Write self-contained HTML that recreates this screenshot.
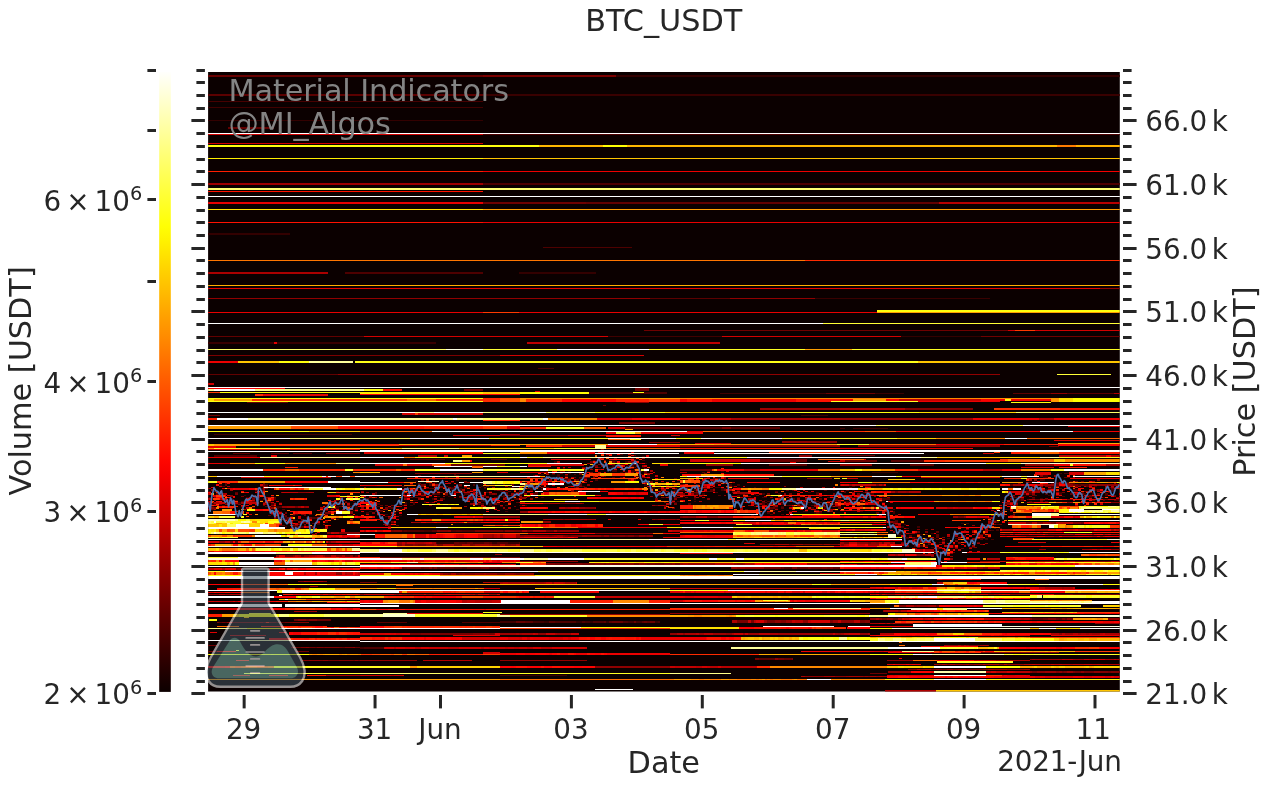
<!DOCTYPE html>
<html lang="en"><head><meta charset="utf-8"><title>BTC_USDT</title>
<style>html,body{margin:0;padding:0;background:#fff}svg{display:block}text{font-family:"DejaVu Sans","Liberation Sans",sans-serif;fill:#262626}svg{will-change:transform}</style></head><body>
<svg width="1270" height="788" viewBox="0 0 1270 788">
<rect width="1270" height="788" fill="#fff"/>
<defs><linearGradient id="cb" gradientUnits="userSpaceOnUse" x1="0" y1="70.3" x2="0" y2="693.4"><stop offset="0.0000" stop-color="#ffffff"/><stop offset="0.0250" stop-color="#ffffe6"/><stop offset="0.0500" stop-color="#ffffcd"/><stop offset="0.0750" stop-color="#ffffb4"/><stop offset="0.1000" stop-color="#ffff9b"/><stop offset="0.1250" stop-color="#ffff81"/><stop offset="0.1500" stop-color="#ffff68"/><stop offset="0.1750" stop-color="#ffff4f"/><stop offset="0.2000" stop-color="#ffff36"/><stop offset="0.2250" stop-color="#ffff1d"/><stop offset="0.2500" stop-color="#ffff04"/><stop offset="0.2750" stop-color="#fff100"/><stop offset="0.3000" stop-color="#ffe000"/><stop offset="0.3250" stop-color="#ffcf00"/><stop offset="0.3500" stop-color="#ffbf00"/><stop offset="0.3750" stop-color="#ffae00"/><stop offset="0.4000" stop-color="#ff9d00"/><stop offset="0.4250" stop-color="#ff8d00"/><stop offset="0.4500" stop-color="#ff7c00"/><stop offset="0.4750" stop-color="#ff6b00"/><stop offset="0.5000" stop-color="#ff5a00"/><stop offset="0.5250" stop-color="#ff4a00"/><stop offset="0.5500" stop-color="#ff3900"/><stop offset="0.5750" stop-color="#ff2800"/><stop offset="0.6000" stop-color="#ff1700"/><stop offset="0.6250" stop-color="#ff0700"/><stop offset="0.6500" stop-color="#f50000"/><stop offset="0.6750" stop-color="#e40000"/><stop offset="0.7000" stop-color="#d30000"/><stop offset="0.7250" stop-color="#c30000"/><stop offset="0.7500" stop-color="#b20000"/><stop offset="0.7750" stop-color="#a10000"/><stop offset="0.8000" stop-color="#900000"/><stop offset="0.8250" stop-color="#800000"/><stop offset="0.8500" stop-color="#6f0000"/><stop offset="0.8750" stop-color="#5e0000"/><stop offset="0.9000" stop-color="#4e0000"/><stop offset="0.9250" stop-color="#3d0000"/><stop offset="0.9500" stop-color="#2c0000"/><stop offset="0.9750" stop-color="#1b0000"/><stop offset="1.0000" stop-color="#0b0000"/></linearGradient>
<clipPath id="hm"><rect x="208.1" y="71.9" width="911.7" height="619.7"/></clipPath></defs>
<rect x="159.2" y="72.0" width="11.6" height="619.9" fill="url(#cb)"/>
<line x1="147.4" x2="156" y1="693.50" y2="693.50" stroke="#262626" stroke-width="3"/>
<line x1="147.4" x2="156" y1="511.50" y2="511.50" stroke="#262626" stroke-width="3"/>
<line x1="147.4" x2="156" y1="381.50" y2="381.50" stroke="#262626" stroke-width="3"/>
<line x1="147.4" x2="156" y1="281.50" y2="281.50" stroke="#262626" stroke-width="3"/>
<line x1="147.4" x2="156" y1="199.50" y2="199.50" stroke="#262626" stroke-width="3"/>
<line x1="147.4" x2="156" y1="130.50" y2="130.50" stroke="#262626" stroke-width="3"/>
<line x1="147.4" x2="156" y1="70.50" y2="70.50" stroke="#262626" stroke-width="3"/>
<text x="43.6" y="704.4" font-size="27.8">2<tspan dx="5.0">×</tspan><tspan dx="5.0">10</tspan><tspan font-size="19.3" dy="-10.4">6</tspan></text>
<text x="43.6" y="522.2" font-size="27.8">3<tspan dx="5.0">×</tspan><tspan dx="5.0">10</tspan><tspan font-size="19.3" dy="-10.4">6</tspan></text>
<text x="43.6" y="392.8" font-size="27.8">4<tspan dx="5.0">×</tspan><tspan dx="5.0">10</tspan><tspan font-size="19.3" dy="-10.4">6</tspan></text>
<text x="43.6" y="210.6" font-size="27.8">6<tspan dx="5.0">×</tspan><tspan dx="5.0">10</tspan><tspan font-size="19.3" dy="-10.4">6</tspan></text>
<text transform="translate(31.4,380.9) rotate(-90)" text-anchor="middle" font-size="30.3">Volume [USDT]</text>
<g clip-path="url(#hm)" shape-rendering="crispEdges">
<rect x="208.1" y="71.9" width="911.7" height="619.7" fill="#0b0000"/>
<path fill="#400000" d="M208.1 497.09h2.8v1.3H208.1zM210.8 494.55h2.8v1.3H210.8zM210.8 503.46h2.8v1.3H210.8zM210.8 506.00h2.8v1.3H210.8zM216.3 495.82h2.8v1.3H216.3zM219.0 484.36h2.8v1.3H219.0zM221.7 508.55h2.8v1.3H221.7zM227.2 504.73h2.8v1.3H227.2zM229.9 500.91h2.8v1.3H229.9zM229.9 502.19h2.8v1.3H229.9zM235.4 499.64h2.8v1.3H235.4zM235.4 503.46h2.8v1.3H235.4zM240.8 507.28h2.8v1.3H240.8zM243.6 494.55h2.8v1.3H243.6zM243.6 500.91h2.8v1.3H243.6zM243.6 506.00h2.8v1.3H243.6zM246.3 497.09h2.8v1.3H246.3zM251.7 507.28h2.8v1.3H251.7zM254.5 490.73h2.8v1.3H254.5zM254.5 504.73h2.8v1.3H254.5zM257.2 498.37h2.8v1.3H257.2zM259.9 492.00h2.8v1.3H259.9zM262.6 481.82h2.8v1.3H262.6zM270.8 488.18h2.8v1.3H270.8zM270.8 495.82h2.8v1.3H270.8zM270.8 506.00h2.8v1.3H270.8zM273.6 509.82h2.8v1.3H273.6zM273.6 522.55h2.8v1.3H273.6zM276.3 507.28h2.8v1.3H276.3zM276.3 516.19h2.8v1.3H276.3zM276.3 517.46h2.8v1.3H276.3zM279.0 502.19h2.8v1.3H279.0zM279.0 511.10h2.8v1.3H279.0zM279.0 513.64h2.8v1.3H279.0zM281.7 516.19h2.8v1.3H281.7zM284.5 517.46h2.8v1.3H284.5zM284.5 526.37h2.8v1.3H284.5zM287.2 520.01h2.8v1.3H287.2zM292.6 514.91h2.8v1.3H292.6zM292.6 528.92h2.8v1.3H292.6zM298.1 522.55h2.8v1.3H298.1zM309.0 526.37h2.8v1.3H309.0zM309.0 527.64h2.8v1.3H309.0zM314.5 517.46h2.8v1.3H314.5zM314.5 521.28h2.8v1.3H314.5zM314.5 535.28h2.8v1.3H314.5zM317.2 523.83h2.8v1.3H317.2zM319.9 516.19h2.8v1.3H319.9zM328.1 506.00h2.8v1.3H328.1zM328.1 508.55h2.8v1.3H328.1zM330.8 502.19h2.8v1.3H330.8zM330.8 503.46h2.8v1.3H330.8zM330.8 507.28h2.8v1.3H330.8zM336.3 490.73h2.8v1.3H336.3zM336.3 506.00h2.8v1.3H336.3zM336.3 507.28h2.8v1.3H336.3zM339.0 512.37h2.8v1.3H339.0zM347.2 502.19h2.8v1.3H347.2zM347.2 511.10h2.8v1.3H347.2zM349.9 516.19h2.8v1.3H349.9zM349.9 520.01h2.8v1.3H349.9zM355.4 504.73h2.8v1.3H355.4zM355.4 506.00h2.8v1.3H355.4zM355.4 507.28h2.8v1.3H355.4zM355.4 511.10h2.8v1.3H355.4zM355.4 514.91h2.8v1.3H355.4zM358.1 504.73h2.8v1.3H358.1zM363.5 497.09h2.8v1.3H363.5zM363.5 500.91h2.8v1.3H363.5zM363.5 516.19h2.8v1.3H363.5zM366.3 504.73h2.8v1.3H366.3zM366.3 512.37h2.8v1.3H366.3zM369.0 511.10h2.8v1.3H369.0zM374.5 508.55h2.8v1.3H374.5zM374.5 509.82h2.8v1.3H374.5zM377.2 503.46h2.8v1.3H377.2zM377.2 514.91h2.8v1.3H377.2zM385.4 513.64h2.8v1.3H385.4zM385.4 518.73h2.8v1.3H385.4zM388.1 507.28h2.8v1.3H388.1zM388.1 525.10h2.8v1.3H388.1zM390.8 513.64h2.8v1.3H390.8zM390.8 522.55h2.8v1.3H390.8zM393.5 508.55h2.8v1.3H393.5zM393.5 522.55h2.8v1.3H393.5zM396.3 511.10h2.8v1.3H396.3zM399.0 502.19h2.8v1.3H399.0zM399.0 503.46h2.8v1.3H399.0zM399.0 514.91h2.8v1.3H399.0zM401.7 485.64h2.8v1.3H401.7zM404.4 502.19h2.8v1.3H404.4zM404.4 503.46h2.8v1.3H404.4zM409.9 504.73h2.8v1.3H409.9zM415.4 480.54h2.8v1.3H415.4zM415.4 493.27h2.8v1.3H415.4zM415.4 499.64h2.8v1.3H415.4zM418.1 484.36h2.8v1.3H418.1zM420.8 492.00h2.8v1.3H420.8zM420.8 493.27h2.8v1.3H420.8zM420.8 495.82h2.8v1.3H420.8zM423.5 500.91h2.8v1.3H423.5zM429.0 483.09h2.8v1.3H429.0zM429.0 490.73h2.8v1.3H429.0zM431.7 485.64h2.8v1.3H431.7zM431.7 498.37h2.8v1.3H431.7zM434.4 481.82h2.8v1.3H434.4zM442.6 498.37h2.8v1.3H442.6zM445.4 478.00h2.8v1.3H445.4zM445.4 494.55h2.8v1.3H445.4zM448.1 495.82h2.8v1.3H448.1zM450.8 486.91h2.8v1.3H450.8zM450.8 489.45h2.8v1.3H450.8zM453.5 475.45h2.8v1.3H453.5zM456.3 484.36h2.8v1.3H456.3zM456.3 485.64h2.8v1.3H456.3zM459.0 485.64h2.8v1.3H459.0zM459.0 488.18h2.8v1.3H459.0zM464.4 488.18h2.8v1.3H464.4zM472.6 502.19h2.8v1.3H472.6zM475.4 493.27h2.8v1.3H475.4zM475.4 508.55h2.8v1.3H475.4zM478.1 492.00h2.8v1.3H478.1zM478.1 500.91h2.8v1.3H478.1zM478.1 506.00h2.8v1.3H478.1zM480.8 483.09h2.8v1.3H480.8zM480.8 485.64h2.8v1.3H480.8zM480.8 499.64h2.8v1.3H480.8zM480.8 500.91h2.8v1.3H480.8zM483.5 488.18h2.8v1.3H483.5zM483.5 495.82h2.8v1.3H483.5zM486.3 500.91h2.8v1.3H486.3zM489.0 490.73h2.8v1.3H489.0zM489.0 497.09h2.8v1.3H489.0zM489.0 503.46h2.8v1.3H489.0zM489.0 504.73h2.8v1.3H489.0zM494.4 500.91h2.8v1.3H494.4zM494.4 502.19h2.8v1.3H494.4zM494.4 507.28h2.8v1.3H494.4zM497.2 495.82h2.8v1.3H497.2zM497.2 503.46h2.8v1.3H497.2zM499.9 489.45h2.8v1.3H499.9zM499.9 490.73h2.8v1.3H499.9zM505.4 504.73h2.8v1.3H505.4zM505.4 511.10h2.8v1.3H505.4zM508.1 486.91h2.8v1.3H508.1zM508.1 497.09h2.8v1.3H508.1zM510.8 486.91h2.8v1.3H510.8zM513.5 492.00h2.8v1.3H513.5zM513.5 495.82h2.8v1.3H513.5zM513.5 498.37h2.8v1.3H513.5zM519.0 483.09h2.8v1.3H519.0zM519.0 494.55h2.8v1.3H519.0zM519.0 497.09h2.8v1.3H519.0zM519.0 504.73h2.8v1.3H519.0zM521.7 484.36h2.8v1.3H521.7zM521.7 489.45h2.8v1.3H521.7zM521.7 492.00h2.8v1.3H521.7zM524.4 490.73h2.8v1.3H524.4zM524.4 495.82h2.8v1.3H524.4zM524.4 504.73h2.8v1.3H524.4zM529.9 488.18h2.8v1.3H529.9zM532.6 485.64h2.8v1.3H532.6zM538.1 471.63h2.8v1.3H538.1zM538.1 475.45h2.8v1.3H538.1zM540.8 474.18h2.8v1.3H540.8zM540.8 476.72h2.8v1.3H540.8zM543.5 476.72h2.8v1.3H543.5zM543.5 489.45h2.8v1.3H543.5zM546.3 470.36h2.8v1.3H546.3zM546.3 481.82h2.8v1.3H546.3zM549.0 469.09h2.8v1.3H549.0zM551.7 474.18h2.8v1.3H551.7zM554.4 461.45h2.8v1.3H554.4zM557.2 474.18h2.8v1.3H557.2zM557.2 475.45h2.8v1.3H557.2zM557.2 480.54h2.8v1.3H557.2zM559.9 483.09h2.8v1.3H559.9zM565.3 469.09h2.8v1.3H565.3zM568.1 470.36h2.8v1.3H568.1zM570.8 481.82h2.8v1.3H570.8zM570.8 483.09h2.8v1.3H570.8zM573.5 490.73h2.8v1.3H573.5zM576.3 485.64h2.8v1.3H576.3zM579.0 478.00h2.8v1.3H579.0zM579.0 490.73h2.8v1.3H579.0zM589.9 462.72h2.8v1.3H589.9zM589.9 466.54h2.8v1.3H589.9zM592.6 460.18h2.8v1.3H592.6zM592.6 464.00h2.8v1.3H592.6zM592.6 465.27h2.8v1.3H592.6zM609.0 466.54h2.8v1.3H609.0zM611.7 460.18h2.8v1.3H611.7zM611.7 465.27h2.8v1.3H611.7zM611.7 466.54h2.8v1.3H611.7zM611.7 470.36h2.8v1.3H611.7zM614.4 460.18h2.8v1.3H614.4zM614.4 461.45h2.8v1.3H614.4zM614.4 470.36h2.8v1.3H614.4zM619.9 471.63h2.8v1.3H619.9zM625.3 461.45h2.8v1.3H625.3zM625.3 478.00h2.8v1.3H625.3zM628.1 462.72h2.8v1.3H628.1zM630.8 458.90h2.8v1.3H630.8zM630.8 462.72h2.8v1.3H630.8zM630.8 470.36h2.8v1.3H630.8zM633.5 461.45h2.8v1.3H633.5zM633.5 470.36h2.8v1.3H633.5zM636.3 475.45h2.8v1.3H636.3zM641.7 456.36h2.8v1.3H641.7zM641.7 460.18h2.8v1.3H641.7zM641.7 466.54h2.8v1.3H641.7zM641.7 474.18h2.8v1.3H641.7zM644.4 462.72h2.8v1.3H644.4zM644.4 484.36h2.8v1.3H644.4zM647.2 475.45h2.8v1.3H647.2zM647.2 478.00h2.8v1.3H647.2zM647.2 488.18h2.8v1.3H647.2zM649.9 485.64h2.8v1.3H649.9zM649.9 486.91h2.8v1.3H649.9zM652.6 485.64h2.8v1.3H652.6zM652.6 486.91h2.8v1.3H652.6zM652.6 488.18h2.8v1.3H652.6zM655.3 494.55h2.8v1.3H655.3zM658.1 478.00h2.8v1.3H658.1zM658.1 485.64h2.8v1.3H658.1zM663.5 494.55h2.8v1.3H663.5zM669.0 493.27h2.8v1.3H669.0zM669.0 494.55h2.8v1.3H669.0zM669.0 495.82h2.8v1.3H669.0zM669.0 511.10h2.8v1.3H669.0zM674.4 489.45h2.8v1.3H674.4zM674.4 490.73h2.8v1.3H674.4zM674.4 502.19h2.8v1.3H674.4zM677.2 489.45h2.8v1.3H677.2zM677.2 500.91h2.8v1.3H677.2zM679.9 479.27h2.8v1.3H679.9zM685.3 479.27h2.8v1.3H685.3zM685.3 485.64h2.8v1.3H685.3zM688.1 488.18h2.8v1.3H688.1zM693.5 478.00h2.8v1.3H693.5zM693.5 489.45h2.8v1.3H693.5zM693.5 493.27h2.8v1.3H693.5zM693.5 498.37h2.8v1.3H693.5zM693.5 500.91h2.8v1.3H693.5zM696.2 474.18h2.8v1.3H696.2zM696.2 488.18h2.8v1.3H696.2zM699.0 481.82h2.8v1.3H699.0zM701.7 485.64h2.8v1.3H701.7zM701.7 488.18h2.8v1.3H701.7zM701.7 493.27h2.8v1.3H701.7zM704.4 481.82h2.8v1.3H704.4zM707.2 481.82h2.8v1.3H707.2zM709.9 485.64h2.8v1.3H709.9zM712.6 488.18h2.8v1.3H712.6zM715.3 474.18h2.8v1.3H715.3zM715.3 481.82h2.8v1.3H715.3zM715.3 483.09h2.8v1.3H715.3zM715.3 486.91h2.8v1.3H715.3zM718.1 469.09h2.8v1.3H718.1zM718.1 486.91h2.8v1.3H718.1zM720.8 470.36h2.8v1.3H720.8zM720.8 481.82h2.8v1.3H720.8zM720.8 488.18h2.8v1.3H720.8zM720.8 489.45h2.8v1.3H720.8zM723.5 479.27h2.8v1.3H723.5zM723.5 488.18h2.8v1.3H723.5zM729.0 484.36h2.8v1.3H729.0zM729.0 488.18h2.8v1.3H729.0zM731.7 485.64h2.8v1.3H731.7zM731.7 490.73h2.8v1.3H731.7zM734.4 492.00h2.8v1.3H734.4zM737.2 484.36h2.8v1.3H737.2zM737.2 486.91h2.8v1.3H737.2zM737.2 511.10h2.8v1.3H737.2zM739.9 493.27h2.8v1.3H739.9zM745.3 493.27h2.8v1.3H745.3zM745.3 499.64h2.8v1.3H745.3zM753.5 486.91h2.8v1.3H753.5zM756.2 504.73h2.8v1.3H756.2zM761.7 493.27h2.8v1.3H761.7zM761.7 497.09h2.8v1.3H761.7zM764.4 497.09h2.8v1.3H764.4zM764.4 499.64h2.8v1.3H764.4zM767.2 503.46h2.8v1.3H767.2zM767.2 504.73h2.8v1.3H767.2zM767.2 512.37h2.8v1.3H767.2zM769.9 508.55h2.8v1.3H769.9zM775.3 500.91h2.8v1.3H775.3zM775.3 507.28h2.8v1.3H775.3zM778.1 493.27h2.8v1.3H778.1zM778.1 497.09h2.8v1.3H778.1zM780.8 503.46h2.8v1.3H780.8zM780.8 506.00h2.8v1.3H780.8zM786.2 509.82h2.8v1.3H786.2zM794.4 500.91h2.8v1.3H794.4zM802.6 511.10h2.8v1.3H802.6zM805.3 503.46h2.8v1.3H805.3zM808.1 492.00h2.8v1.3H808.1zM810.8 507.28h2.8v1.3H810.8zM813.5 512.37h2.8v1.3H813.5zM816.2 492.00h2.8v1.3H816.2zM821.7 499.64h2.8v1.3H821.7zM824.4 508.55h2.8v1.3H824.4zM827.1 504.73h2.8v1.3H827.1zM829.9 495.82h2.8v1.3H829.9zM829.9 504.73h2.8v1.3H829.9zM832.6 489.45h2.8v1.3H832.6zM832.6 499.64h2.8v1.3H832.6zM835.3 500.91h2.8v1.3H835.3zM835.3 509.82h2.8v1.3H835.3zM838.1 490.73h2.8v1.3H838.1zM838.1 498.37h2.8v1.3H838.1zM840.8 489.45h2.8v1.3H840.8zM840.8 500.91h2.8v1.3H840.8zM840.8 503.46h2.8v1.3H840.8zM846.2 500.91h2.8v1.3H846.2zM851.7 485.64h2.8v1.3H851.7zM851.7 497.09h2.8v1.3H851.7zM854.4 494.55h2.8v1.3H854.4zM854.4 497.09h2.8v1.3H854.4zM857.1 500.91h2.8v1.3H857.1zM859.9 504.73h2.8v1.3H859.9zM859.9 511.10h2.8v1.3H859.9zM865.3 498.37h2.8v1.3H865.3zM868.1 493.27h2.8v1.3H868.1zM868.1 507.28h2.8v1.3H868.1zM870.8 506.00h2.8v1.3H870.8zM876.2 499.64h2.8v1.3H876.2zM881.7 502.19h2.8v1.3H881.7zM887.1 511.10h2.8v1.3H887.1zM887.1 513.64h2.8v1.3H887.1zM889.9 509.82h2.8v1.3H889.9zM892.6 512.37h2.8v1.3H892.6zM892.6 516.19h2.8v1.3H892.6zM895.3 525.10h2.8v1.3H895.3zM898.1 531.46h2.8v1.3H898.1zM898.1 534.01h2.8v1.3H898.1zM900.8 522.55h2.8v1.3H900.8zM900.8 526.37h2.8v1.3H900.8zM900.8 530.19h2.8v1.3H900.8zM903.5 523.83h2.8v1.3H903.5zM903.5 536.56h2.8v1.3H903.5zM903.5 537.83h2.8v1.3H903.5zM906.2 537.83h2.8v1.3H906.2zM911.7 544.19h2.8v1.3H911.7zM914.4 532.74h2.8v1.3H914.4zM914.4 536.56h2.8v1.3H914.4zM914.4 537.83h2.8v1.3H914.4zM917.1 526.37h2.8v1.3H917.1zM917.1 536.56h2.8v1.3H917.1zM917.1 541.65h2.8v1.3H917.1zM917.1 551.83h2.8v1.3H917.1zM919.9 534.01h2.8v1.3H919.9zM919.9 541.65h2.8v1.3H919.9zM928.1 542.92h2.8v1.3H928.1zM930.8 532.74h2.8v1.3H930.8zM930.8 546.74h2.8v1.3H930.8zM930.8 554.38h2.8v1.3H930.8zM933.5 537.83h2.8v1.3H933.5zM933.5 546.74h2.8v1.3H933.5zM936.2 549.29h2.8v1.3H936.2zM939.0 541.65h2.8v1.3H939.0zM941.7 544.19h2.8v1.3H941.7zM941.7 549.29h2.8v1.3H941.7zM947.1 537.83h2.8v1.3H947.1zM949.9 549.29h2.8v1.3H949.9zM952.6 546.74h2.8v1.3H952.6zM955.3 531.46h2.8v1.3H955.3zM960.8 522.55h2.8v1.3H960.8zM963.5 539.10h2.8v1.3H963.5zM966.2 522.55h2.8v1.3H966.2zM971.7 541.65h2.8v1.3H971.7zM974.4 534.01h2.8v1.3H974.4zM982.6 530.19h2.8v1.3H982.6zM985.3 517.46h2.8v1.3H985.3zM985.3 535.28h2.8v1.3H985.3zM985.3 539.10h2.8v1.3H985.3zM988.0 536.56h2.8v1.3H988.0zM990.8 530.19h2.8v1.3H990.8zM990.8 539.10h2.8v1.3H990.8zM993.5 526.37h2.8v1.3H993.5zM993.5 527.64h2.8v1.3H993.5zM996.2 512.37h2.8v1.3H996.2zM996.2 528.92h2.8v1.3H996.2zM996.2 530.19h2.8v1.3H996.2zM999.0 512.37h2.8v1.3H999.0zM999.0 516.19h2.8v1.3H999.0zM999.0 527.64h2.8v1.3H999.0zM1001.7 499.64h2.8v1.3H1001.7zM1004.4 497.09h2.8v1.3H1004.4zM1007.1 490.73h2.8v1.3H1007.1zM1007.1 508.55h2.8v1.3H1007.1zM1012.6 486.91h2.8v1.3H1012.6zM1012.6 502.19h2.8v1.3H1012.6zM1012.6 512.37h2.8v1.3H1012.6zM1018.0 499.64h2.8v1.3H1018.0zM1018.0 506.00h2.8v1.3H1018.0zM1023.5 484.36h2.8v1.3H1023.5zM1023.5 493.27h2.8v1.3H1023.5zM1023.5 495.82h2.8v1.3H1023.5zM1026.2 486.91h2.8v1.3H1026.2zM1026.2 489.45h2.8v1.3H1026.2zM1026.2 494.55h2.8v1.3H1026.2zM1029.0 493.27h2.8v1.3H1029.0zM1029.0 500.91h2.8v1.3H1029.0zM1031.7 480.54h2.8v1.3H1031.7zM1031.7 498.37h2.8v1.3H1031.7zM1039.9 474.18h2.8v1.3H1039.9zM1039.9 498.37h2.8v1.3H1039.9zM1042.6 475.45h2.8v1.3H1042.6zM1042.6 476.72h2.8v1.3H1042.6zM1042.6 479.27h2.8v1.3H1042.6zM1042.6 499.64h2.8v1.3H1042.6zM1045.3 475.45h2.8v1.3H1045.3zM1045.3 484.36h2.8v1.3H1045.3zM1045.3 489.45h2.8v1.3H1045.3zM1048.0 492.00h2.8v1.3H1048.0zM1048.0 494.55h2.8v1.3H1048.0zM1053.5 481.82h2.8v1.3H1053.5zM1053.5 500.91h2.8v1.3H1053.5zM1056.2 481.82h2.8v1.3H1056.2zM1056.2 490.73h2.8v1.3H1056.2zM1059.0 472.91h2.8v1.3H1059.0zM1059.0 485.64h2.8v1.3H1059.0zM1059.0 492.00h2.8v1.3H1059.0zM1061.7 484.36h2.8v1.3H1061.7zM1061.7 495.82h2.8v1.3H1061.7zM1072.6 489.45h2.8v1.3H1072.6zM1075.3 490.73h2.8v1.3H1075.3zM1083.5 493.27h2.8v1.3H1083.5zM1086.2 497.09h2.8v1.3H1086.2zM1086.2 504.73h2.8v1.3H1086.2zM1088.9 497.09h2.8v1.3H1088.9zM1091.7 492.00h2.8v1.3H1091.7zM1094.4 485.64h2.8v1.3H1094.4zM1094.4 489.45h2.8v1.3H1094.4zM1097.1 502.19h2.8v1.3H1097.1zM1102.6 497.09h2.8v1.3H1102.6zM1105.3 494.55h2.8v1.3H1105.3zM1110.8 490.73h2.8v1.3H1110.8zM1110.8 502.19h2.8v1.3H1110.8zM1113.5 489.45h2.8v1.3H1113.5zM1116.2 499.64h2.8v1.3H1116.2z"/>
<path fill="#4e0000" d="M208.1 490.73h2.8v1.3H208.1zM208.1 509.82h2.8v1.3H208.1zM221.7 504.73h2.8v1.3H221.7zM229.9 498.37h2.8v1.3H229.9zM240.8 500.91h2.8v1.3H240.8zM246.3 508.55h2.8v1.3H246.3zM254.5 500.91h2.8v1.3H254.5zM259.9 488.18h2.8v1.3H259.9zM259.9 489.45h2.8v1.3H259.9zM259.9 499.64h2.8v1.3H259.9zM265.4 484.36h2.8v1.3H265.4zM265.4 506.00h2.8v1.3H265.4zM270.8 503.46h2.8v1.3H270.8zM273.6 498.37h2.8v1.3H273.6zM273.6 513.64h2.8v1.3H273.6zM281.7 508.55h2.8v1.3H281.7zM281.7 514.91h2.8v1.3H281.7zM287.2 518.73h2.8v1.3H287.2zM289.9 530.19h2.8v1.3H289.9zM292.6 518.73h2.8v1.3H292.6zM292.6 526.37h2.8v1.3H292.6zM295.4 513.64h2.8v1.3H295.4zM295.4 520.01h2.8v1.3H295.4zM295.4 526.37h2.8v1.3H295.4zM298.1 527.64h2.8v1.3H298.1zM300.8 522.55h2.8v1.3H300.8zM303.5 520.01h2.8v1.3H303.5zM306.3 517.46h2.8v1.3H306.3zM306.3 520.01h2.8v1.3H306.3zM311.7 517.46h2.8v1.3H311.7zM317.2 514.91h2.8v1.3H317.2zM319.9 509.82h2.8v1.3H319.9zM322.6 514.91h2.8v1.3H322.6zM322.6 527.64h2.8v1.3H322.6zM325.4 513.64h2.8v1.3H325.4zM330.8 504.73h2.8v1.3H330.8zM330.8 518.73h2.8v1.3H330.8zM333.5 506.00h2.8v1.3H333.5zM333.5 512.37h2.8v1.3H333.5zM336.3 518.73h2.8v1.3H336.3zM339.0 506.00h2.8v1.3H339.0zM341.7 497.09h2.8v1.3H341.7zM347.2 495.82h2.8v1.3H347.2zM347.2 520.01h2.8v1.3H347.2zM352.6 500.91h2.8v1.3H352.6zM352.6 509.82h2.8v1.3H352.6zM358.1 500.91h2.8v1.3H358.1zM363.5 498.37h2.8v1.3H363.5zM371.7 500.91h2.8v1.3H371.7zM377.2 506.00h2.8v1.3H377.2zM379.9 511.10h2.8v1.3H379.9zM379.9 516.19h2.8v1.3H379.9zM382.6 530.19h2.8v1.3H382.6zM385.4 516.19h2.8v1.3H385.4zM388.1 523.83h2.8v1.3H388.1zM390.8 507.28h2.8v1.3H390.8zM393.5 512.37h2.8v1.3H393.5zM393.5 514.91h2.8v1.3H393.5zM407.2 497.09h2.8v1.3H407.2zM412.6 503.46h2.8v1.3H412.6zM420.8 488.18h2.8v1.3H420.8zM426.3 488.18h2.8v1.3H426.3zM429.0 484.36h2.8v1.3H429.0zM429.0 488.18h2.8v1.3H429.0zM429.0 495.82h2.8v1.3H429.0zM429.0 502.19h2.8v1.3H429.0zM434.4 493.27h2.8v1.3H434.4zM437.2 493.27h2.8v1.3H437.2zM437.2 495.82h2.8v1.3H437.2zM448.1 481.82h2.8v1.3H448.1zM450.8 481.82h2.8v1.3H450.8zM450.8 493.27h2.8v1.3H450.8zM456.3 479.27h2.8v1.3H456.3zM456.3 490.73h2.8v1.3H456.3zM459.0 489.45h2.8v1.3H459.0zM461.7 494.55h2.8v1.3H461.7zM464.4 493.27h2.8v1.3H464.4zM464.4 498.37h2.8v1.3H464.4zM467.2 493.27h2.8v1.3H467.2zM469.9 489.45h2.8v1.3H469.9zM472.6 484.36h2.8v1.3H472.6zM478.1 493.27h2.8v1.3H478.1zM478.1 503.46h2.8v1.3H478.1zM480.8 503.46h2.8v1.3H480.8zM483.5 500.91h2.8v1.3H483.5zM486.3 492.00h2.8v1.3H486.3zM489.0 498.37h2.8v1.3H489.0zM491.7 513.64h2.8v1.3H491.7zM494.4 489.45h2.8v1.3H494.4zM499.9 495.82h2.8v1.3H499.9zM499.9 506.00h2.8v1.3H499.9zM502.6 484.36h2.8v1.3H502.6zM502.6 495.82h2.8v1.3H502.6zM502.6 497.09h2.8v1.3H502.6zM516.3 508.55h2.8v1.3H516.3zM521.7 486.91h2.8v1.3H521.7zM521.7 490.73h2.8v1.3H521.7zM524.4 486.91h2.8v1.3H524.4zM529.9 489.45h2.8v1.3H529.9zM538.1 480.54h2.8v1.3H538.1zM540.8 497.09h2.8v1.3H540.8zM546.3 486.91h2.8v1.3H546.3zM554.4 478.00h2.8v1.3H554.4zM565.3 475.45h2.8v1.3H565.3zM568.1 472.91h2.8v1.3H568.1zM568.1 478.00h2.8v1.3H568.1zM573.5 474.18h2.8v1.3H573.5zM573.5 486.91h2.8v1.3H573.5zM581.7 485.64h2.8v1.3H581.7zM584.4 466.54h2.8v1.3H584.4zM595.3 479.27h2.8v1.3H595.3zM598.1 460.18h2.8v1.3H598.1zM603.5 465.27h2.8v1.3H603.5zM603.5 474.18h2.8v1.3H603.5zM606.3 456.36h2.8v1.3H606.3zM609.0 460.18h2.8v1.3H609.0zM609.0 469.09h2.8v1.3H609.0zM611.7 458.90h2.8v1.3H611.7zM611.7 476.72h2.8v1.3H611.7zM614.4 462.72h2.8v1.3H614.4zM614.4 472.91h2.8v1.3H614.4zM619.9 453.81h2.8v1.3H619.9zM619.9 472.91h2.8v1.3H619.9zM622.6 469.09h2.8v1.3H622.6zM628.1 465.27h2.8v1.3H628.1zM630.8 457.63h2.8v1.3H630.8zM630.8 465.27h2.8v1.3H630.8zM633.5 458.90h2.8v1.3H633.5zM633.5 476.72h2.8v1.3H633.5zM636.3 467.81h2.8v1.3H636.3zM636.3 469.09h2.8v1.3H636.3zM639.0 470.36h2.8v1.3H639.0zM655.3 483.09h2.8v1.3H655.3zM655.3 484.36h2.8v1.3H655.3zM655.3 490.73h2.8v1.3H655.3zM663.5 492.00h2.8v1.3H663.5zM663.5 497.09h2.8v1.3H663.5zM671.7 499.64h2.8v1.3H671.7zM671.7 502.19h2.8v1.3H671.7zM677.2 481.82h2.8v1.3H677.2zM679.9 497.09h2.8v1.3H679.9zM682.6 486.91h2.8v1.3H682.6zM682.6 489.45h2.8v1.3H682.6zM685.3 486.91h2.8v1.3H685.3zM688.1 503.46h2.8v1.3H688.1zM696.2 484.36h2.8v1.3H696.2zM699.0 483.09h2.8v1.3H699.0zM699.0 486.91h2.8v1.3H699.0zM701.7 471.63h2.8v1.3H701.7zM701.7 480.54h2.8v1.3H701.7zM701.7 481.82h2.8v1.3H701.7zM704.4 488.18h2.8v1.3H704.4zM707.2 474.18h2.8v1.3H707.2zM707.2 490.73h2.8v1.3H707.2zM709.9 489.45h2.8v1.3H709.9zM712.6 490.73h2.8v1.3H712.6zM715.3 492.00h2.8v1.3H715.3zM718.1 494.55h2.8v1.3H718.1zM726.2 481.82h2.8v1.3H726.2zM726.2 486.91h2.8v1.3H726.2zM737.2 489.45h2.8v1.3H737.2zM739.9 503.46h2.8v1.3H739.9zM745.3 508.55h2.8v1.3H745.3zM748.1 492.00h2.8v1.3H748.1zM750.8 514.91h2.8v1.3H750.8zM753.5 493.27h2.8v1.3H753.5zM753.5 506.00h2.8v1.3H753.5zM761.7 502.19h2.8v1.3H761.7zM761.7 503.46h2.8v1.3H761.7zM761.7 511.10h2.8v1.3H761.7zM767.2 500.91h2.8v1.3H767.2zM767.2 516.19h2.8v1.3H767.2zM769.9 513.64h2.8v1.3H769.9zM775.3 490.73h2.8v1.3H775.3zM778.1 494.55h2.8v1.3H778.1zM778.1 502.19h2.8v1.3H778.1zM780.8 494.55h2.8v1.3H780.8zM780.8 509.82h2.8v1.3H780.8zM780.8 513.64h2.8v1.3H780.8zM786.2 504.73h2.8v1.3H786.2zM789.0 514.91h2.8v1.3H789.0zM791.7 489.45h2.8v1.3H791.7zM791.7 498.37h2.8v1.3H791.7zM791.7 499.64h2.8v1.3H791.7zM791.7 500.91h2.8v1.3H791.7zM791.7 506.00h2.8v1.3H791.7zM794.4 499.64h2.8v1.3H794.4zM794.4 502.19h2.8v1.3H794.4zM794.4 513.64h2.8v1.3H794.4zM797.1 497.09h2.8v1.3H797.1zM797.1 506.00h2.8v1.3H797.1zM797.1 513.64h2.8v1.3H797.1zM802.6 502.19h2.8v1.3H802.6zM805.3 502.19h2.8v1.3H805.3zM805.3 511.10h2.8v1.3H805.3zM808.1 508.55h2.8v1.3H808.1zM810.8 504.73h2.8v1.3H810.8zM813.5 503.46h2.8v1.3H813.5zM816.2 493.27h2.8v1.3H816.2zM816.2 500.91h2.8v1.3H816.2zM819.0 512.37h2.8v1.3H819.0zM824.4 489.45h2.8v1.3H824.4zM824.4 507.28h2.8v1.3H824.4zM827.1 497.09h2.8v1.3H827.1zM827.1 513.64h2.8v1.3H827.1zM832.6 500.91h2.8v1.3H832.6zM832.6 503.46h2.8v1.3H832.6zM835.3 494.55h2.8v1.3H835.3zM849.0 486.91h2.8v1.3H849.0zM851.7 489.45h2.8v1.3H851.7zM857.1 488.18h2.8v1.3H857.1zM859.9 495.82h2.8v1.3H859.9zM859.9 502.19h2.8v1.3H859.9zM862.6 492.00h2.8v1.3H862.6zM862.6 495.82h2.8v1.3H862.6zM865.3 490.73h2.8v1.3H865.3zM868.1 485.64h2.8v1.3H868.1zM868.1 497.09h2.8v1.3H868.1zM870.8 493.27h2.8v1.3H870.8zM873.5 503.46h2.8v1.3H873.5zM876.2 504.73h2.8v1.3H876.2zM881.7 498.37h2.8v1.3H881.7zM884.4 498.37h2.8v1.3H884.4zM887.1 498.37h2.8v1.3H887.1zM892.6 508.55h2.8v1.3H892.6zM892.6 511.10h2.8v1.3H892.6zM895.3 520.01h2.8v1.3H895.3zM900.8 536.56h2.8v1.3H900.8zM903.5 532.74h2.8v1.3H903.5zM906.2 536.56h2.8v1.3H906.2zM909.0 541.65h2.8v1.3H909.0zM914.4 540.38h2.8v1.3H914.4zM919.9 545.47h2.8v1.3H919.9zM925.3 545.47h2.8v1.3H925.3zM936.2 544.19h2.8v1.3H936.2zM936.2 551.83h2.8v1.3H936.2zM936.2 554.38h2.8v1.3H936.2zM939.0 553.11h2.8v1.3H939.0zM947.1 548.01h2.8v1.3H947.1zM947.1 550.56h2.8v1.3H947.1zM947.1 559.47h2.8v1.3H947.1zM952.6 544.19h2.8v1.3H952.6zM952.6 545.47h2.8v1.3H952.6zM955.3 537.83h2.8v1.3H955.3zM963.5 537.83h2.8v1.3H963.5zM969.0 539.10h2.8v1.3H969.0zM971.7 546.74h2.8v1.3H971.7zM982.6 534.01h2.8v1.3H982.6zM982.6 537.83h2.8v1.3H982.6zM985.3 523.83h2.8v1.3H985.3zM985.3 537.83h2.8v1.3H985.3zM993.5 520.01h2.8v1.3H993.5zM996.2 521.28h2.8v1.3H996.2zM996.2 523.83h2.8v1.3H996.2zM999.0 511.10h2.8v1.3H999.0zM1001.7 514.91h2.8v1.3H1001.7zM1004.4 508.55h2.8v1.3H1004.4zM1009.9 499.64h2.8v1.3H1009.9zM1012.6 495.82h2.8v1.3H1012.6zM1012.6 499.64h2.8v1.3H1012.6zM1012.6 500.91h2.8v1.3H1012.6zM1015.3 497.09h2.8v1.3H1015.3zM1015.3 508.55h2.8v1.3H1015.3zM1018.0 498.37h2.8v1.3H1018.0zM1020.8 492.00h2.8v1.3H1020.8zM1020.8 495.82h2.8v1.3H1020.8zM1029.0 492.00h2.8v1.3H1029.0zM1034.4 492.00h2.8v1.3H1034.4zM1037.1 502.19h2.8v1.3H1037.1zM1039.9 479.27h2.8v1.3H1039.9zM1045.3 476.72h2.8v1.3H1045.3zM1045.3 493.27h2.8v1.3H1045.3zM1045.3 500.91h2.8v1.3H1045.3zM1048.0 488.18h2.8v1.3H1048.0zM1050.8 485.64h2.8v1.3H1050.8zM1050.8 486.91h2.8v1.3H1050.8zM1050.8 488.18h2.8v1.3H1050.8zM1053.5 485.64h2.8v1.3H1053.5zM1059.0 488.18h2.8v1.3H1059.0zM1059.0 493.27h2.8v1.3H1059.0zM1064.4 469.09h2.8v1.3H1064.4zM1064.4 472.91h2.8v1.3H1064.4zM1067.1 472.91h2.8v1.3H1067.1zM1067.1 476.72h2.8v1.3H1067.1zM1067.1 481.82h2.8v1.3H1067.1zM1069.9 478.00h2.8v1.3H1069.9zM1069.9 480.54h2.8v1.3H1069.9zM1072.6 483.09h2.8v1.3H1072.6zM1072.6 490.73h2.8v1.3H1072.6zM1072.6 497.09h2.8v1.3H1072.6zM1075.3 489.45h2.8v1.3H1075.3zM1080.8 499.64h2.8v1.3H1080.8zM1086.2 494.55h2.8v1.3H1086.2zM1091.7 493.27h2.8v1.3H1091.7zM1091.7 495.82h2.8v1.3H1091.7zM1105.3 488.18h2.8v1.3H1105.3zM1105.3 493.27h2.8v1.3H1105.3zM1108.0 486.91h2.8v1.3H1108.0zM1110.8 489.45h2.8v1.3H1110.8zM1113.5 484.36h2.8v1.3H1113.5zM1113.5 486.91h2.8v1.3H1113.5z"/>
<path fill="#5b0000" d="M208.1 507.28h2.8v1.3H208.1zM213.6 490.73h2.8v1.3H213.6zM216.3 490.73h2.8v1.3H216.3zM219.0 493.27h2.8v1.3H219.0zM219.0 495.82h2.8v1.3H219.0zM221.7 480.54h2.8v1.3H221.7zM221.7 485.64h2.8v1.3H221.7zM224.5 483.09h2.8v1.3H224.5zM224.5 484.36h2.8v1.3H224.5zM227.2 499.64h2.8v1.3H227.2zM235.4 492.00h2.8v1.3H235.4zM251.7 494.55h2.8v1.3H251.7zM251.7 497.09h2.8v1.3H251.7zM257.2 493.27h2.8v1.3H257.2zM259.9 485.64h2.8v1.3H259.9zM268.1 514.91h2.8v1.3H268.1zM270.8 513.64h2.8v1.3H270.8zM273.6 506.00h2.8v1.3H273.6zM273.6 512.37h2.8v1.3H273.6zM281.7 525.10h2.8v1.3H281.7zM281.7 528.92h2.8v1.3H281.7zM284.5 514.91h2.8v1.3H284.5zM289.9 516.19h2.8v1.3H289.9zM292.6 523.83h2.8v1.3H292.6zM300.8 526.37h2.8v1.3H300.8zM303.5 525.10h2.8v1.3H303.5zM311.7 522.55h2.8v1.3H311.7zM317.2 522.55h2.8v1.3H317.2zM322.6 507.28h2.8v1.3H322.6zM325.4 509.82h2.8v1.3H325.4zM339.0 497.09h2.8v1.3H339.0zM341.7 509.82h2.8v1.3H341.7zM344.5 500.91h2.8v1.3H344.5zM355.4 508.55h2.8v1.3H355.4zM360.8 499.64h2.8v1.3H360.8zM363.5 494.55h2.8v1.3H363.5zM366.3 498.37h2.8v1.3H366.3zM374.5 493.27h2.8v1.3H374.5zM374.5 507.28h2.8v1.3H374.5zM382.6 513.64h2.8v1.3H382.6zM396.3 525.10h2.8v1.3H396.3zM399.0 508.55h2.8v1.3H399.0zM401.7 493.27h2.8v1.3H401.7zM401.7 504.73h2.8v1.3H401.7zM404.4 497.09h2.8v1.3H404.4zM412.6 499.64h2.8v1.3H412.6zM415.4 497.09h2.8v1.3H415.4zM418.1 475.45h2.8v1.3H418.1zM420.8 489.45h2.8v1.3H420.8zM423.5 502.19h2.8v1.3H423.5zM431.7 479.27h2.8v1.3H431.7zM431.7 488.18h2.8v1.3H431.7zM434.4 488.18h2.8v1.3H434.4zM434.4 490.73h2.8v1.3H434.4zM437.2 485.64h2.8v1.3H437.2zM437.2 490.73h2.8v1.3H437.2zM439.9 481.82h2.8v1.3H439.9zM450.8 488.18h2.8v1.3H450.8zM453.5 474.18h2.8v1.3H453.5zM456.3 475.45h2.8v1.3H456.3zM459.0 497.09h2.8v1.3H459.0zM461.7 492.00h2.8v1.3H461.7zM467.2 486.91h2.8v1.3H467.2zM469.9 495.82h2.8v1.3H469.9zM478.1 486.91h2.8v1.3H478.1zM486.3 485.64h2.8v1.3H486.3zM486.3 499.64h2.8v1.3H486.3zM489.0 493.27h2.8v1.3H489.0zM489.0 499.64h2.8v1.3H489.0zM494.4 497.09h2.8v1.3H494.4zM502.6 494.55h2.8v1.3H502.6zM505.4 508.55h2.8v1.3H505.4zM516.3 498.37h2.8v1.3H516.3zM516.3 502.19h2.8v1.3H516.3zM521.7 483.09h2.8v1.3H521.7zM532.6 475.45h2.8v1.3H532.6zM535.4 493.27h2.8v1.3H535.4zM540.8 489.45h2.8v1.3H540.8zM543.5 480.54h2.8v1.3H543.5zM549.0 471.63h2.8v1.3H549.0zM549.0 476.72h2.8v1.3H549.0zM554.4 483.09h2.8v1.3H554.4zM559.9 484.36h2.8v1.3H559.9zM562.6 467.81h2.8v1.3H562.6zM565.3 479.27h2.8v1.3H565.3zM568.1 492.00h2.8v1.3H568.1zM568.1 494.55h2.8v1.3H568.1zM573.5 471.63h2.8v1.3H573.5zM573.5 483.09h2.8v1.3H573.5zM576.3 479.27h2.8v1.3H576.3zM579.0 474.18h2.8v1.3H579.0zM579.0 476.72h2.8v1.3H579.0zM581.7 469.09h2.8v1.3H581.7zM598.1 466.54h2.8v1.3H598.1zM603.5 475.45h2.8v1.3H603.5zM614.4 467.81h2.8v1.3H614.4zM619.9 476.72h2.8v1.3H619.9zM633.5 455.08h2.8v1.3H633.5zM633.5 466.54h2.8v1.3H633.5zM633.5 479.27h2.8v1.3H633.5zM636.3 470.36h2.8v1.3H636.3zM644.4 471.63h2.8v1.3H644.4zM652.6 483.09h2.8v1.3H652.6zM658.1 488.18h2.8v1.3H658.1zM663.5 490.73h2.8v1.3H663.5zM669.0 497.09h2.8v1.3H669.0zM674.4 478.00h2.8v1.3H674.4zM674.4 497.09h2.8v1.3H674.4zM679.9 489.45h2.8v1.3H679.9zM693.5 475.45h2.8v1.3H693.5zM693.5 486.91h2.8v1.3H693.5zM696.2 490.73h2.8v1.3H696.2zM696.2 493.27h2.8v1.3H696.2zM707.2 470.36h2.8v1.3H707.2zM709.9 490.73h2.8v1.3H709.9zM718.1 478.00h2.8v1.3H718.1zM718.1 479.27h2.8v1.3H718.1zM720.8 469.09h2.8v1.3H720.8zM737.2 494.55h2.8v1.3H737.2zM737.2 495.82h2.8v1.3H737.2zM742.6 502.19h2.8v1.3H742.6zM745.3 513.64h2.8v1.3H745.3zM748.1 513.64h2.8v1.3H748.1zM756.2 494.55h2.8v1.3H756.2zM764.4 502.19h2.8v1.3H764.4zM769.9 507.28h2.8v1.3H769.9zM772.6 506.00h2.8v1.3H772.6zM780.8 507.28h2.8v1.3H780.8zM786.2 489.45h2.8v1.3H786.2zM786.2 499.64h2.8v1.3H786.2zM794.4 494.55h2.8v1.3H794.4zM799.9 502.19h2.8v1.3H799.9zM805.3 499.64h2.8v1.3H805.3zM805.3 508.55h2.8v1.3H805.3zM813.5 500.91h2.8v1.3H813.5zM813.5 513.64h2.8v1.3H813.5zM816.2 494.55h2.8v1.3H816.2zM819.0 498.37h2.8v1.3H819.0zM827.1 503.46h2.8v1.3H827.1zM829.9 506.00h2.8v1.3H829.9zM835.3 498.37h2.8v1.3H835.3zM843.5 490.73h2.8v1.3H843.5zM843.5 492.00h2.8v1.3H843.5zM843.5 498.37h2.8v1.3H843.5zM843.5 500.91h2.8v1.3H843.5zM846.2 489.45h2.8v1.3H846.2zM849.0 498.37h2.8v1.3H849.0zM851.7 500.91h2.8v1.3H851.7zM859.9 506.00h2.8v1.3H859.9zM862.6 503.46h2.8v1.3H862.6zM865.3 485.64h2.8v1.3H865.3zM865.3 500.91h2.8v1.3H865.3zM876.2 512.37h2.8v1.3H876.2zM879.0 500.91h2.8v1.3H879.0zM881.7 499.64h2.8v1.3H881.7zM881.7 504.73h2.8v1.3H881.7zM884.4 521.28h2.8v1.3H884.4zM887.1 514.91h2.8v1.3H887.1zM892.6 518.73h2.8v1.3H892.6zM895.3 521.28h2.8v1.3H895.3zM903.5 540.38h2.8v1.3H903.5zM906.2 527.64h2.8v1.3H906.2zM909.0 535.28h2.8v1.3H909.0zM911.7 537.83h2.8v1.3H911.7zM911.7 539.10h2.8v1.3H911.7zM914.4 545.47h2.8v1.3H914.4zM917.1 539.10h2.8v1.3H917.1zM919.9 539.10h2.8v1.3H919.9zM925.3 528.92h2.8v1.3H925.3zM928.1 544.19h2.8v1.3H928.1zM930.8 537.83h2.8v1.3H930.8zM933.5 542.92h2.8v1.3H933.5zM936.2 531.46h2.8v1.3H936.2zM936.2 534.01h2.8v1.3H936.2zM936.2 535.28h2.8v1.3H936.2zM936.2 536.56h2.8v1.3H936.2zM936.2 548.01h2.8v1.3H936.2zM941.7 550.56h2.8v1.3H941.7zM944.4 551.83h2.8v1.3H944.4zM952.6 532.74h2.8v1.3H952.6zM958.0 532.74h2.8v1.3H958.0zM958.0 537.83h2.8v1.3H958.0zM974.4 532.74h2.8v1.3H974.4zM979.9 534.01h2.8v1.3H979.9zM979.9 537.83h2.8v1.3H979.9zM979.9 539.10h2.8v1.3H979.9zM988.0 513.64h2.8v1.3H988.0zM990.8 521.28h2.8v1.3H990.8zM1001.7 507.28h2.8v1.3H1001.7zM1001.7 516.19h2.8v1.3H1001.7zM1004.4 499.64h2.8v1.3H1004.4zM1007.1 493.27h2.8v1.3H1007.1zM1009.9 490.73h2.8v1.3H1009.9zM1009.9 504.73h2.8v1.3H1009.9zM1012.6 497.09h2.8v1.3H1012.6zM1015.3 500.91h2.8v1.3H1015.3zM1015.3 502.19h2.8v1.3H1015.3zM1015.3 504.73h2.8v1.3H1015.3zM1031.7 494.55h2.8v1.3H1031.7zM1031.7 497.09h2.8v1.3H1031.7zM1034.4 494.55h2.8v1.3H1034.4zM1039.9 486.91h2.8v1.3H1039.9zM1039.9 490.73h2.8v1.3H1039.9zM1039.9 500.91h2.8v1.3H1039.9zM1045.3 490.73h2.8v1.3H1045.3zM1050.8 483.09h2.8v1.3H1050.8zM1053.5 486.91h2.8v1.3H1053.5zM1069.9 483.09h2.8v1.3H1069.9zM1069.9 493.27h2.8v1.3H1069.9zM1072.6 486.91h2.8v1.3H1072.6zM1080.8 492.00h2.8v1.3H1080.8zM1083.5 495.82h2.8v1.3H1083.5zM1088.9 495.82h2.8v1.3H1088.9zM1094.4 495.82h2.8v1.3H1094.4zM1102.6 499.64h2.8v1.3H1102.6zM1108.0 492.00h2.8v1.3H1108.0zM1110.8 484.36h2.8v1.3H1110.8zM1113.5 499.64h2.8v1.3H1113.5z"/>
<path fill="#680000" d="M210.8 508.55h2.8v1.3H210.8zM213.6 503.46h2.8v1.3H213.6zM216.3 493.27h2.8v1.3H216.3zM219.0 503.46h2.8v1.3H219.0zM219.0 506.00h2.8v1.3H219.0zM221.7 499.64h2.8v1.3H221.7zM232.6 488.18h2.8v1.3H232.6zM235.4 516.19h2.8v1.3H235.4zM240.8 502.19h2.8v1.3H240.8zM243.6 504.73h2.8v1.3H243.6zM254.5 489.45h2.8v1.3H254.5zM257.2 480.54h2.8v1.3H257.2zM262.6 498.37h2.8v1.3H262.6zM262.6 502.19h2.8v1.3H262.6zM265.4 498.37h2.8v1.3H265.4zM273.6 497.09h2.8v1.3H273.6zM273.6 508.55h2.8v1.3H273.6zM279.0 525.10h2.8v1.3H279.0zM284.5 516.19h2.8v1.3H284.5zM284.5 518.73h2.8v1.3H284.5zM287.2 517.46h2.8v1.3H287.2zM292.6 520.01h2.8v1.3H292.6zM295.4 528.92h2.8v1.3H295.4zM300.8 520.01h2.8v1.3H300.8zM303.5 512.37h2.8v1.3H303.5zM303.5 514.91h2.8v1.3H303.5zM303.5 528.92h2.8v1.3H303.5zM309.0 513.64h2.8v1.3H309.0zM319.9 512.37h2.8v1.3H319.9zM325.4 503.46h2.8v1.3H325.4zM325.4 521.28h2.8v1.3H325.4zM339.0 503.46h2.8v1.3H339.0zM339.0 509.82h2.8v1.3H339.0zM347.2 506.00h2.8v1.3H347.2zM347.2 514.91h2.8v1.3H347.2zM349.9 506.00h2.8v1.3H349.9zM360.8 504.73h2.8v1.3H360.8zM374.5 492.00h2.8v1.3H374.5zM374.5 511.10h2.8v1.3H374.5zM379.9 504.73h2.8v1.3H379.9zM379.9 509.82h2.8v1.3H379.9zM385.4 504.73h2.8v1.3H385.4zM409.9 484.36h2.8v1.3H409.9zM412.6 502.19h2.8v1.3H412.6zM418.1 483.09h2.8v1.3H418.1zM418.1 492.00h2.8v1.3H418.1zM418.1 497.09h2.8v1.3H418.1zM431.7 493.27h2.8v1.3H431.7zM434.4 485.64h2.8v1.3H434.4zM439.9 486.91h2.8v1.3H439.9zM445.4 476.72h2.8v1.3H445.4zM445.4 485.64h2.8v1.3H445.4zM445.4 493.27h2.8v1.3H445.4zM453.5 486.91h2.8v1.3H453.5zM461.7 490.73h2.8v1.3H461.7zM464.4 486.91h2.8v1.3H464.4zM472.6 500.91h2.8v1.3H472.6zM483.5 486.91h2.8v1.3H483.5zM497.2 488.18h2.8v1.3H497.2zM505.4 492.00h2.8v1.3H505.4zM508.1 490.73h2.8v1.3H508.1zM508.1 494.55h2.8v1.3H508.1zM510.8 484.36h2.8v1.3H510.8zM519.0 489.45h2.8v1.3H519.0zM527.2 492.00h2.8v1.3H527.2zM535.4 480.54h2.8v1.3H535.4zM540.8 484.36h2.8v1.3H540.8zM554.4 471.63h2.8v1.3H554.4zM568.1 480.54h2.8v1.3H568.1zM573.5 476.72h2.8v1.3H573.5zM576.3 490.73h2.8v1.3H576.3zM579.0 483.09h2.8v1.3H579.0zM579.0 484.36h2.8v1.3H579.0zM581.7 480.54h2.8v1.3H581.7zM584.4 471.63h2.8v1.3H584.4zM584.4 478.00h2.8v1.3H584.4zM611.7 462.72h2.8v1.3H611.7zM611.7 467.81h2.8v1.3H611.7zM619.9 464.00h2.8v1.3H619.9zM625.3 458.90h2.8v1.3H625.3zM625.3 474.18h2.8v1.3H625.3zM630.8 467.81h2.8v1.3H630.8zM649.9 480.54h2.8v1.3H649.9zM649.9 488.18h2.8v1.3H649.9zM655.3 479.27h2.8v1.3H655.3zM663.5 485.64h2.8v1.3H663.5zM663.5 502.19h2.8v1.3H663.5zM669.0 503.46h2.8v1.3H669.0zM671.7 486.91h2.8v1.3H671.7zM674.4 495.82h2.8v1.3H674.4zM679.9 484.36h2.8v1.3H679.9zM690.8 492.00h2.8v1.3H690.8zM693.5 485.64h2.8v1.3H693.5zM693.5 492.00h2.8v1.3H693.5zM707.2 476.72h2.8v1.3H707.2zM712.6 478.00h2.8v1.3H712.6zM712.6 481.82h2.8v1.3H712.6zM734.4 490.73h2.8v1.3H734.4zM742.6 513.64h2.8v1.3H742.6zM753.5 517.46h2.8v1.3H753.5zM772.6 502.19h2.8v1.3H772.6zM772.6 507.28h2.8v1.3H772.6zM772.6 509.82h2.8v1.3H772.6zM789.0 511.10h2.8v1.3H789.0zM797.1 503.46h2.8v1.3H797.1zM799.9 504.73h2.8v1.3H799.9zM808.1 502.19h2.8v1.3H808.1zM813.5 494.55h2.8v1.3H813.5zM816.2 512.37h2.8v1.3H816.2zM819.0 502.19h2.8v1.3H819.0zM821.7 503.46h2.8v1.3H821.7zM824.4 506.00h2.8v1.3H824.4zM827.1 509.82h2.8v1.3H827.1zM838.1 507.28h2.8v1.3H838.1zM843.5 494.55h2.8v1.3H843.5zM851.7 503.46h2.8v1.3H851.7zM854.4 498.37h2.8v1.3H854.4zM862.6 498.37h2.8v1.3H862.6zM873.5 500.91h2.8v1.3H873.5zM892.6 521.28h2.8v1.3H892.6zM900.8 541.65h2.8v1.3H900.8zM903.5 534.01h2.8v1.3H903.5zM917.1 531.46h2.8v1.3H917.1zM917.1 546.74h2.8v1.3H917.1zM919.9 537.83h2.8v1.3H919.9zM922.6 542.92h2.8v1.3H922.6zM925.3 534.01h2.8v1.3H925.3zM925.3 537.83h2.8v1.3H925.3zM928.1 536.56h2.8v1.3H928.1zM936.2 539.10h2.8v1.3H936.2zM936.2 546.74h2.8v1.3H936.2zM941.7 540.38h2.8v1.3H941.7zM958.0 526.37h2.8v1.3H958.0zM958.0 542.92h2.8v1.3H958.0zM960.8 548.01h2.8v1.3H960.8zM963.5 530.19h2.8v1.3H963.5zM966.2 528.92h2.8v1.3H966.2zM974.4 537.83h2.8v1.3H974.4zM977.1 541.65h2.8v1.3H977.1zM982.6 525.10h2.8v1.3H982.6zM988.0 530.19h2.8v1.3H988.0zM999.0 523.83h2.8v1.3H999.0zM1004.4 503.46h2.8v1.3H1004.4zM1007.1 494.55h2.8v1.3H1007.1zM1018.0 481.82h2.8v1.3H1018.0zM1020.8 489.45h2.8v1.3H1020.8zM1020.8 499.64h2.8v1.3H1020.8zM1037.1 486.91h2.8v1.3H1037.1zM1039.9 484.36h2.8v1.3H1039.9zM1042.6 478.00h2.8v1.3H1042.6zM1048.0 485.64h2.8v1.3H1048.0zM1050.8 490.73h2.8v1.3H1050.8zM1056.2 483.09h2.8v1.3H1056.2zM1061.7 485.64h2.8v1.3H1061.7zM1064.4 476.72h2.8v1.3H1064.4zM1075.3 485.64h2.8v1.3H1075.3zM1080.8 480.54h2.8v1.3H1080.8zM1080.8 493.27h2.8v1.3H1080.8zM1080.8 495.82h2.8v1.3H1080.8zM1086.2 485.64h2.8v1.3H1086.2zM1088.9 494.55h2.8v1.3H1088.9zM1091.7 499.64h2.8v1.3H1091.7zM1099.9 490.73h2.8v1.3H1099.9zM1110.8 488.18h2.8v1.3H1110.8zM1113.5 494.55h2.8v1.3H1113.5z"/>
<path fill="#760000" d="M208.1 503.46h2.8v1.3H208.1zM213.6 502.19h2.8v1.3H213.6zM213.6 507.28h2.8v1.3H213.6zM216.3 498.37h2.8v1.3H216.3zM235.4 493.27h2.8v1.3H235.4zM235.4 520.01h2.8v1.3H235.4zM238.1 512.37h2.8v1.3H238.1zM257.2 497.09h2.8v1.3H257.2zM262.6 483.09h2.8v1.3H262.6zM262.6 484.36h2.8v1.3H262.6zM262.6 504.73h2.8v1.3H262.6zM268.1 500.91h2.8v1.3H268.1zM268.1 502.19h2.8v1.3H268.1zM268.1 507.28h2.8v1.3H268.1zM279.0 517.46h2.8v1.3H279.0zM284.5 512.37h2.8v1.3H284.5zM287.2 522.55h2.8v1.3H287.2zM300.8 530.19h2.8v1.3H300.8zM303.5 513.64h2.8v1.3H303.5zM303.5 521.28h2.8v1.3H303.5zM303.5 530.19h2.8v1.3H303.5zM309.0 517.46h2.8v1.3H309.0zM311.7 526.37h2.8v1.3H311.7zM314.5 534.01h2.8v1.3H314.5zM325.4 512.37h2.8v1.3H325.4zM336.3 499.64h2.8v1.3H336.3zM336.3 512.37h2.8v1.3H336.3zM344.5 509.82h2.8v1.3H344.5zM347.2 516.19h2.8v1.3H347.2zM352.6 503.46h2.8v1.3H352.6zM355.4 516.19h2.8v1.3H355.4zM377.2 499.64h2.8v1.3H377.2zM385.4 507.28h2.8v1.3H385.4zM388.1 517.46h2.8v1.3H388.1zM390.8 504.73h2.8v1.3H390.8zM390.8 521.28h2.8v1.3H390.8zM396.3 509.82h2.8v1.3H396.3zM409.9 497.09h2.8v1.3H409.9zM418.1 494.55h2.8v1.3H418.1zM420.8 484.36h2.8v1.3H420.8zM420.8 485.64h2.8v1.3H420.8zM439.9 492.00h2.8v1.3H439.9zM439.9 498.37h2.8v1.3H439.9zM448.1 488.18h2.8v1.3H448.1zM464.4 480.54h2.8v1.3H464.4zM464.4 481.82h2.8v1.3H464.4zM467.2 498.37h2.8v1.3H467.2zM467.2 499.64h2.8v1.3H467.2zM483.5 494.55h2.8v1.3H483.5zM491.7 507.28h2.8v1.3H491.7zM494.4 488.18h2.8v1.3H494.4zM494.4 493.27h2.8v1.3H494.4zM497.2 497.09h2.8v1.3H497.2zM497.2 500.91h2.8v1.3H497.2zM502.6 500.91h2.8v1.3H502.6zM505.4 493.27h2.8v1.3H505.4zM508.1 502.19h2.8v1.3H508.1zM513.5 506.00h2.8v1.3H513.5zM516.3 492.00h2.8v1.3H516.3zM519.0 493.27h2.8v1.3H519.0zM521.7 488.18h2.8v1.3H521.7zM527.2 488.18h2.8v1.3H527.2zM529.9 481.82h2.8v1.3H529.9zM532.6 484.36h2.8v1.3H532.6zM532.6 493.27h2.8v1.3H532.6zM535.4 492.00h2.8v1.3H535.4zM543.5 483.09h2.8v1.3H543.5zM546.3 489.45h2.8v1.3H546.3zM559.9 472.91h2.8v1.3H559.9zM570.8 493.27h2.8v1.3H570.8zM579.0 489.45h2.8v1.3H579.0zM584.4 476.72h2.8v1.3H584.4zM587.2 476.72h2.8v1.3H587.2zM589.9 461.45h2.8v1.3H589.9zM595.3 465.27h2.8v1.3H595.3zM606.3 467.81h2.8v1.3H606.3zM611.7 461.45h2.8v1.3H611.7zM625.3 471.63h2.8v1.3H625.3zM630.8 461.45h2.8v1.3H630.8zM639.0 474.18h2.8v1.3H639.0zM644.4 470.36h2.8v1.3H644.4zM655.3 498.37h2.8v1.3H655.3zM658.1 484.36h2.8v1.3H658.1zM660.8 497.09h2.8v1.3H660.8zM663.5 488.18h2.8v1.3H663.5zM663.5 506.00h2.8v1.3H663.5zM666.2 484.36h2.8v1.3H666.2zM666.2 493.27h2.8v1.3H666.2zM671.7 507.28h2.8v1.3H671.7zM674.4 503.46h2.8v1.3H674.4zM679.9 486.91h2.8v1.3H679.9zM682.6 485.64h2.8v1.3H682.6zM682.6 493.27h2.8v1.3H682.6zM682.6 495.82h2.8v1.3H682.6zM685.3 497.09h2.8v1.3H685.3zM688.1 490.73h2.8v1.3H688.1zM688.1 494.55h2.8v1.3H688.1zM693.5 497.09h2.8v1.3H693.5zM699.0 480.54h2.8v1.3H699.0zM704.4 472.91h2.8v1.3H704.4zM723.5 476.72h2.8v1.3H723.5zM723.5 483.09h2.8v1.3H723.5zM723.5 489.45h2.8v1.3H723.5zM731.7 492.00h2.8v1.3H731.7zM750.8 516.19h2.8v1.3H750.8zM753.5 503.46h2.8v1.3H753.5zM759.0 506.00h2.8v1.3H759.0zM767.2 493.27h2.8v1.3H767.2zM767.2 508.55h2.8v1.3H767.2zM789.0 493.27h2.8v1.3H789.0zM789.0 504.73h2.8v1.3H789.0zM797.1 502.19h2.8v1.3H797.1zM802.6 494.55h2.8v1.3H802.6zM813.5 499.64h2.8v1.3H813.5zM816.2 509.82h2.8v1.3H816.2zM832.6 493.27h2.8v1.3H832.6zM835.3 506.00h2.8v1.3H835.3zM838.1 506.00h2.8v1.3H838.1zM846.2 502.19h2.8v1.3H846.2zM857.1 493.27h2.8v1.3H857.1zM859.9 500.91h2.8v1.3H859.9zM865.3 507.28h2.8v1.3H865.3zM870.8 508.55h2.8v1.3H870.8zM870.8 513.64h2.8v1.3H870.8zM873.5 502.19h2.8v1.3H873.5zM873.5 507.28h2.8v1.3H873.5zM879.0 508.55h2.8v1.3H879.0zM889.9 526.37h2.8v1.3H889.9zM895.3 523.83h2.8v1.3H895.3zM914.4 548.01h2.8v1.3H914.4zM922.6 550.56h2.8v1.3H922.6zM930.8 549.29h2.8v1.3H930.8zM941.7 551.83h2.8v1.3H941.7zM944.4 550.56h2.8v1.3H944.4zM952.6 551.83h2.8v1.3H952.6zM955.3 540.38h2.8v1.3H955.3zM963.5 535.28h2.8v1.3H963.5zM985.3 527.64h2.8v1.3H985.3zM988.0 520.01h2.8v1.3H988.0zM990.8 520.01h2.8v1.3H990.8zM996.2 520.01h2.8v1.3H996.2zM1007.1 502.19h2.8v1.3H1007.1zM1009.9 511.10h2.8v1.3H1009.9zM1012.6 513.64h2.8v1.3H1012.6zM1012.6 514.91h2.8v1.3H1012.6zM1018.0 483.09h2.8v1.3H1018.0zM1020.8 498.37h2.8v1.3H1020.8zM1029.0 481.82h2.8v1.3H1029.0zM1029.0 490.73h2.8v1.3H1029.0zM1034.4 489.45h2.8v1.3H1034.4zM1037.1 484.36h2.8v1.3H1037.1zM1037.1 488.18h2.8v1.3H1037.1zM1039.9 499.64h2.8v1.3H1039.9zM1042.6 492.00h2.8v1.3H1042.6zM1061.7 492.00h2.8v1.3H1061.7zM1064.4 484.36h2.8v1.3H1064.4zM1069.9 471.63h2.8v1.3H1069.9zM1078.0 495.82h2.8v1.3H1078.0zM1083.5 490.73h2.8v1.3H1083.5zM1097.1 489.45h2.8v1.3H1097.1zM1097.1 493.27h2.8v1.3H1097.1zM1102.6 490.73h2.8v1.3H1102.6zM1105.3 478.00h2.8v1.3H1105.3zM1110.8 481.82h2.8v1.3H1110.8zM1110.8 494.55h2.8v1.3H1110.8z"/>
<path fill="#830000" d="M229.9 494.55h2.8v1.3H229.9zM229.9 495.82h2.8v1.3H229.9zM232.6 503.46h2.8v1.3H232.6zM238.1 503.46h2.8v1.3H238.1zM240.8 495.82h2.8v1.3H240.8zM243.6 502.19h2.8v1.3H243.6zM251.7 498.37h2.8v1.3H251.7zM251.7 500.91h2.8v1.3H251.7zM265.4 485.64h2.8v1.3H265.4zM265.4 488.18h2.8v1.3H265.4zM276.3 509.82h2.8v1.3H276.3zM276.3 512.37h2.8v1.3H276.3zM279.0 520.01h2.8v1.3H279.0zM292.6 525.10h2.8v1.3H292.6zM295.4 525.10h2.8v1.3H295.4zM295.4 531.46h2.8v1.3H295.4zM295.4 536.56h2.8v1.3H295.4zM300.8 513.64h2.8v1.3H300.8zM300.8 518.73h2.8v1.3H300.8zM303.5 523.83h2.8v1.3H303.5zM303.5 536.56h2.8v1.3H303.5zM309.0 531.46h2.8v1.3H309.0zM317.2 518.73h2.8v1.3H317.2zM322.6 523.83h2.8v1.3H322.6zM328.1 512.37h2.8v1.3H328.1zM333.5 492.00h2.8v1.3H333.5zM336.3 502.19h2.8v1.3H336.3zM347.2 504.73h2.8v1.3H347.2zM349.9 511.10h2.8v1.3H349.9zM349.9 514.91h2.8v1.3H349.9zM363.5 486.91h2.8v1.3H363.5zM371.7 512.37h2.8v1.3H371.7zM377.2 508.55h2.8v1.3H377.2zM382.6 523.83h2.8v1.3H382.6zM388.1 526.37h2.8v1.3H388.1zM404.4 498.37h2.8v1.3H404.4zM407.2 488.18h2.8v1.3H407.2zM420.8 479.27h2.8v1.3H420.8zM439.9 485.64h2.8v1.3H439.9zM448.1 486.91h2.8v1.3H448.1zM453.5 488.18h2.8v1.3H453.5zM453.5 492.00h2.8v1.3H453.5zM459.0 484.36h2.8v1.3H459.0zM459.0 495.82h2.8v1.3H459.0zM461.7 497.09h2.8v1.3H461.7zM469.9 503.46h2.8v1.3H469.9zM472.6 490.73h2.8v1.3H472.6zM480.8 495.82h2.8v1.3H480.8zM486.3 495.82h2.8v1.3H486.3zM494.4 503.46h2.8v1.3H494.4zM497.2 489.45h2.8v1.3H497.2zM502.6 502.19h2.8v1.3H502.6zM510.8 497.09h2.8v1.3H510.8zM519.0 490.73h2.8v1.3H519.0zM546.3 472.91h2.8v1.3H546.3zM559.9 470.36h2.8v1.3H559.9zM570.8 490.73h2.8v1.3H570.8zM579.0 485.64h2.8v1.3H579.0zM581.7 466.54h2.8v1.3H581.7zM584.4 486.91h2.8v1.3H584.4zM587.2 484.36h2.8v1.3H587.2zM589.9 471.63h2.8v1.3H589.9zM598.1 464.00h2.8v1.3H598.1zM600.8 448.72h2.8v1.3H600.8zM600.8 465.27h2.8v1.3H600.8zM614.4 457.63h2.8v1.3H614.4zM619.9 462.72h2.8v1.3H619.9zM622.6 464.00h2.8v1.3H622.6zM628.1 461.45h2.8v1.3H628.1zM630.8 471.63h2.8v1.3H630.8zM633.5 460.18h2.8v1.3H633.5zM633.5 464.00h2.8v1.3H633.5zM641.7 476.72h2.8v1.3H641.7zM655.3 493.27h2.8v1.3H655.3zM658.1 494.55h2.8v1.3H658.1zM660.8 493.27h2.8v1.3H660.8zM674.4 498.37h2.8v1.3H674.4zM677.2 493.27h2.8v1.3H677.2zM677.2 497.09h2.8v1.3H677.2zM679.9 488.18h2.8v1.3H679.9zM690.8 485.64h2.8v1.3H690.8zM696.2 492.00h2.8v1.3H696.2zM715.3 478.00h2.8v1.3H715.3zM745.3 492.00h2.8v1.3H745.3zM748.1 495.82h2.8v1.3H748.1zM748.1 499.64h2.8v1.3H748.1zM750.8 500.91h2.8v1.3H750.8zM753.5 499.64h2.8v1.3H753.5zM772.6 517.46h2.8v1.3H772.6zM775.3 492.00h2.8v1.3H775.3zM789.0 498.37h2.8v1.3H789.0zM805.3 498.37h2.8v1.3H805.3zM821.7 506.00h2.8v1.3H821.7zM827.1 500.91h2.8v1.3H827.1zM827.1 507.28h2.8v1.3H827.1zM829.9 509.82h2.8v1.3H829.9zM829.9 511.10h2.8v1.3H829.9zM835.3 499.64h2.8v1.3H835.3zM838.1 494.55h2.8v1.3H838.1zM846.2 494.55h2.8v1.3H846.2zM854.4 503.46h2.8v1.3H854.4zM862.6 481.82h2.8v1.3H862.6zM862.6 494.55h2.8v1.3H862.6zM865.3 488.18h2.8v1.3H865.3zM887.1 512.37h2.8v1.3H887.1zM892.6 522.55h2.8v1.3H892.6zM892.6 526.37h2.8v1.3H892.6zM906.2 545.47h2.8v1.3H906.2zM917.1 542.92h2.8v1.3H917.1zM925.3 531.46h2.8v1.3H925.3zM928.1 540.38h2.8v1.3H928.1zM930.8 555.65h2.8v1.3H930.8zM939.0 548.01h2.8v1.3H939.0zM949.9 553.11h2.8v1.3H949.9zM955.3 548.01h2.8v1.3H955.3zM958.0 541.65h2.8v1.3H958.0zM966.2 539.10h2.8v1.3H966.2zM969.0 546.74h2.8v1.3H969.0zM971.7 530.19h2.8v1.3H971.7zM974.4 546.74h2.8v1.3H974.4zM979.9 544.19h2.8v1.3H979.9zM988.0 517.46h2.8v1.3H988.0zM993.5 523.83h2.8v1.3H993.5zM1009.9 498.37h2.8v1.3H1009.9zM1020.8 493.27h2.8v1.3H1020.8zM1031.7 478.00h2.8v1.3H1031.7zM1037.1 489.45h2.8v1.3H1037.1zM1045.3 485.64h2.8v1.3H1045.3zM1045.3 498.37h2.8v1.3H1045.3zM1061.7 483.09h2.8v1.3H1061.7zM1075.3 480.54h2.8v1.3H1075.3zM1088.9 492.00h2.8v1.3H1088.9zM1097.1 479.27h2.8v1.3H1097.1zM1105.3 486.91h2.8v1.3H1105.3zM1113.5 495.82h2.8v1.3H1113.5z"/>
<path fill="#900000" d="M210.8 489.45h2.8v1.3H210.8zM210.8 507.28h2.8v1.3H210.8zM213.6 497.09h2.8v1.3H213.6zM213.6 499.64h2.8v1.3H213.6zM216.3 494.55h2.8v1.3H216.3zM224.5 503.46h2.8v1.3H224.5zM229.9 507.28h2.8v1.3H229.9zM235.4 513.64h2.8v1.3H235.4zM257.2 492.00h2.8v1.3H257.2zM262.6 485.64h2.8v1.3H262.6zM262.6 489.45h2.8v1.3H262.6zM265.4 503.46h2.8v1.3H265.4zM270.8 504.73h2.8v1.3H270.8zM273.6 517.46h2.8v1.3H273.6zM276.3 513.64h2.8v1.3H276.3zM281.7 518.73h2.8v1.3H281.7zM298.1 523.83h2.8v1.3H298.1zM298.1 526.37h2.8v1.3H298.1zM306.3 532.74h2.8v1.3H306.3zM322.6 509.82h2.8v1.3H322.6zM347.2 494.55h2.8v1.3H347.2zM349.9 512.37h2.8v1.3H349.9zM360.8 490.73h2.8v1.3H360.8zM360.8 507.28h2.8v1.3H360.8zM366.3 492.00h2.8v1.3H366.3zM369.0 495.82h2.8v1.3H369.0zM385.4 508.55h2.8v1.3H385.4zM393.5 507.28h2.8v1.3H393.5zM418.1 498.37h2.8v1.3H418.1zM423.5 484.36h2.8v1.3H423.5zM429.0 504.73h2.8v1.3H429.0zM467.2 490.73h2.8v1.3H467.2zM472.6 492.00h2.8v1.3H472.6zM491.7 493.27h2.8v1.3H491.7zM502.6 507.28h2.8v1.3H502.6zM505.4 498.37h2.8v1.3H505.4zM508.1 500.91h2.8v1.3H508.1zM510.8 493.27h2.8v1.3H510.8zM510.8 494.55h2.8v1.3H510.8zM521.7 502.19h2.8v1.3H521.7zM529.9 478.00h2.8v1.3H529.9zM529.9 498.37h2.8v1.3H529.9zM540.8 486.91h2.8v1.3H540.8zM549.0 488.18h2.8v1.3H549.0zM557.2 464.00h2.8v1.3H557.2zM565.3 478.00h2.8v1.3H565.3zM576.3 486.91h2.8v1.3H576.3zM579.0 472.91h2.8v1.3H579.0zM587.2 462.72h2.8v1.3H587.2zM592.6 476.72h2.8v1.3H592.6zM595.3 449.99h2.8v1.3H595.3zM603.5 460.18h2.8v1.3H603.5zM617.2 464.00h2.8v1.3H617.2zM633.5 469.09h2.8v1.3H633.5zM636.3 465.27h2.8v1.3H636.3zM639.0 478.00h2.8v1.3H639.0zM644.4 467.81h2.8v1.3H644.4zM644.4 481.82h2.8v1.3H644.4zM647.2 472.91h2.8v1.3H647.2zM649.9 481.82h2.8v1.3H649.9zM649.9 495.82h2.8v1.3H649.9zM663.5 500.91h2.8v1.3H663.5zM666.2 490.73h2.8v1.3H666.2zM674.4 488.18h2.8v1.3H674.4zM699.0 495.82h2.8v1.3H699.0zM701.7 478.00h2.8v1.3H701.7zM707.2 498.37h2.8v1.3H707.2zM718.1 481.82h2.8v1.3H718.1zM723.5 494.55h2.8v1.3H723.5zM734.4 488.18h2.8v1.3H734.4zM737.2 492.00h2.8v1.3H737.2zM742.6 493.27h2.8v1.3H742.6zM748.1 504.73h2.8v1.3H748.1zM756.2 509.82h2.8v1.3H756.2zM759.0 499.64h2.8v1.3H759.0zM761.7 500.91h2.8v1.3H761.7zM764.4 508.55h2.8v1.3H764.4zM769.9 503.46h2.8v1.3H769.9zM780.8 502.19h2.8v1.3H780.8zM783.5 493.27h2.8v1.3H783.5zM789.0 499.64h2.8v1.3H789.0zM802.6 500.91h2.8v1.3H802.6zM802.6 503.46h2.8v1.3H802.6zM805.3 506.00h2.8v1.3H805.3zM813.5 504.73h2.8v1.3H813.5zM813.5 506.00h2.8v1.3H813.5zM813.5 509.82h2.8v1.3H813.5zM819.0 495.82h2.8v1.3H819.0zM819.0 506.00h2.8v1.3H819.0zM838.1 500.91h2.8v1.3H838.1zM849.0 509.82h2.8v1.3H849.0zM851.7 492.00h2.8v1.3H851.7zM851.7 507.28h2.8v1.3H851.7zM859.9 503.46h2.8v1.3H859.9zM876.2 507.28h2.8v1.3H876.2zM879.0 507.28h2.8v1.3H879.0zM889.9 521.28h2.8v1.3H889.9zM892.6 531.46h2.8v1.3H892.6zM898.1 525.10h2.8v1.3H898.1zM900.8 542.92h2.8v1.3H900.8zM909.0 532.74h2.8v1.3H909.0zM911.7 536.56h2.8v1.3H911.7zM917.1 528.92h2.8v1.3H917.1zM941.7 536.56h2.8v1.3H941.7zM949.9 555.65h2.8v1.3H949.9zM949.9 558.20h2.8v1.3H949.9zM971.7 525.10h2.8v1.3H971.7zM971.7 537.83h2.8v1.3H971.7zM977.1 535.28h2.8v1.3H977.1zM985.3 526.37h2.8v1.3H985.3zM985.3 542.92h2.8v1.3H985.3zM1007.1 503.46h2.8v1.3H1007.1zM1009.9 514.91h2.8v1.3H1009.9zM1026.2 488.18h2.8v1.3H1026.2zM1029.0 495.82h2.8v1.3H1029.0zM1031.7 485.64h2.8v1.3H1031.7zM1031.7 488.18h2.8v1.3H1031.7zM1031.7 493.27h2.8v1.3H1031.7zM1034.4 479.27h2.8v1.3H1034.4zM1039.9 475.45h2.8v1.3H1039.9zM1039.9 485.64h2.8v1.3H1039.9zM1050.8 493.27h2.8v1.3H1050.8zM1056.2 494.55h2.8v1.3H1056.2zM1067.1 483.09h2.8v1.3H1067.1zM1075.3 504.73h2.8v1.3H1075.3zM1083.5 497.09h2.8v1.3H1083.5zM1083.5 499.64h2.8v1.3H1083.5zM1108.0 502.19h2.8v1.3H1108.0zM1116.2 497.09h2.8v1.3H1116.2zM1118.9 480.54h0.9v1.3H1118.9zM1118.9 497.09h0.9v1.3H1118.9z"/>
<path fill="#9e0000" d="M208.1 488.18h2.8v1.3H208.1zM221.7 493.27h2.8v1.3H221.7zM221.7 506.00h2.8v1.3H221.7zM229.9 489.45h2.8v1.3H229.9zM251.7 502.19h2.8v1.3H251.7zM257.2 495.82h2.8v1.3H257.2zM265.4 497.09h2.8v1.3H265.4zM270.8 507.28h2.8v1.3H270.8zM289.9 521.28h2.8v1.3H289.9zM292.6 513.64h2.8v1.3H292.6zM295.4 534.01h2.8v1.3H295.4zM298.1 512.37h2.8v1.3H298.1zM298.1 521.28h2.8v1.3H298.1zM306.3 521.28h2.8v1.3H306.3zM317.2 517.46h2.8v1.3H317.2zM325.4 516.19h2.8v1.3H325.4zM328.1 503.46h2.8v1.3H328.1zM330.8 516.19h2.8v1.3H330.8zM341.7 508.55h2.8v1.3H341.7zM344.5 502.19h2.8v1.3H344.5zM369.0 497.09h2.8v1.3H369.0zM396.3 516.19h2.8v1.3H396.3zM407.2 494.55h2.8v1.3H407.2zM412.6 489.45h2.8v1.3H412.6zM420.8 494.55h2.8v1.3H420.8zM431.7 490.73h2.8v1.3H431.7zM431.7 502.19h2.8v1.3H431.7zM434.4 498.37h2.8v1.3H434.4zM437.2 484.36h2.8v1.3H437.2zM442.6 486.91h2.8v1.3H442.6zM442.6 495.82h2.8v1.3H442.6zM453.5 490.73h2.8v1.3H453.5zM467.2 481.82h2.8v1.3H467.2zM467.2 495.82h2.8v1.3H467.2zM469.9 493.27h2.8v1.3H469.9zM469.9 497.09h2.8v1.3H469.9zM469.9 498.37h2.8v1.3H469.9zM480.8 506.00h2.8v1.3H480.8zM486.3 497.09h2.8v1.3H486.3zM491.7 486.91h2.8v1.3H491.7zM502.6 490.73h2.8v1.3H502.6zM505.4 485.64h2.8v1.3H505.4zM505.4 494.55h2.8v1.3H505.4zM524.4 493.27h2.8v1.3H524.4zM549.0 479.27h2.8v1.3H549.0zM568.1 479.27h2.8v1.3H568.1zM568.1 485.64h2.8v1.3H568.1zM570.8 489.45h2.8v1.3H570.8zM576.3 481.82h2.8v1.3H576.3zM579.0 480.54h2.8v1.3H579.0zM584.4 469.09h2.8v1.3H584.4zM589.9 469.09h2.8v1.3H589.9zM592.6 475.45h2.8v1.3H592.6zM611.7 464.00h2.8v1.3H611.7zM617.2 472.91h2.8v1.3H617.2zM628.1 479.27h2.8v1.3H628.1zM639.0 462.72h2.8v1.3H639.0zM641.7 465.27h2.8v1.3H641.7zM660.8 489.45h2.8v1.3H660.8zM671.7 490.73h2.8v1.3H671.7zM679.9 493.27h2.8v1.3H679.9zM682.6 484.36h2.8v1.3H682.6zM699.0 488.18h2.8v1.3H699.0zM704.4 490.73h2.8v1.3H704.4zM709.9 486.91h2.8v1.3H709.9zM712.6 479.27h2.8v1.3H712.6zM712.6 484.36h2.8v1.3H712.6zM712.6 489.45h2.8v1.3H712.6zM723.5 478.00h2.8v1.3H723.5zM729.0 485.64h2.8v1.3H729.0zM739.9 507.28h2.8v1.3H739.9zM748.1 502.19h2.8v1.3H748.1zM759.0 503.46h2.8v1.3H759.0zM769.9 497.09h2.8v1.3H769.9zM772.6 512.37h2.8v1.3H772.6zM775.3 506.00h2.8v1.3H775.3zM783.5 485.64h2.8v1.3H783.5zM797.1 498.37h2.8v1.3H797.1zM799.9 494.55h2.8v1.3H799.9zM819.0 511.10h2.8v1.3H819.0zM821.7 509.82h2.8v1.3H821.7zM829.9 508.55h2.8v1.3H829.9zM857.1 497.09h2.8v1.3H857.1zM865.3 495.82h2.8v1.3H865.3zM868.1 492.00h2.8v1.3H868.1zM870.8 503.46h2.8v1.3H870.8zM873.5 495.82h2.8v1.3H873.5zM884.4 507.28h2.8v1.3H884.4zM887.1 497.09h2.8v1.3H887.1zM887.1 526.37h2.8v1.3H887.1zM911.7 532.74h2.8v1.3H911.7zM911.7 542.92h2.8v1.3H911.7zM914.4 550.56h2.8v1.3H914.4zM919.9 540.38h2.8v1.3H919.9zM947.1 546.74h2.8v1.3H947.1zM955.3 535.28h2.8v1.3H955.3zM971.7 539.10h2.8v1.3H971.7zM971.7 545.47h2.8v1.3H971.7zM977.1 542.92h2.8v1.3H977.1zM985.3 530.19h2.8v1.3H985.3zM988.0 522.55h2.8v1.3H988.0zM993.5 521.28h2.8v1.3H993.5zM1001.7 509.82h2.8v1.3H1001.7zM1004.4 502.19h2.8v1.3H1004.4zM1015.3 503.46h2.8v1.3H1015.3zM1031.7 502.19h2.8v1.3H1031.7zM1045.3 478.00h2.8v1.3H1045.3zM1053.5 475.45h2.8v1.3H1053.5zM1056.2 485.64h2.8v1.3H1056.2zM1056.2 492.00h2.8v1.3H1056.2zM1067.1 485.64h2.8v1.3H1067.1zM1072.6 484.36h2.8v1.3H1072.6zM1083.5 500.91h2.8v1.3H1083.5zM1086.2 490.73h2.8v1.3H1086.2zM1110.8 486.91h2.8v1.3H1110.8zM1113.5 483.09h2.8v1.3H1113.5zM1118.9 485.64h0.9v1.3H1118.9z"/>
<path fill="#ab0000" d="M208.1 498.37h2.8v1.3H208.1zM208.1 502.19h2.8v1.3H208.1zM208.1 506.00h2.8v1.3H208.1zM219.0 498.37h2.8v1.3H219.0zM221.7 509.82h2.8v1.3H221.7zM227.2 485.64h2.8v1.3H227.2zM240.8 506.00h2.8v1.3H240.8zM243.6 508.55h2.8v1.3H243.6zM249.0 500.91h2.8v1.3H249.0zM254.5 502.19h2.8v1.3H254.5zM262.6 488.18h2.8v1.3H262.6zM273.6 503.46h2.8v1.3H273.6zM273.6 520.01h2.8v1.3H273.6zM300.8 531.46h2.8v1.3H300.8zM306.3 528.92h2.8v1.3H306.3zM325.4 527.64h2.8v1.3H325.4zM333.5 503.46h2.8v1.3H333.5zM333.5 516.19h2.8v1.3H333.5zM333.5 517.46h2.8v1.3H333.5zM344.5 512.37h2.8v1.3H344.5zM360.8 506.00h2.8v1.3H360.8zM369.0 503.46h2.8v1.3H369.0zM426.3 486.91h2.8v1.3H426.3zM429.0 492.00h2.8v1.3H429.0zM434.4 484.36h2.8v1.3H434.4zM461.7 489.45h2.8v1.3H461.7zM464.4 506.00h2.8v1.3H464.4zM467.2 492.00h2.8v1.3H467.2zM480.8 497.09h2.8v1.3H480.8zM491.7 506.00h2.8v1.3H491.7zM502.6 498.37h2.8v1.3H502.6zM508.1 507.28h2.8v1.3H508.1zM519.0 495.82h2.8v1.3H519.0zM519.0 502.19h2.8v1.3H519.0zM532.6 486.91h2.8v1.3H532.6zM535.4 481.82h2.8v1.3H535.4zM540.8 494.55h2.8v1.3H540.8zM546.3 474.18h2.8v1.3H546.3zM562.6 470.36h2.8v1.3H562.6zM568.1 466.54h2.8v1.3H568.1zM568.1 481.82h2.8v1.3H568.1zM584.4 481.82h2.8v1.3H584.4zM595.3 461.45h2.8v1.3H595.3zM595.3 466.54h2.8v1.3H595.3zM598.1 469.09h2.8v1.3H598.1zM600.8 457.63h2.8v1.3H600.8zM600.8 464.00h2.8v1.3H600.8zM600.8 475.45h2.8v1.3H600.8zM641.7 457.63h2.8v1.3H641.7zM644.4 472.91h2.8v1.3H644.4zM647.2 483.09h2.8v1.3H647.2zM649.9 470.36h2.8v1.3H649.9zM649.9 490.73h2.8v1.3H649.9zM666.2 497.09h2.8v1.3H666.2zM674.4 484.36h2.8v1.3H674.4zM677.2 479.27h2.8v1.3H677.2zM685.3 488.18h2.8v1.3H685.3zM690.8 493.27h2.8v1.3H690.8zM693.5 495.82h2.8v1.3H693.5zM696.2 497.09h2.8v1.3H696.2zM699.0 500.91h2.8v1.3H699.0zM701.7 484.36h2.8v1.3H701.7zM704.4 485.64h2.8v1.3H704.4zM707.2 480.54h2.8v1.3H707.2zM707.2 488.18h2.8v1.3H707.2zM731.7 481.82h2.8v1.3H731.7zM737.2 499.64h2.8v1.3H737.2zM739.9 497.09h2.8v1.3H739.9zM761.7 504.73h2.8v1.3H761.7zM775.3 504.73h2.8v1.3H775.3zM775.3 508.55h2.8v1.3H775.3zM778.1 511.10h2.8v1.3H778.1zM813.5 508.55h2.8v1.3H813.5zM821.7 486.91h2.8v1.3H821.7zM821.7 504.73h2.8v1.3H821.7zM843.5 497.09h2.8v1.3H843.5zM849.0 495.82h2.8v1.3H849.0zM851.7 504.73h2.8v1.3H851.7zM865.3 492.00h2.8v1.3H865.3zM865.3 502.19h2.8v1.3H865.3zM873.5 490.73h2.8v1.3H873.5zM876.2 500.91h2.8v1.3H876.2zM884.4 511.10h2.8v1.3H884.4zM884.4 520.01h2.8v1.3H884.4zM895.3 514.91h2.8v1.3H895.3zM917.1 534.01h2.8v1.3H917.1zM928.1 553.11h2.8v1.3H928.1zM930.8 528.92h2.8v1.3H930.8zM933.5 550.56h2.8v1.3H933.5zM941.7 542.92h2.8v1.3H941.7zM947.1 535.28h2.8v1.3H947.1zM947.1 542.92h2.8v1.3H947.1zM958.0 536.56h2.8v1.3H958.0zM977.1 537.83h2.8v1.3H977.1zM979.9 535.28h2.8v1.3H979.9zM990.8 509.82h2.8v1.3H990.8zM990.8 514.91h2.8v1.3H990.8zM990.8 517.46h2.8v1.3H990.8zM1009.9 502.19h2.8v1.3H1009.9zM1012.6 494.55h2.8v1.3H1012.6zM1015.3 499.64h2.8v1.3H1015.3zM1048.0 489.45h2.8v1.3H1048.0zM1072.6 476.72h2.8v1.3H1072.6zM1078.0 485.64h2.8v1.3H1078.0zM1091.7 480.54h2.8v1.3H1091.7zM1094.4 497.09h2.8v1.3H1094.4zM1097.1 490.73h2.8v1.3H1097.1zM1099.9 497.09h2.8v1.3H1099.9z"/>
<path fill="#b90000" d="M213.6 508.55h2.8v1.3H213.6zM224.5 493.27h2.8v1.3H224.5zM257.2 488.18h2.8v1.3H257.2zM273.6 521.28h2.8v1.3H273.6zM287.2 534.01h2.8v1.3H287.2zM300.8 521.28h2.8v1.3H300.8zM306.3 522.55h2.8v1.3H306.3zM314.5 532.74h2.8v1.3H314.5zM317.2 509.82h2.8v1.3H317.2zM319.9 507.28h2.8v1.3H319.9zM325.4 526.37h2.8v1.3H325.4zM341.7 499.64h2.8v1.3H341.7zM352.6 488.18h2.8v1.3H352.6zM371.7 493.27h2.8v1.3H371.7zM385.4 523.83h2.8v1.3H385.4zM385.4 525.10h2.8v1.3H385.4zM388.1 516.19h2.8v1.3H388.1zM399.0 506.00h2.8v1.3H399.0zM404.4 495.82h2.8v1.3H404.4zM409.9 502.19h2.8v1.3H409.9zM431.7 483.09h2.8v1.3H431.7zM431.7 492.00h2.8v1.3H431.7zM448.1 483.09h2.8v1.3H448.1zM456.3 492.00h2.8v1.3H456.3zM464.4 492.00h2.8v1.3H464.4zM475.4 494.55h2.8v1.3H475.4zM497.2 509.82h2.8v1.3H497.2zM499.9 504.73h2.8v1.3H499.9zM505.4 489.45h2.8v1.3H505.4zM527.2 476.72h2.8v1.3H527.2zM538.1 485.64h2.8v1.3H538.1zM551.7 472.91h2.8v1.3H551.7zM557.2 461.45h2.8v1.3H557.2zM570.8 476.72h2.8v1.3H570.8zM573.5 479.27h2.8v1.3H573.5zM598.1 471.63h2.8v1.3H598.1zM606.3 464.00h2.8v1.3H606.3zM622.6 470.36h2.8v1.3H622.6zM625.3 462.72h2.8v1.3H625.3zM628.1 467.81h2.8v1.3H628.1zM674.4 483.09h2.8v1.3H674.4zM674.4 493.27h2.8v1.3H674.4zM677.2 494.55h2.8v1.3H677.2zM690.8 486.91h2.8v1.3H690.8zM696.2 489.45h2.8v1.3H696.2zM701.7 494.55h2.8v1.3H701.7zM704.4 486.91h2.8v1.3H704.4zM712.6 480.54h2.8v1.3H712.6zM729.0 475.45h2.8v1.3H729.0zM731.7 499.64h2.8v1.3H731.7zM734.4 485.64h2.8v1.3H734.4zM737.2 490.73h2.8v1.3H737.2zM742.6 498.37h2.8v1.3H742.6zM759.0 493.27h2.8v1.3H759.0zM767.2 506.00h2.8v1.3H767.2zM767.2 511.10h2.8v1.3H767.2zM789.0 507.28h2.8v1.3H789.0zM797.1 504.73h2.8v1.3H797.1zM799.9 486.91h2.8v1.3H799.9zM810.8 498.37h2.8v1.3H810.8zM832.6 506.00h2.8v1.3H832.6zM835.3 504.73h2.8v1.3H835.3zM840.8 497.09h2.8v1.3H840.8zM849.0 499.64h2.8v1.3H849.0zM857.1 511.10h2.8v1.3H857.1zM892.6 525.10h2.8v1.3H892.6zM895.3 522.55h2.8v1.3H895.3zM898.1 513.64h2.8v1.3H898.1zM898.1 522.55h2.8v1.3H898.1zM903.5 527.64h2.8v1.3H903.5zM906.2 532.74h2.8v1.3H906.2zM933.5 553.11h2.8v1.3H933.5zM944.4 545.47h2.8v1.3H944.4zM958.0 549.29h2.8v1.3H958.0zM969.0 548.01h2.8v1.3H969.0zM979.9 525.10h2.8v1.3H979.9zM988.0 521.28h2.8v1.3H988.0zM1026.2 481.82h2.8v1.3H1026.2zM1029.0 479.27h2.8v1.3H1029.0zM1053.5 483.09h2.8v1.3H1053.5zM1075.3 493.27h2.8v1.3H1075.3zM1078.0 493.27h2.8v1.3H1078.0zM1086.2 495.82h2.8v1.3H1086.2zM1091.7 484.36h2.8v1.3H1091.7zM1097.1 499.64h2.8v1.3H1097.1zM1105.3 485.64h2.8v1.3H1105.3zM1110.8 485.64h2.8v1.3H1110.8zM1118.9 488.18h0.9v1.3H1118.9z"/>
<path fill="#c60000" d="M208.1 493.27h2.8v1.3H208.1zM208.1 508.55h2.8v1.3H208.1zM219.0 485.64h2.8v1.3H219.0zM232.6 499.64h2.8v1.3H232.6zM235.4 511.10h2.8v1.3H235.4zM235.4 518.73h2.8v1.3H235.4zM251.7 499.64h2.8v1.3H251.7zM262.6 503.46h2.8v1.3H262.6zM268.1 497.09h2.8v1.3H268.1zM270.8 499.64h2.8v1.3H270.8zM279.0 503.46h2.8v1.3H279.0zM289.9 527.64h2.8v1.3H289.9zM295.4 523.83h2.8v1.3H295.4zM298.1 517.46h2.8v1.3H298.1zM306.3 526.37h2.8v1.3H306.3zM311.7 534.01h2.8v1.3H311.7zM314.5 528.92h2.8v1.3H314.5zM319.9 514.91h2.8v1.3H319.9zM333.5 495.82h2.8v1.3H333.5zM333.5 499.64h2.8v1.3H333.5zM333.5 500.91h2.8v1.3H333.5zM333.5 507.28h2.8v1.3H333.5zM344.5 506.00h2.8v1.3H344.5zM347.2 503.46h2.8v1.3H347.2zM360.8 492.00h2.8v1.3H360.8zM363.5 495.82h2.8v1.3H363.5zM363.5 502.19h2.8v1.3H363.5zM366.3 502.19h2.8v1.3H366.3zM366.3 517.46h2.8v1.3H366.3zM371.7 504.73h2.8v1.3H371.7zM379.9 513.64h2.8v1.3H379.9zM379.9 520.01h2.8v1.3H379.9zM388.1 527.64h2.8v1.3H388.1zM393.5 506.00h2.8v1.3H393.5zM396.3 518.73h2.8v1.3H396.3zM404.4 492.00h2.8v1.3H404.4zM404.4 507.28h2.8v1.3H404.4zM407.2 493.27h2.8v1.3H407.2zM409.9 490.73h2.8v1.3H409.9zM415.4 494.55h2.8v1.3H415.4zM420.8 490.73h2.8v1.3H420.8zM423.5 493.27h2.8v1.3H423.5zM423.5 494.55h2.8v1.3H423.5zM434.4 500.91h2.8v1.3H434.4zM437.2 488.18h2.8v1.3H437.2zM437.2 499.64h2.8v1.3H437.2zM472.6 503.46h2.8v1.3H472.6zM475.4 503.46h2.8v1.3H475.4zM478.1 495.82h2.8v1.3H478.1zM478.1 502.19h2.8v1.3H478.1zM480.8 504.73h2.8v1.3H480.8zM483.5 498.37h2.8v1.3H483.5zM505.4 497.09h2.8v1.3H505.4zM508.1 483.09h2.8v1.3H508.1zM516.3 485.64h2.8v1.3H516.3zM521.7 504.73h2.8v1.3H521.7zM524.4 497.09h2.8v1.3H524.4zM527.2 483.09h2.8v1.3H527.2zM538.1 494.55h2.8v1.3H538.1zM549.0 483.09h2.8v1.3H549.0zM551.7 484.36h2.8v1.3H551.7zM562.6 466.54h2.8v1.3H562.6zM562.6 478.00h2.8v1.3H562.6zM565.3 474.18h2.8v1.3H565.3zM573.5 480.54h2.8v1.3H573.5zM573.5 495.82h2.8v1.3H573.5zM584.4 479.27h2.8v1.3H584.4zM598.1 451.26h2.8v1.3H598.1zM598.1 458.90h2.8v1.3H598.1zM617.2 465.27h2.8v1.3H617.2zM630.8 451.26h2.8v1.3H630.8zM644.4 476.72h2.8v1.3H644.4zM644.4 483.09h2.8v1.3H644.4zM647.2 485.64h2.8v1.3H647.2zM655.3 475.45h2.8v1.3H655.3zM658.1 490.73h2.8v1.3H658.1zM658.1 493.27h2.8v1.3H658.1zM660.8 486.91h2.8v1.3H660.8zM663.5 489.45h2.8v1.3H663.5zM663.5 493.27h2.8v1.3H663.5zM666.2 486.91h2.8v1.3H666.2zM666.2 503.46h2.8v1.3H666.2zM679.9 478.00h2.8v1.3H679.9zM679.9 481.82h2.8v1.3H679.9zM685.3 494.55h2.8v1.3H685.3zM693.5 483.09h2.8v1.3H693.5zM701.7 497.09h2.8v1.3H701.7zM704.4 475.45h2.8v1.3H704.4zM712.6 475.45h2.8v1.3H712.6zM715.3 480.54h2.8v1.3H715.3zM726.2 470.36h2.8v1.3H726.2zM729.0 489.45h2.8v1.3H729.0zM739.9 508.55h2.8v1.3H739.9zM742.6 495.82h2.8v1.3H742.6zM748.1 489.45h2.8v1.3H748.1zM748.1 498.37h2.8v1.3H748.1zM750.8 498.37h2.8v1.3H750.8zM750.8 503.46h2.8v1.3H750.8zM764.4 495.82h2.8v1.3H764.4zM764.4 504.73h2.8v1.3H764.4zM772.6 504.73h2.8v1.3H772.6zM772.6 520.01h2.8v1.3H772.6zM775.3 502.19h2.8v1.3H775.3zM786.2 497.09h2.8v1.3H786.2zM794.4 489.45h2.8v1.3H794.4zM802.6 499.64h2.8v1.3H802.6zM802.6 506.00h2.8v1.3H802.6zM808.1 495.82h2.8v1.3H808.1zM808.1 498.37h2.8v1.3H808.1zM810.8 508.55h2.8v1.3H810.8zM816.2 504.73h2.8v1.3H816.2zM816.2 506.00h2.8v1.3H816.2zM821.7 488.18h2.8v1.3H821.7zM832.6 497.09h2.8v1.3H832.6zM838.1 499.64h2.8v1.3H838.1zM846.2 503.46h2.8v1.3H846.2zM849.0 497.09h2.8v1.3H849.0zM857.1 490.73h2.8v1.3H857.1zM857.1 504.73h2.8v1.3H857.1zM876.2 503.46h2.8v1.3H876.2zM876.2 508.55h2.8v1.3H876.2zM879.0 494.55h2.8v1.3H879.0zM879.0 498.37h2.8v1.3H879.0zM881.7 507.28h2.8v1.3H881.7zM881.7 511.10h2.8v1.3H881.7zM884.4 504.73h2.8v1.3H884.4zM884.4 509.82h2.8v1.3H884.4zM889.9 502.19h2.8v1.3H889.9zM892.6 517.46h2.8v1.3H892.6zM898.1 516.19h2.8v1.3H898.1zM898.1 526.37h2.8v1.3H898.1zM906.2 530.19h2.8v1.3H906.2zM909.0 549.29h2.8v1.3H909.0zM925.3 540.38h2.8v1.3H925.3zM933.5 541.65h2.8v1.3H933.5zM941.7 553.11h2.8v1.3H941.7zM947.1 534.01h2.8v1.3H947.1zM947.1 554.38h2.8v1.3H947.1zM949.9 546.74h2.8v1.3H949.9zM955.3 546.74h2.8v1.3H955.3zM966.2 527.64h2.8v1.3H966.2zM971.7 531.46h2.8v1.3H971.7zM979.9 536.56h2.8v1.3H979.9zM982.6 544.19h2.8v1.3H982.6zM985.3 528.92h2.8v1.3H985.3zM999.0 504.73h2.8v1.3H999.0zM1018.0 495.82h2.8v1.3H1018.0zM1042.6 489.45h2.8v1.3H1042.6zM1048.0 486.91h2.8v1.3H1048.0zM1056.2 497.09h2.8v1.3H1056.2zM1061.7 489.45h2.8v1.3H1061.7zM1069.9 485.64h2.8v1.3H1069.9zM1072.6 495.82h2.8v1.3H1072.6zM1072.6 499.64h2.8v1.3H1072.6zM1083.5 485.64h2.8v1.3H1083.5zM1086.2 481.82h2.8v1.3H1086.2zM1088.9 486.91h2.8v1.3H1088.9zM1088.9 489.45h2.8v1.3H1088.9zM1088.9 498.37h2.8v1.3H1088.9zM1088.9 502.19h2.8v1.3H1088.9zM1097.1 500.91h2.8v1.3H1097.1zM1099.9 503.46h2.8v1.3H1099.9zM1116.2 485.64h2.8v1.3H1116.2z"/>
<path fill="#d30000" d="M208.1 500.91h2.8v1.3H208.1zM243.6 492.00h2.8v1.3H243.6zM246.3 507.28h2.8v1.3H246.3zM249.0 503.46h2.8v1.3H249.0zM249.0 513.64h2.8v1.3H249.0zM254.5 503.46h2.8v1.3H254.5zM259.9 484.36h2.8v1.3H259.9zM268.1 506.00h2.8v1.3H268.1zM270.8 502.19h2.8v1.3H270.8zM270.8 512.37h2.8v1.3H270.8zM276.3 500.91h2.8v1.3H276.3zM279.0 523.83h2.8v1.3H279.0zM289.9 522.55h2.8v1.3H289.9zM295.4 522.55h2.8v1.3H295.4zM298.1 516.19h2.8v1.3H298.1zM317.2 531.46h2.8v1.3H317.2zM330.8 500.91h2.8v1.3H330.8zM330.8 508.55h2.8v1.3H330.8zM333.5 502.19h2.8v1.3H333.5zM336.3 508.55h2.8v1.3H336.3zM344.5 495.82h2.8v1.3H344.5zM347.2 508.55h2.8v1.3H347.2zM363.5 506.00h2.8v1.3H363.5zM366.3 513.64h2.8v1.3H366.3zM374.5 497.09h2.8v1.3H374.5zM374.5 502.19h2.8v1.3H374.5zM377.2 512.37h2.8v1.3H377.2zM379.9 497.09h2.8v1.3H379.9zM385.4 522.55h2.8v1.3H385.4zM388.1 506.00h2.8v1.3H388.1zM390.8 512.37h2.8v1.3H390.8zM404.4 494.55h2.8v1.3H404.4zM412.6 490.73h2.8v1.3H412.6zM415.4 488.18h2.8v1.3H415.4zM423.5 490.73h2.8v1.3H423.5zM426.3 497.09h2.8v1.3H426.3zM434.4 489.45h2.8v1.3H434.4zM439.9 499.64h2.8v1.3H439.9zM445.4 483.09h2.8v1.3H445.4zM445.4 489.45h2.8v1.3H445.4zM453.5 497.09h2.8v1.3H453.5zM456.3 486.91h2.8v1.3H456.3zM480.8 494.55h2.8v1.3H480.8zM483.5 506.00h2.8v1.3H483.5zM491.7 499.64h2.8v1.3H491.7zM499.9 488.18h2.8v1.3H499.9zM513.5 494.55h2.8v1.3H513.5zM519.0 486.91h2.8v1.3H519.0zM524.4 485.64h2.8v1.3H524.4zM524.4 494.55h2.8v1.3H524.4zM527.2 495.82h2.8v1.3H527.2zM529.9 484.36h2.8v1.3H529.9zM529.9 485.64h2.8v1.3H529.9zM529.9 494.55h2.8v1.3H529.9zM551.7 481.82h2.8v1.3H551.7zM565.3 471.63h2.8v1.3H565.3zM589.9 480.54h2.8v1.3H589.9zM600.8 451.26h2.8v1.3H600.8zM606.3 453.81h2.8v1.3H606.3zM609.0 462.72h2.8v1.3H609.0zM614.4 469.09h2.8v1.3H614.4zM644.4 465.27h2.8v1.3H644.4zM647.2 474.18h2.8v1.3H647.2zM652.6 471.63h2.8v1.3H652.6zM660.8 480.54h2.8v1.3H660.8zM663.5 507.28h2.8v1.3H663.5zM669.0 486.91h2.8v1.3H669.0zM671.7 494.55h2.8v1.3H671.7zM671.7 500.91h2.8v1.3H671.7zM688.1 492.00h2.8v1.3H688.1zM690.8 480.54h2.8v1.3H690.8zM693.5 488.18h2.8v1.3H693.5zM699.0 494.55h2.8v1.3H699.0zM701.7 486.91h2.8v1.3H701.7zM704.4 484.36h2.8v1.3H704.4zM704.4 489.45h2.8v1.3H704.4zM709.9 479.27h2.8v1.3H709.9zM712.6 483.09h2.8v1.3H712.6zM720.8 474.18h2.8v1.3H720.8zM726.2 492.00h2.8v1.3H726.2zM742.6 485.64h2.8v1.3H742.6zM753.5 500.91h2.8v1.3H753.5zM767.2 507.28h2.8v1.3H767.2zM775.3 516.19h2.8v1.3H775.3zM778.1 498.37h2.8v1.3H778.1zM797.1 490.73h2.8v1.3H797.1zM799.9 495.82h2.8v1.3H799.9zM799.9 506.00h2.8v1.3H799.9zM802.6 489.45h2.8v1.3H802.6zM805.3 490.73h2.8v1.3H805.3zM808.1 507.28h2.8v1.3H808.1zM810.8 490.73h2.8v1.3H810.8zM816.2 503.46h2.8v1.3H816.2zM824.4 514.91h2.8v1.3H824.4zM827.1 511.10h2.8v1.3H827.1zM835.3 503.46h2.8v1.3H835.3zM854.4 500.91h2.8v1.3H854.4zM854.4 502.19h2.8v1.3H854.4zM865.3 489.45h2.8v1.3H865.3zM865.3 494.55h2.8v1.3H865.3zM873.5 494.55h2.8v1.3H873.5zM879.0 514.91h2.8v1.3H879.0zM881.7 495.82h2.8v1.3H881.7zM881.7 512.37h2.8v1.3H881.7zM889.9 530.19h2.8v1.3H889.9zM898.1 523.83h2.8v1.3H898.1zM903.5 535.28h2.8v1.3H903.5zM914.4 531.46h2.8v1.3H914.4zM914.4 539.10h2.8v1.3H914.4zM922.6 541.65h2.8v1.3H922.6zM925.3 541.65h2.8v1.3H925.3zM930.8 536.56h2.8v1.3H930.8zM939.0 544.19h2.8v1.3H939.0zM939.0 546.74h2.8v1.3H939.0zM939.0 560.74h2.8v1.3H939.0zM941.7 539.10h2.8v1.3H941.7zM941.7 541.65h2.8v1.3H941.7zM947.1 545.47h2.8v1.3H947.1zM963.5 531.46h2.8v1.3H963.5zM963.5 545.47h2.8v1.3H963.5zM969.0 535.28h2.8v1.3H969.0zM977.1 534.01h2.8v1.3H977.1zM985.3 531.46h2.8v1.3H985.3zM988.0 525.10h2.8v1.3H988.0zM993.5 513.64h2.8v1.3H993.5zM1009.9 508.55h2.8v1.3H1009.9zM1018.0 493.27h2.8v1.3H1018.0zM1026.2 493.27h2.8v1.3H1026.2zM1034.4 481.82h2.8v1.3H1034.4zM1050.8 481.82h2.8v1.3H1050.8zM1059.0 481.82h2.8v1.3H1059.0zM1059.0 483.09h2.8v1.3H1059.0zM1083.5 494.55h2.8v1.3H1083.5zM1091.7 486.91h2.8v1.3H1091.7zM1094.4 494.55h2.8v1.3H1094.4zM1108.0 490.73h2.8v1.3H1108.0z"/>
<path fill="#e10000" d="M210.8 486.91h2.8v1.3H210.8zM216.3 504.73h2.8v1.3H216.3zM224.5 498.37h2.8v1.3H224.5zM227.2 488.18h2.8v1.3H227.2zM227.2 494.55h2.8v1.3H227.2zM227.2 503.46h2.8v1.3H227.2zM243.6 513.64h2.8v1.3H243.6zM246.3 504.73h2.8v1.3H246.3zM249.0 497.09h2.8v1.3H249.0zM254.5 492.00h2.8v1.3H254.5zM257.2 494.55h2.8v1.3H257.2zM268.1 508.55h2.8v1.3H268.1zM270.8 498.37h2.8v1.3H270.8zM279.0 512.37h2.8v1.3H279.0zM281.7 513.64h2.8v1.3H281.7zM295.4 539.10h2.8v1.3H295.4zM309.0 518.73h2.8v1.3H309.0zM314.5 527.64h2.8v1.3H314.5zM317.2 521.28h2.8v1.3H317.2zM322.6 511.10h2.8v1.3H322.6zM325.4 520.01h2.8v1.3H325.4zM328.1 511.10h2.8v1.3H328.1zM328.1 525.10h2.8v1.3H328.1zM360.8 495.82h2.8v1.3H360.8zM360.8 511.10h2.8v1.3H360.8zM377.2 513.64h2.8v1.3H377.2zM382.6 508.55h2.8v1.3H382.6zM382.6 520.01h2.8v1.3H382.6zM385.4 520.01h2.8v1.3H385.4zM390.8 517.46h2.8v1.3H390.8zM393.5 521.28h2.8v1.3H393.5zM399.0 512.37h2.8v1.3H399.0zM401.7 489.45h2.8v1.3H401.7zM404.4 504.73h2.8v1.3H404.4zM412.6 492.00h2.8v1.3H412.6zM415.4 502.19h2.8v1.3H415.4zM418.1 490.73h2.8v1.3H418.1zM437.2 472.91h2.8v1.3H437.2zM450.8 480.54h2.8v1.3H450.8zM453.5 472.91h2.8v1.3H453.5zM464.4 497.09h2.8v1.3H464.4zM464.4 499.64h2.8v1.3H464.4zM472.6 493.27h2.8v1.3H472.6zM478.1 507.28h2.8v1.3H478.1zM480.8 498.37h2.8v1.3H480.8zM483.5 493.27h2.8v1.3H483.5zM494.4 498.37h2.8v1.3H494.4zM519.0 481.82h2.8v1.3H519.0zM529.9 490.73h2.8v1.3H529.9zM551.7 462.72h2.8v1.3H551.7zM551.7 470.36h2.8v1.3H551.7zM554.4 480.54h2.8v1.3H554.4zM559.9 478.00h2.8v1.3H559.9zM559.9 479.27h2.8v1.3H559.9zM584.4 472.91h2.8v1.3H584.4zM584.4 474.18h2.8v1.3H584.4zM600.8 469.09h2.8v1.3H600.8zM603.5 471.63h2.8v1.3H603.5zM619.9 466.54h2.8v1.3H619.9zM622.6 465.27h2.8v1.3H622.6zM628.1 453.81h2.8v1.3H628.1zM641.7 462.72h2.8v1.3H641.7zM649.9 472.91h2.8v1.3H649.9zM655.3 492.00h2.8v1.3H655.3zM655.3 499.64h2.8v1.3H655.3zM669.0 498.37h2.8v1.3H669.0zM677.2 492.00h2.8v1.3H677.2zM682.6 499.64h2.8v1.3H682.6zM690.8 474.18h2.8v1.3H690.8zM696.2 479.27h2.8v1.3H696.2zM701.7 479.27h2.8v1.3H701.7zM718.1 480.54h2.8v1.3H718.1zM718.1 484.36h2.8v1.3H718.1zM720.8 475.45h2.8v1.3H720.8zM739.9 492.00h2.8v1.3H739.9zM739.9 506.00h2.8v1.3H739.9zM753.5 497.09h2.8v1.3H753.5zM764.4 506.00h2.8v1.3H764.4zM780.8 495.82h2.8v1.3H780.8zM783.5 499.64h2.8v1.3H783.5zM789.0 512.37h2.8v1.3H789.0zM791.7 504.73h2.8v1.3H791.7zM797.1 493.27h2.8v1.3H797.1zM797.1 494.55h2.8v1.3H797.1zM805.3 497.09h2.8v1.3H805.3zM821.7 508.55h2.8v1.3H821.7zM824.4 498.37h2.8v1.3H824.4zM829.9 500.91h2.8v1.3H829.9zM851.7 493.27h2.8v1.3H851.7zM851.7 498.37h2.8v1.3H851.7zM859.9 494.55h2.8v1.3H859.9zM859.9 499.64h2.8v1.3H859.9zM868.1 486.91h2.8v1.3H868.1zM868.1 503.46h2.8v1.3H868.1zM876.2 502.19h2.8v1.3H876.2zM879.0 506.00h2.8v1.3H879.0zM879.0 509.82h2.8v1.3H879.0zM887.1 507.28h2.8v1.3H887.1zM889.9 507.28h2.8v1.3H889.9zM889.9 511.10h2.8v1.3H889.9zM889.9 525.10h2.8v1.3H889.9zM895.3 536.56h2.8v1.3H895.3zM898.1 528.92h2.8v1.3H898.1zM900.8 535.28h2.8v1.3H900.8zM906.2 525.10h2.8v1.3H906.2zM911.7 540.38h2.8v1.3H911.7zM917.1 545.47h2.8v1.3H917.1zM949.9 545.47h2.8v1.3H949.9zM952.6 542.92h2.8v1.3H952.6zM952.6 549.29h2.8v1.3H952.6zM960.8 531.46h2.8v1.3H960.8zM966.2 531.46h2.8v1.3H966.2zM969.0 550.56h2.8v1.3H969.0zM971.7 534.01h2.8v1.3H971.7zM977.1 550.56h2.8v1.3H977.1zM979.9 528.92h2.8v1.3H979.9zM982.6 532.74h2.8v1.3H982.6zM988.0 534.01h2.8v1.3H988.0zM996.2 508.55h2.8v1.3H996.2zM1007.1 499.64h2.8v1.3H1007.1zM1009.9 495.82h2.8v1.3H1009.9zM1009.9 503.46h2.8v1.3H1009.9zM1009.9 509.82h2.8v1.3H1009.9zM1015.3 493.27h2.8v1.3H1015.3zM1034.4 486.91h2.8v1.3H1034.4zM1050.8 495.82h2.8v1.3H1050.8zM1050.8 498.37h2.8v1.3H1050.8zM1059.0 494.55h2.8v1.3H1059.0zM1069.9 474.18h2.8v1.3H1069.9zM1075.3 486.91h2.8v1.3H1075.3zM1080.8 498.37h2.8v1.3H1080.8zM1088.9 485.64h2.8v1.3H1088.9zM1088.9 499.64h2.8v1.3H1088.9zM1102.6 481.82h2.8v1.3H1102.6zM1116.2 488.18h2.8v1.3H1116.2zM1116.2 498.37h2.8v1.3H1116.2zM1118.9 502.19h0.9v1.3H1118.9z"/>
<path fill="#ee0000" d="M221.7 488.18h2.8v1.3H221.7zM221.7 498.37h2.8v1.3H221.7zM227.2 483.09h2.8v1.3H227.2zM240.8 504.73h2.8v1.3H240.8zM246.3 498.37h2.8v1.3H246.3zM246.3 500.91h2.8v1.3H246.3zM276.3 514.91h2.8v1.3H276.3zM292.6 531.46h2.8v1.3H292.6zM298.1 535.28h2.8v1.3H298.1zM322.6 506.00h2.8v1.3H322.6zM358.1 506.00h2.8v1.3H358.1zM374.5 503.46h2.8v1.3H374.5zM377.2 518.73h2.8v1.3H377.2zM382.6 514.91h2.8v1.3H382.6zM385.4 521.28h2.8v1.3H385.4zM404.4 488.18h2.8v1.3H404.4zM426.3 492.00h2.8v1.3H426.3zM434.4 486.91h2.8v1.3H434.4zM445.4 480.54h2.8v1.3H445.4zM453.5 485.64h2.8v1.3H453.5zM475.4 492.00h2.8v1.3H475.4zM483.5 484.36h2.8v1.3H483.5zM489.0 492.00h2.8v1.3H489.0zM491.7 498.37h2.8v1.3H491.7zM494.4 499.64h2.8v1.3H494.4zM494.4 508.55h2.8v1.3H494.4zM513.5 489.45h2.8v1.3H513.5zM529.9 493.27h2.8v1.3H529.9zM554.4 479.27h2.8v1.3H554.4zM557.2 467.81h2.8v1.3H557.2zM570.8 485.64h2.8v1.3H570.8zM581.7 467.81h2.8v1.3H581.7zM587.2 471.63h2.8v1.3H587.2zM609.0 453.81h2.8v1.3H609.0zM617.2 466.54h2.8v1.3H617.2zM622.6 467.81h2.8v1.3H622.6zM630.8 460.18h2.8v1.3H630.8zM630.8 479.27h2.8v1.3H630.8zM641.7 475.45h2.8v1.3H641.7zM649.9 484.36h2.8v1.3H649.9zM674.4 485.64h2.8v1.3H674.4zM679.9 492.00h2.8v1.3H679.9zM679.9 499.64h2.8v1.3H679.9zM682.6 500.91h2.8v1.3H682.6zM685.3 492.00h2.8v1.3H685.3zM707.2 478.00h2.8v1.3H707.2zM707.2 484.36h2.8v1.3H707.2zM712.6 485.64h2.8v1.3H712.6zM720.8 476.72h2.8v1.3H720.8zM734.4 495.82h2.8v1.3H734.4zM745.3 502.19h2.8v1.3H745.3zM750.8 504.73h2.8v1.3H750.8zM753.5 498.37h2.8v1.3H753.5zM799.9 492.00h2.8v1.3H799.9zM799.9 499.64h2.8v1.3H799.9zM805.3 494.55h2.8v1.3H805.3zM805.3 500.91h2.8v1.3H805.3zM805.3 509.82h2.8v1.3H805.3zM810.8 494.55h2.8v1.3H810.8zM832.6 486.91h2.8v1.3H832.6zM846.2 504.73h2.8v1.3H846.2zM849.0 502.19h2.8v1.3H849.0zM854.4 490.73h2.8v1.3H854.4zM854.4 495.82h2.8v1.3H854.4zM859.9 490.73h2.8v1.3H859.9zM876.2 498.37h2.8v1.3H876.2zM887.1 521.28h2.8v1.3H887.1zM889.9 517.46h2.8v1.3H889.9zM903.5 530.19h2.8v1.3H903.5zM930.8 542.92h2.8v1.3H930.8zM933.5 532.74h2.8v1.3H933.5zM944.4 549.29h2.8v1.3H944.4zM960.8 535.28h2.8v1.3H960.8zM979.9 526.37h2.8v1.3H979.9zM982.6 526.37h2.8v1.3H982.6zM1001.7 521.28h2.8v1.3H1001.7zM1020.8 497.09h2.8v1.3H1020.8zM1039.9 489.45h2.8v1.3H1039.9zM1045.3 492.00h2.8v1.3H1045.3zM1056.2 493.27h2.8v1.3H1056.2zM1059.0 484.36h2.8v1.3H1059.0zM1088.9 480.54h2.8v1.3H1088.9zM1110.8 495.82h2.8v1.3H1110.8zM1113.5 488.18h2.8v1.3H1113.5z"/>
<path fill="#fc0000" d="M208.1 492.00h2.8v1.3H208.1zM213.6 504.73h2.8v1.3H213.6zM216.3 497.09h2.8v1.3H216.3zM216.3 500.91h2.8v1.3H216.3zM219.0 494.55h2.8v1.3H219.0zM219.0 497.09h2.8v1.3H219.0zM221.7 495.82h2.8v1.3H221.7zM232.6 497.09h2.8v1.3H232.6zM240.8 518.73h2.8v1.3H240.8zM246.3 492.00h2.8v1.3H246.3zM262.6 490.73h2.8v1.3H262.6zM273.6 516.19h2.8v1.3H273.6zM298.1 530.19h2.8v1.3H298.1zM303.5 526.37h2.8v1.3H303.5zM306.3 535.28h2.8v1.3H306.3zM325.4 508.55h2.8v1.3H325.4zM328.1 499.64h2.8v1.3H328.1zM336.3 516.19h2.8v1.3H336.3zM355.4 509.82h2.8v1.3H355.4zM358.1 503.46h2.8v1.3H358.1zM366.3 506.00h2.8v1.3H366.3zM366.3 516.19h2.8v1.3H366.3zM371.7 507.28h2.8v1.3H371.7zM393.5 517.46h2.8v1.3H393.5zM407.2 495.82h2.8v1.3H407.2zM407.2 498.37h2.8v1.3H407.2zM409.9 494.55h2.8v1.3H409.9zM415.4 489.45h2.8v1.3H415.4zM423.5 486.91h2.8v1.3H423.5zM426.3 490.73h2.8v1.3H426.3zM426.3 502.19h2.8v1.3H426.3zM429.0 494.55h2.8v1.3H429.0zM453.5 493.27h2.8v1.3H453.5zM467.2 497.09h2.8v1.3H467.2zM472.6 489.45h2.8v1.3H472.6zM472.6 495.82h2.8v1.3H472.6zM478.1 481.82h2.8v1.3H478.1zM486.3 511.10h2.8v1.3H486.3zM497.2 499.64h2.8v1.3H497.2zM502.6 483.09h2.8v1.3H502.6zM516.3 493.27h2.8v1.3H516.3zM535.4 475.45h2.8v1.3H535.4zM535.4 486.91h2.8v1.3H535.4zM535.4 490.73h2.8v1.3H535.4zM554.4 488.18h2.8v1.3H554.4zM557.2 483.09h2.8v1.3H557.2zM559.9 476.72h2.8v1.3H559.9zM559.9 481.82h2.8v1.3H559.9zM565.3 464.00h2.8v1.3H565.3zM584.4 488.18h2.8v1.3H584.4zM617.2 453.81h2.8v1.3H617.2zM617.2 461.45h2.8v1.3H617.2zM619.9 480.54h2.8v1.3H619.9zM622.6 476.72h2.8v1.3H622.6zM628.1 470.36h2.8v1.3H628.1zM628.1 472.91h2.8v1.3H628.1zM630.8 474.18h2.8v1.3H630.8zM644.4 489.45h2.8v1.3H644.4zM647.2 476.72h2.8v1.3H647.2zM655.3 478.00h2.8v1.3H655.3zM660.8 488.18h2.8v1.3H660.8zM669.0 502.19h2.8v1.3H669.0zM688.1 493.27h2.8v1.3H688.1zM701.7 490.73h2.8v1.3H701.7zM707.2 485.64h2.8v1.3H707.2zM712.6 492.00h2.8v1.3H712.6zM731.7 495.82h2.8v1.3H731.7zM756.2 506.00h2.8v1.3H756.2zM769.9 502.19h2.8v1.3H769.9zM778.1 503.46h2.8v1.3H778.1zM794.4 511.10h2.8v1.3H794.4zM799.9 508.55h2.8v1.3H799.9zM808.1 497.09h2.8v1.3H808.1zM816.2 511.10h2.8v1.3H816.2zM819.0 493.27h2.8v1.3H819.0zM824.4 518.73h2.8v1.3H824.4zM827.1 514.91h2.8v1.3H827.1zM829.9 497.09h2.8v1.3H829.9zM838.1 495.82h2.8v1.3H838.1zM838.1 502.19h2.8v1.3H838.1zM838.1 504.73h2.8v1.3H838.1zM857.1 507.28h2.8v1.3H857.1zM862.6 499.64h2.8v1.3H862.6zM865.3 486.91h2.8v1.3H865.3zM881.7 503.46h2.8v1.3H881.7zM884.4 506.00h2.8v1.3H884.4zM895.3 516.19h2.8v1.3H895.3zM906.2 542.92h2.8v1.3H906.2zM925.3 546.74h2.8v1.3H925.3zM925.3 549.29h2.8v1.3H925.3zM933.5 548.01h2.8v1.3H933.5zM939.0 551.83h2.8v1.3H939.0zM941.7 548.01h2.8v1.3H941.7zM944.4 560.74h2.8v1.3H944.4zM949.9 550.56h2.8v1.3H949.9zM952.6 541.65h2.8v1.3H952.6zM960.8 544.19h2.8v1.3H960.8zM963.5 541.65h2.8v1.3H963.5zM966.2 534.01h2.8v1.3H966.2zM974.4 530.19h2.8v1.3H974.4zM993.5 511.10h2.8v1.3H993.5zM996.2 513.64h2.8v1.3H996.2zM1001.7 502.19h2.8v1.3H1001.7zM1007.1 506.00h2.8v1.3H1007.1zM1009.9 506.00h2.8v1.3H1009.9zM1012.6 504.73h2.8v1.3H1012.6zM1037.1 480.54h2.8v1.3H1037.1zM1045.3 483.09h2.8v1.3H1045.3zM1050.8 489.45h2.8v1.3H1050.8zM1056.2 484.36h2.8v1.3H1056.2zM1072.6 494.55h2.8v1.3H1072.6zM1075.3 492.00h2.8v1.3H1075.3zM1078.0 489.45h2.8v1.3H1078.0zM1086.2 502.19h2.8v1.3H1086.2zM1091.7 489.45h2.8v1.3H1091.7zM1099.9 489.45h2.8v1.3H1099.9zM1108.0 494.55h2.8v1.3H1108.0zM1118.9 495.82h0.9v1.3H1118.9z"/>
<path fill="#ff0a00" d="M216.3 484.36h2.8v1.3H216.3zM219.0 500.91h2.8v1.3H219.0zM232.6 495.82h2.8v1.3H232.6zM240.8 490.73h2.8v1.3H240.8zM246.3 512.37h2.8v1.3H246.3zM262.6 495.82h2.8v1.3H262.6zM265.4 500.91h2.8v1.3H265.4zM279.0 522.55h2.8v1.3H279.0zM289.9 511.10h2.8v1.3H289.9zM289.9 520.01h2.8v1.3H289.9zM292.6 522.55h2.8v1.3H292.6zM311.7 537.83h2.8v1.3H311.7zM314.5 522.55h2.8v1.3H314.5zM349.9 518.73h2.8v1.3H349.9zM355.4 497.09h2.8v1.3H355.4zM360.8 500.91h2.8v1.3H360.8zM374.5 504.73h2.8v1.3H374.5zM377.2 509.82h2.8v1.3H377.2zM390.8 523.83h2.8v1.3H390.8zM407.2 490.73h2.8v1.3H407.2zM409.9 492.00h2.8v1.3H409.9zM412.6 493.27h2.8v1.3H412.6zM418.1 493.27h2.8v1.3H418.1zM434.4 495.82h2.8v1.3H434.4zM456.3 476.72h2.8v1.3H456.3zM469.9 490.73h2.8v1.3H469.9zM475.4 500.91h2.8v1.3H475.4zM486.3 507.28h2.8v1.3H486.3zM510.8 499.64h2.8v1.3H510.8zM535.4 478.00h2.8v1.3H535.4zM543.5 481.82h2.8v1.3H543.5zM543.5 484.36h2.8v1.3H543.5zM551.7 483.09h2.8v1.3H551.7zM554.4 464.00h2.8v1.3H554.4zM562.6 481.82h2.8v1.3H562.6zM576.3 484.36h2.8v1.3H576.3zM587.2 466.54h2.8v1.3H587.2zM592.6 474.18h2.8v1.3H592.6zM595.3 470.36h2.8v1.3H595.3zM598.1 457.63h2.8v1.3H598.1zM609.0 464.00h2.8v1.3H609.0zM625.3 464.00h2.8v1.3H625.3zM630.8 455.08h2.8v1.3H630.8zM633.5 475.45h2.8v1.3H633.5zM671.7 483.09h2.8v1.3H671.7zM677.2 485.64h2.8v1.3H677.2zM696.2 485.64h2.8v1.3H696.2zM707.2 486.91h2.8v1.3H707.2zM709.9 484.36h2.8v1.3H709.9zM720.8 472.91h2.8v1.3H720.8zM720.8 478.00h2.8v1.3H720.8zM720.8 486.91h2.8v1.3H720.8zM726.2 489.45h2.8v1.3H726.2zM745.3 495.82h2.8v1.3H745.3zM750.8 493.27h2.8v1.3H750.8zM756.2 508.55h2.8v1.3H756.2zM761.7 506.00h2.8v1.3H761.7zM783.5 503.46h2.8v1.3H783.5zM789.0 500.91h2.8v1.3H789.0zM791.7 507.28h2.8v1.3H791.7zM791.7 511.10h2.8v1.3H791.7zM797.1 499.64h2.8v1.3H797.1zM802.6 504.73h2.8v1.3H802.6zM832.6 508.55h2.8v1.3H832.6zM840.8 509.82h2.8v1.3H840.8zM843.5 502.19h2.8v1.3H843.5zM843.5 512.37h2.8v1.3H843.5zM857.1 508.55h2.8v1.3H857.1zM859.9 497.09h2.8v1.3H859.9zM862.6 509.82h2.8v1.3H862.6zM868.1 502.19h2.8v1.3H868.1zM895.3 526.37h2.8v1.3H895.3zM909.0 536.56h2.8v1.3H909.0zM911.7 531.46h2.8v1.3H911.7zM936.2 545.47h2.8v1.3H936.2zM947.1 558.20h2.8v1.3H947.1zM949.9 551.83h2.8v1.3H949.9zM966.2 536.56h2.8v1.3H966.2zM979.9 527.64h2.8v1.3H979.9zM982.6 536.56h2.8v1.3H982.6zM990.8 523.83h2.8v1.3H990.8zM999.0 513.64h2.8v1.3H999.0zM1023.5 499.64h2.8v1.3H1023.5zM1039.9 488.18h2.8v1.3H1039.9zM1064.4 488.18h2.8v1.3H1064.4zM1072.6 492.00h2.8v1.3H1072.6zM1075.3 503.46h2.8v1.3H1075.3zM1078.0 488.18h2.8v1.3H1078.0zM1080.8 488.18h2.8v1.3H1080.8zM1091.7 494.55h2.8v1.3H1091.7zM1118.9 493.27h0.9v1.3H1118.9z"/>
<path fill="#ff1700" d="M219.0 481.82h2.8v1.3H219.0zM224.5 495.82h2.8v1.3H224.5zM227.2 497.09h2.8v1.3H227.2zM229.9 511.10h2.8v1.3H229.9zM232.6 502.19h2.8v1.3H232.6zM235.4 506.00h2.8v1.3H235.4zM246.3 499.64h2.8v1.3H246.3zM249.0 499.64h2.8v1.3H249.0zM257.2 490.73h2.8v1.3H257.2zM262.6 486.91h2.8v1.3H262.6zM265.4 499.64h2.8v1.3H265.4zM270.8 494.55h2.8v1.3H270.8zM273.6 504.73h2.8v1.3H273.6zM276.3 511.10h2.8v1.3H276.3zM284.5 520.01h2.8v1.3H284.5zM287.2 521.28h2.8v1.3H287.2zM289.9 525.10h2.8v1.3H289.9zM295.4 530.19h2.8v1.3H295.4zM319.9 518.73h2.8v1.3H319.9zM322.6 521.28h2.8v1.3H322.6zM325.4 507.28h2.8v1.3H325.4zM330.8 512.37h2.8v1.3H330.8zM330.8 517.46h2.8v1.3H330.8zM333.5 511.10h2.8v1.3H333.5zM347.2 497.09h2.8v1.3H347.2zM349.9 497.09h2.8v1.3H349.9zM352.6 513.64h2.8v1.3H352.6zM371.7 516.19h2.8v1.3H371.7zM390.8 514.91h2.8v1.3H390.8zM393.5 513.64h2.8v1.3H393.5zM393.5 516.19h2.8v1.3H393.5zM396.3 506.00h2.8v1.3H396.3zM401.7 508.55h2.8v1.3H401.7zM409.9 483.09h2.8v1.3H409.9zM409.9 489.45h2.8v1.3H409.9zM423.5 488.18h2.8v1.3H423.5zM453.5 483.09h2.8v1.3H453.5zM464.4 485.64h2.8v1.3H464.4zM467.2 500.91h2.8v1.3H467.2zM475.4 498.37h2.8v1.3H475.4zM475.4 499.64h2.8v1.3H475.4zM499.9 500.91h2.8v1.3H499.9zM502.6 492.00h2.8v1.3H502.6zM535.4 479.27h2.8v1.3H535.4zM538.1 472.91h2.8v1.3H538.1zM554.4 470.36h2.8v1.3H554.4zM559.9 480.54h2.8v1.3H559.9zM581.7 464.00h2.8v1.3H581.7zM581.7 481.82h2.8v1.3H581.7zM592.6 461.45h2.8v1.3H592.6zM595.3 475.45h2.8v1.3H595.3zM598.1 476.72h2.8v1.3H598.1zM600.8 453.81h2.8v1.3H600.8zM614.4 480.54h2.8v1.3H614.4zM628.1 471.63h2.8v1.3H628.1zM636.3 461.45h2.8v1.3H636.3zM636.3 471.63h2.8v1.3H636.3zM671.7 488.18h2.8v1.3H671.7zM679.9 485.64h2.8v1.3H679.9zM679.9 495.82h2.8v1.3H679.9zM690.8 479.27h2.8v1.3H690.8zM704.4 474.18h2.8v1.3H704.4zM704.4 478.00h2.8v1.3H704.4zM707.2 471.63h2.8v1.3H707.2zM726.2 490.73h2.8v1.3H726.2zM729.0 478.00h2.8v1.3H729.0zM729.0 498.37h2.8v1.3H729.0zM750.8 502.19h2.8v1.3H750.8zM761.7 507.28h2.8v1.3H761.7zM780.8 497.09h2.8v1.3H780.8zM786.2 513.64h2.8v1.3H786.2zM789.0 495.82h2.8v1.3H789.0zM791.7 508.55h2.8v1.3H791.7zM802.6 495.82h2.8v1.3H802.6zM840.8 490.73h2.8v1.3H840.8zM849.0 508.55h2.8v1.3H849.0zM854.4 484.36h2.8v1.3H854.4zM857.1 495.82h2.8v1.3H857.1zM870.8 499.64h2.8v1.3H870.8zM884.4 493.27h2.8v1.3H884.4zM884.4 508.55h2.8v1.3H884.4zM909.0 540.38h2.8v1.3H909.0zM917.1 544.19h2.8v1.3H917.1zM922.6 553.11h2.8v1.3H922.6zM928.1 541.65h2.8v1.3H928.1zM955.3 534.01h2.8v1.3H955.3zM955.3 545.47h2.8v1.3H955.3zM1001.7 512.37h2.8v1.3H1001.7zM1004.4 504.73h2.8v1.3H1004.4zM1007.1 500.91h2.8v1.3H1007.1zM1042.6 483.09h2.8v1.3H1042.6zM1067.1 475.45h2.8v1.3H1067.1zM1067.1 484.36h2.8v1.3H1067.1zM1067.1 488.18h2.8v1.3H1067.1zM1080.8 484.36h2.8v1.3H1080.8zM1080.8 502.19h2.8v1.3H1080.8zM1097.1 494.55h2.8v1.3H1097.1zM1105.3 490.73h2.8v1.3H1105.3z"/>
<path fill="#ff2500" d="M210.8 504.73h2.8v1.3H210.8zM216.3 492.00h2.8v1.3H216.3zM251.7 509.82h2.8v1.3H251.7zM254.5 495.82h2.8v1.3H254.5zM289.9 517.46h2.8v1.3H289.9zM309.0 520.01h2.8v1.3H309.0zM319.9 508.55h2.8v1.3H319.9zM325.4 514.91h2.8v1.3H325.4zM330.8 511.10h2.8v1.3H330.8zM333.5 504.73h2.8v1.3H333.5zM339.0 498.37h2.8v1.3H339.0zM341.7 506.00h2.8v1.3H341.7zM349.9 508.55h2.8v1.3H349.9zM355.4 503.46h2.8v1.3H355.4zM363.5 504.73h2.8v1.3H363.5zM369.0 500.91h2.8v1.3H369.0zM371.7 503.46h2.8v1.3H371.7zM393.5 523.83h2.8v1.3H393.5zM401.7 494.55h2.8v1.3H401.7zM409.9 488.18h2.8v1.3H409.9zM415.4 476.72h2.8v1.3H415.4zM426.3 495.82h2.8v1.3H426.3zM437.2 492.00h2.8v1.3H437.2zM437.2 503.46h2.8v1.3H437.2zM445.4 492.00h2.8v1.3H445.4zM459.0 492.00h2.8v1.3H459.0zM483.5 492.00h2.8v1.3H483.5zM486.3 508.55h2.8v1.3H486.3zM497.2 502.19h2.8v1.3H497.2zM519.0 485.64h2.8v1.3H519.0zM519.0 498.37h2.8v1.3H519.0zM524.4 484.36h2.8v1.3H524.4zM527.2 481.82h2.8v1.3H527.2zM527.2 490.73h2.8v1.3H527.2zM538.1 481.82h2.8v1.3H538.1zM540.8 481.82h2.8v1.3H540.8zM540.8 493.27h2.8v1.3H540.8zM543.5 485.64h2.8v1.3H543.5zM557.2 466.54h2.8v1.3H557.2zM587.2 474.18h2.8v1.3H587.2zM600.8 458.90h2.8v1.3H600.8zM609.0 455.08h2.8v1.3H609.0zM619.9 465.27h2.8v1.3H619.9zM636.3 457.63h2.8v1.3H636.3zM636.3 472.91h2.8v1.3H636.3zM639.0 458.90h2.8v1.3H639.0zM666.2 500.91h2.8v1.3H666.2zM685.3 484.36h2.8v1.3H685.3zM688.1 479.27h2.8v1.3H688.1zM704.4 494.55h2.8v1.3H704.4zM712.6 476.72h2.8v1.3H712.6zM715.3 479.27h2.8v1.3H715.3zM720.8 467.81h2.8v1.3H720.8zM731.7 498.37h2.8v1.3H731.7zM731.7 500.91h2.8v1.3H731.7zM742.6 506.00h2.8v1.3H742.6zM756.2 512.37h2.8v1.3H756.2zM769.9 504.73h2.8v1.3H769.9zM775.3 498.37h2.8v1.3H775.3zM810.8 500.91h2.8v1.3H810.8zM813.5 511.10h2.8v1.3H813.5zM816.2 507.28h2.8v1.3H816.2zM827.1 502.19h2.8v1.3H827.1zM840.8 499.64h2.8v1.3H840.8zM846.2 495.82h2.8v1.3H846.2zM846.2 498.37h2.8v1.3H846.2zM862.6 497.09h2.8v1.3H862.6zM879.0 495.82h2.8v1.3H879.0zM903.5 531.46h2.8v1.3H903.5zM911.7 548.01h2.8v1.3H911.7zM930.8 544.19h2.8v1.3H930.8zM944.4 558.20h2.8v1.3H944.4zM958.0 527.64h2.8v1.3H958.0zM958.0 539.10h2.8v1.3H958.0zM966.2 537.83h2.8v1.3H966.2zM977.1 532.74h2.8v1.3H977.1zM988.0 535.28h2.8v1.3H988.0zM990.8 526.37h2.8v1.3H990.8zM999.0 507.28h2.8v1.3H999.0zM1018.0 497.09h2.8v1.3H1018.0zM1029.0 489.45h2.8v1.3H1029.0zM1042.6 481.82h2.8v1.3H1042.6zM1042.6 488.18h2.8v1.3H1042.6zM1053.5 484.36h2.8v1.3H1053.5zM1056.2 489.45h2.8v1.3H1056.2zM1067.1 490.73h2.8v1.3H1067.1zM1069.9 484.36h2.8v1.3H1069.9zM1069.9 498.37h2.8v1.3H1069.9zM1078.0 492.00h2.8v1.3H1078.0zM1083.5 504.73h2.8v1.3H1083.5zM1086.2 503.46h2.8v1.3H1086.2zM1091.7 488.18h2.8v1.3H1091.7zM1091.7 506.00h2.8v1.3H1091.7zM1094.4 503.46h2.8v1.3H1094.4zM1099.9 492.00h2.8v1.3H1099.9zM1102.6 478.00h2.8v1.3H1102.6z"/>
<path fill="#ff3200" d="M210.8 502.19h2.8v1.3H210.8zM216.3 503.46h2.8v1.3H216.3zM219.0 483.09h2.8v1.3H219.0zM232.6 500.91h2.8v1.3H232.6zM235.4 500.91h2.8v1.3H235.4zM259.9 495.82h2.8v1.3H259.9zM262.6 492.00h2.8v1.3H262.6zM265.4 502.19h2.8v1.3H265.4zM268.1 498.37h2.8v1.3H268.1zM270.8 497.09h2.8v1.3H270.8zM273.6 511.10h2.8v1.3H273.6zM322.6 513.64h2.8v1.3H322.6zM325.4 525.10h2.8v1.3H325.4zM344.5 511.10h2.8v1.3H344.5zM349.9 499.64h2.8v1.3H349.9zM360.8 514.91h2.8v1.3H360.8zM366.3 507.28h2.8v1.3H366.3zM371.7 497.09h2.8v1.3H371.7zM396.3 508.55h2.8v1.3H396.3zM420.8 498.37h2.8v1.3H420.8zM426.3 479.27h2.8v1.3H426.3zM426.3 481.82h2.8v1.3H426.3zM431.7 476.72h2.8v1.3H431.7zM431.7 484.36h2.8v1.3H431.7zM437.2 486.91h2.8v1.3H437.2zM442.6 488.18h2.8v1.3H442.6zM475.4 489.45h2.8v1.3H475.4zM478.1 498.37h2.8v1.3H478.1zM508.1 503.46h2.8v1.3H508.1zM527.2 485.64h2.8v1.3H527.2zM535.4 497.09h2.8v1.3H535.4zM540.8 479.27h2.8v1.3H540.8zM546.3 478.00h2.8v1.3H546.3zM565.3 476.72h2.8v1.3H565.3zM568.1 489.45h2.8v1.3H568.1zM570.8 478.00h2.8v1.3H570.8zM587.2 475.45h2.8v1.3H587.2zM619.9 469.09h2.8v1.3H619.9zM636.3 480.54h2.8v1.3H636.3zM641.7 483.09h2.8v1.3H641.7zM647.2 466.54h2.8v1.3H647.2zM649.9 489.45h2.8v1.3H649.9zM666.2 488.18h2.8v1.3H666.2zM671.7 480.54h2.8v1.3H671.7zM671.7 485.64h2.8v1.3H671.7zM685.3 489.45h2.8v1.3H685.3zM688.1 499.64h2.8v1.3H688.1zM696.2 476.72h2.8v1.3H696.2zM720.8 480.54h2.8v1.3H720.8zM726.2 485.64h2.8v1.3H726.2zM731.7 489.45h2.8v1.3H731.7zM734.4 508.55h2.8v1.3H734.4zM742.6 494.55h2.8v1.3H742.6zM745.3 494.55h2.8v1.3H745.3zM753.5 511.10h2.8v1.3H753.5zM759.0 511.10h2.8v1.3H759.0zM813.5 498.37h2.8v1.3H813.5zM816.2 497.09h2.8v1.3H816.2zM832.6 512.37h2.8v1.3H832.6zM838.1 503.46h2.8v1.3H838.1zM843.5 495.82h2.8v1.3H843.5zM868.1 499.64h2.8v1.3H868.1zM922.6 545.47h2.8v1.3H922.6zM939.0 537.83h2.8v1.3H939.0zM971.7 542.92h2.8v1.3H971.7zM974.4 531.46h2.8v1.3H974.4zM977.1 536.56h2.8v1.3H977.1zM985.3 534.01h2.8v1.3H985.3zM988.0 526.37h2.8v1.3H988.0zM990.8 522.55h2.8v1.3H990.8zM1001.7 513.64h2.8v1.3H1001.7zM1004.4 513.64h2.8v1.3H1004.4zM1009.9 507.28h2.8v1.3H1009.9zM1026.2 479.27h2.8v1.3H1026.2zM1034.4 474.18h2.8v1.3H1034.4zM1034.4 485.64h2.8v1.3H1034.4zM1039.9 483.09h2.8v1.3H1039.9zM1042.6 484.36h2.8v1.3H1042.6zM1061.7 480.54h2.8v1.3H1061.7zM1072.6 488.18h2.8v1.3H1072.6zM1080.8 490.73h2.8v1.3H1080.8zM1080.8 500.91h2.8v1.3H1080.8zM1086.2 492.00h2.8v1.3H1086.2zM1097.1 498.37h2.8v1.3H1097.1zM1102.6 492.00h2.8v1.3H1102.6zM1118.9 483.09h0.9v1.3H1118.9z"/>
<path fill="#ff4000" d="M210.8 500.91h2.8v1.3H210.8zM240.8 492.00h2.8v1.3H240.8zM251.7 506.00h2.8v1.3H251.7zM262.6 493.27h2.8v1.3H262.6zM298.1 528.92h2.8v1.3H298.1zM314.5 514.91h2.8v1.3H314.5zM328.1 520.01h2.8v1.3H328.1zM341.7 503.46h2.8v1.3H341.7zM347.2 507.28h2.8v1.3H347.2zM347.2 512.37h2.8v1.3H347.2zM358.1 516.19h2.8v1.3H358.1zM377.2 500.91h2.8v1.3H377.2zM379.9 507.28h2.8v1.3H379.9zM379.9 517.46h2.8v1.3H379.9zM418.1 486.91h2.8v1.3H418.1zM423.5 492.00h2.8v1.3H423.5zM429.0 481.82h2.8v1.3H429.0zM442.6 493.27h2.8v1.3H442.6zM448.1 490.73h2.8v1.3H448.1zM467.2 488.18h2.8v1.3H467.2zM505.4 500.91h2.8v1.3H505.4zM524.4 483.09h2.8v1.3H524.4zM524.4 488.18h2.8v1.3H524.4zM529.9 479.27h2.8v1.3H529.9zM540.8 480.54h2.8v1.3H540.8zM543.5 479.27h2.8v1.3H543.5zM557.2 486.91h2.8v1.3H557.2zM565.3 486.91h2.8v1.3H565.3zM573.5 484.36h2.8v1.3H573.5zM576.3 480.54h2.8v1.3H576.3zM584.4 475.45h2.8v1.3H584.4zM595.3 469.09h2.8v1.3H595.3zM603.5 461.45h2.8v1.3H603.5zM625.3 466.54h2.8v1.3H625.3zM628.1 458.90h2.8v1.3H628.1zM630.8 466.54h2.8v1.3H630.8zM660.8 485.64h2.8v1.3H660.8zM666.2 481.82h2.8v1.3H666.2zM666.2 506.00h2.8v1.3H666.2zM671.7 492.00h2.8v1.3H671.7zM690.8 490.73h2.8v1.3H690.8zM720.8 483.09h2.8v1.3H720.8zM726.2 483.09h2.8v1.3H726.2zM729.0 481.82h2.8v1.3H729.0zM748.1 490.73h2.8v1.3H748.1zM769.9 511.10h2.8v1.3H769.9zM780.8 488.18h2.8v1.3H780.8zM783.5 504.73h2.8v1.3H783.5zM829.9 503.46h2.8v1.3H829.9zM843.5 507.28h2.8v1.3H843.5zM849.0 492.00h2.8v1.3H849.0zM857.1 494.55h2.8v1.3H857.1zM879.0 499.64h2.8v1.3H879.0zM889.9 514.91h2.8v1.3H889.9zM914.4 541.65h2.8v1.3H914.4zM930.8 551.83h2.8v1.3H930.8zM947.1 551.83h2.8v1.3H947.1zM947.1 553.11h2.8v1.3H947.1zM960.8 536.56h2.8v1.3H960.8zM960.8 541.65h2.8v1.3H960.8zM971.7 551.83h2.8v1.3H971.7zM1048.0 476.72h2.8v1.3H1048.0zM1056.2 486.91h2.8v1.3H1056.2zM1072.6 475.45h2.8v1.3H1072.6zM1086.2 506.00h2.8v1.3H1086.2zM1088.9 490.73h2.8v1.3H1088.9zM1105.3 497.09h2.8v1.3H1105.3z"/>
<path fill="#ff4d00" d="M240.8 511.10h2.8v1.3H240.8zM240.8 512.37h2.8v1.3H240.8zM246.3 516.19h2.8v1.3H246.3zM251.7 508.55h2.8v1.3H251.7zM273.6 507.28h2.8v1.3H273.6zM513.5 490.73h2.8v1.3H513.5zM535.4 488.18h2.8v1.3H535.4zM628.1 456.36h2.8v1.3H628.1zM628.1 466.54h2.8v1.3H628.1zM862.6 500.91h2.8v1.3H862.6zM930.8 539.10h2.8v1.3H930.8zM982.6 518.73h2.8v1.3H982.6zM988.0 518.73h2.8v1.3H988.0zM1018.0 488.18h2.8v1.3H1018.0zM1034.4 475.45h2.8v1.3H1034.4zM1078.0 502.19h2.8v1.3H1078.0z"/>
<path fill="#ff5a00" d="M289.9 513.64h2.8v1.3H289.9zM330.8 506.00h2.8v1.3H330.8zM344.5 507.28h2.8v1.3H344.5zM382.6 511.10h2.8v1.3H382.6zM513.5 497.09h2.8v1.3H513.5zM600.8 455.08h2.8v1.3H600.8zM606.3 457.63h2.8v1.3H606.3zM780.8 490.73h2.8v1.3H780.8zM835.3 502.19h2.8v1.3H835.3zM838.1 497.09h2.8v1.3H838.1zM851.7 506.00h2.8v1.3H851.7zM884.4 495.82h2.8v1.3H884.4zM917.1 535.28h2.8v1.3H917.1zM922.6 544.19h2.8v1.3H922.6zM1072.6 480.54h2.8v1.3H1072.6z"/>
<path fill="#ff6800" d="M287.2 509.82h2.8v1.3H287.2zM319.9 530.19h2.8v1.3H319.9zM393.5 511.10h2.8v1.3H393.5zM409.9 499.64h2.8v1.3H409.9zM412.6 488.18h2.8v1.3H412.6zM636.3 476.72h2.8v1.3H636.3zM655.3 481.82h2.8v1.3H655.3zM769.9 509.82h2.8v1.3H769.9zM778.1 495.82h2.8v1.3H778.1zM982.6 531.46h2.8v1.3H982.6zM1004.4 511.10h2.8v1.3H1004.4z"/>
<path fill="#ff7500" d="M213.6 494.55h2.8v1.3H213.6zM216.3 507.28h2.8v1.3H216.3zM224.5 497.09h2.8v1.3H224.5zM268.1 499.64h2.8v1.3H268.1zM399.0 497.09h2.8v1.3H399.0zM404.4 490.73h2.8v1.3H404.4zM423.5 485.64h2.8v1.3H423.5zM543.5 472.91h2.8v1.3H543.5zM546.3 469.09h2.8v1.3H546.3zM647.2 480.54h2.8v1.3H647.2zM679.9 500.91h2.8v1.3H679.9zM810.8 513.64h2.8v1.3H810.8zM857.1 502.19h2.8v1.3H857.1zM936.2 550.56h2.8v1.3H936.2zM949.9 540.38h2.8v1.3H949.9z"/>
<path fill="#ff8200" d="M249.0 507.28h2.8v1.3H249.0zM609.0 461.45h2.8v1.3H609.0zM652.6 484.36h2.8v1.3H652.6zM660.8 476.72h2.8v1.3H660.8zM685.3 480.54h2.8v1.3H685.3zM723.5 475.45h2.8v1.3H723.5zM794.4 504.73h2.8v1.3H794.4zM835.3 484.36h2.8v1.3H835.3zM835.3 495.82h2.8v1.3H835.3zM859.9 485.64h2.8v1.3H859.9zM1004.4 520.01h2.8v1.3H1004.4zM1018.0 490.73h2.8v1.3H1018.0zM1042.6 490.73h2.8v1.3H1042.6zM1072.6 485.64h2.8v1.3H1072.6z"/>
<path fill="#ff9000" d="M259.9 500.91h2.8v1.3H259.9zM265.4 490.73h2.8v1.3H265.4zM349.9 493.27h2.8v1.3H349.9zM472.6 504.73h2.8v1.3H472.6zM644.4 474.18h2.8v1.3H644.4zM644.4 486.91h2.8v1.3H644.4zM658.1 499.64h2.8v1.3H658.1zM660.8 494.55h2.8v1.3H660.8zM772.6 503.46h2.8v1.3H772.6zM824.4 502.19h2.8v1.3H824.4zM840.8 508.55h2.8v1.3H840.8zM963.5 523.83h2.8v1.3H963.5zM1026.2 490.73h2.8v1.3H1026.2zM1050.8 497.09h2.8v1.3H1050.8z"/>
<path fill="#ff9d00" d="M240.8 508.55h2.8v1.3H240.8zM309.0 525.10h2.8v1.3H309.0zM374.5 499.64h2.8v1.3H374.5zM401.7 502.19h2.8v1.3H401.7zM835.3 508.55h2.8v1.3H835.3zM900.8 521.28h2.8v1.3H900.8zM919.9 542.92h2.8v1.3H919.9zM960.8 539.10h2.8v1.3H960.8z"/>
<path fill="#ffab00" d="M213.6 498.37h2.8v1.3H213.6zM276.3 494.55h2.8v1.3H276.3zM388.1 509.82h2.8v1.3H388.1zM584.4 464.00h2.8v1.3H584.4zM655.3 489.45h2.8v1.3H655.3zM729.0 486.91h2.8v1.3H729.0zM783.5 498.37h2.8v1.3H783.5zM824.4 509.82h2.8v1.3H824.4zM922.6 534.01h2.8v1.3H922.6zM947.1 549.29h2.8v1.3H947.1z"/>
<path fill="#ffb800" d="M210.8 493.27h2.8v1.3H210.8zM224.5 488.18h2.8v1.3H224.5zM292.6 517.46h2.8v1.3H292.6zM322.6 517.46h2.8v1.3H322.6zM330.8 513.64h2.8v1.3H330.8zM333.5 518.73h2.8v1.3H333.5zM336.3 509.82h2.8v1.3H336.3zM366.3 503.46h2.8v1.3H366.3zM399.0 509.82h2.8v1.3H399.0zM459.0 490.73h2.8v1.3H459.0zM576.3 483.09h2.8v1.3H576.3zM589.9 464.00h2.8v1.3H589.9zM699.0 490.73h2.8v1.3H699.0zM922.6 537.83h2.8v1.3H922.6zM928.1 535.28h2.8v1.3H928.1zM1020.8 502.19h2.8v1.3H1020.8z"/>
<path fill="#ffc500" d="M570.8 492.00h2.8v1.3H570.8zM581.7 474.18h2.8v1.3H581.7zM688.1 489.45h2.8v1.3H688.1zM737.2 497.09h2.8v1.3H737.2zM922.6 551.83h2.8v1.3H922.6z"/>
<path fill="#330000" d="M616 74.8h503.8v2H616zM208.1 120.05h274.9v1.1H208.1zM208.1 233.4h81.9v1.2H208.1zM519 272h77v2H519zM901 335.8h80v1.2H901zM437.2 541.55h16.4v2.5H437.2zM491.7 541.55h5.5v2.5H491.7zM508.1 541.55h11v2.5H508.1zM543.5 621.3h5.5v1.2H543.5zM576.3 621.3h5.5v1.2H576.3zM589.9 621.3h2.8v1.2H589.9zM606.3 621.3h2.8v1.2H606.3zM655.3 621.3h2.8v1.2H655.3z"/>
<path fill="#390000" d="M483 94h636.8v2H483zM815 298h175v1.2H815zM208.1 342h227.9v1.6H208.1zM801 415h27v1H801zM875 392.8h28.5v1H875zM871.7 472.1h26.7v1H871.7z"/>
<path fill="#400000" d="M208.1 106.85h274.9v1.1H208.1zM608 335.8h114v1.2H608zM214 433.8h138v1H214zM720 392.8h106v1H720zM840 427.7h5v1H840zM853.3 427.7h34.9v1H853.3zM238.1 502.05h2.8v1.5H238.1zM276.3 506.3h5.5v2H276.3zM423.5 529.8h8.2v2.4H423.5zM360 646.9h3.6v1.8H360zM500 621.3h16.3v1.2H500zM532.6 621.3h11v1.2H532.6zM584.4 621.3h5.5v1.2H584.4zM628.1 621.3h5.5v1.2H628.1zM636.3 621.3h5.5v1.2H636.3zM658.1 621.3h2v1.2H658.1zM500 675h67v1H500z"/>
<path fill="#470000" d="M208.1 101.05h274.9v1.1H208.1z"/>
<path fill="#4e0000" d="M483 134.15h636.8v.9H483zM483 183h636.8v1.8H483zM543 246.7h89v1.2H543zM344.7 272h138.3v2H344.7zM538 367.9h16v1H538zM214 455.3h43v1.2H214zM409.5 459.2h35.5v1H409.5zM490.7 459.2h16.5v1H490.7zM589.2 392.3h77.8v1.4H589.2zM352.6 554.5h2.8v2H352.6zM401.7 529.8h2.8v2.4H401.7zM407.2 529.8h16.4v2.4H407.2zM450.8 529.8h5.5v2.4H450.8zM461.7 529.8h13.7v2.4H461.7zM436 541.55h1.2v2.5H436zM464.4 541.55h2.8v2.5H464.4zM472.6 541.55h11v2.5H472.6zM497.2 541.55h11v2.5H497.2zM519 541.55h1.1v2.5H519zM461.7 567.2h5.5v2H461.7zM497.2 567.2h2.8v2H497.2zM783.5 567.2h8.2v2H783.5zM461.8 621.9h38.2v1H461.8zM363.5 646.9h20.9v1.8H363.5zM554.4 621.3h21.9v1.2H554.4zM581.7 621.3h2.8v1.2H581.7zM592.6 621.3h11v1.2H592.6zM622.6 621.3h5.5v1.2H622.6z"/>
<path fill="#5b0000" d="M208.1 94h274.9v2H208.1zM650 298h80v1.2H650zM233 452.9h16.5v1H233zM271 452.9h18v1H271zM292.6 452.9h19.1v1H292.6zM680 427.1h42v1.8H680zM731 427.1h49v1.8H731zM769 464.25h38v1.5H769zM890.8 459.8h33v2H890.8zM909.8 464.25h24.2v1.5H909.8zM1013 392.8h38v1H1013zM1066.5 392.8h47.5v1H1066.5zM1065 413.55h54.8v.9H1065zM224.5 502.05h5.5v1.5H224.5zM300.8 554.5h2.8v2H300.8zM404.4 529.8h2.8v2.4H404.4zM431.7 529.8h5.5v2.4H431.7zM456.3 529.8h5.5v2.4H456.3zM502.6 529.8h2.8v2.4H502.6zM459 541.55h5.5v2.5H459zM489 541.55h2.8v2.5H489zM437.2 567.2h2.8v2H437.2zM453.5 567.2h8.2v2H453.5zM489 567.2h8.2v2H489zM652.6 534.8h.6v2H652.6zM780.8 567.2h.8v2H780.8zM797.1 567.2h2.8v2H797.1zM1009.9 484h2.8v2H1009.9zM1053.5 484h5.5v2H1053.5zM1078 484h2.8v2H1078zM1083.5 484h5.5v2H1083.5zM1116.2 498.7h3.6v1.6H1116.2zM219 621.9h2.8v1H219zM276.3 621.9h8.2v1H276.3zM376.8 621.9h30.5v1H376.8zM524.4 621.3h8.2v1.2H524.4zM549 621.3h5.5v1.2H549zM603.5 621.3h2.8v1.2H603.5zM609 621.3h2.8v1.2H609zM641.7 621.3h2.8v1.2H641.7zM647.2 621.3h2.8v1.2H647.2zM759 658.4h16.4v1.2H759zM1031.7 618.1h11v2.2H1031.7zM1059 618.1h2.8v2.2H1059z"/>
<path fill="#620000" d="M228 127.05h46v1.5H228zM586 201.9h353v2H586zM208.1 335.8h155.9v1.2H208.1zM208.1 373.9h129.9v1.2H208.1z"/>
<path fill="#680000" d="M208.1 74.8h274.9v2H208.1zM284.5 554.5h8.2v2H284.5zM344.5 554.5h5.5v2H344.5zM355.4 554.5h2.8v2H355.4zM453.5 541.55h5.5v2.5H453.5zM467.2 541.55h5.5v2.5H467.2zM483.5 541.55h5.5v2.5H483.5zM401.9 567.2h2.6v2H401.9zM420.8 567.2h2.8v2H420.8zM431.7 567.2h2.8v2H431.7zM439.9 567.2h13.7v2H439.9zM467.2 567.2h13.7v2H467.2zM499.9 567.2h8.2v2H499.9zM510.8 567.2h9.2v2H510.8zM568.1 534.8h2.8v2H568.1zM609 534.8h2.8v2H609zM633.5 534.8h5.5v2H633.5zM764.4 567.2h5.5v2H764.4zM781.5 567.2h2.1v2H781.5zM799.9 567.2h8.2v2H799.9zM832.6 567.2h7.4v2H832.6zM1080.8 484h2.8v2H1080.8zM1026.2 491.2h5.5v1.6H1026.2zM1027 498.7h2v1.6H1027zM1034.4 498.7h5.5v1.6H1034.4zM1102.6 498.7h5.5v1.6H1102.6zM294 619h4.1v1.8H294zM306.3 619h2.8v1.8H306.3zM317.2 619h13.6v1.8H317.2zM224.5 621.9h2.8v1H224.5zM232.6 621.9h2.8v1H232.6zM262.6 621.9h2.8v1H262.6zM292.6 646.75h8.2v1.5H292.6zM314.5 646.75h2.8v1.5H314.5zM341.7 646.75h2.8v1.5H341.7zM355.4 646.75h4.7v1.5H355.4zM516.3 621.3h8.2v1.2H516.3zM611.7 621.3h11v1.2H611.7zM633.5 621.3h2.8v1.2H633.5zM644.4 621.3h2.8v1.2H644.4zM649.9 621.3h5.5v1.2H649.9zM783.5 658.4h8.2v1.2H783.5zM1042.6 618.1h5.5v2.2H1042.6zM1056.2 618.1h2.8v2.2H1056.2zM1064.4 618.1h2.8v2.2H1064.4z"/>
<path fill="#6f0000" d="M483 201.9h103v2H483zM644 329.9h364v1H644zM981 335.8h138.8v1.2H981zM247 402.4h40.5v.8H247zM208.1 415h11.6v1H208.1zM464 388.85h18.8v2.1H464zM450.7 463.8h54v2H450.7zM634.8 388.25h14v2.5H634.8zM603 404.9h3.3v1H603zM619 422.15h35.5v1.5H619zM625.3 426.5h54.7v2.4H625.3zM826 392.8h14v1H826zM760 459.2h47v2.4H760zM680 468.7h31.7v2.2H680zM840 392.8h35v1H840zM840 455.4h35v1H840zM845 459.8h31.8v2H845zM1048.7 446.1h10.1v1H1048.7zM380.3 556.8h139.7v1.2H380.3zM208.1 644.8h9v1H208.1zM208.1 650.8h9v1.2H208.1zM296.4 650.8h12.6v1.2H296.4zM360 582.3h16.8v1H360zM870 673.1h16.5v1H870z"/>
<path fill="#760000" d="M212.7 502.05h.9v1.5H212.7zM295.4 506.3h2.8v2H295.4zM327 532.3h3.9v2H327zM235.4 540.95h2.7v2.5H235.4zM325.4 554.5h5.5v2H325.4zM235.4 567.8h2.8v2H235.4zM240.8 567.8h1.1v2H240.8zM390.5 529.8h3.1v2.4H390.5zM475.4 529.8h27.3v2.4H475.4zM513.5 529.8h6.5v2.4H513.5zM404.4 544.25h8.2v1.5H404.4zM418.1 544.25h8.2v1.5H418.1zM437.2 544.25h5.5v1.5H437.2zM453.5 544.25h8.2v1.5H453.5zM469.9 544.25h2.8v1.5H469.9zM491.7 544.25h8.2v1.5H491.7zM505.4 544.25h5.5v1.5H505.4zM404.4 567.2h2.8v2H404.4zM423.5 567.2h5.5v2H423.5zM480.8 567.2h8.2v2H480.8zM508.1 567.2h2.8v2H508.1zM456.3 572.8h2.8v2.2H456.3zM497.2 572.8h8.2v2.2H497.2zM516.3 572.8h3.8v2.2H516.3zM559.9 502.75h5.5v1.5H559.9zM655.3 504.65h2.8v1.5H655.3zM666.2 504.65h1v1.5H666.2zM655.3 518.55h2.8v1.5H655.3zM674.4 518.55h2.8v1.5H674.4zM520 529.8h1.8v2H520zM546.3 529.8h8.2v2H546.3zM557.2 529.8h2.8v2H557.2zM549 534.8h2.8v2H549zM565.3 534.8h2.8v2H565.3zM570.8 534.8h11v2H570.8zM600.8 534.8h2.8v2H600.8zM611.7 534.8h8.2v2H611.7zM625.3 534.8h2.8v2H625.3zM554.4 563.05h21.9v1.5H554.4zM581.7 563.05h13.7v1.5H581.7zM603.5 563.05h2.8v1.5H603.5zM611.7 563.05h8.2v1.5H611.7zM633.5 563.05h5.5v1.5H633.5zM647.2 563.05h2.8v1.5H647.2zM655.3 563.05h8.2v1.5H655.3zM674.4 563.05h5.5v1.5H674.4zM680 516.4h2.7v2H680zM707.2 516.4h11v2H707.2zM789 543.95h2.8v1.5H789zM802.6 543.95h2.8v1.5H802.6zM821.7 543.95h2.8v1.5H821.7zM769.9 567.2h11v2H769.9zM810.8 567.2h11v2H810.8zM827.1 567.2h2.8v2H827.1zM876.2 483.75h2.8v2.5H876.2zM895.3 491h2.8v2H895.3zM958 516h5.5v2H958zM843.5 542.05h5.5v1.5H843.5zM868.1 542.05h2.8v1.5H868.1zM881.7 542.05h2.8v1.5H881.7zM887.1 563.5h1.1v1.2H887.1zM1023.5 484h2.8v2H1023.5zM1072.6 484h5.5v2H1072.6zM1045.3 498.7h2.8v1.6H1045.3zM1067.1 498.7h5.5v1.6H1067.1zM1110.8 501.7h2.8v1.6H1110.8zM1053.5 521.5h2.8v2H1053.5zM1080.8 521.5h2.8v2H1080.8zM240.8 593.85h1.1v1.3H240.8zM217 621.9h2.1v1H217zM221.7 621.9h2.8v1H221.7zM235.4 621.9h24.6v1H235.4zM270.8 621.9h5.5v1H270.8zM284.5 621.9h8.2v1H284.5zM291.4 646.75h1.3v1.5H291.4zM309 646.75h5.5v1.5H309zM322.6 646.75h2.8v1.5H322.6zM339 646.75h2.8v1.5H339zM301.5 660h2.1v1H301.5zM328.1 660h11v1H328.1zM352.6 660h2.8v1H352.6zM358.1 660h2v1H358.1zM409.9 632.6h11v2.4H409.9zM439.9 632.6h32.8v2.4H439.9zM489 632.6h5.5v2.4H489zM737.2 620.15h11v2.5H737.2zM750.8 620.15h2.8v2.5H750.8zM767.2 620.15h8.2v2.5H767.2zM859.9 620.15h5.5v2.5H859.9zM755 658.4h4v1.2H755zM778.1 658.4h5.5v1.2H778.1zM936.2 604.9h2.3v2H936.2zM881.7 618.1h5.5v2.2H881.7zM892.6 618.1h5.5v2.2H892.6zM969 644.8h8.2v1H969zM909 669.1h8.2v1H909zM930.8 669.1h5.5v1H930.8zM941.7 669.1h5.5v1H941.7zM966.2 669.1h16.4v1H966.2zM1007.1 669.1h2.8v1H1007.1zM1053.8 593.9h16.1v1.2H1053.8zM1072.6 593.9h19.1v1.2H1072.6zM1097.1 593.9h5.5v1.2H1097.1zM1110.8 593.9h5.5v1.2H1110.8zM1069.9 618.1h2.8v2.2H1069.9zM1031.7 670.8h5.5v2.2H1031.7zM1061.7 670.8h2.8v2.2H1061.7zM1075.3 670.8h5.5v2.2H1075.3zM1083.5 670.8h11v2.2H1083.5zM1108 670.8h2.8v2.2H1108z"/>
<path fill="#7c0000" d="M483 74.8h133v2H483zM208.1 355h291.9v1H208.1z"/>
<path fill="#830000" d="M722 427.1h9v1.8H722zM905.4 408h67.5v1.8H905.4zM339 532.3h21.1v2H339zM229.9 540.95h2.8v2.5H229.9zM328.1 540.95h2.8v2.5H328.1zM276.3 554.5h2.8v2H276.3zM292.6 554.5h2.8v2H292.6zM303.5 554.5h5.5v2H303.5zM336.3 554.5h5.5v2H336.3zM238.1 567.8h2.8v2H238.1zM393.5 529.8h8.2v2.4H393.5zM437.2 529.8h11v2.4H437.2zM505.4 529.8h8.2v2.4H505.4zM396.8 544.25h5v1.5H396.8zM415.4 544.25h2.8v1.5H415.4zM472.6 544.25h2.8v1.5H472.6zM510.8 544.25h5.5v1.5H510.8zM407.2 567.2h13.7v2H407.2zM434.4 567.2h2.8v2H434.4zM448.1 572.8h2.8v2.2H448.1zM459 572.8h2.8v2.2H459zM464.4 572.8h11v2.2H464.4zM513.5 572.8h2.8v2.2H513.5zM565.3 502.75h11v1.5H565.3zM581.7 502.75h1.8v1.5H581.7zM562.6 518.55h2.8v1.5H562.6zM527.2 529.8h5.5v2H527.2zM520 534.8h4.5v2H520zM535.4 534.8h13.7v2H535.4zM551.7 534.8h2.8v2H551.7zM562.6 534.8h2.8v2H562.6zM619.9 534.8h5.5v2H619.9zM628.1 534.8h5.5v2H628.1zM644.4 534.8h2.8v2H644.4zM546.3 563.05h8.2v1.5H546.3zM576.3 563.05h5.5v1.5H576.3zM595.3 563.05h8.2v1.5H595.3zM606.3 563.05h5.5v1.5H606.3zM644.4 563.05h2.8v1.5H644.4zM649.9 563.05h5.5v1.5H649.9zM663.5 563.05h8.2v1.5H663.5zM688.1 516.4h8.2v2H688.1zM760 543.95h15.4v1.5H760zM805.3 543.95h13.7v1.5H805.3zM829.9 543.95h8.2v1.5H829.9zM791.7 567.2h5.5v2H791.7zM808.1 567.2h2.8v2H808.1zM821.7 567.2h5.5v2H821.7zM829.9 567.2h2.8v2H829.9zM881.7 483.75h2.8v2.5H881.7zM876.2 542.05h2.8v1.5H876.2zM903.5 554.15h1.2v1.5H903.5zM917.1 554.15h8.2v1.5H917.1zM979.9 560.55h8.2v1.3H979.9zM982.6 567.1h5.5v2.2H982.6zM1067.1 501.7h2.8v1.6H1067.1zM1113.5 501.7h6.3v1.6H1113.5zM1026.2 521.5h5.5v2H1026.2zM1037.1 521.5h5.5v2H1037.1zM1050.8 521.5h2.8v2H1050.8zM1009.9 560.6h2.8v1.2H1009.9zM1029 560.6h5.5v1.2H1029zM1059 560.6h5.5v1.2H1059zM1105.3 560.6h2.8v1.2H1105.3zM298.1 580.6h5.5v1.2H298.1zM208.1 593.85h5.5v1.3H208.1zM216.3 593.85h2.8v1.3H216.3zM298.1 619h8.2v1.8H298.1zM309 619h8.2v1.8H309zM265.4 621.9h.7v1H265.4zM269.2 621.9h1.7v1H269.2zM292.6 621.9h16.4v1H292.6zM300.8 646.75h5.5v1.5H300.8zM317.2 646.75h5.5v1.5H317.2zM325.4 646.75h13.7v1.5H325.4zM344.5 646.75h8.2v1.5H344.5zM303.5 660h5.5v1H303.5zM319.9 660h2.8v1H319.9zM339 660h13.7v1H339zM420.8 632.6h19.1v2.4H420.8zM472.6 632.6h16.4v2.4H472.6zM494.4 632.6h.4v2.4H494.4zM780.8 620.15h5.5v2.5H780.8zM829.9 620.15h2.8v2.5H829.9zM865.3 620.15h4.7v2.5H865.3zM791.7 658.4h1.4v1.2H791.7zM899.2 604.9h7.1v2H899.2zM949.9 644.8h8.2v1H949.9zM960.8 644.8h2.8v1H960.8zM977.1 644.8h2.8v1H977.1zM908 669.1h1v1H908zM939 669.1h2.8v1H939zM952.6 669.1h5.5v1H952.6zM982.6 669.1h5.5v1H982.6zM1009.9 669.1h13.7v1H1009.9zM1029 669.1h1.1v1H1029zM1091.7 593.9h5.5v1.2H1091.7zM1102.6 593.9h8.2v1.2H1102.6zM1116.2 593.9h3.6v1.2H1116.2zM1030 618.1h1.7v2.2H1030zM1048 618.1h8.2v2.2H1048zM1061.7 618.1h2.8v2.2H1061.7zM1056.2 670.8h2.8v2.2H1056.2zM1064.4 670.8h2.8v2.2H1064.4zM1072.6 670.8h2.8v2.2H1072.6zM1099.9 670.8h8.2v2.2H1099.9zM1110.8 670.8h9v2.2H1110.8z"/>
<path fill="#900000" d="M1100 287.6h19.8v1.2H1100zM208.1 298h441.9v1.2H208.1zM730 298h85v1.2H730zM338 373.9h662v1.2H338zM325.6 452.9h34.4v1H325.6zM499.6 434.3h20.4v1.8H499.6zM414.6 472.9h57.1v1.2H414.6zM625.3 402.15h24.1v.9H625.3zM520 434.75h48.2v1.5H520zM649.4 442.3h30.6v1H649.4zM782 441h54.7v1.8H782zM680 445.35h160v1.3H680zM799 455.3h13v1.2H799zM706 464.25h27.3v1.5H706zM807 477.75h25v1.3H807zM857.8 445.35h142.2v1.3H857.8zM840 464.25h31.7v1.5H840zM1051 392.8h15.5v1H1051zM1024.6 464.1h29.2v1.8H1024.6zM298.1 491.95h8.2v1.5H298.1zM281.7 506.3h5.5v2H281.7zM303.5 506.3h2.8v2H303.5zM347.2 536.95h2.8v1.5H347.2zM358.1 536.95h2v1.5H358.1zM349.9 554.5h2.8v2H349.9zM336.3 572.4h5.5v2.2H336.3zM483 515.8h37v2H483zM448.1 529.8h2.8v2.4H448.1zM412.6 544.25h2.8v1.5H412.6zM426.3 544.25h8.2v1.5H426.3zM489 544.25h2.8v1.5H489zM494.5 554.4h7.5v1H494.5zM429 567.2h2.8v2H429zM442.6 572.8h5.5v2.2H442.6zM461.7 572.8h2.8v2.2H461.7zM475.4 572.8h8.2v2.2H475.4zM486.3 572.8h11v2.2H486.3zM505.4 572.8h8.2v2.2H505.4zM520 496.8h6.3v2H520zM546.3 502.75h2.8v1.5H546.3zM663.5 504.65h2.8v1.5H663.5zM584.4 506.7h11v2H584.4zM520 510.5h7.6v2.4H520zM542.8 518.55h.8v1.5H542.8zM652 518.55h3.4v1.5H652zM658.1 518.55h2.8v1.5H658.1zM663.5 518.55h11v1.5H663.5zM542.8 520.9h7.7v2H542.8zM559.9 529.8h18.6v2H559.9zM595 532.8h58.2v1H595zM524.4 534.8h11v2H524.4zM554.4 534.8h2.8v2H554.4zM587.2 534.8h13.7v2H587.2zM603.5 534.8h5.5v2H603.5zM639 534.8h5.5v2H639zM647.2 534.8h5.5v2H647.2zM520 560.6h58.4v1.2H520zM619.9 563.05h13.7v1.5H619.9zM639 563.05h5.5v1.5H639zM671.7 563.05h2.8v1.5H671.7zM520 573.3h14v1.2H520zM682.6 516.4h5.5v2H682.6zM791.7 543.95h5.5v1.5H791.7zM819 543.95h2.8v1.5H819zM737.2 563.05h5.5v1.5H737.2zM730.8 567.2h1v2H730.8zM737.2 567.2h2.8v2H737.2zM745.3 567.2h19.1v2H745.3zM906.2 491h2.8v2H906.2zM857.1 542.05h11v1.5H857.1zM870.8 542.05h5.5v1.5H870.8zM889.9 542.05h2.8v1.5H889.9zM840.8 544h2.8v2H840.8zM933.5 554.15h.5v1.5H933.5zM988 560.55h11v1.3H988zM1067.1 484h5.5v2H1067.1zM1097.1 484h22.7v2H1097.1zM1072.6 521.5h8.2v2H1072.6zM1012.6 533.85h2.8v1.5H1012.6zM1038.5 549.2h7.5v1.2H1038.5zM1110.8 549.2h9v1.2H1110.8zM1004.4 560.6h2.8v1.2H1004.4zM1034.4 560.6h2.8v1.2H1034.4zM1075.3 560.6h8.2v1.2H1075.3zM1097.1 560.6h8.2v1.2H1097.1zM1108 560.6h2.8v1.2H1108zM322.6 580.6h4.4v1.2H322.6zM310.4 586.4h7.6v1H310.4zM213.6 593.85h2.8v1.3H213.6zM224.5 593.85h5.5v1.3H224.5zM227.2 621.9h5.5v1H227.2zM259.9 621.9h2.8v1H259.9zM306.3 646.75h2.8v1.5H306.3zM352.6 646.75h2.8v1.5H352.6zM309 660h11v1H309zM322.6 660h5.5v1H322.6zM355.4 660h2.8v1H355.4zM396.3 594h2.8v1H396.3zM407.2 594h5.5v1H407.2zM426.3 594h2.8v1H426.3zM475.4 594h2.8v1H475.4zM489 594h8.2v1H489zM360 660h57.4v1H360zM500 613.75h170v.9H500zM538.1 633.3h8.2v1.8H538.1zM500 659.7h87v1.2H500zM594.6 666h75.4v2H594.6zM670 612.8h200v1H670zM775.3 620.15h5.5v2.5H775.3zM802.6 620.15h5.5v2.5H802.6zM840.8 620.15h13.7v2.5H840.8zM670 633.3h7.2v1.8H670zM682.6 633.3h2.8v1.8H682.6zM726.2 633.3h5.5v1.8H726.2zM838.1 633.3h2.8v1.8H838.1zM859.9 633.3h8.2v1.8H859.9zM775.3 658.4h2.8v1.2H775.3zM805.3 675.9h19.1v1.2H805.3zM835.3 675.9h11v1.2H835.3zM862.6 675.9h2.8v1.2H862.6zM868.1 675.9h2v1.2H868.1zM879 593.9h2.8v1.2H879zM1009.9 593.9h20.2v1.2H1009.9zM914.4 604.9h2.8v2H914.4zM882.7 610.2h1.8v2H882.7zM898.1 610.2h2.8v2H898.1zM870 618.1h6.3v2.2H870zM879 618.1h2.8v2.2H879zM887.1 618.1h5.5v2.2H887.1zM889.9 623.4h2.8v1H889.9zM895.3 623.4h16.4v1H895.3zM947.1 644.8h2.8v1H947.1zM966.2 644.8h2.8v1H966.2zM988 644.8h1.3v1H988zM980.4 652.4h49.6v1H980.4zM886.5 659.9h26.5v1.2H886.5zM947.1 664h2.8v1H947.1zM969 664h5.5v1H969zM999 664h5.5v1H999zM919.9 669.1h5.5v1H919.9zM936.2 669.1h2.8v1H936.2zM947.1 669.1h2.8v1H947.1zM958 669.1h8.2v1H958zM993.5 669.1h13.7v1H993.5zM1023.5 669.1h5.5v1H1023.5zM887.8 670.8h22.8v2.2H887.8zM1061.7 586.5h2.8v2H1061.7zM1069.9 593.9h2.8v1.2H1069.9zM1067.1 618.1h2.8v2.2H1067.1zM1107.7 618.1h12.1v2.2H1107.7zM1095 623.4h24.8v1H1095zM1059 632.6h2.8v2.4H1059zM1030 652.4h28.8v1H1030zM1030 659.4h1.7v1H1030zM1030 670.8h1.7v2.2H1030zM1037.1 670.8h8.2v2.2H1037.1zM1059 670.8h2.8v2.2H1059zM1080.8 670.8h2.8v2.2H1080.8zM1094.4 670.8h5.5v2.2H1094.4z"/>
<path fill="#9e0000" d="M208.1 183h274.9v1.8H208.1zM760 408h80v1.8H760zM840 417.95h132.9v2.1H840zM281.2 491.95h.6v1.5H281.2zM306.3 491.95h2.8v1.5H306.3zM240.8 502.05h5.5v1.5H240.8zM287.2 506.3h8.2v2H287.2zM298.1 506.3h2.8v2H298.1zM306.3 506.3h2.8v2H306.3zM219 540.95h5.5v2.5H219zM298.1 554.5h2.8v2H298.1zM309 554.5h5.5v2H309zM322.6 554.5h2.8v2H322.6zM412.6 521.75h8.2v1.5H412.6zM491.7 534.05h2.8v3.5H491.7zM499.9 534.05h2.8v3.5H499.9zM516.3 534.05h3.8v3.5H516.3zM396.8 541.55h5v2.5H396.8zM404.4 541.55h2.8v2.5H404.4zM475.4 544.25h13.7v1.5H475.4zM519 544.25h1.1v1.5H519zM483.5 572.8h2.8v2.2H483.5zM543.5 502.75h2.8v1.5H543.5zM652 504.65h3.4v1.5H652zM565.3 506.7h2.8v2H565.3zM579 506.7h5.5v2H579zM543.5 518.55h19.1v1.5H543.5zM565.3 518.55h5.5v1.5H565.3zM587.2 518.55h8.2v1.5H587.2zM677.2 518.55h2.8v1.5H677.2zM557.2 534.8h5.5v2H557.2zM581.7 534.8h5.5v2H581.7zM737.2 492.25h11v1.5H737.2zM718.1 516.4h15.3v2H718.1zM797.1 543.95h5.5v1.5H797.1zM824.4 543.95h5.5v1.5H824.4zM680 563.05h2.7v1.5H680zM688.1 563.05h27.3v1.5H688.1zM734.4 563.05h2.8v1.5H734.4zM742.6 563.05h2.8v1.5H742.6zM731.7 567.2h5.5v2H731.7zM739.9 567.2h5.5v2H739.9zM849 483.75h2.8v2.5H849zM898.1 491h8.2v2H898.1zM953 516h5.1v2H953zM963.5 516h2.8v2H963.5zM840 542.05h3.6v1.5H840zM868.1 544h11v2H868.1zM888.2 554.15h1.7v1.5H888.2zM895.3 554.15h2.8v1.5H895.3zM977.1 567.1h5.5v2.2H977.1zM1012.6 484h8.2v2H1012.6zM1042.6 484h11v2H1042.6zM1034.4 491.2h5.5v1.6H1034.4zM1029 501.7h5.5v1.6H1029zM1072.6 501.7h2.8v1.6H1072.6zM1048 521.5h2.8v2H1048zM1004.4 533.85h5.5v1.5H1004.4zM1048 533.85h8.2v1.5H1048zM1072.6 533.85h2.8v1.5H1072.6zM1091.7 533.85h2.8v1.5H1091.7zM1053.5 535.9h5.5v1.2H1053.5zM1083.5 549.2h5.5v1.2H1083.5zM1007.1 560.6h2.8v1.2H1007.1zM1039.9 560.6h5.5v1.2H1039.9zM1053.5 560.6h2.8v1.2H1053.5zM297.7 580.6h.4v1.2H297.7zM306.3 580.6h5.5v1.2H306.3zM294 610.7h1.4v1H294zM309 610.7h5.5v1H309zM360 594h3.6v1H360zM401.7 594h5.5v1H401.7zM412.6 594h11v1H412.6zM429 594h5.5v1H429zM535.4 582.05h8.2v1.5H535.4zM551.7 582.05h2.8v1.5H551.7zM565.3 582.05h11v1.5H565.3zM500 633.3h16.3v1.8H500zM519 633.3h2.8v1.8H519zM557.2 633.3h13.7v1.8H557.2zM764.4 620.15h2.8v2.5H764.4zM786.2 620.15h5.5v2.5H786.2zM832.6 620.15h5.5v2.5H832.6zM699 633.3h5.5v1.8H699zM712.6 633.3h13.7v1.8H712.6zM742.6 633.3h2.8v1.8H742.6zM748.1 633.3h11v1.8H748.1zM778.1 633.3h54.6v1.8H778.1zM835.3 633.3h2.8v1.8H835.3zM840.8 633.3h2.8v1.8H840.8zM846.2 675.9h2.8v1.2H846.2zM859.9 675.9h2.8v1.2H859.9zM865.3 675.9h2.8v1.2H865.3zM887.1 593.9h8.2v1.2H887.1zM933.5 593.9h5.5v1.2H933.5zM949.9 593.9h13.7v1.2H949.9zM966.2 593.9h5.5v1.2H966.2zM988 593.9h5.5v1.2H988zM917.1 604.9h11v2H917.1zM900.8 618.1h1v2.2H900.8zM884.4 623.4h2.8v1H884.4zM911.7 623.4h1.4v1H911.7zM943.6 644.8h3.6v1H943.6zM979.9 644.8h2.8v1H979.9zM1004.4 659.9h5.5v1.2H1004.4zM933.5 664h8.2v1H933.5zM955.3 664h11v1H955.3zM974.4 664h8.2v1H974.4zM1007.1 664h16.4v1H1007.1zM925.3 669.1h5.5v1H925.3zM949.9 669.1h2.8v1H949.9zM988 669.1h5.5v1H988zM1045.3 586.5h16.4v2H1045.3zM1064.4 586.5h8.2v2H1064.4zM1064.4 632.6h8.2v2.4H1064.4zM1078 632.6h2.8v2.4H1078zM1086.2 632.6h2.8v2.4H1086.2zM1091.7 632.6h8.2v2.4H1091.7zM1034.4 659.4h27.3v1H1034.4zM1075.3 659.4h8.2v1H1075.3zM1045.3 670.8h11v2.2H1045.3zM1067.1 670.8h5.5v2.2H1067.1zM876.2 675.9h2.8v1.2H876.2zM881.7 675.9h4.9v1.2H881.7z"/>
<path fill="#ab0000" d="M208.1 272h119.6v2H208.1zM730.8 417.95h109.2v2.1H730.8zM309 491.95h5v1.5H309zM330.8 536.95h8.2v1.5H330.8zM330.8 540.95h5.5v2.5H330.8zM295.4 554.5h2.8v2H295.4zM314.5 554.5h2.8v2H314.5zM341.7 554.5h2.8v2H341.7zM314.5 572.4h2.8v2.2H314.5zM344.5 572.4h2.8v2.2H344.5zM483 534.05h8.8v3.5H483zM415.4 541.55h8.2v2.5H415.4zM431.7 541.55h4.3v2.5H431.7zM401.7 544.25h2.8v1.5H401.7zM434.4 544.25h2.8v1.5H434.4zM442.6 544.25h11v1.5H442.6zM461.7 544.25h8.2v1.5H461.7zM499.9 544.25h5.5v1.5H499.9zM516.3 544.25h2.8v1.5H516.3zM440 572.8h2.7v2.2H440zM450.8 572.8h5.5v2.2H450.8zM542.8 502.75h.8v1.5H542.8zM549 502.75h11v1.5H549zM576.3 502.75h5.5v1.5H576.3zM658.1 504.65h5.5v1.5H658.1zM559.3 506.7h.6v2H559.3zM568.1 506.7h2.8v2H568.1zM595.3 506.7h.7v2H595.3zM570.8 518.55h16.4v1.5H570.8zM595.3 518.55h.7v1.5H595.3zM660.8 518.55h2.8v1.5H660.8zM521.7 529.8h5.5v2H521.7zM532.6 529.8h13.7v2H532.6zM554.4 529.8h2.8v2H554.4zM696.2 516.4h2.8v2H696.2zM775.3 543.95h13.7v1.5H775.3zM838.1 543.95h2v1.5H838.1zM682.6 563.05h5.5v1.5H682.6zM840 483.75h.8v2.5H840zM879 483.75h2.8v2.5H879zM890.8 491h4.6v2H890.8zM909 491h12.3v2H909zM879 542.05h2.8v1.5H879zM892.6 542.05h2.1v1.5H892.6zM919.9 548.5h2.8v3H919.9zM925.3 548.5h8.2v3H925.3zM925.3 554.15h8.2v1.5H925.3zM999 560.55h1.1v1.3H999zM856.5 563.5h6.1v1.2H856.5zM881.7 563.5h5.5v1.2H881.7zM1088.9 484h8.2v2H1088.9zM1029 498.7h5.5v1.6H1029zM1039.9 498.7h5.5v1.6H1039.9zM1069.9 501.7h2.8v1.6H1069.9zM1042.6 521.5h5.5v2H1042.6zM1083.5 521.5h.8v2H1083.5zM1001.7 529.35h11v1.5H1001.7zM1034.4 529.35h13.7v1.5H1034.4zM1110.8 529.35h2.8v1.5H1110.8zM1056.2 533.85h5.5v1.5H1056.2zM1102.6 533.85h2.8v1.5H1102.6zM1026.2 535.9h8.2v1.2H1026.2zM1099.9 535.9h2.8v1.2H1099.9zM1081.7 549.2h1.8v1.2H1081.7zM1088.9 549.2h2.8v1.2H1088.9zM1097.1 549.2h2.8v1.2H1097.1zM1012.6 560.6h2.8v1.2H1012.6zM1037.1 560.6h2.8v1.2H1037.1zM1045.3 560.6h5.5v1.2H1045.3zM1056.2 560.6h2.8v1.2H1056.2zM1083.5 560.6h13.7v1.2H1083.5zM303.5 580.6h2.8v1.2H303.5zM311.7 580.6h11v1.2H311.7zM219 593.85h5.5v1.3H219zM229.9 593.85h11v1.3H229.9zM295.4 610.7h13.7v1H295.4zM314.5 610.7h2.4v1H314.5zM393.5 594h2.8v1H393.5zM439.9 594h2.8v1H439.9zM469.9 594h2.8v1H469.9zM500 582.05h2.7v1.5H500zM508.1 582.05h27.3v1.5H508.1zM543.5 582.05h2.8v1.5H543.5zM516.3 633.3h2.8v1.8H516.3zM521.7 633.3h11v1.8H521.7zM554.4 633.3h2.8v1.8H554.4zM732.3 620.15h4.9v2.5H732.3zM677.2 633.3h5.5v1.8H677.2zM685.3 633.3h11v1.8H685.3zM731.7 633.3h2.8v1.8H731.7zM769.9 633.3h8.2v1.8H769.9zM868.1 633.3h2v1.8H868.1zM800.8 675.9h4.6v1.2H800.8zM824.4 675.9h11v1.2H824.4zM849 675.9h11v1.2H849zM909 593.9h11v1.2H909zM922.6 593.9h5.5v1.2H922.6zM974.4 593.9h5.5v1.2H974.4zM996.2 593.9h2.8v1.2H996.2zM928.1 604.9h8.2v2H928.1zM884.4 610.2h13.7v2H884.4zM876.2 618.1h2.8v2.2H876.2zM898.1 618.1h2.8v2.2H898.1zM1009.9 618.1h2.8v2.2H1009.9zM1020.8 618.1h2.8v2.2H1020.8zM1029 618.1h1.1v2.2H1029zM870 623.4h9v1H870zM958 644.8h2.8v1H958zM963.5 644.8h2.8v1H963.5zM982.6 644.8h5.5v1H982.6zM996.2 659.9h8.2v1.2H996.2zM1015.3 659.9h14.7v1.2H1015.3zM944.4 664h2.8v1H944.4zM966.2 664h2.8v1H966.2zM985.3 664h2.8v1H985.3zM917.1 669.1h2.8v1H917.1zM1038.5 586.5h1.4v2H1038.5zM1051.2 632.6h7.8v2.4H1051.2zM1080.8 632.6h5.5v2.4H1080.8zM1088.9 632.6h2.8v2.4H1088.9zM1105.3 632.6h14.5v2.4H1105.3zM1031.7 659.4h2.8v1H1031.7zM1072.6 659.4h2.8v1H1072.6zM1105.3 659.4h8.2v1H1105.3zM1116.2 659.4h3.6v1H1116.2zM870 675.9h6.3v1.2H870zM879 675.9h2.8v1.2H879z"/>
<path fill="#b20000" d="M418.4 455.15h19v1.5H418.4zM743.5 468.7h16.5v2.2H743.5zM680 471.9h7v1H680zM840 408h65.4v1.8H840zM983.4 468.7h16.6v2.2H983.4zM1114 392.8h5.8v1H1114zM1039 417.95h14.8v2.1H1039zM1058.8 455.15h47.6v1.5H1058.8zM1110.9 455.15h8.9v1.5H1110.9zM1106.4 464.1h13.4v1.8H1106.4zM1000 468.7h1.7v2.2H1000zM807 563.05h33v1.5H807zM987.2 558.1h12.8v1.8H987.2zM229.8 635.25h36.2v.9H229.8zM325.6 675h34.4v1H325.6zM483.4 582.3h16.6v1H483.4zM423 660h49v1H423zM885 689.9h51.4v1.6H885zM937 581.9h6v1.8H937zM880 632.7h14v2.2H880z"/>
<path fill="#b90000" d="M939 201.9h180.8v2H939zM213.6 502.05h5.5v1.5H213.6zM229.9 502.05h8.2v1.5H229.9zM333.5 532.3h5.5v2H333.5zM349.9 536.95h8.2v1.5H349.9zM349.9 540.95h10.1v2.5H349.9zM327 543.7h1.1v2H327zM317.2 554.5h2.8v2H317.2zM330.8 554.5h5.5v2H330.8zM208.1 567.8h5.5v2H208.1zM221.7 567.8h2.8v2H221.7zM270.8 567.8h2.8v2H270.8zM284.5 567.8h2.8v2H284.5zM304 572.4h2.3v2.2H304zM347.2 572.4h5.5v2.2H347.2zM358.1 572.4h2v2.2H358.1zM363.5 505.2h2.8v1.6H363.5zM410.8 521.75h1.9v1.5H410.8zM472.6 521.75h8.2v1.5H472.6zM363.5 529.8h2.8v2.4H363.5zM494.4 534.05h2.8v3.5H494.4zM423.5 541.55h2.8v2.5H423.5zM559.9 506.7h5.5v2H559.9zM570.8 506.7h5.5v2H570.8zM671.7 529.8h8.2v2H671.7zM733.3 492.25h1.2v1.5H733.3zM699 516.4h5.5v2H699zM751.7 523.65h1.9v1.5H751.7zM791.7 523.65h2.8v1.5H791.7zM715.3 563.05h19.1v1.5H715.3zM745.3 563.05h8.2v1.5H745.3zM854.4 483.75h5.5v2.5H854.4zM870.8 483.75h5.5v2.5H870.8zM868.1 503.2h7.5v1.6H868.1zM947.1 506.6h5.5v2.2H947.1zM958 506.6h15.2v2.2H958zM843.5 509.7h2.8v1.6H843.5zM851.7 509.7h5.5v1.6H851.7zM884.4 542.05h5.5v1.5H884.4zM840 544h.8v2H840zM843.5 544h2.8v2H843.5zM887.1 544h2.8v2H887.1zM889.9 554.15h5.5v1.5H889.9zM916.1 554.15h1.1v1.5H916.1zM999 567.1h1.1v2.2H999zM1064.4 484h2.8v2H1064.4zM1110.8 498.7h5.5v1.6H1110.8zM1027 501.7h2v1.6H1027zM1088.9 501.7h2.8v1.6H1088.9zM1056.2 521.5h13.7v2H1056.2zM1080.8 529.35h13.7v1.5H1080.8zM1116.2 529.35h3.6v1.5H1116.2zM1023.5 533.85h5.5v1.5H1023.5zM1061.7 533.85h11v1.5H1061.7zM1110.8 533.85h9v1.5H1110.8zM1034.4 535.9h2.8v1.2H1034.4zM1091.7 535.9h5.5v1.2H1091.7zM1015.3 560.6h8.2v1.2H1015.3zM1050.8 560.6h2.8v1.2H1050.8zM1067.1 560.6h8.2v1.2H1067.1zM1116.2 560.6h2.8v1.2H1116.2zM235.4 600.5h2.8v1.6H235.4zM434.4 594h5.5v1H434.4zM442.6 594h2.8v1H442.6zM472.6 594h2.8v1H472.6zM480.8 594h2.8v1H480.8zM461.8 600.4h5.4v2.2H461.8zM475.4 600.4h16.4v2.2H475.4zM393.5 646.9h2.8v1.8H393.5zM415.4 646.9h5.5v1.8H415.4zM448.1 646.9h11v1.8H448.1zM480.8 646.9h2.8v1.8H480.8zM390.8 675h2.8v1H390.8zM502.6 582.05h5.5v1.5H502.6zM562.6 582.05h2.8v1.5H562.6zM535.4 633.3h2.8v1.8H535.4zM505.4 647h2.8v1.8H505.4zM513.5 647h5.5v1.8H513.5zM527.2 647h5.5v1.8H527.2zM540.8 647h11v1.8H540.8zM753.5 620.15h2.8v2.5H753.5zM794.4 620.15h8.2v2.5H794.4zM854.4 620.15h5.5v2.5H854.4zM696.2 633.3h2.8v1.8H696.2zM704.4 633.3h8.2v1.8H704.4zM759 633.3h11v1.8H759zM843.5 633.3h5.5v1.8H843.5zM674.4 666h5.5v2H674.4zM696.2 666h5.5v2H696.2zM709.9 666h8.2v2H709.9zM720.8 666h35.5v2H720.8zM870.8 593.9h5.5v1.2H870.8zM884.4 593.9h2.8v1.2H884.4zM906.2 593.9h2.8v1.2H906.2zM939 593.9h11v1.2H939zM971.7 593.9h2.8v1.2H971.7zM993.5 593.9h2.8v1.2H993.5zM906.2 604.9h8.2v2H906.2zM900.8 610.2h6.1v2H900.8zM990.8 618.1h2.8v2.2H990.8zM1007.1 618.1h2.8v2.2H1007.1zM1012.6 618.1h8.2v2.2H1012.6zM1023.5 618.1h5.5v2.2H1023.5zM1009.9 659.9h5.5v1.2H1009.9zM941.7 664h2.8v1H941.7zM949.9 664h5.5v1H949.9zM988 664h11v1H988zM1023.5 664h5.5v1H1023.5zM988 670.8h2.8v2.2H988zM996.2 670.8h11v2.2H996.2zM1015.3 670.8h14.3v2.2H1015.3zM1039.9 586.5h5.5v2H1039.9zM1061.7 632.6h2.8v2.4H1061.7zM1072.6 632.6h5.5v2.4H1072.6zM1099.9 632.6h2.8v2.4H1099.9zM1064.4 659.4h5.5v1H1064.4zM1088.9 659.4h2.8v1H1088.9zM1039.9 664h11v1H1039.9zM1069.9 664h2.8v1H1069.9zM1108 664h11.8v1H1108z"/>
<path fill="#bf0000" d="M527 342h192.5v1.6H527z"/>
<path fill="#c60000" d="M418.4 444.95h72.3v1.5H418.4zM899 398.9h81.9v2H899zM281.7 491.95h16.4v1.5H281.7zM219 502.05h5.5v1.5H219zM246.3 502.05h12.2v1.5H246.3zM300.8 506.3h2.8v2H300.8zM330.8 532.3h2.8v2H330.8zM224.5 540.95h5.5v2.5H224.5zM328.1 543.7h11v2H328.1zM341.7 543.7h11v2H341.7zM319.9 554.5h2.8v2H319.9zM358.1 554.5h2v2H358.1zM268.5 567.8h2.4v2H268.5zM426.3 521.75h5.5v1.5H426.3zM445.4 521.75h5.5v1.5H445.4zM456.3 521.75h2.8v1.5H456.3zM467.2 521.75h2.8v1.5H467.2zM497.2 534.05h2.8v3.5H497.2zM502.6 534.05h2.8v3.5H502.6zM401.7 541.55h2.8v2.5H401.7zM407.2 541.55h8.2v2.5H407.2zM426.3 541.55h2.8v2.5H426.3zM576.3 506.7h2.8v2H576.3zM704.4 516.4h2.8v2H704.4zM767.2 523.65h5.5v1.5H767.2zM851.7 483.75h2.8v2.5H851.7zM859.9 483.75h11v2.5H859.9zM955.3 506.6h2.8v2.2H955.3zM857.1 509.7h8.2v1.6H857.1zM849 542.05h8.2v1.5H849zM846.2 544h2.8v2H846.2zM857.1 544h8.2v2H857.1zM895.3 544h8.2v2H895.3zM898.1 554.15h5.5v1.5H898.1zM862.6 563.5h19.1v1.2H862.6zM988 567.1h11v2.2H988zM1108 498.7h2.8v1.6H1108zM1094.4 501.7h2.8v1.6H1094.4zM1008 521.5h18.3v2H1008zM1031.7 521.5h5.5v2H1031.7zM1069.9 521.5h2.8v2H1069.9zM1029 529.35h5.5v1.5H1029zM1064.4 529.35h8.2v1.5H1064.4zM1078 529.35h2.8v1.5H1078zM1000 533.85h4.5v1.5H1000zM1020.8 533.85h2.8v1.5H1020.8zM1045.3 533.85h2.8v1.5H1045.3zM1045.3 535.9h8.2v1.2H1045.3zM1061.7 535.9h11v1.2H1061.7zM1102.6 549.2h2.8v1.2H1102.6zM1064.4 560.6h2.8v1.2H1064.4zM1110.8 560.6h5.5v1.2H1110.8zM1118.9 560.6h.9v1.2H1118.9zM213.6 600.5h2.8v1.6H213.6zM221.7 600.5h11v1.6H221.7zM363.5 594h2.8v1H363.5zM399 594h2.8v1H399zM423.5 594h2.8v1H423.5zM445.4 594h2.8v1H445.4zM450.8 594h19.1v1H450.8zM478.1 594h2.8v1H478.1zM483.5 594h5.5v1H483.5zM497.2 594h2.8v1H497.2zM467.2 600.4h8.2v2.2H467.2zM491.7 600.4h8.2v2.2H491.7zM396.3 632.6h5.5v2.4H396.3zM384.4 646.9h1v1.8H384.4zM404.4 646.9h5.5v1.8H404.4zM429 646.9h19.1v1.8H429zM489 646.9h11v1.8H489zM360 675h.9v1H360zM379.9 675h11v1H379.9zM393.5 675h8.2v1H393.5zM546.3 582.05h5.5v1.5H546.3zM554.4 582.05h8.2v1.5H554.4zM594.6 595.9h75.4v1.6H594.6zM532.6 633.3h2.8v1.8H532.6zM546.3 633.3h8.2v1.8H546.3zM570.8 633.3h7.7v1.8H570.8zM500 647h5.4v1.8H500zM508.1 647h5.5v1.8H508.1zM519 647h8.2v1.8H519zM584.4 647h2.6v1.8H584.4zM748.1 620.15h2.8v2.5H748.1zM791.7 620.15h2.8v2.5H791.7zM808.1 620.15h2.8v2.5H808.1zM838.1 620.15h2.8v2.5H838.1zM734.4 633.3h8.2v1.8H734.4zM745.3 633.3h2.8v1.8H745.3zM832.6 633.3h2.8v1.8H832.6zM849 633.3h11v1.8H849zM670 666h4.5v2H670zM679.9 666h16.4v2H679.9zM707.2 666h2.8v2H707.2zM756.2 666h.8v2H756.2zM930.8 593.9h2.8v1.2H930.8zM963.5 593.9h2.8v1.2H963.5zM999 593.9h2.8v1.2H999zM903.5 618.1h5.5v2.2H903.5zM922.6 618.1h2.8v2.2H922.6zM984.2 618.1h6.6v2.2H984.2zM993.5 618.1h13.7v2.2H993.5zM879 623.4h5.5v1H879zM887.1 623.4h2.8v1H887.1zM974 659.9h3.2v1.2H974zM993.5 659.9h2.8v1.2H993.5zM982.6 664h2.8v1H982.6zM1004.4 664h2.8v1H1004.4zM1029 664h1.1v1H1029zM986 670.8h2.1v2.2H986zM1012.6 670.8h2.8v2.2H1012.6zM1072.6 586.5h2.8v2H1072.6zM1102.6 632.6h2.8v2.4H1102.6zM1061.7 659.4h2.8v1H1061.7zM1069.9 659.4h2.8v1H1069.9zM1083.5 659.4h5.5v1H1083.5zM1113.5 659.4h2.8v1H1113.5zM1030 664h1.7v1H1030zM1034.4 664h5.5v1H1034.4zM1053.5 664h5.5v1H1053.5zM1061.7 664h8.2v1H1061.7zM1072.6 664h11v1H1072.6zM1091.7 664h5.5v1H1091.7zM1102.6 664h5.5v1H1102.6z"/>
<path fill="#d30000" d="M208.1 134.15h274.9v.9H208.1zM208.1 142.65h274.9v1.1H208.1zM1008 329.9h7v1H1008zM1035 329.9h84.8v1H1035zM364 335.8h244v1.2H364zM722 335.8h179v1.2H722zM500 355h144v1H500zM208.1 383.3h5.9v1.2H208.1zM208.1 449.3h151.9v.8H208.1zM240.6 477.25h90.1v.9H240.6zM401.9 413.35h12.7v1.3H401.9zM418.4 413.35h64.6v1.3H418.4zM507.2 426.3h12.8v2.8H507.2zM453 434.9h46.6v1.2H453zM399.3 444.95h19.1v1.5H399.3zM444 455.15h4v1.5H444zM375.2 463.8h27.8v2H375.2zM407 463.8h25.3v2H407zM568.2 434.75h38.1v1.5H568.2zM671 434.75h9v1.5H671zM561.9 445.2h33v2H561.9zM527.6 464h55.9v1.6H527.6zM520 471.8h28v1.2H520zM680 417.95h50.8v2.1H680zM695 443.1h35.8v.8H695zM690 459.2h70v2.4H690zM828 460.5h12v1H828zM983 452.75h11v1.3H983zM840 459.8h5v2H840zM921.2 477.45h78.8v.9H921.2zM847 477.75h10.8v1.3H847zM1053.8 440h66v1H1053.8zM1069 471.8h15.2v3H1069zM328.1 495.15h8.2v1.5H328.1zM353.6 515.8h1.8v2H353.6zM327 536.95h3.9v1.5H327zM336.3 540.95h13.7v2.5H336.3zM210.8 550.8h2.8v1H210.8zM279 554.5h5.5v2H279zM344.5 560.3h8.2v1.8H344.5zM273.6 567.8h5.5v2H273.6zM319.9 572.4h16.4v2.2H319.9zM355.4 572.4h2.8v2.2H355.4zM355.4 574.6h2.8v1.2H355.4zM437.2 521.75h8.2v1.5H437.2zM415.4 534.05h11v3.5H415.4zM459 534.05h5.5v3.5H459zM429 541.55h2.8v2.5H429zM450.8 560.45h2.8v1.5H450.8zM456.3 560.45h8.2v1.5H456.3zM497.2 560.45h2.8v1.5H497.2zM409.9 563.5h21.9v1.2H409.9zM459 563.5h2.8v1.2H459zM483.5 563.5h11v1.2H483.5zM499.9 563.5h2.8v1.2H499.9zM622.6 492.05h5.5v2.5H622.6zM649.9 510.5h8.2v2.4H649.9zM667.8 529.8h4v2H667.8zM557.2 537.05h2.8v1.3H557.2zM562.6 537.05h2.8v1.3H562.6zM663.4 537.05h16.6v1.3H663.4zM734.4 492.25h2.8v1.5H734.4zM680 494.6h17.8v1.2H680zM769.9 516.4h5.5v2H769.9zM821.7 521.5h2.8v2H821.7zM759 523.65h8.2v1.5H759zM821.7 529.55h16.4v2.5H821.7zM744 542.6h10.9v1.2H744zM680 553.2h52.7v.8H680zM753.5 563.05h1.4v1.5H753.5zM819.6 572.5h20.4v1H819.6zM840.8 494.9h8.2v1.2H840.8zM857.1 494.9h5.5v1.2H857.1zM936.4 506.6h10.8v2.2H936.4zM952.6 506.6h2.8v2.2H952.6zM840.8 516h2.8v2H840.8zM977.1 516h2.8v2H977.1zM949.9 527h2.8v1.2H949.9zM854.4 529.35h5.5v1.5H854.4zM857.1 540.45h2.8v.9H857.1zM889.9 540.45h2.8v.9H889.9zM915 548.5h4.9v3H915zM967 552h33v1.2H967zM967 558.1h12.6v1.8H967zM849 560.55h2.8v1.3H849zM859.9 560.55h2.8v1.3H859.9zM873.5 560.55h5.5v1.3H873.5zM900.8 567.1h2.8v2.2H900.8zM967 567.1h10.2v2.2H967zM1020.8 484h2.8v2H1020.8zM1008 491.2h18.3v1.6H1008zM1048 498.7h2.8v1.6H1048zM1088.9 498.7h13.7v1.6H1088.9zM1102.6 501.7h2.8v1.6H1102.6zM1072.6 515.9h2.8v2.2H1072.6zM1018 529.35h11v1.5H1018zM1061.7 529.35h2.8v1.5H1061.7zM1031.7 533.85h11v1.5H1031.7zM1018.2 541.8h27.8v1.2H1018.2zM1091.7 549.2h5.5v1.2H1091.7zM1099.9 549.2h2.8v1.2H1099.9zM1105.3 549.2h5.5v1.2H1105.3zM1000 560.6h4.5v1.2H1000zM1023.5 560.6h5.5v1.2H1023.5zM319.9 593.85h2.8v1.3H319.9zM330.8 593.85h2.8v1.3H330.8zM216.3 600.5h5.5v1.6H216.3zM208.1 608.35h33.8v1.5H208.1zM347.2 608.35h5.5v1.5H347.2zM268.5 637.6h20.3v2.6H268.5zM233 675h16.5v1H233zM483.4 588.15h16.6v1.3H483.4zM483.4 591.45h16.6v1.5H483.4zM366.3 594h27.3v1H366.3zM448.1 594h2.8v1H448.1zM360 632.6h11.8v2.4H360zM379.9 632.6h5.5v2.4H379.9zM390.8 632.6h2.8v2.4H390.8zM401.7 632.6h8.1v2.4H401.7zM494.8 632.6h5.2v2.4H494.8zM461.8 637.4h38.2v3H461.8zM385.4 646.9h8.2v1.8H385.4zM396.3 646.9h8.2v1.8H396.3zM409.9 646.9h5.5v1.8H409.9zM420.8 646.9h8.2v1.8H420.8zM459 646.9h21.9v1.8H459zM483.5 646.9h5.5v1.8H483.5zM483.4 652.35h16.6v1.5H483.4zM360.8 675h19.1v1H360.8zM401.7 675h1.8v1H401.7zM576.3 582.05h.4v1.5H576.3zM519 637.1h2.8v2.8H519zM527.2 637.1h2.8v2.8H527.2zM532.6 647h8.2v1.8H532.6zM551.7 647h32.8v1.8H551.7zM670 588h200v1H670zM693.5 591.3h2.8v2H693.5zM802.6 591.3h2.8v2H802.6zM821.7 591.3h5.5v2H821.7zM729 595.7h3.4v2H729zM670 599.6h13v2.8H670zM756.2 620.15h8.2v2.5H756.2zM810.8 620.15h19.1v2.5H810.8zM701.7 666h5.5v2H701.7zM718.1 666h2.8v2H718.1zM895.3 586.5h2.8v2H895.3zM879 591h5.5v2H879zM892.6 591h2.8v2H892.6zM876.2 593.9h2.8v1.2H876.2zM881.7 593.9h2.8v1.2H881.7zM895.3 593.9h11v1.2H895.3zM919.9 593.9h2.8v1.2H919.9zM1004.4 593.9h5.5v1.2H1004.4zM901.7 618.1h1.9v2.2H901.7zM930.8 618.1h2.8v2.2H930.8zM892.6 623.4h2.8v1H892.6zM909 635.25h2.8v.9H909zM914.4 635.25h5.5v.9H914.4zM960.8 635.25h5.5v.9H960.8zM1026.2 635.25h3.8v.9H1026.2zM881.7 650.75h2.8v1.3H881.7zM977.1 659.9h16.4v1.2H977.1zM990.8 670.8h5.5v2.2H990.8zM1007.1 670.8h5.5v2.2H1007.1zM886.5 674.95h3.4v1.1H886.5zM906.2 674.95h2.8v1.1H906.2zM914.4 674.95h5.5v1.1H914.4zM1034.4 593.9h5.5v1.2H1034.4zM1091.7 659.4h13.7v1H1091.7zM1031.7 664h2.8v1H1031.7zM1050.8 664h2.8v1H1050.8zM1059 664h2.8v1H1059zM1083.5 664h8.2v1H1083.5zM1097.1 664h5.5v1H1097.1zM1034.4 675.6h5.5v2.4H1034.4zM1045.3 675.6h5.5v2.4H1045.3zM1056.2 675.6h2.8v2.4H1056.2zM1083.5 675.6h8.2v2.4H1083.5zM1105.3 675.6h2.8v2.4H1105.3zM1118.9 675.6h.9v2.4H1118.9z"/>
<path fill="#da0000" d="M229.9 488h2.8v1.8H229.9zM213.6 495.15h2.8v1.5H213.6zM327 495.15h1.1v1.5H327zM327 534.7h1.1v2.2H327zM341.7 534.7h2.8v2.2H341.7zM339 536.95h8.2v1.5H339zM208.1 540.95h11v2.5H208.1zM325.6 540.95h2.5v2.5H325.6zM208.1 550.8h2.8v1H208.1zM221.7 550.8h13.7v1H221.7zM254.5 550.8h5.5v1H254.5zM298.1 550.8h5.5v1H298.1zM352.6 550.8h7.4v1H352.6zM328.1 560.3h5.5v1.8H328.1zM213.6 567.8h8.2v2H213.6zM341.7 572.4h2.8v2.2H341.7zM295.4 574.6h5.5v1.2H295.4zM358.1 574.6h2v1.2H358.1zM366.3 508.7h5.5v1.6H366.3zM453.5 515.8h2.8v2H453.5zM469.9 515.8h2.8v2H469.9zM475.4 515.8h7.7v2H475.4zM431.7 521.75h2.8v1.5H431.7zM459 521.75h2.8v1.5H459zM469.9 521.75h2.8v1.5H469.9zM483 521.75h.6v1.5H483zM377.2 529.8h5.5v2.4H377.2zM429 534.05h2.8v3.5H429zM437.2 534.05h2.8v3.5H437.2zM456.3 534.05h2.8v3.5H456.3zM478.1 534.05h5v3.5H478.1zM505.4 534.05h11v3.5H505.4zM379.9 560.45h11v1.5H379.9zM409.9 560.45h2.8v1.5H409.9zM415.4 560.45h8.2v1.5H415.4zM464.4 560.45h5.5v1.5H464.4zM516.3 560.45h3.8v1.5H516.3zM377.2 563.5h21.9v1.2H377.2zM480.8 563.5h2.8v1.2H480.8zM494.4 563.5h2.8v1.2H494.4zM399 567.2h2.8v2H399zM636.3 492.05h2.8v2.5H636.3zM529.9 510.5h5.5v2.4H529.9zM666.2 510.5h2.8v2.4H666.2zM520 537.05h4.5v1.3H520zM565.3 537.05h2.8v1.3H565.3zM573.5 537.05h4.9v1.3H573.5zM780.8 516.4h2.8v2H780.8zM802.6 516.4h5.5v2H802.6zM748.1 521.5h8.2v2H748.1zM759 521.5h2.8v2H759zM783.5 521.5h4.4v2H783.5zM816.2 521.5h5.5v2H816.2zM827.1 521.5h11v2H827.1zM753.5 523.65h2.8v1.5H753.5zM799.9 523.65h.8v1.5H799.9zM680 529.55h2.7v2.5H680zM693.5 529.55h11v2.5H693.5zM707.2 529.55h2.8v2.5H707.2zM768.8 529.55h6.6v2.5H768.8zM794.4 529.55h2.8v2.5H794.4zM805.3 529.55h5.5v2.5H805.3zM680 534.8h2.7v2H680zM707.2 534.8h8.2v2H707.2zM843.5 483.75h5.5v2.5H843.5zM843.5 503.2h2.8v1.6H843.5zM868.1 516h2.8v2H868.1zM979.9 516h8.2v2H979.9zM952.6 527h5.5v1.2H952.6zM963.5 527h2.8v1.2H963.5zM985.3 527h2.8v1.2H985.3zM840 529.35h6.3v1.5H840zM859.9 529.35h5.5v1.5H859.9zM898.1 540.45h2.8v.9H898.1zM840 560.55h.8v1.3H840zM854.4 560.55h5.5v1.3H854.4zM884.4 560.55h2.8v1.3H884.4zM888.2 563.5h4.4v1.2H888.2zM955.3 567.1h5.5v2.2H955.3zM1037.1 484h5.5v2H1037.1zM1051 515.9h13.5v2.2H1051zM1015.3 529.35h2.8v1.5H1015.3zM1048 529.35h8.2v1.5H1048zM1072.6 529.35h2.8v1.5H1072.6zM1113.5 529.35h2.8v1.5H1113.5zM1009.9 533.85h2.8v1.5H1009.9zM1015.3 533.85h5.5v1.5H1015.3zM1105.3 533.85h2.8v1.5H1105.3zM1004.4 535.9h2.8v1.2H1004.4zM1020.8 535.9h5.5v1.2H1020.8zM1072.6 535.9h5.5v1.2H1072.6zM1088.9 535.9h2.8v1.2H1088.9zM1102.6 535.9h2.8v1.2H1102.6zM1029 563.35h8.2v1.5H1029zM1069.9 563.35h2.8v1.5H1069.9zM1075.3 563.35h2.8v1.5H1075.3zM328.1 593.85h2.8v1.3H328.1zM208.1 600.5h5.5v1.6H208.1zM371.7 632.6h8.2v2.4H371.7zM385.4 632.6h5.5v2.4H385.4zM393.5 632.6h2.8v2.4H393.5zM508.1 637.1h11v2.8H508.1zM549 637.1h13.7v2.8H549zM568.1 637.1h2.8v2.8H568.1zM670 591.3h9.9v2H670zM685.3 591.3h5.5v2H685.3zM723.5 591.3h2.8v2H723.5zM734.4 591.3h2.8v2H734.4zM783.5 591.3h2.8v2H783.5zM791.7 591.3h8.2v2H791.7zM829.9 591.3h5.5v2H829.9zM868.1 591.3h2v2H868.1zM685.3 595.7h8.2v2H685.3zM718.1 595.7h11v2H718.1zM870 586.5h6.3v2H870zM881.7 586.5h2.8v2H881.7zM911.7 586.5h5.5v2H911.7zM873.5 591h2.8v2H873.5zM889.9 591h2.8v2H889.9zM870 593.9h.8v1.2H870zM928.1 593.9h2.8v1.2H928.1zM979.9 593.9h8.2v1.2H979.9zM1001.7 593.9h2.8v1.2H1001.7zM909 618.1h2.8v2.2H909zM925.3 618.1h2.8v2.2H925.3zM906.2 635.25h2.8v.9H906.2zM958 635.25h2.8v.9H958zM985.3 635.25h5.5v.9H985.3zM999 635.25h5.5v.9H999zM1015.3 635.25h11v.9H1015.3zM873.5 650.75h8.2v1.3H873.5zM887.1 650.75h5.5v1.3H887.1zM900.8 650.75h1v1.3H900.8zM887.8 652.4h2.1v1H887.8zM892.6 652.4h5.5v1H892.6zM930.8 652.4h2.8v1H930.8zM892.6 674.95h2.8v1.1H892.6zM909 674.95h5.5v1.1H909zM919.9 674.95h2.8v1.1H919.9zM1001.7 674.95h2.8v1.1H1001.7zM1007.1 674.95h8.2v1.1H1007.1zM1026.2 674.95h3.8v1.1H1026.2zM1031.7 593.9h2.8v1.2H1031.7zM1042.6 593.9h8.2v1.2H1042.6zM1050.8 675.6h5.5v2.4H1050.8zM1059 675.6h13.7v2.4H1059zM1108 675.6h2.8v2.4H1108zM1113.5 675.6h5.5v2.4H1113.5z"/>
<path fill="#e10000" d="M208.1 287.6h891.9v1.2H208.1zM262.8 394.1h65.2v1.8H262.8zM208.1 446.25h27.4v1.3H208.1zM208.1 462.75h21.7v1.3H208.1zM363.8 452.25h57.2v1.5H363.8zM597 417.95h34.7v2.1H597zM608.2 426.5h17.1v2.4H608.2zM606.3 445.2h73.7v2H606.3zM551 459.05h40v1.3H551zM760 468.7h57.7v2.2H760zM918 468.7h65.4v2.2H918zM1020.8 466.8h33v1H1020.8zM1034.7 471.8h16.5v3H1034.7zM241.9 608.35h26.6v1.5H241.9zM209.5 632h7.6v1.2H209.5zM278.7 632h7.6v1.2H278.7zM407 613h76.4v1H407zM453 635h47v1H453zM1001.7 676.35h28.3v1.3H1001.7zM1051.2 635.25h68.6v.9H1051.2z"/>
<path fill="#e80000" d="M208.1 201.9h274.9v2H208.1zM483 221.6h636.8v1.2H483zM208.1 311.7h274.9v1.2H208.1zM519 311.7h358v1.2H519zM273.5 342h3.5v1.6H273.5zM271 455.3h5.8v1.2H271zM208.1 456.65h51.5v1.3H208.1zM497 471.9h10.8v1H497zM535.2 390.8h4.8v1.2H535.2zM606.3 431.9h9.5v2H606.3zM641.2 431.9h38.8v2H641.2zM645.6 455.3h3.8v1.2H645.6zM659.6 464h8.2v1.6H659.6zM1068 426.15h51.8v.9H1068zM235.4 488h13.7v1.8H235.4zM344.5 534.7h2.8v2.2H344.5zM339 543.7h2.8v2H339zM352.6 543.7h7.4v2H352.6zM235.4 550.8h2.8v1H235.4zM251.7 550.8h2.8v1H251.7zM259.9 550.8h5.5v1H259.9zM279 550.8h8.2v1H279zM303.5 550.8h8.2v1H303.5zM339 550.8h13.7v1H339zM276.3 560.3h5.5v1.8H276.3zM224.5 567.8h11v2H224.5zM268.5 574.6h2.4v1.2H268.5zM287.2 574.6h8.2v1.2H287.2zM360.8 484.95h13.7v1.5H360.8zM360.8 505.2h2.8v1.6H360.8zM360 508.7h6.3v1.6H360zM467.2 515.8h2.8v2H467.2zM450.8 521.75h5.5v1.5H450.8zM502.6 521.75h13.7v1.5H502.6zM360 529.8h3.6v2.4H360zM414.6 534.05h.8v3.5H414.6zM369 560.45h2.8v1.5H369zM399 560.45h8.2v1.5H399zM448.1 560.45h2.8v1.5H448.1zM478.1 560.45h5.5v1.5H478.1zM486.3 560.45h2.8v1.5H486.3zM491.7 560.45h5.5v1.5H491.7zM505.4 560.45h8.2v1.5H505.4zM483 561.95h19v1.5H483zM360 563.5h3.6v1.2H360zM366.3 563.5h8.2v1.2H366.3zM437.2 563.5h5.5v1.2H437.2zM502.6 563.5h8.2v1.2H502.6zM360.8 567.2h8.2v2H360.8zM377.2 567.2h5.5v2H377.2zM607.6 492.05h1.4v2.5H607.6zM639 492.05h8.2v2.5H639zM532.6 502.75h2.8v1.5H532.6zM527.6 510.5h2.3v2.4H527.6zM535.4 510.5h8.2v2.4H535.4zM647.2 510.5h2.8v2.4H647.2zM658.1 510.5h8.2v2.4H658.1zM607.6 518.55h3.1v1.5H607.6zM638 518.55h2.6v1.5H638zM535.4 524.45h2.8v2.5H535.4zM540.8 524.45h5.5v2.5H540.8zM570.8 524.45h5.5v2.5H570.8zM540.8 537.05h16.4v1.3H540.8zM559.9 537.05h2.8v1.3H559.9zM807 494.9h1.1v1.2H807zM819 494.9h2.8v1.2H819zM827.1 494.9h2.8v1.2H827.1zM685.3 509.5h2.8v3H685.3zM761.2 516.4h6v2H761.2zM789 516.4h2.8v2H789zM808.1 516.4h8.2v2H808.1zM680 521.5h5.4v2H680zM693.5 521.5h8.2v2H693.5zM732.7 521.5h1.8v2H732.7zM742.6 521.5h5.5v2H742.6zM786.2 523.65h5.5v1.5H786.2zM704.4 529.55h2.8v2.5H704.4zM726.2 529.55h6.5v2.5H726.2zM775.3 529.55h11v2.5H775.3zM799.9 529.55h2.8v2.5H799.9zM682.6 534.8h2.8v2H682.6zM701.7 534.8h5.5v2H701.7zM715.3 534.8h13.7v2H715.3zM840.8 483.75h2.8v2.5H840.8zM884.4 483.75h1.3v2.5H884.4zM862.6 494.9h2.8v1.2H862.6zM876.2 494.9h.6v1.2H876.2zM846.2 503.2h5.5v1.6H846.2zM966.2 516h11v2H966.2zM958 527h5.5v1.2H958zM865.3 529.35h5.5v1.5H865.3zM840 540.45h.8v.9H840zM843.5 540.45h13.7v.9H843.5zM879 540.45h2.8v.9H879zM892.6 540.45h2.8v.9H892.6zM865.3 544h2.8v2H865.3zM892.6 544h2.8v2H892.6zM922.6 548.5h2.8v3H922.6zM862.6 560.55h2.8v1.3H862.6zM879 560.55h5.5v1.3H879zM887.1 560.55h2.8v1.3H887.1zM840 563.5h.8v1.2H840zM843.5 563.5h5.5v1.2H843.5zM876.2 567.1h2.8v2.2H876.2zM960.8 567.1h2.8v2.2H960.8zM1031.7 491.2h2.8v1.6H1031.7zM1061.7 498.7h5.5v1.6H1061.7zM1075.3 515.9h5.1v2.2H1075.3zM1012.6 529.35h2.8v1.5H1012.6zM1097.1 529.35h8.2v1.5H1097.1zM1086.2 533.85h5.5v1.5H1086.2zM1001.7 535.9h2.8v1.2H1001.7zM1018 535.9h2.8v1.2H1018zM1037.1 535.9h8.2v1.2H1037.1zM1078 535.9h11v1.2H1078zM1005.5 563.35h7.1v1.5H1005.5zM232.6 600.5h2.8v1.6H232.6zM341.7 608.35h5.5v1.5H341.7zM415.4 600.4h5.5v2.2H415.4zM426.3 600.4h11v2.2H426.3zM521.7 637.1h5.5v2.8H521.7zM532.6 637.1h16.4v2.8H532.6zM562.6 637.1h5.5v2.8H562.6zM570.8 637.1h7.7v2.8H570.8zM729 591.3h2.8v2H729zM764.4 591.3h2.8v2H764.4zM769.9 591.3h8.2v2H769.9zM682.6 595.7h2.8v2H682.6zM693.5 595.7h13.7v2H693.5zM709.9 595.7h8.2v2H709.9zM876.2 586.5h5.5v2H876.2zM900.8 586.5h8.2v2H900.8zM917.1 586.5h6.2v2H917.1zM1023.5 586.5h2.8v2H1023.5zM884.4 591h5.5v2H884.4zM960.8 604.9h2.8v2H960.8zM906.8 610.2h10.4v2H906.8zM928.1 610.2h5.5v2H928.1zM928.1 618.1h2.8v2.2H928.1zM1018 621.05h2.8v1.5H1018zM870 635.25h3.6v.9H870zM911.7 635.25h2.8v.9H911.7zM919.9 635.25h5.5v.9H919.9zM928.1 635.25h2.8v.9H928.1zM966.2 635.25h2.8v.9H966.2zM982.6 635.25h2.8v.9H982.6zM993.5 635.25h5.5v.9H993.5zM870 650.75h3.6v1.3H870zM884.4 650.75h2.8v1.3H884.4zM889.9 652.4h2.8v1H889.9zM898.1 652.4h16.4v1H898.1zM887.1 664h5.5v1H887.1zM895.3 664h11v1H895.3zM930.8 670.8h2.8v2.2H930.8zM889.9 674.95h2.8v1.1H889.9zM895.3 674.95h8.2v1.1H895.3zM922.6 674.95h8.2v1.1H922.6zM1015.3 674.95h11v1.1H1015.3zM1030 586.5h8.5v2H1030zM1061.7 588.7h8.2v1H1061.7zM1072.6 588.7h2.8v1H1072.6zM1108 588.7h2.8v1H1108zM1118.9 588.7h.9v1H1118.9zM1030 593.9h1.7v1.2H1030zM1039.9 593.9h2.8v1.2H1039.9zM1030 613.3h1.7v1H1030zM1050.8 613.3h2.8v1H1050.8zM1061.7 613.3h5.5v1H1061.7zM1083.5 613.3h21.9v1H1083.5zM1031.7 620.9h5.5v1.8H1031.7zM1078 620.9h2.8v1.8H1078zM1102.6 620.9h11v1.8H1102.6zM1039.9 675.6h5.5v2.4H1039.9zM1078 675.6h5.5v2.4H1078zM1091.7 675.6h13.7v2.4H1091.7z"/>
<path fill="#ee0000" d="M483 170.6h457v1.2H483zM208.1 361.1h29.9v2H208.1zM711.7 398.8h83.8v3.2H711.7zM687 430.85h15.8v1.1H687zM680 431.8h22.8v2.4H680zM683.8 452.25h29.8v1.5H683.8zM716.8 468.7h26.7v2.2H716.8zM918 401.05h82v1.1H918zM972.9 417.95h27.1v2.1H972.9zM840 447.9h132.9v1.2H840zM840 451.9h69.8v.8H840zM864 459h2v1H864zM902.2 476.05h19v1.3H902.2zM1000 399h4.9v2.4H1000zM1000 417.95h39v2.1H1000zM1053.8 417.95h66v2.1H1053.8zM1073 430.85h46.8v1.1H1073zM1053.8 464.1h16.5v1.8H1053.8zM1001.7 468.7h19.1v2.2H1001.7zM273.6 485.1h16.4v1.2H273.6zM298.1 485.1h3.5v1.2H298.1zM257.2 488h1.3v1.8H257.2zM224.5 495.15h1v1.5H224.5zM295.4 511.3h2.8v2.2H295.4zM358.1 515.8h2v2H358.1zM340.9 529.4h3.8v2.6H340.9zM333.5 534.7h2.8v2.2H333.5zM347.2 534.7h8.2v2.2H347.2zM265.4 540.95h8.2v2.5H265.4zM295.4 550.8h2.8v1H295.4zM311.7 550.8h2.8v1H311.7zM328.1 550.8h11v1H328.1zM273.6 556.7h2.7v2H273.6zM341.7 556.7h2.8v2H341.7zM273.6 560.3h2.7v1.8H273.6zM306.3 572.4h8.2v2.2H306.3zM284.5 574.6h2.8v1.2H284.5zM300.8 574.6h8.2v1.2H300.8zM325.4 574.6h5.5v1.2H325.4zM336.3 574.6h19.1v1.2H336.3zM360 515.8h.9v2H360zM371.7 515.8h2.8v2H371.7zM456.3 515.8h11v2H456.3zM483 518.75h3.3v2.5H483zM420.8 521.75h5.5v1.5H420.8zM480.8 521.75h2.2v1.5H480.8zM494.4 521.75h8.2v1.5H494.4zM369 529.8h5.5v2.4H369zM431.7 534.05h5.5v3.5H431.7zM439.9 534.05h2.8v3.5H439.9zM366.3 541.55h5.5v2.5H366.3zM382.6 541.55h2.8v2.5H382.6zM360 560.45h9v1.5H360zM374.5 560.45h5.5v1.5H374.5zM434.4 560.45h11v1.5H434.4zM469.9 560.45h2.8v1.5H469.9zM502.6 560.45h2.8v1.5H502.6zM363.5 563.5h2.8v1.2H363.5zM461.7 563.5h5.5v1.2H461.7zM513.5 563.5h2.5v1.2H513.5zM360 572.8h23.5v2.2H360zM404.4 572.8h5.5v2.2H404.4zM412.6 572.8h2.8v2.2H412.6zM418.1 572.8h2.8v2.2H418.1zM431.7 572.8h8.2v2.2H431.7zM559.9 487.9h2.8v2H559.9zM600 490.8h7.6v1.2H600zM543.5 492.05h5.5v2.5H543.5zM617.2 492.05h5.5v2.5H617.2zM628.1 492.05h8.2v2.5H628.1zM595 494.9h6.2v1.2H595zM598.1 496.8h13.7v2H598.1zM628.1 496.8h2.8v2H628.1zM636.3 496.8h2.8v2H636.3zM529.9 502.75h2.8v1.5H529.9zM535.4 502.75h7.5v1.5H535.4zM543.5 510.5h7v2.4H543.5zM598.1 510.5h11v2.4H598.1zM614.4 510.5h11v2.4H614.4zM669 510.5h11v2.4H669zM638 524.1h10.8v1.2H638zM663.4 524.1h16.6v1.2H663.4zM554.4 524.45h11v2.5H554.4zM578.4 527h88.8v1.2H578.4zM527.6 532.8h67.4v1H527.6zM663.4 532.8h16.6v1H663.4zM524.4 537.05h16.4v1.3H524.4zM557.2 545.8h5.5v1.2H557.2zM565.3 545.8h21.9v1.2H565.3zM649.9 545.8h5.5v1.2H649.9zM663.5 545.8h2.8v1.2H663.5zM748.1 492.25h8.2v1.5H748.1zM821.7 494.9h2.8v1.2H821.7zM696.2 509.5h5.5v3H696.2zM723.5 509.5h2.8v3H723.5zM775.3 516.4h5.5v2H775.3zM783.5 516.4h5.5v2H783.5zM816.2 516.4h16.4v2H816.2zM680 519.65h15.2v1.5H680zM709.2 519.65h23.5v1.5H709.2zM685.3 521.5h5.5v2H685.3zM720.8 521.5h5.5v2H720.8zM756.2 523.65h2.8v1.5H756.2zM682.6 529.55h11v2.5H682.6zM712.6 529.55h13.7v2.5H712.6zM729 534.8h3.8v2H729zM680 537.05h52.7v1.3H680zM833.6 545.8h6.4v1.2H833.6zM761.7 563.05h2.8v1.5H761.7zM775.3 563.05h8.2v1.5H775.3zM789 563.05h5.5v1.5H789zM881.7 491h5.5v2H881.7zM873.5 494.9h2.8v1.2H873.5zM898.1 506.6h2.8v2.2H898.1zM979.9 506.6h8.2v2.2H979.9zM846.2 509.7h5.5v1.6H846.2zM918 513.9h32.4v1.2H918zM840 516h.8v2H840zM859.9 516h2.8v2H859.9zM988 516h.5v2H988zM859.9 521.75h13.7v1.5H859.9zM988 527h.5v1.2H988zM884.4 529.35h1.3v1.5H884.4zM895.3 540.45h2.8v.9H895.3zM900.8 540.45h1.3v.9H900.8zM879 544h5.5v2H879zM904.7 554.15h11.4v1.5H904.7zM889.9 560.55h5.5v1.3H889.9zM936.4 565.3h5.1v1.2H936.4zM862.6 567.1h8.2v2.2H862.6zM939 579.15h10v.9H939zM1031.7 484h2.8v2H1031.7zM1083.5 498.7h5.5v1.6H1083.5zM1102.6 521.5h2.8v2H1102.6zM1116.2 521.5h3.6v2H1116.2zM1000 529.35h1.7v1.5H1000zM1075.3 529.35h2.8v1.5H1075.3zM1105.3 529.35h5.5v1.5H1105.3zM1029 533.85h2.8v1.5H1029zM1094.4 533.85h2.8v1.5H1094.4zM1108 533.85h2.8v1.5H1108zM1110.9 541.8h8.9v1.2H1110.9zM1004.9 545.8h36.1v1.2H1004.9zM1009.9 557.9h5.5v2.2H1009.9zM1048 557.9h5.8v2.2H1048zM1012.6 563.35h2.8v1.5H1012.6zM1018 563.35h2.8v1.5H1018zM1050.8 563.35h16.4v1.5H1050.8zM210.8 591.55h2.8v1.5H210.8zM292.6 593.85h8.2v1.3H292.6zM303.5 593.85h5.5v1.3H303.5zM238.1 600.5h3.9v1.6H238.1zM268.5 600.5h2.4v1.6H268.5zM327 602.1h33v1H327zM330.8 608.35h5.5v1.5H330.8zM292.6 632.3h8.2v3H292.6zM236.2 660h12.7v1H236.2zM208.1 665.8h16.4v2H208.1zM269.2 675h18.4v1H269.2zM360 600.4h3.6v2.2H360zM369 600.4h13.7v2.2H369zM415 600.4h.4v2.2H415zM437.2 600.4h2.8v2.2H437.2zM456.3 600.4h5.5v2.2H456.3zM423.5 637.4h2.8v3H423.5zM540.4 591.3h59v2H540.4zM500 637.1h8.1v2.8H500zM529.9 637.1h2.8v2.8H529.9zM641.3 637.1h28.7v2.8H641.3zM500 653h16.3v2H500zM524.4 653h5.5v2H524.4zM549 653h2.8v2H549zM559.9 653h8.2v2H559.9zM576.3 653h11v2H576.3zM607 653.45h63v1.1H607zM679.9 591.3h2.8v2H679.9zM690.8 591.3h2.8v2H690.8zM696.2 591.3h21.9v2H696.2zM726.2 591.3h2.8v2H726.2zM737.2 591.3h2.8v2H737.2zM843.5 591.3h2.8v2H843.5zM862.6 591.3h2.8v2H862.6zM670 595.7h12.7v2H670zM707.2 595.7h2.8v2H707.2zM791.7 599.6h2.8v2.8H791.7zM805.3 599.6h11v2.8H805.3zM670 637.1h35.7v3H670zM800.8 651.2h69.2v1H800.8zM969 581.9h5.5v1.8H969zM980.4 586.5h2.2v2H980.4zM1009.9 586.5h2.8v2H1009.9zM906.2 598.45h2.8v.9H906.2zM958 598.45h8.2v.9H958zM1012.6 598.45h2.8v.9H1012.6zM949.9 604.9h11v2H949.9zM963.5 604.9h5.5v2H963.5zM971.7 604.9h2.8v2H971.7zM977.1 604.9h5.5v2H977.1zM919.9 610.2h8.2v2H919.9zM989.3 613.3h40.7v1H989.3zM911.7 618.1h11v2.2H911.7zM960.8 618.1h5.5v2.2H960.8zM1004.4 621.05h13.7v1.5H1004.4zM1029 621.05h1.1v1.5H1029zM870 626.35h43v1.1H870zM925.3 632.7h11v2.2H925.3zM1004.4 632.7h2.8v2.2H1004.4zM873.5 635.25h2.8v.9H873.5zM900.8 635.25h5.5v.9H900.8zM974.4 635.25h8.2v.9H974.4zM1004.4 635.25h11v.9H1004.4zM920.8 645.85h57.1v.9H920.8zM1026.2 646.7h3.8v2.2H1026.2zM892.6 650.75h8.2v1.3H892.6zM914.4 652.4h13.7v1H914.4zM886.5 664h.7v1H886.5zM909 664h2.8v1H909zM914.4 664h6.4v1H914.4zM903.5 674.95h2.8v1.1H903.5zM930.8 674.95h2.8v1.1H930.8zM1004.4 674.95h2.8v1.1H1004.4zM993.5 676.35h8.2v1.3H993.5zM1034.4 588.7h16.4v1H1034.4zM1069.9 588.7h2.8v1H1069.9zM1075.3 588.7h11v1H1075.3zM1097.1 588.7h8.2v1H1097.1zM1113.5 588.7h2.8v1H1113.5zM1030 591h1.7v2H1030zM1050.8 593.9h3.1v1.2H1050.8zM1045.3 613.3h5.5v1H1045.3zM1110.8 613.3h8.2v1H1110.8zM1042.6 620.9h8.2v1.8H1042.6zM1053.5 620.9h24.6v1.8H1053.5zM1080.8 620.9h11v1.8H1080.8zM1118.9 620.9h.9v1.8H1118.9zM1050.8 632.6h.5v2.4H1050.8zM1056.2 646.7h5.5v2.2H1056.2zM1030 675.6h4.5v2.4H1030zM1072.6 675.6h5.5v2.4H1072.6zM1110.8 675.6h2.8v2.4H1110.8z"/>
<path fill="#f50000" d="M1040 170.6h79.8v1.2H1040zM208.1 388.05h76.9v.9H208.1zM421 452.25h62v1.5H421zM547.3 452.25h47.6v1.5H547.3zM680 398.8h7v3.2H680zM895.8 430.85h104.2v1.1H895.8zM936.4 443.9h63.6v1.2H936.4zM1011 399h40v2.4H1011zM1000 430.85h39.8v1.1H1000zM1000 443.85h4v1.3H1000zM1057.6 444.4h62.2v1.2H1057.6zM1106.4 455.15h4.5v1.5H1106.4zM1070.3 477.65h49.5v1.5H1070.3z"/>
<path fill="#fc0000" d="M631.7 417.95h48.3v2.1H631.7zM840 398.9h12.7v2H840zM885.7 398.9h13.3v2H885.7zM980.9 398.9h19.1v2H980.9zM270.8 485.1h2.8v1.2H270.8zM289.9 485.1h2.8v1.2H289.9zM232.6 488h2.8v1.8H232.6zM249 488h5.5v1.8H249zM212.7 495.15h.9v1.5H212.7zM336.3 495.15h2.8v1.5H336.3zM328.1 534.7h5.5v2.2H328.1zM238.1 550.8h11v1H238.1zM265.4 550.8h13.7v1H265.4zM325.4 560.3h2.8v1.8H325.4zM298.1 567.8h8.2v2H298.1zM319.9 567.8h5.5v2H319.9zM339 567.8h2.8v2H339zM349.9 567.8h2.8v2H349.9zM317.2 572.4h2.8v2.2H317.2zM273.6 574.6h11v1.2H273.6zM322.6 574.6h2.8v1.2H322.6zM330.8 574.6h5.5v1.2H330.8zM374.5 484.95h2.8v1.5H374.5zM360 502.2h11.8v1.6H360zM369 505.2h6.1v1.6H369zM360.8 515.8h2.8v2H360.8zM374.5 515.8h.8v2H374.5zM508.1 518.75h8.2v2.5H508.1zM434.4 521.75h2.8v1.5H434.4zM483.5 521.75h11v1.5H483.5zM516.3 521.75h3.8v1.5H516.3zM385.4 529.8h5.2v2.4H385.4zM453.5 534.05h2.8v3.5H453.5zM464.4 534.05h2.8v3.5H464.4zM379.9 541.55h2.8v2.5H379.9zM371.7 560.45h2.8v1.5H371.7zM390.8 560.45h8.2v1.5H390.8zM423.5 560.45h2.8v1.5H423.5zM445.4 560.45h2.8v1.5H445.4zM453.5 560.45h2.8v1.5H453.5zM472.6 560.45h2.8v1.5H472.6zM513.5 560.45h2.8v1.5H513.5zM374.5 563.5h2.8v1.2H374.5zM401.7 563.5h8.2v1.2H401.7zM431.7 563.5h5.5v1.2H431.7zM497.2 563.5h2.8v1.2H497.2zM510.8 563.5h2.8v1.2H510.8zM369 567.2h5.5v2H369zM382.6 567.2h8.2v2H382.6zM393.5 567.2h5.5v2H393.5zM420.8 572.8h2.8v2.2H420.8zM429 572.8h2.8v2.2H429zM554.4 487.9h2.8v2H554.4zM614.4 492.05h2.8v2.5H614.4zM647.2 492.05h1.1v2.5H647.2zM587.3 496.8h10.8v2H587.3zM611.7 496.8h5.5v2H611.7zM630.8 496.8h5.5v2H630.8zM641.7 496.8h2v2H641.7zM520 502.75h9.9v1.5H520zM520 506.7h7.2v2H520zM546.3 506.7h1.8v2H546.3zM550.5 510.5h1.3v2.4H550.5zM562.6 510.5h2.8v2.4H562.6zM611.7 510.5h2.8v2.4H611.7zM625.3 510.5h19.1v2.4H625.3zM524.4 524.45h11v2.5H524.4zM546.3 524.45h2.8v2.5H546.3zM595.3 524.45h2.8v2.5H595.3zM568.1 537.05h5.5v1.3H568.1zM542.8 545.8h14.4v1.2H542.8zM562.6 545.8h2.8v1.2H562.6zM587.2 545.8h30v1.2H587.2zM622.6 545.8h2.8v1.2H622.6zM660.8 545.8h2.8v1.2H660.8zM666.2 545.8h1v1.2H666.2zM756.2 492.25h2.5v1.5H756.2zM680 509.5h5.4v3H680zM701.7 509.5h11v3H701.7zM767.2 516.4h2.8v2H767.2zM791.7 516.4h5.5v2H791.7zM690.8 521.5h2.8v2H690.8zM701.7 521.5h19.1v2H701.7zM761.7 521.5h19.1v2H761.7zM805.3 521.5h2.8v2H805.3zM824.4 521.5h2.8v2H824.4zM772.6 523.65h11v1.5H772.6zM794.4 523.65h5.5v1.5H794.4zM786.2 529.55h8.2v2.5H786.2zM797.1 529.55h2.8v2.5H797.1zM685.3 534.8h13.7v2H685.3zM764.4 563.05h11v1.5H764.4zM783.5 563.05h5.5v1.5H783.5zM794.4 563.05h11v1.5H794.4zM941.7 481.55h2.8v1.5H941.7zM960.8 481.55h5.5v1.5H960.8zM849 494.9h8.2v1.2H849zM865.3 494.9h8.2v1.2H865.3zM865.3 503.2h2.8v1.6H865.3zM873.5 506.6h2v2.2H873.5zM900.8 506.6h27.3v2.2H900.8zM977.1 506.6h2.8v2.2H977.1zM843.5 516h2.8v2H843.5zM854.4 516h5.5v2H854.4zM876.2 516h2.8v2H876.2zM881.7 516h2.8v2H881.7zM846.2 529.35h5.5v1.5H846.2zM840.8 540.45h2.8v.9H840.8zM859.9 540.45h8.2v.9H859.9zM870.8 540.45h8.2v.9H870.8zM881.7 540.45h8.2v.9H881.7zM849 544h8.2v2H849zM884.4 544h2.8v2H884.4zM840.8 560.55h8.2v1.3H840.8zM851.7 560.55h2.8v1.3H851.7zM865.3 560.55h2.8v1.3H865.3zM895.3 560.55h41v1.3H895.3zM849 563.5h5.5v1.2H849zM895.3 563.5h9.4v1.2H895.3zM851.7 567.1h11v2.2H851.7zM870.8 567.1h5.5v2.2H870.8zM879 567.1h16.4v2.2H879zM1004.4 484h5.5v2H1004.4zM1029 484h2.8v2H1029zM1034.4 484h2.8v2H1034.4zM1099.9 521.5h2.8v2H1099.9zM1105.3 521.5h2.8v2H1105.3zM1012.6 531.55h2.8v1.5H1012.6zM1061.7 531.55h2.4v1.5H1061.7zM1075.3 533.85h11v1.5H1075.3zM1000 535.9h1.7v1.2H1000zM1015.3 535.9h2.8v1.2H1015.3zM1105.3 535.9h13.7v1.2H1105.3zM1026.2 557.9h21.9v2.2H1026.2zM1072.6 563.35h2.8v1.5H1072.6zM208.1 583.5h13.7v1.2H208.1zM232.6 583.5h9.3v1.2H232.6zM208.1 591.55h2.8v1.5H208.1zM221.7 591.55h2.8v1.5H221.7zM229.9 591.55h12v1.5H229.9zM300.8 593.85h2.8v1.3H300.8zM309 593.85h11v1.3H309zM322.6 593.85h5.5v1.3H322.6zM333.5 593.85h8.2v1.3H333.5zM358.1 593.85h2v1.3H358.1zM270.8 600.5h5.5v1.6H270.8zM336.3 608.35h5.5v1.5H336.3zM288.8 632.3h3.9v3H288.8zM224.5 665.8h5.4v2H224.5zM363.5 600.4h5.5v2.2H363.5zM420.8 600.4h5.5v2.2H420.8zM439.9 600.4h16.4v2.2H439.9zM360 626.25h24.4v1.3H360zM415.4 637.4h2.8v3H415.4zM431.7 637.4h13.7v3H431.7zM450.8 637.4h8.2v3H450.8zM505.4 591.3h2.8v2H505.4zM516.3 591.3h2.8v2H516.3zM521.7 591.3h2.8v2H521.7zM516.3 653h8.2v2H516.3zM529.9 653h5.5v2H529.9zM546.3 653h2.8v2H546.3zM595.3 653h5.5v2H595.3zM500.4 666h2.3v2H500.4zM510.8 666h2.8v2H510.8zM529.9 666h11v2H529.9zM543.5 666h8.2v2H543.5zM573.5 666h8.2v2H573.5zM718.1 591.3h5.5v2H718.1zM731.7 591.3h2.8v2H731.7zM799.9 591.3h2.8v2H799.9zM819 591.3h2.8v2H819zM827.1 591.3h2.8v2H827.1zM840.8 591.3h2.8v2H840.8zM865.3 591.3h2.8v2H865.3zM683 599.6h2.4v2.8H683zM701.7 599.6h8.2v2.8H701.7zM797.1 599.6h5.5v2.8H797.1zM816.2 599.6h2.8v2.8H816.2zM971.7 579.15h5.5v.9H971.7zM974.4 581.9h2.8v1.8H974.4zM982.6 581.9h24.5v1.8H982.6zM909 586.5h2.8v2H909zM982.6 586.5h19.1v2H982.6zM1012.6 586.5h11v2H1012.6zM1029 586.5h1.1v2H1029zM870.8 591h2.8v2H870.8zM876.2 591h2.8v2H876.2zM870 598.45h.8v.9H870zM977.1 598.45h13.7v.9H977.1zM1020.8 598.45h9.3v.9H1020.8zM969 604.9h2.8v2H969zM939 610.2h.9v2H939zM958 618.1h2.8v2.2H958zM966.2 618.1h2.8v2.2H966.2zM1020.8 621.05h8.2v1.5H1020.8zM894 632.7h15v2.2H894zM917.1 632.7h8.2v2.2H917.1zM936.2 632.7h1.1v2.2H936.2zM1001.7 632.7h2.8v2.2H1001.7zM876.2 635.25h24.6v.9H876.2zM930.8 635.25h24.6v.9H930.8zM969 635.25h5.5v.9H969zM990.8 635.25h2.8v.9H990.8zM1015.3 646.7h11v2.2H1015.3zM911.7 664h2.8v1H911.7zM910.6 670.8h3.9v2.2H910.6zM917.1 676.35h16.4v1.3H917.1zM949.9 676.35h2.8v1.3H949.9zM960.8 676.35h5.5v1.3H960.8zM971.7 676.35h2.8v1.3H971.7zM990.8 676.35h2.8v1.3H990.8zM1030 588.7h4.5v1H1030zM1050.8 588.7h11v1H1050.8zM1086.2 588.7h11v1H1086.2zM1105.3 588.7h2.8v1H1105.3zM1031.7 591h11v2H1031.7zM1056.2 591h9v2H1056.2zM1031.7 613.3h13.7v1H1031.7zM1053.5 613.3h8.2v1H1053.5zM1067.1 613.3h16.4v1H1067.1zM1105.3 613.3h2.8v1H1105.3zM1118.9 613.3h.9v1H1118.9zM1030 620.9h1.7v1.8H1030zM1037.1 620.9h5.5v1.8H1037.1zM1050.8 620.9h2.8v1.8H1050.8zM1091.7 620.9h11v1.8H1091.7zM1113.5 620.9h5.5v1.8H1113.5zM1030 632.6h4.5v2.4H1030zM1042.6 632.6h8.2v2.4H1042.6zM1034.4 646.7h2.8v2.2H1034.4zM1110.8 646.7h9v2.2H1110.8z"/>
<path fill="#ff0300" d="M360 393.75h160v.9H360zM470.4 459.9h1.6v1.8H470.4zM561.9 398.8h54.5v3.2H561.9zM789.8 462h6.2v1H789.8zM728.2 477.75h40.6v1.3H728.2zM285 481.4h43v1.8H285zM269 485.1h1.9v1.2H269zM295.4 485.1h2.8v1.2H295.4zM219 506.3h2.8v2H219zM257.2 509.05h5.5v1.5H257.2zM336.3 534.7h2.8v2.2H336.3zM232.6 540.95h2.8v2.5H232.6zM249 550.8h2.8v1H249zM339 556.7h2.8v2H339zM344.5 556.7h15.6v2H344.5zM229.9 560.3h8.2v1.8H229.9zM311.7 560.3h5.5v1.8H311.7zM341.7 560.3h2.8v1.8H341.7zM352.6 560.3h7.4v1.8H352.6zM279 567.8h2.8v2H279zM287.2 567.8h5.5v2H287.2zM325.4 567.8h8.2v2H325.4zM213.6 572.4h2.8v2.2H213.6zM268.5 572.4h16.5v2.2H268.5zM292.6 572.4h11.4v2.2H292.6zM352.6 572.4h2.8v2.2H352.6zM270.8 574.6h2.8v1.2H270.8zM309 574.6h13.7v1.2H309zM388 481.55h16.4v1.5H388zM374.5 508.7h.6v1.6H374.5zM472.6 515.8h2.8v2H472.6zM360 518.75h6.3v2.5H360zM489 518.75h5.5v2.5H489zM499.9 518.75h4.9v2.5H499.9zM461.7 521.75h2.3v1.5H461.7zM360 527h30.5v1.2H360zM366.3 529.8h2.8v2.4H366.3zM382.6 529.8h2.8v2.4H382.6zM442.6 534.05h2.8v3.5H442.6zM467.2 534.05h11v3.5H467.2zM360 541.55h6.3v2.5H360zM360 544.25h36.8v1.5H360zM426.3 560.45h5.5v1.5H426.3zM475.4 560.45h2.8v1.5H475.4zM499.9 560.45h2.8v1.5H499.9zM399 563.5h2.8v1.2H399zM442.6 563.5h16.4v1.2H442.6zM467.2 563.5h13.7v1.2H467.2zM374.5 567.2h2.8v2H374.5zM390.5 572.8h14v2.2H390.5zM409.9 572.8h2.8v2.2H409.9zM415.4 572.8h2.8v2.2H415.4zM535.4 480.5h16.4v1.6H535.4zM543.5 482.8h4.5v2H543.5zM546.3 487.9h8.2v2H546.3zM579 492.05h7.1v2.5H579zM609 492.05h5.5v2.5H609zM617.2 496.8h11v2H617.2zM639 496.8h2.8v2H639zM554.4 510.5h8.2v2.4H554.4zM579 510.5h5.5v2.4H579zM587.2 510.5h11v2.4H587.2zM521.7 524.45h2.8v2.5H521.7zM576.3 524.45h5.5v2.5H576.3zM617.2 545.8h5.5v1.2H617.2zM625.3 545.8h24.6v1.2H625.3zM655.3 545.8h5.5v1.2H655.3zM747.3 481.7h33v1.2H747.3zM732.7 488h8.3v2.2H732.7zM832.6 494.9h7.4v1.2H832.6zM712.6 509.5h5.5v3H712.6zM720.8 509.5h2.8v3H720.8zM726.2 509.5h7.1v3H726.2zM733.3 509.5h1.2v3H733.3zM801.8 515.05h38.2v.9H801.8zM797.1 516.4h5.5v2H797.1zM832.6 516.4h7.4v2H832.6zM726.2 521.5h6.5v2H726.2zM780.8 521.5h2.8v2H780.8zM795.5 521.5h4.4v2H795.5zM783.5 523.65h2.8v1.5H783.5zM709.9 529.55h2.8v2.5H709.9zM748.1 529.55h5.5v2.5H748.1zM810.8 529.55h11v2.5H810.8zM838.1 529.55h2v2.5H838.1zM699 534.8h2.8v2H699zM754.9 563.05h6.8v1.5H754.9zM805.3 563.05h1.7v1.5H805.3zM840 481.55h17.8v1.5H840zM909.8 481.55h18.3v1.5H909.8zM933.5 481.55h8.2v1.5H933.5zM944.4 481.55h13.7v1.5H944.4zM974.4 481.55h3.9v1.5H974.4zM876.2 491h5.5v2H876.2zM887.1 491h3.7v2H887.1zM840 494.9h.8v1.2H840zM888.2 501.05h45.8v1.1H888.2zM845 506.6h6.7v2.2H845zM928.1 506.6h6v2.2H928.1zM974.4 506.6h2.8v2.2H974.4zM846.2 516h8.2v2H846.2zM879 516h2.8v2H879zM903.5 516h11v2H903.5zM884.4 521.75h1.3v1.5H884.4zM871.7 523.75h14v1.3H871.7zM945.3 527h4.6v1.2H945.3zM966.2 527h19.1v1.2H966.2zM870.8 529.35h13.7v1.5H870.8zM868.1 540.45h2.8v.9H868.1zM889.9 544h2.8v2H889.9zM840 545.8h36.8v1.2H840zM868.1 560.55h5.5v1.3H868.1zM854.4 563.5h2.1v1.2H854.4zM892.6 563.5h2.8v1.2H892.6zM843.5 567.1h8.2v2.2H843.5zM895.3 567.1h5.5v2.2H895.3zM963.5 567.1h3.5v2.2H963.5zM868.1 572.2h2.8v2.2H868.1zM966.2 572.2h2.8v2.2H966.2zM1059 484h5.5v2H1059zM1034.4 501.7h13.7v1.6H1034.4zM1075.3 501.7h8.2v1.6H1075.3zM1050.8 510.2h2.8v1.4H1050.8zM1084.2 521.5h4.8v2H1084.2zM1056.2 529.35h5.5v1.5H1056.2zM1094.4 529.35h2.8v1.5H1094.4zM1015.3 531.55h2.8v1.5H1015.3zM1039.9 531.55h2.8v1.5H1039.9zM1042.6 533.85h2.8v1.5H1042.6zM1097.1 533.85h5.5v1.5H1097.1zM1007.1 535.9h8.2v1.2H1007.1zM1059 535.9h2.8v1.2H1059zM1097.1 535.9h2.8v1.2H1097.1zM1118.9 535.9h.9v1.2H1118.9zM1102.6 545.8h11v1.2H1102.6zM1050.8 556.8h2.8v1.2H1050.8zM1007.1 557.9h2.8v2.2H1007.1zM1039.9 563.35h2.8v1.5H1039.9zM1067.1 563.35h2.8v1.5H1067.1zM1012.6 572.2h2.8v2.2H1012.6zM221.7 583.5h11v1.2H221.7zM216.5 588.05h2.6v1.5H216.5zM216.3 591.55h5.5v1.5H216.3zM344.5 593.85h2.8v1.3H344.5zM274.2 595.9h22.2v2.2H274.2zM241.9 600.5h26.6v1.6H241.9zM287.2 600.5h.5v1.6H287.2zM268.5 608.35h16v1.5H268.5zM352.6 608.35h7.4v1.5H352.6zM314.5 625.95h8.2v1.1H314.5zM330.8 626.75h2.8v1.3H330.8zM347.2 637.6h2.8v2.6H347.2zM217.1 650.8h19.1v1.2H217.1zM423.5 595.9h2.8v2.2H423.5zM431.7 595.9h24.6v2.2H431.7zM382.6 600.4h.4v2.2H382.6zM377.2 608.55h11v1.1H377.2zM393.5 608.55h5.5v1.1H393.5zM404.4 608.55h5.5v1.1H404.4zM483.5 608.55h2.8v1.1H483.5zM402 637.4h13.4v3H402zM418.1 637.4h5.5v3H418.1zM426.3 637.4h5.5v3H426.3zM445.4 637.4h5.5v3H445.4zM459 637.4h2.8v3H459zM502.6 591.3h2.8v2H502.6zM500 600h1.4v3H500zM578.5 637.1h.5v2.8H578.5zM589.9 637.1h5.5v2.8H589.9zM600.8 637.1h5.5v2.8H600.8zM636.3 637.1h2.8v2.8H636.3zM535.4 653h11v2H535.4zM551.7 653h5.5v2H551.7zM573.5 653h2.8v2H573.5zM589.9 653h5.5v2H589.9zM603.5 653h3.5v2H603.5zM502.6 666h8.2v2H502.6zM513.5 666h2.8v2H513.5zM527.2 666h2.8v2H527.2zM559.9 666h13.7v2H559.9zM581.7 666h12.9v2H581.7zM739.9 591.3h24.6v2H739.9zM767.2 591.3h2.8v2H767.2zM778.1 591.3h5.5v2H778.1zM786.2 591.3h5.5v2H786.2zM805.3 591.3h13.7v2H805.3zM835.3 591.3h2.8v2H835.3zM854.4 591.3h8.2v2H854.4zM709.9 599.6h8.2v2.8H709.9zM734.4 599.6h2.8v2.8H734.4zM745.3 599.6h5.5v2.8H745.3zM789.4 599.6h2.3v2.8H789.4zM802.6 599.6h2.8v2.8H802.6zM819 599.6h31.4v2.8H819zM739 627.35h14.6v1.3H739zM786.2 627.35h2.8v1.3H786.2zM808.1 627.35h2.8v1.3H808.1zM846.5 627.35h23.5v1.3H846.5zM705.7 637.1h1.5v3H705.7zM720.8 637.1h5.5v3H720.8zM729 637.1h5.5v3H729zM941.7 579.15h13.7v.9H941.7zM977.1 579.15h2.8v.9H977.1zM967 581.9h2v1.8H967zM884.4 586.5h11v2H884.4zM898.1 586.5h2.8v2H898.1zM1001.7 586.5h8.2v2H1001.7zM1026.2 586.5h2.8v2H1026.2zM870 591h.8v2H870zM870.8 598.45h5.5v.9H870.8zM887.1 598.45h13.7v.9H887.1zM911.7 598.45h5.5v.9H911.7zM941.7 598.45h11v.9H941.7zM999 598.45h2.8v.9H999zM938.5 604.9h11.4v2H938.5zM974.4 604.9h2.8v2H974.4zM982.6 604.9h.5v2H982.6zM917.1 610.2h2.8v2H917.1zM933.5 610.2h5.5v2H933.5zM988 610.2h1.3v2H988zM933.5 618.1h13.7v2.2H933.5zM955.3 618.1h2.8v2.2H955.3zM969 618.1h5.5v2.2H969zM1001.7 621.05h2.8v1.5H1001.7zM909 632.7h8.2v2.2H909zM1007.1 632.7h22.9v2.2H1007.1zM925.3 635.25h2.8v.9H925.3zM955.3 635.25h2.8v.9H955.3zM999.4 646.7h16v2.2H999.4zM928.1 652.4h2.8v1H928.1zM899.2 657.5h2.5v1H899.2zM937.3 659.9h36.7v1.2H937.3zM892.6 664h2.8v1H892.6zM906.2 664h2.8v1H906.2zM914.4 670.8h16.4v2.2H914.4zM886.5 676.35h11.6v1.3H886.5zM909 676.35h8.2v1.3H909zM944.4 676.35h2.8v1.3H944.4zM958 676.35h2.8v1.3H958zM966.2 676.35h5.5v1.3H966.2zM974.4 676.35h16.4v1.3H974.4zM1110.8 588.7h2.8v1H1110.8zM1116.2 588.7h2.8v1H1116.2zM1042.6 591h13.7v2H1042.6zM1108 613.3h2.8v1H1108zM1034.4 632.6h8.2v2.4H1034.4zM1030 646.7h4.5v2.2H1030zM1037.1 646.7h19.1v2.2H1037.1zM1061.7 646.7h13.7v2.2H1061.7zM1099.9 646.7h11v2.2H1099.9z"/>
<path fill="#ff1100" d="M208.1 191h274.9v1H208.1zM208.1 221.6h274.9v1.2H208.1zM338.3 426.3h21.7v2.8H338.3zM383.1 388.85h18.8v2.1H383.1zM360 426.3h63.5v2.8H360zM606.3 434.65h34.3v2.5H606.3zM608.8 459.05h25.4v1.3H608.8zM687 398.8h24.7v3.2H687zM795.5 398.8h44.5v3.2H795.5zM682 473.9h19v2H682zM724.4 473.9h49.6v2H724.4zM1060 408h59.8v1.8H1060zM1073 464.1h33.4v1.8H1073zM279 488h11v1.8H279zM295.4 488h2.8v1.8H295.4zM339 495.15h.7v1.5H339zM303.5 498.25h2.8v1.5H303.5zM224.5 506.3h2.8v2H224.5zM268.1 509.05h2.8v1.5H268.1zM229.9 511.3h5.5v2.2H229.9zM355.4 515.8h2.8v2H355.4zM339 534.7h2.8v2.2H339zM238.1 540.95h2.8v2.5H238.1zM208.1 543.7h2.8v2H208.1zM232.6 543.7h5.5v2H232.6zM243.6 543.7h8.2v2H243.6zM213.6 550.8h8.2v1H213.6zM287.2 550.8h8.2v1H287.2zM314.5 550.8h13.7v1H314.5zM219 560.3h2.8v1.8H219zM224.5 560.3h5.5v1.8H224.5zM319.9 560.3h5.5v1.8H319.9zM333.5 560.3h5.5v1.8H333.5zM281.7 567.8h2.8v2H281.7zM306.3 567.8h13.7v2H306.3zM341.7 567.8h8.2v2H341.7zM352.6 567.8h7.4v2H352.6zM396.3 484.95h5.5v1.5H396.3zM360 505.2h.9v1.6H360zM371.7 508.7h2.8v1.6H371.7zM448.1 518.75h11v2.5H448.1zM486.3 518.75h2.8v2.5H486.3zM494.4 518.75h5.5v2.5H494.4zM382.6 534.05h2.8v3.5H382.6zM445.4 534.05h8.2v3.5H445.4zM407.2 560.45h2.8v1.5H407.2zM431.7 560.45h2.8v1.5H431.7zM483.5 560.45h2.8v1.5H483.5zM423.5 572.8h5.5v2.2H423.5zM520 480.5h1.8v1.6H520zM532.6 480.5h2.8v1.6H532.6zM562.6 480.5h11v1.6H562.6zM527.2 482.8h2.8v2H527.2zM557.2 487.9h2.8v2H557.2zM562.6 487.9h2.8v2H562.6zM581.7 487.9h2.8v2H581.7zM595.3 487.9h2.8v2H595.3zM606.3 487.9h8.2v2H606.3zM527.2 506.7h19.1v2H527.2zM551.7 510.5h2.8v2.4H551.7zM565.3 510.5h13.7v2.4H565.3zM584.4 510.5h2.8v2.4H584.4zM609 510.5h2.8v2.4H609zM644.4 510.5h2.6v2.4H644.4zM565.3 524.45h5.5v2.5H565.3zM581.7 524.45h5.5v2.5H581.7zM680 484.9h2.7v1.6H680zM808.1 494.9h11v1.2H808.1zM829.9 494.9h2.8v1.2H829.9zM688.1 509.5h8.2v3H688.1zM739.9 516.4h2.8v2H739.9zM737.2 521.5h2.8v2H737.2zM808.1 521.5h5.5v2H808.1zM838.1 521.5h2v2H838.1zM745.3 529.55h2.8v2.5H745.3zM802.6 529.55h2.8v2.5H802.6zM709.9 545.8h2.8v1.2H709.9zM750.8 545.8h2.8v1.2H750.8zM772.6 545.8h5.5v1.2H772.6zM786.2 545.8h8.2v1.2H786.2zM928.1 481.55h5.5v1.5H928.1zM958 481.55h2.8v1.5H958zM966.2 481.55h8.2v1.5H966.2zM851.7 506.6h5.5v2.2H851.7zM895.8 506.6h2.3v2.2H895.8zM840 509.7h.8v1.6H840zM865.3 509.7h13.7v1.6H865.3zM884.4 509.7h1.3v1.6H884.4zM862.6 516h5.5v2H862.6zM870.8 516h5.5v2H870.8zM884.4 516h1.3v2H884.4zM889.5 516h3.1v2H889.5zM933.5 548.5h.5v3H933.5zM936.2 567.1h2.8v2.2H936.2zM947.1 567.1h5.5v2.2H947.1zM954.2 567.1h1.2v2.2H954.2zM840 572.2h3.6v2.2H840zM979.9 572.2h5.5v2.2H979.9zM1000 484h4.5v2H1000zM1048 501.7h2.8v1.6H1048zM1097.1 501.7h2.8v1.6H1097.1zM1105.3 501.7h5.5v1.6H1105.3zM1029 509.2h2.8v1.2H1029zM1048 509.2h2.8v1.2H1048zM1064.4 515.9h8.2v2.2H1064.4zM1088.9 521.5h8.2v2H1088.9zM1108 521.5h8.2v2H1108zM1034.4 531.55h2.8v1.5H1034.4zM1048 545.8h13.7v1.2H1048zM1069.9 545.8h13.7v1.2H1069.9zM1097.1 545.8h2.8v1.2H1097.1zM1018 556.8h27.3v1.2H1018zM1005.5 557.9h1.7v2.2H1005.5zM1023.5 557.9h2.8v2.2H1023.5zM1015.3 563.35h2.8v1.5H1015.3zM1042.6 563.35h8.2v1.5H1042.6zM1078 563.35h1v1.5H1078zM1059 572.2h8.2v2.2H1059zM219 588.05h13.7v1.5H219zM240.8 588.05h1.1v1.5H240.8zM213.6 591.55h2.8v1.5H213.6zM224.5 591.55h5.5v1.5H224.5zM341.7 593.85h2.8v1.3H341.7zM347.2 593.85h8.2v1.3H347.2zM281.7 625.95h5.5v1.1H281.7zM298.1 625.95h16.4v1.1H298.1zM314.5 626.75h8.2v1.3H314.5zM339 626.75h8.2v1.3H339zM300.8 632.3h8.2v3H300.8zM309 632.3h8.2v3H309zM319.9 632.3h8.2v3H319.9zM336.3 632.3h2.8v3H336.3zM352.6 632.3h7.4v3H352.6zM303.5 637.6h5.5v2.6H303.5zM314.5 637.6h2.8v2.6H314.5zM319.9 637.6h11v2.6H319.9zM442.6 591.45h2.8v1.5H442.6zM413.6 595.9h1.8v2.2H413.6zM418.1 595.9h5.5v2.2H418.1zM409.9 608.55h19.1v1.1H409.9zM434.4 608.55h2.8v1.1H434.4zM439.9 608.55h11v1.1H439.9zM461.7 608.55h2.8v1.1H461.7zM472.6 608.55h11v1.1H472.6zM491.7 608.55h2.8v1.1H491.7zM371.7 637.4h2.8v3H371.7zM379.9 637.4h5.5v3H379.9zM524.4 591.3h2.8v2H524.4zM519 595.9h11v1.6H519zM579 637.1h8.2v2.8H579zM595.3 637.1h5.5v2.8H595.3zM606.3 637.1h2.8v2.8H606.3zM611.7 637.1h8.2v2.8H611.7zM625.3 637.1h8.2v2.8H625.3zM639 637.1h2.4v2.8H639zM557.2 653h2.8v2H557.2zM568.1 653h5.5v2H568.1zM587.2 653h2.8v2H587.2zM600.8 653h2.8v2H600.8zM516.3 666h11v2H516.3zM540.8 666h2.8v2H540.8zM551.7 666h8.2v2H551.7zM682.6 591.3h2.8v2H682.6zM838.1 591.3h2.8v2H838.1zM846.2 591.3h8.2v2H846.2zM685.3 599.6h16.4v2.8H685.3zM737.2 599.6h8.2v2.8H737.2zM750.8 599.6h4.3v2.8H750.8zM794.4 599.6h2.8v2.8H794.4zM753.5 627.35h5.5v1.3H753.5zM767.2 627.35h11v1.3H767.2zM780.8 627.35h5.5v1.3H780.8zM789 627.35h2.8v1.3H789zM794.4 627.35h13.7v1.3H794.4zM810.8 627.35h1.3v1.3H810.8zM726.2 637.1h2.8v3H726.2zM734.4 637.1h6.5v3H734.4zM955.3 579.15h2.8v.9H955.3zM977.1 581.9h5.5v1.8H977.1zM928.1 586.5h8.2v2H928.1zM990.8 591h5.5v2H990.8zM990.8 598.45h5.5v.9H990.8zM1015.3 598.45h5.5v.9H1015.3zM955.3 610.2h5.5v2H955.3zM952.6 618.1h2.8v2.2H952.6zM974.4 618.1h9.8v2.2H974.4zM928.1 621.05h2.8v1.5H928.1zM977.1 621.05h2.8v1.5H977.1zM988 621.05h5.5v1.5H988zM977.1 650.75h5.5v1.3H977.1zM985.3 650.75h8.2v1.3H985.3zM939 652.4h2.8v1H939zM966.2 652.4h2.8v1H966.2zM898.1 676.35h11v1.3H898.1zM933.5 676.35h11v1.3H933.5zM947.1 676.35h2.8v1.3H947.1zM952.6 676.35h5.5v1.3H952.6zM1099.4 646.7h.5v2.2H1099.4z"/>
<path fill="#ff1700" d="M940 170.6h100v1.2H940zM292.6 498.25h2.8v1.5H292.6zM254.6 509.05h2.6v1.5H254.6zM262.6 509.05h5.5v1.5H262.6zM292.6 511.3h2.8v2.2H292.6zM298.1 511.3h13.7v2.2H298.1zM355.4 534.7h4.7v2.2H355.4zM249 540.95h13.7v2.5H249zM279 540.95h3.5v2.5H279zM276.3 556.7h2.8v2H276.3zM281.7 556.7h30v2H281.7zM325.4 556.7h11v2H325.4zM238.1 560.3h1.3v1.8H238.1zM292.6 567.8h5.5v2H292.6zM333.5 567.8h5.5v2H333.5zM232.6 572.4h5.5v2.2H232.6zM360 484.95h.9v1.5H360zM377.2 484.95h19.1v1.5H377.2zM371.7 502.2h3.3v1.6H371.7zM366.3 515.8h2.8v2H366.3zM366.3 518.75h8.2v2.5H366.3zM420.8 518.75h2.8v2.5H420.8zM441.2 518.75h6.9v2.5H441.2zM459 518.75h8.2v2.5H459zM516.3 518.75h3.8v2.5H516.3zM375 534.05h7.7v3.5H375zM426.3 534.05h2.8v3.5H426.3zM385.4 541.55h2.8v2.5H385.4zM412.6 560.45h2.8v1.5H412.6zM489 560.45h2.8v1.5H489zM360 567.2h.9v2H360zM390.8 567.2h2.8v2H390.8zM559.9 480.5h2.8v1.6H559.9zM540.8 482.8h2.8v2H540.8zM565.3 487.9h2.8v2H565.3zM568.2 487.9h8.1v2H568.2zM579 487.9h2.8v2H579zM584.4 487.9h2.8v2H584.4zM600.8 487.9h2.8v2H600.8zM538.1 524.45h2.8v2.5H538.1zM824.4 494.9h2.8v1.2H824.4zM718.1 509.5h2.8v3H718.1zM733.3 516.4h6.6v2H733.3zM734.4 521.5h2.8v2H734.4zM739.9 521.5h2.8v2H739.9zM756.2 521.5h2.8v2H756.2zM799.9 521.5h5.5v2H799.9zM813.5 521.5h2.8v2H813.5zM732.7 529.55h1.8v2.5H732.7zM680 545.8h24.5v1.2H680zM712.6 545.8h2.8v1.2H712.6zM726.2 545.8h24.6v1.2H726.2zM753.5 545.8h16.4v1.2H753.5zM870.8 491h5.5v2H870.8zM973.2 506.6h1.3v2.2H973.2zM988 506.6h4.3v2.2H988zM840.8 509.7h2.8v1.6H840.8zM892.6 516h11v2H892.6zM840 521.75h19.9v1.5H840zM873.5 521.75h11v1.5H873.5zM851.7 529.35h2.8v1.5H851.7zM840.8 563.5h2.8v1.2H840.8zM840 567.1h3.6v2.2H840zM917.1 567.1h5.5v2.2H917.1zM870.8 572.2h2.8v2.2H870.8zM879 572.2h5.5v2.2H879zM1026.2 484h2.8v2H1026.2zM1072.6 498.7h11v1.6H1072.6zM1050.8 509.2h2.8v1.2H1050.8zM1008 515.9h4.6v2.2H1008zM1026.2 515.9h5.5v2.2H1026.2zM1097.1 521.5h2.8v2H1097.1zM1018 531.55h2.8v1.5H1018zM1053.5 531.55h8.2v1.5H1053.5zM1042.6 545.8h5.5v1.2H1042.6zM1091.7 545.8h5.5v1.2H1091.7zM1099.9 545.8h2.8v1.2H1099.9zM1005.5 556.8h7.1v1.2H1005.5zM1045.3 556.8h5.5v1.2H1045.3zM1015.3 557.9h8.2v2.2H1015.3zM1020.8 563.35h8.2v1.5H1020.8zM1037.1 563.35h2.8v1.5H1037.1zM1015.3 572.2h13.7v2.2H1015.3zM1056.2 572.2h2.8v2.2H1056.2zM1072.6 572.2h2.8v2.2H1072.6zM232.6 588.05h8.2v1.5H232.6zM282.5 593.85h10.2v1.3H282.5zM355.4 593.85h2.8v1.3H355.4zM276.3 600.5h11v1.6H276.3zM284.5 608.35h.6v1.5H284.5zM262.6 625.95h19.1v1.1H262.6zM287.2 625.95h2.8v1.1H287.2zM355.4 626.75h4.7v1.3H355.4zM347.2 632.3h5.5v3H347.2zM292.6 637.6h11v2.6H292.6zM330.8 637.6h5.5v2.6H330.8zM339 637.6h2.8v2.6H339zM349.9 637.6h10.1v2.6H349.9zM445.4 591.45h5.5v1.5H445.4zM453.5 591.45h2.8v1.5H453.5zM415.4 595.9h2.8v2.2H415.4zM426.3 595.9h5.5v2.2H426.3zM456.3 595.9h5.5v2.2H456.3zM375.5 608.55h1.7v1.1H375.5zM388.1 608.55h5.5v1.1H388.1zM399 608.55h5.5v1.1H399zM429 608.55h5.5v1.1H429zM437.2 608.55h2.8v1.1H437.2zM450.8 608.55h11v1.1H450.8zM464.4 608.55h8.2v1.1H464.4zM486.3 608.55h5.5v1.1H486.3zM494.4 608.55h5.5v1.1H494.4zM374.5 637.4h5.5v3H374.5zM388.1 637.4h2.8v3H388.1zM527.2 591.3h1.9v2H527.2zM532.6 595.9h2.8v1.6H532.6zM543.5 595.9h2.8v1.6H543.5zM587.2 637.1h2.8v2.8H587.2zM609 637.1h2.8v2.8H609zM619.9 637.1h5.5v2.8H619.9zM633.5 637.1h2.8v2.8H633.5zM718.1 599.6h16.4v2.8H718.1zM759 627.35h8.2v1.3H759zM778.1 627.35h2.8v1.3H778.1zM791.7 627.35h2.8v1.3H791.7zM707.2 637.1h13.7v3H707.2zM937 579.15h4.7v.9H937zM958 579.15h13.7v.9H958zM979.9 579.15h.6v.9H979.9zM900.8 591h5.5v2H900.8zM922.6 591h5.5v2H922.6zM996.2 591h16.4v2H996.2zM1015.3 591h3.2v2H1015.3zM900.8 598.45h5.5v.9H900.8zM939 598.45h2.8v.9H939zM971.7 598.45h5.5v.9H971.7zM1001.7 598.45h2.8v.9H1001.7zM941.7 610.2h5.5v2H941.7zM977.1 610.2h5.5v2H977.1zM947.1 618.1h5.5v2.2H947.1zM900.8 621.05h5.5v1.5H900.8zM925.3 621.05h2.8v1.5H925.3zM939 621.05h2.8v1.5H939zM981.7 621.05h.9v1.5H981.7zM996.2 621.05h5.5v1.5H996.2zM966.2 650.75h2.8v1.3H966.2zM974.4 650.75h2.8v1.3H974.4zM963.5 652.4h2.8v1H963.5z"/>
<path fill="#ff1e00" d="M208.1 170.6h274.9v1.2H208.1zM208.1 417.9h8.8v2.2H208.1zM285 466.85h12.7v1.5H285zM483 420.05h37v.9H483zM423.5 426.3h59.5v2.8H423.5zM407 477.65h41.8v1.5H407zM616.4 398.8h33v3.2H616.4zM527.6 466.05h22.9v1.3H527.6zM680 447.9h160v1.2H680zM1004 443.85h53.6v1.3H1004zM1010.6 452.1h19v1.8H1010.6zM1058.8 452.1h61v1.8H1058.8zM1058.8 466.8h28v1H1058.8zM259.6 495.15h3.9v1.5H259.6zM360 556.8h20.3v1.2H360zM782.2 494.9h24.8v1.2H782.2zM680 505.25h12.7v1.5H680zM680 507.05h12.7v1.5H680zM978.3 481.55h21.7v1.5H978.3zM1091.8 531.55h28v1.5H1091.8zM1034.7 579.15h14v.9H1034.7zM241.9 588.05h26.6v1.5H241.9zM208.1 614.3h14.1v2.8H208.1zM266 621.9h3.2v1H266zM306.6 675h19v1H306.6zM399 591.45h3v1.5H399zM483.4 595.9h16.6v2.2H483.4zM428.8 653.85h54.6v1.3H428.8zM570 600h42.7v3H570zM648.9 600h21.1v3H648.9zM500 608.95h170v1.1H500zM670 609.35h200v1.1H670zM981.7 632.7h20v2.2H981.7z"/>
<path fill="#ff2500" d="M300.8 488h2.8v1.8H300.8zM327 491.95h1.1v1.5H327zM352.6 491.95h7.4v1.5H352.6zM219 498.25h1.3v1.5H219zM227.2 506.3h8.2v2H227.2zM349.9 522.6h2.8v1.6H349.9zM232.6 534.7h2.8v2.2H232.6zM273.6 540.95h5.5v2.5H273.6zM279 556.7h2.8v2H279zM311.7 556.7h13.7v2H311.7zM284.5 560.3h.6v1.8H284.5zM317.2 560.3h2.8v1.8H317.2zM363.5 515.8h2.8v2H363.5zM374.5 518.75h2.1v2.5H374.5zM423.5 518.75h8.2v2.5H423.5zM494.4 525.05h8.2v1.3H494.4zM508.1 525.05h2.8v1.3H508.1zM371.7 541.55h8.2v2.5H371.7zM396.3 541.55h.6v2.5H396.3zM527.2 480.5h5.5v1.6H527.2zM576.3 487.9h2.8v2H576.3zM592.6 487.9h2.8v2H592.6zM603.5 487.9h2.8v2H603.5zM630.8 487.9h2.8v2H630.8zM549 524.45h5.5v2.5H549zM587.2 524.45h8.2v2.5H587.2zM598.1 524.45h5v2.5H598.1zM527.2 563.05h5.5v1.5H527.2zM682.6 484.9h8.2v1.6H682.6zM729 507.05h4.4v1.5H729zM748.1 509.5h10.7v3H748.1zM742.6 516.4h2.8v2H742.6zM704.4 545.8h5.5v1.2H704.4zM715.3 545.8h11v1.2H715.3zM769.9 545.8h2.8v1.2H769.9zM778.1 545.8h8.2v1.2H778.1zM794.4 545.8h1.1v1.2H794.4zM930.8 567.1h2.8v2.2H930.8zM939 567.1h2.8v2.2H939zM846.2 572.2h5.5v2.2H846.2zM928.1 572.2h2.8v2.2H928.1zM949.9 572.2h8.2v2.2H949.9zM974.4 572.2h5.5v2.2H974.4zM993.5 572.2h5.5v2.2H993.5zM1086.2 501.7h2.8v1.6H1086.2zM1034.4 509.2h5.5v1.2H1034.4zM1042.6 509.2h2.8v1.2H1042.6zM1029 510.2h2.8v1.4H1029zM1048 510.2h2.8v1.4H1048zM1056.2 510.2h2.6v1.4H1056.2zM1020.8 525h8.2v2.6H1020.8zM1048 531.55h5.5v1.5H1048zM1041 545.8h1.6v1.2H1041zM1061.7 545.8h8.2v1.2H1061.7zM1083.5 545.8h8.2v1.2H1083.5zM1113.5 545.8h6.3v1.2H1113.5zM1015.3 556.8h2.8v1.2H1015.3zM1053.5 556.8h.4v1.2H1053.5zM1048 572.2h8.2v2.2H1048zM1086.2 572.2h2.8v2.2H1086.2zM322.6 598.95h11v1.3H322.6zM285 608.35h2.2v1.5H285zM289.9 608.35h5.5v1.5H289.9zM314.5 608.35h13.7v1.5H314.5zM322.6 625.95h4.4v1.1H322.6zM281.2 626.75h.6v1.3H281.2zM325.4 626.75h5.5v1.3H325.4zM349.9 626.75h5.5v1.3H349.9zM317.2 632.3h2.8v3H317.2zM344.5 632.3h2.8v3H344.5zM309 637.6h2.8v2.6H309zM317.2 637.6h2.8v2.6H317.2zM336.3 637.6h2.8v2.6H336.3zM341.7 637.6h5.5v2.6H341.7zM412.6 591.45h27.3v1.5H412.6zM450.8 591.45h2.8v1.5H450.8zM469.9 591.45h5.5v1.5H469.9zM396.3 595.9h13.7v2.2H396.3zM384.4 626.25h6.5v1.3H384.4zM401.7 626.25h2.8v1.3H401.7zM407.2 626.25h27.3v1.3H407.2zM439.9 626.25h2.8v1.3H439.9zM459 626.25h2.8v1.3H459zM464.4 626.25h2.8v1.3H464.4zM360 637.4h11.8v3H360zM390.8 637.4h8.2v3H390.8zM508.1 591.3h8.2v2H508.1zM516.3 595.9h2.8v1.6H516.3zM535.4 595.9h8.2v1.6H535.4zM546.3 595.9h7.5v1.6H546.3zM813.5 627.35h2.8v1.3H813.5zM843.5 627.35h2.8v1.3H843.5zM895.4 591h5.4v2H895.4zM928.1 591h5.5v2H928.1zM1012.6 591h2.8v2H1012.6zM917.1 598.45h2.8v.9H917.1zM955.3 598.45h2.8v.9H955.3zM1007.1 598.45h5.5v.9H1007.1zM982.6 610.2h2.8v2H982.6zM933.5 621.05h5.5v1.5H933.5zM971.7 621.05h2.8v1.5H971.7zM979.9 621.05h1.9v1.5H979.9zM982.6 621.05h2.8v1.5H982.6zM993.5 621.05h2.8v1.5H993.5zM939 650.75h2.8v1.3H939zM955.3 650.75h2.8v1.3H955.3zM949.9 652.4h13.7v1H949.9zM969 652.4h2.8v1H969z"/>
<path fill="#ff2b00" d="M805 259.7h314.8v1.2H805zM255.2 394.1h7.6v1.8H255.2zM252 398.9h108v2.6H252zM263 468.8h22v2H263zM299 468.8h45.7v2H299zM353 468.8h7v2H353zM436 398.9h47v2.6H436zM483 398.1h16.6v4.2H483zM360 443.75h39.3v1.1H360zM360 444.95h39.3v1.5H360zM490.7 444.95h29.3v1.5H490.7zM360 468.7h36v2.2H360zM401 468.7h13.6v2.2H401zM526.3 398.8h35.6v3.2H526.3zM520 426.5h26v2.4H520zM526.3 445.2h35.6v2H526.3zM840 430.85h25.4v1.1H840zM923.8 459.8h21.5v2H923.8zM894.6 468.7h23.4v2.2H894.6zM1000 408h60v1.8H1000zM1004.3 477.65h16.5v1.5H1004.3zM1027 477.65h26.8v1.5H1027zM217 481.4h21v1.8H217zM273.6 488h2.7v1.8H273.6zM336.3 491.95h16.4v1.5H336.3zM221.7 506.3h2.8v2H221.7zM276.3 524.3h2.5v2.8H276.3zM254.5 543.7h11v2H254.5zM336.3 556.7h2.8v2H336.3zM210.8 560.3h5.5v1.8H210.8zM281.7 560.3h2.8v1.8H281.7zM366.3 505.2h2.8v1.6H366.3zM369 515.8h2.8v2H369zM414.6 518.75h.8v2.5H414.6zM431.7 518.75h.6v2.5H431.7zM472.6 518.75h2.8v2.5H472.6zM478.1 518.75h2.8v2.5H478.1zM510.8 525.05h8.2v1.3H510.8zM374.5 529.8h2.8v2.4H374.5zM407.2 534.05h5.5v3.5H407.2zM557.2 480.5h2.8v1.6H557.2zM587.2 487.9h5.5v2H587.2zM598.1 487.9h2.8v2H598.1zM614.4 487.9h11v2H614.4zM628.1 487.9h2.8v2H628.1zM639 487.9h2.8v2H639zM520 524.45h1.8v2.5H520zM520 563.05h7.2v1.5H520zM532.6 563.05h13.4v1.5H532.6zM734.4 509.5h2.8v3H734.4zM739.9 509.5h5.5v3H739.9zM745.3 516.4h11v2H745.3zM840 503.2h3.6v1.6H840zM851.7 503.2h5.5v1.6H851.7zM857.1 506.6h5.5v2.2H857.1zM879 509.7h5.5v1.6H879zM914.4 516h.5v2H914.4zM903.5 567.1h13.7v2.2H903.5zM922.6 567.1h8.2v2.2H922.6zM941.7 567.1h5.5v2.2H941.7zM851.7 572.2h16.4v2.2H851.7zM960.8 572.2h5.5v2.2H960.8zM969 572.2h5.5v2.2H969zM1050.8 498.7h8.2v1.6H1050.8zM1061.7 501.7h5.5v1.6H1061.7zM1099.9 501.7h2.8v1.6H1099.9zM1067.1 507.1h2.8v1.6H1067.1zM1078 507.1h1v1.6H1078zM1018 509.2h8.2v1.2H1018zM1023.5 510.2h5.5v1.4H1023.5zM1031.7 515.9h.4v2.2H1031.7zM1000 531.55h1.7v1.5H1000zM1020.8 531.55h13.7v1.5H1020.8zM1004.4 572.2h8.2v2.2H1004.4zM1034.4 572.2h13.7v2.2H1034.4zM306.3 598.95h16.4v1.3H306.3zM349.9 598.95h8.2v1.3H349.9zM287.2 608.35h2.8v1.5H287.2zM328.1 608.35h2.7v1.5H328.1zM260.9 625.95h1.8v1.1H260.9zM289.9 625.95h8.2v1.1H289.9zM287.2 626.75h5.5v1.3H287.2zM298.1 626.75h2.8v1.3H298.1zM311.7 626.75h2.8v1.3H311.7zM322.6 626.75h2.8v1.3H322.6zM328.1 632.3h8.2v3H328.1zM339 632.3h5.5v3H339zM288.8 637.6h3.9v2.6H288.8zM311.7 637.6h2.8v2.6H311.7zM407.3 591.45h5.4v1.5H407.3zM456.3 591.45h2.8v1.5H456.3zM464.4 591.45h5.5v1.5H464.4zM475.4 591.45h8.1v1.5H475.4zM388.1 595.9h8.2v2.2H388.1zM390.8 626.25h2.8v1.3H390.8zM404.4 626.25h2.8v1.3H404.4zM434.4 626.25h5.5v1.3H434.4zM442.6 626.25h16.4v1.3H442.6zM461.7 626.25h2.8v1.3H461.7zM467.2 626.25h5.5v1.3H467.2zM475.4 626.25h11v1.3H475.4zM491.7 626.25h8.2v1.3H491.7zM385.4 637.4h2.8v3H385.4zM399 637.4h2.8v3H399zM500 591.3h2.7v2H500zM529.9 595.9h2.8v1.6H529.9zM670 607.95h104.2v1.1H670zM787.5 607.95h5.7v1.1H787.5zM860.8 607.95h9.2v1.1H860.8zM821.7 627.35h21.9v1.3H821.7zM670 653.6h89v1.2H670zM757 666h13.4v2H757zM906.2 591h16.4v2H906.2zM933.5 591h3.8v2H933.5zM980.4 591h10.4v2H980.4zM876.2 598.45h8.2v.9H876.2zM909 598.45h2.8v.9H909zM919.9 598.45h16.4v.9H919.9zM952.6 598.45h2.8v.9H952.6zM966.2 598.45h5.5v.9H966.2zM996.2 598.45h2.8v.9H996.2zM1004.4 598.45h2.8v.9H1004.4zM939.8 610.2h1.9v2H939.8zM947.1 610.2h8.2v2H947.1zM960.8 610.2h13.7v2H960.8zM922.6 621.05h2.8v1.5H922.6zM941.7 621.05h11v1.5H941.7zM955.3 621.05h2.8v1.5H955.3zM966.2 621.05h5.5v1.5H966.2zM985.3 621.05h2.8v1.5H985.3zM934 652.4h5v1H934zM941.7 652.4h8.2v1H941.7zM971.7 652.4h8.8v1H971.7zM1075.3 646.7h13.7v2.2H1075.3z"/>
<path fill="#ff3900" d="M483 311.7h36v1.2H483zM1015 329.9h20v1H1015zM208.1 392.05h11.9v1.3H208.1zM259.6 443.85h100.4v2.3H259.6zM325.6 475.75h2.6v1.3H325.6zM335.8 475.75h6.2v1.3H335.8zM349.7 475.75h5.1v1.3H349.7zM360 398.9h47v2.6H360zM414.6 413.35h3.8v1.3H414.6zM483 426.3h24.2v2.8H483zM448.8 477.65h71.2v1.5H448.8zM649.4 398.8h30.6v3.2H649.4zM588.5 473.3h11.5v3H588.5zM612 473.3h13v3H612zM520 477.65h22.8v1.5H520zM591 477.65h47v1.5H591zM760 430.85h80v1.1H760zM769 452h71v.8H769zM711.7 468.7h1.9v2.2H711.7zM994 408h6v1.8H994zM994 452.1h6v1H994zM945.3 459.8h54.7v2H945.3zM1000 459.4h8v2.4H1000zM292.6 485.1h2.8v1.2H292.6zM254.5 488h2.8v1.8H254.5zM292.6 488h2.8v1.8H292.6zM298.1 488h2.8v1.8H298.1zM216.3 495.15h8.2v1.5H216.3zM212.7 498.25h6.4v1.5H212.7zM290 498.25h2.7v1.5H290zM295.4 498.25h8.2v1.5H295.4zM306.3 498.25h.4v1.5H306.3zM265.4 522.6h2.8v1.6H265.4zM249 529.4h5.5v2.6H249zM235.4 534.7h16.4v2.2H235.4zM262.6 540.95h2.8v2.5H262.6zM306.3 540.95h2.8v2.5H306.3zM210.8 543.7h3.8v2H210.8zM279 543.7h2.2v2H279zM208.1 560.3h2.8v1.8H208.1zM339 560.3h2.8v1.8H339zM415.4 518.75h5.5v2.5H415.4zM467.2 518.75h2.8v2.5H467.2zM480.8 518.75h2.2v2.5H480.8zM483 525.05h3.3v1.3H483zM436 532.85h84v.9H436zM388.1 541.55h8.2v2.5H388.1zM524.4 480.5h2.8v1.6H524.4zM625.3 487.9h2.8v2H625.3zM633.5 487.9h5.5v2H633.5zM542.8 492.05h.8v2.5H542.8zM667.8 506.7h6.4v1.2H667.8zM667.2 545.8h12.8v1.2H667.2zM690.8 484.9h9.6v1.6H690.8zM745.3 509.5h2.8v3H745.3zM756.2 516.4h5v2H756.2zM799.9 534.8h13.7v2H799.9zM865.3 506.6h5.5v2.2H865.3zM951.7 519.65h29.2v1.5H951.7zM967 561.95h33v1.1H967zM933.5 567.1h2.8v2.2H933.5zM930.8 572.2h11v2.2H930.8zM958 572.2h2.8v2.2H958zM985.3 572.2h2.8v2.2H985.3zM1059 498.7h2.8v1.6H1059zM1083.5 501.7h2.8v1.6H1083.5zM1059 505.5h8.2v1.6H1059zM1069.9 505.5h8.2v1.6H1069.9zM1059 507.1h2.8v1.6H1059zM1031.7 509.2h2.8v1.2H1031.7zM1029 525h2.8v2.6H1029zM1109.6 525h10.2v2.6H1109.6zM1001.7 531.55h11v1.5H1001.7zM1037.1 531.55h2.8v1.5H1037.1zM1042.6 531.55h5.5v1.5H1042.6zM1013 537.5h20.5v1H1013zM1088.9 554.35h8.2v1.5H1088.9zM1012.6 556.8h2.8v1.2H1012.6zM1083.5 563.35h8.2v1.5H1083.5zM1000 572.2h4.5v2.2H1000zM1075.3 572.2h5.5v2.2H1075.3zM241.9 583.5h26.6v1.2H241.9zM295.4 588.05h5.5v1.5H295.4zM347.2 598.95h2.8v1.3H347.2zM295.4 608.35h19.1v1.5H295.4zM281.7 626.75h2.8v1.3H281.7zM292.6 626.75h5.5v1.3H292.6zM347.2 626.75h2.8v1.3H347.2zM235.4 665.8h5.5v2H235.4zM439.9 591.45h2.8v1.5H439.9zM459 591.45h5.5v1.5H459zM384.4 595.9h3.7v2.2H384.4zM409.9 595.9h3.7v2.2H409.9zM393.5 626.25h8.2v1.3H393.5zM472.6 626.25h2.8v1.3H472.6zM486.3 626.25h5.5v1.3H486.3zM360.8 653.85h11v1.3H360.8zM401.7 653.85h5.5v1.3H401.7zM483.4 653.85h16.6v1.3H483.4zM519 591.3h2.8v2H519zM500 595.9h16.3v1.6H500zM500 627.9h170v1H500zM812 627.35h1.6v1.3H812zM816.2 627.35h5.5v1.3H816.2zM943.6 583.75h3.6v1.1H943.6zM955.3 583.75h2.8v1.1H955.3zM923.3 586.5h4.8v2H923.3zM936.2 586.5h1.1v2H936.2zM884.4 598.45h2.8v.9H884.4zM936.2 598.45h2.8v.9H936.2zM895.4 621.05h5.4v1.5H895.4zM906.2 621.05h16.4v1.5H906.2zM952.6 621.05h2.8v1.5H952.6zM958 621.05h8.2v1.5H958zM974.4 621.05h2.8v1.5H974.4zM958 650.75h8.2v1.3H958zM993.5 650.75h.5v1.3H993.5zM986 674.95h15.7v1.1H986zM1076.6 612h43.2v1H1076.6zM1030 637h89.8v1.2H1030zM1088.9 646.7h10.5v2.2H1088.9zM1075.3 650.85h44.5v1.1H1075.3z"/>
<path fill="#ff4d00" d="M291.4 426.3h46.9v2.8H291.4zM432.3 463.8h18.4v2H432.3zM865.4 430.85h30.4v1.1H865.4zM289.9 488h2.8v1.8H289.9zM349.9 521h2.8v1.6H349.9zM352.6 522.6h5.5v1.6H352.6zM219 529.4h2.8v2.6H219zM227.2 529.4h2.8v2.6H227.2zM238.1 529.4h11v2.6H238.1zM208.1 534.7h2.8v2.2H208.1zM221.7 534.7h5.5v2.2H221.7zM309 540.95h2.8v2.5H309zM314.5 540.95h2.8v2.5H314.5zM319.9 540.95h2.8v2.5H319.9zM240.8 543.7h2.8v2H240.8zM265.4 543.7h13.7v2H265.4zM327 548.1h3.9v2.8H327zM336.3 548.1h2.8v2.8H336.3zM344.5 548.1h2.8v2.8H344.5zM208.1 572.4h2.8v2.2H208.1zM229.9 572.4h2.8v2.2H229.9zM238.1 572.4h3.9v2.2H238.1zM469.9 518.75h2.8v2.5H469.9zM475.4 518.75h2.8v2.5H475.4zM486.3 525.05h2.8v1.3H486.3zM554.4 492.05h2.8v2.5H554.4zM559.9 492.05h11v2.5H559.9zM680 480.3h2.7v2.4H680zM690.8 480.3h9.6v2.4H690.8zM810.8 523.65h5.5v1.5H810.8zM821.7 523.65h2.8v1.5H821.7zM742.6 529.55h2.8v2.5H742.6zM753.5 529.55h15.3v2.5H753.5zM737.2 534.8h5.5v2H737.2zM761.7 534.8h11v2H761.7zM775.3 534.8h2.8v2H775.3zM783.5 534.8h2.8v2H783.5zM794.4 534.8h2.8v2H794.4zM824.4 534.8h5.5v2H824.4zM838.1 534.8h2v2H838.1zM879 531.55h2.8v1.5H879zM843.5 572.2h2.8v2.2H843.5zM873.5 572.2h5.5v2.2H873.5zM884.4 572.2h3.8v2.2H884.4zM911 572.2h.7v2.2H911zM919.9 572.2h8.2v2.2H919.9zM988 572.2h5.5v2.2H988zM999 572.2h1.1v2.2H999zM1067.1 505.5h2.8v1.6H1067.1zM1037.1 510.2h11v1.4H1037.1zM1012.6 515.9h5.5v2.2H1012.6zM1011.9 525h.7v2.6H1011.9zM1037.1 525h3.9v2.6H1037.1zM1097.1 554.35h8.2v1.5H1097.1zM1108 554.35h11.8v1.5H1108zM1079 563.35h1.8v1.5H1079zM1094.4 563.35h5.5v1.5H1094.4zM1067.1 572.2h5.5v2.2H1067.1zM1080.8 572.2h5.5v2.2H1080.8zM276.3 588.05h2.8v1.5H276.3zM333.5 598.95h2.8v1.3H333.5zM300.8 626.75h11v1.3H300.8zM229.9 665.8h5.5v2H229.9zM240.8 665.8h8.2v2H240.8zM257.2 665.8h11v2H257.2zM461.8 595.9h21.6v2.2H461.8zM360.8 608.55h14.7v1.1H360.8zM371.7 653.85h8.2v1.3H371.7zM390.8 653.85h2.8v1.3H390.8zM944.4 586.5h2.8v2H944.4zM960.8 586.5h2.8v2H960.8zM900.8 589.1h36.6v1.2H900.8zM985.3 610.2h2.8v2H985.3zM914.4 612.5h5.5v2H914.4zM933.5 612.5h3.8v2H933.5zM930.8 621.05h2.8v1.5H930.8zM934 650.75h5v1.3H934zM969 650.75h5.5v1.3H969zM982.6 650.75h2.8v1.3H982.6z"/>
<path fill="#ff5400" d="M499.6 398.1h20.4v4.2H499.6z"/>
<path fill="#ff6100" d="M221.7 511.3h8.2v2.2H221.7zM279 522.6h2.2v1.6H279zM268.5 524.3h7.8v2.8H268.5zM229.9 529.4h5.5v2.6H229.9zM240.8 540.95h8.2v2.5H240.8zM295.4 540.95h8.2v2.5H295.4zM289.9 560.3h2.8v1.8H289.9zM224.5 572.4h5.5v2.2H224.5zM489 525.05h5.5v1.3H489zM502.6 525.05h5.5v1.3H502.6zM519 525.05h1.1v1.3H519zM385.4 534.05h16.4v3.5H385.4zM549 492.05h5.5v2.5H549zM557.2 492.05h2.8v2.5H557.2zM570.8 492.05h8.2v2.5H570.8zM685.3 480.3h5.5v2.4H685.3zM737.2 509.5h2.8v3H737.2zM816.2 523.65h2.8v1.5H816.2zM824.4 523.65h5.5v1.5H824.4zM832.6 523.65h7.4v1.5H832.6zM734.4 529.55h8.2v2.5H734.4zM748.1 534.8h2.8v2H748.1zM759 534.8h2.8v2H759zM778.1 534.8h5.5v2H778.1zM797.1 534.8h2.8v2H797.1zM821.7 534.8h2.8v2H821.7zM857.1 503.2h8.2v1.6H857.1zM876.8 531.55h2.2v1.5H876.8zM881.7 531.55h5.5v1.5H881.7zM952.6 567.1h1.7v2.2H952.6zM911.7 572.2h8.2v2.2H911.7zM941.7 572.2h8.2v2.2H941.7zM1050.8 501.7h11v1.6H1050.8zM1091.7 501.7h2.8v1.6H1091.7zM1078 505.5h1v1.6H1078zM1015.7 507.1h2.4v1.6H1015.7zM1037.1 507.1h3.9v1.6H1037.1zM1053.5 509.2h2.8v1.2H1053.5zM1020.8 510.2h2.8v1.4H1020.8zM1034.4 510.2h2.8v1.4H1034.4zM1018 515.9h8.2v2.2H1018zM1012.6 525h5.5v2.6H1012.6zM1081 554.35h8v1.5H1081zM1105.3 554.35h2.8v1.5H1105.3zM1080.8 563.35h2.8v1.5H1080.8zM1102.6 572.2h4.5v2.2H1102.6zM268.5 588.05h7.8v1.5H268.5zM279 588.05h11v1.5H279zM344.5 598.95h2.8v1.3H344.5zM284.5 626.75h2.8v1.3H284.5zM333.5 626.75h5.5v1.3H333.5zM249 665.8h8.2v2H249zM268.1 665.8h5.5v2H268.1zM360 608.55h.9v1.1H360zM379.9 653.85h11v1.3H379.9zM415.4 653.85h13.5v1.3H415.4zM947.1 583.75h2.8v1.1H947.1zM966.2 583.75h8.2v1.1H966.2zM895.4 589.1h5.4v1.2H895.4zM974.4 610.2h2.8v2H974.4zM906.8 612.5h2.2v2H906.8zM930.8 612.5h2.8v2H930.8zM941.7 650.75h13.7v1.3H941.7z"/>
<path fill="#ff6800" d="M285 468.8h14v2H285zM407 398.9h29v2.6H407zM360 430.85h72v1.1H360zM403 463.8h4v2H403zM471.7 466.2h11.1v2H471.7zM396 468.7h5v2.2H396zM584 426.5h22.3v2.4H584zM607.6 439.2h22.2v1H607.6zM606.3 447.9h73.7v1.2H606.3zM594.9 455.3h2.5v1.2H594.9zM634.8 468.7h3.9v2.2H634.8zM702.8 430.85h57.2v1.1H702.8zM818 459h22v1H818zM817.7 468.7h22.3v2.2H817.7zM869.2 443.9h67.2v1.2H869.2zM840 459h24v1H840zM840 476.05h31.7v1.3H840zM1027 437.85h92.8v1.1H1027zM1029.6 452.1h29.2v1.8H1029.6zM1008 459.4h45.8v2.4H1008zM321.8 502.05h6.4v1.5H321.8zM311.7 543.7h15.3v2H311.7zM273.6 561.8h11.4v3.2H273.6zM404.4 481.55h11.4v1.5H404.4zM404.4 484.95h11.4v1.5H404.4zM379 496.5h4v1.2H379zM654.5 501.05h13.3v1.1H654.5zM542.8 527h35.6v1.2H542.8zM520 532.8h7.6v1H520zM653.2 532.8h10.2v1H653.2zM787.9 521.5h7.6v2H787.9zM680 531.8h52.7v1H680zM795.5 545.8h38.1v1.2H795.5zM871.7 481.55h38.1v1.5H871.7zM988.5 527h11.5v1.2H988.5zM876.8 533.55h11.4v1.5H876.8zM876.8 545.8h14v1.2H876.8zM1008 488h5v2.2H1008zM1013 511.65h19v1.5H1013zM1013 538.8h19v1.2H1013zM268.5 583.5h19.1v1.2H268.5zM241.9 591.55h26.6v1.5H241.9zM287.6 600.5h8.8v1.6H287.6zM217.1 625.95h21.6v1.1H217.1zM395.8 584.9h17.2v1H395.8zM500 678.75h170v1.1H500zM1018.5 591h11.5v2H1018.5zM893.5 604.9h5.7v2H893.5zM964 632.7h17.7v2.2H964zM899.2 642.25h2.5v.9H899.2zM899.2 644.8h5.8v1H899.2zM913 659.9h24.3v1.2H913zM1035.4 579h13.3v1H1035.4z"/>
<path fill="#ff7500" d="M208.1 259.7h596.9v1.2H208.1zM276.3 488h2.8v1.8H276.3zM212.7 511.3h9.1v2.2H212.7zM325.4 515.8h2.8v2H325.4zM336.3 515.8h2.8v2H336.3zM341.7 515.8h1.7v2H341.7zM347.2 521h2.8v1.6H347.2zM273.6 522.6h5.5v1.6H273.6zM273.6 529.4h3.9v2.6H273.6zM292.6 536.95h11v1.5H292.6zM289.9 540.95h2.8v2.5H289.9zM230.5 543.7h2.2v2H230.5zM221.7 548.1h13.7v2.8H221.7zM246.3 548.1h2.8v2.8H246.3zM251.7 548.1h2.8v2.8H251.7zM339 548.1h2.8v2.8H339zM210.8 572.4h2.8v2.2H210.8zM216.3 572.4h5.5v2.2H216.3zM401.7 534.05h5.5v3.5H401.7zM412.6 534.05h2v3.5H412.6zM418.4 561.95h2.5v1.5H418.4zM439.9 561.95h5.5v1.5H439.9zM448.1 561.95h2.8v1.5H448.1zM469.9 561.95h8.2v1.5H469.9zM581.7 480.5h1.8v1.6H581.7zM538.1 561.95h2.8v1.1H538.1zM761.7 488h7.2v2.2H761.7zM693.5 505.25h2.8v1.5H693.5zM704.4 505.25h2.8v1.5H704.4zM693.5 507.05h2.8v1.5H693.5zM712.6 507.05h2.8v1.5H712.6zM805.3 523.65h5.5v1.5H805.3zM829.9 523.65h2.8v1.5H829.9zM732.7 534.8h4.5v2H732.7zM742.6 534.8h5.5v2H742.6zM750.8 534.8h8.2v2H750.8zM819 534.8h2.8v2H819zM829.9 534.8h8.2v2H829.9zM693.5 574.9h5.5v1H693.5zM718.1 574.9h5.5v1H718.1zM881.7 494.9h2.8v1.2H881.7zM889.9 494.9h2.8v1.2H889.9zM900.8 494.9h8.2v1.2H900.8zM917.1 494.9h24.6v1.2H917.1zM963.5 494.9h5.5v1.2H963.5zM974.4 494.9h6.5v1.2H974.4zM939 501.05h13.7v1.1H939zM958 501.05h8.2v1.1H958zM974.4 501.05h2.8v1.1H974.4zM985.3 501.05h7v1.1H985.3zM952.6 513.9h11v1.2H952.6zM887.1 531.55h1.1v1.5H887.1zM881.7 537.05h2.8v1.3H881.7zM1080.8 481.55h2.8v1.5H1080.8zM1088.9 481.55h8.2v1.5H1088.9zM1108 481.55h5.5v1.5H1108zM1031.7 505.5h2.8v1.6H1031.7zM1061.7 507.1h2.8v1.6H1061.7zM1039.9 509.2h2.8v1.2H1039.9zM1031.7 510.2h2.8v1.4H1031.7zM1053.5 510.2h2.8v1.4H1053.5zM1018 525h2.8v2.6H1018zM1057.6 525h1.4v2.6H1057.6zM1064.4 525h2.8v2.6H1064.4zM1108 563.35h5.5v1.5H1108zM1029 572.2h5.5v2.2H1029zM1088.9 572.2h13.7v2.2H1088.9zM300.8 588.05h2.8v1.5H300.8zM306.3 600.5h5.5v1.6H306.3zM344.5 600.5h2.8v1.6H344.5zM395.8 588.15h14.2v1.3H395.8zM412.6 588.15h2.8v1.3H412.6zM431.7 588.15h2.8v1.3H431.7zM450.8 588.15h24.6v1.3H450.8zM478.1 588.15h5.4v1.3H478.1zM399 600.4h11v2.2H399zM412.6 600.4h2.4v2.2H412.6zM393.5 653.85h8.2v1.3H393.5zM407.2 653.85h8.2v1.3H407.2zM761.7 599.6h5.5v2.8H761.7zM772.6 599.6h2.8v2.8H772.6zM783.5 599.6h2.8v2.8H783.5zM670 678.75h4.5v1.1H670zM699 678.75h5.5v1.1H699zM709.9 678.75h11v1.1H709.9zM737.2 678.75h13.7v1.1H737.2zM756.2 678.75h2.8v1.1H756.2zM764.4 678.75h2.8v1.1H764.4zM769.9 678.75h2.8v1.1H769.9zM780.8 678.75h11v1.1H780.8zM797.1 678.75h9.4v1.1H797.1zM974.4 583.75h6v1.1H974.4zM937.3 586.5h1.7v2H937.3zM955.3 586.5h5.5v2H955.3zM969 586.5h11v2H969zM919.9 612.5h5.5v2H919.9zM937.3 612.5h1.7v2H937.3zM937.3 632.7h7.2v2.2H937.3zM1015.3 636.85h2.8v1.5H1015.3zM1026.2 636.85h2.8v1.5H1026.2zM1030 600.15h4.5v.9H1030zM1056.2 600.15h5.5v.9H1056.2zM1072.6 600.15h2.8v.9H1072.6zM1078 600.15h8.2v.9H1078z"/>
<path fill="#ff7c00" d="M1057 145h19v2H1057z"/>
<path fill="#ff8900" d="M229.8 462.75h24.8v1.3H229.8zM353 471.9h7v1H353zM403.8 456.7h10.8v1.2H403.8zM520 398.8h6.3v3.2H520zM548 417.95h49v2.1H548zM520 452.25h27.3v1.5H520zM680 397.9h160v1H680zM713.6 468.7h3.2v2.2H713.6zM840 397.9h160v1H840zM936.4 437.85h63.6v1.1H936.4zM880.6 468.7h14v2.2H880.6zM1000 397.9h51v1H1000zM1000 437.85h4.9v1.1H1000zM1065.2 459.4h54.6v2.4H1065.2zM1020.8 468.7h30.4v2.2H1020.8zM303.5 488h5.5v1.8H303.5zM216.5 506.3h2.6v2H216.5zM254.6 513.9h3.8v1.2H254.6zM315.5 513.9h6.3v1.2H315.5zM324.4 515.8h1v2H324.4zM251.7 521h5.5v1.6H251.7zM352.6 521h2.8v1.6H352.6zM358.1 522.6h2v1.6H358.1zM210.8 534.7h11v2.2H210.8zM227.2 534.7h5.5v2.2H227.2zM251.7 534.7h2.8v2.2H251.7zM288.8 536.95h1.2v1.5H288.8zM314.5 536.95h8.2v1.5H314.5zM317.2 540.95h2.8v2.5H317.2zM238.1 543.7h2.8v2H238.1zM235.4 548.1h2.8v2.8H235.4zM216.3 560.3h2.8v1.8H216.3zM221.7 560.3h2.8v1.8H221.7zM221.7 572.4h2.8v2.2H221.7zM464 521.75h3.2v1.5H464zM450.7 524.1h2.6v1H450.7zM437.2 561.95h2.8v1.5H437.2zM445.4 561.95h2.8v1.5H445.4zM450.8 561.95h2.8v1.5H450.8zM467.2 561.95h2.8v1.5H467.2zM502 561.95h14v1.5H502zM521.7 480.5h2.8v1.6H521.7zM551.7 480.5h5.5v1.6H551.7zM641.8 487.9h6.4v2H641.8zM532.7 561.95h5.4v1.1H532.7zM741 488h7.1v2.2H741zM766.3 494.9h5.1v1.2H766.3zM696.2 505.25h5.5v1.5H696.2zM719.3 505.25h14v1.5H719.3zM696.2 507.05h5.5v1.5H696.2zM704.4 507.05h5.5v1.5H704.4zM719.3 507.05h7v1.5H719.3zM819 523.65h2.8v1.5H819zM772.6 534.8h2.8v2H772.6zM786.2 534.8h8.2v2H786.2zM813.5 534.8h5.5v2H813.5zM682.6 574.9h2.8v1H682.6zM688.1 574.9h5.5v1H688.1zM699 574.9h8.2v1H699zM709.9 574.9h8.2v1H709.9zM723.5 574.9h9.2v1H723.5zM876.8 494.9h4.9v1.2H876.8zM884.4 494.9h5.5v1.2H884.4zM892.6 494.9h8.2v1.2H892.6zM909 494.9h8.2v1.2H909zM958 494.9h5.5v1.2H958zM934 501.05h2.3v1.1H934zM952.6 501.05h5.5v1.1H952.6zM966.2 501.05h8.2v1.1H966.2zM977.1 501.05h8.2v1.1H977.1zM862.6 506.6h2.8v2.2H862.6zM870.8 506.6h2.8v2.2H870.8zM950.4 513.9h2.2v1.2H950.4zM963.5 513.9h16.1v1.2H963.5zM851.7 537.05h2.8v1.3H851.7zM1069 481.55h6.4v1.5H1069zM1083.5 481.55h2.8v1.5H1083.5zM1113.5 481.55h3.6v1.5H1113.5zM1018 507.1h19.1v1.6H1018zM1069.9 507.1h8.2v1.6H1069.9zM1015.7 509.2h2.4v1.2H1015.7zM1026.2 509.2h2.8v1.2H1026.2zM1045.3 509.2h2.8v1.2H1045.3zM1056.2 509.2h2.6v1.2H1056.2zM1031.7 525h5.5v2.6H1031.7zM1067.1 525h2.8v2.6H1067.1zM1091.7 563.35h2.8v1.5H1091.7zM1099.9 563.35h8.2v1.5H1099.9zM289.9 588.05h5.5v1.5H289.9zM303.5 588.05h5.5v1.5H303.5zM336.3 595.9h8.2v2.2H336.3zM349.9 595.9h5.5v2.2H349.9zM300.8 598.95h5.5v1.3H300.8zM336.3 598.95h8.2v1.3H336.3zM358.1 598.95h2v1.3H358.1zM296.4 600.5h9.9v1.6H296.4zM322.6 600.5h5.5v1.6H322.6zM311.7 653.9h5.5v1.2H311.7zM319.9 653.9h2.8v1.2H319.9zM339 653.9h2.8v1.2H339zM347.2 653.9h2.8v1.2H347.2zM358.1 653.9h2v1.2H358.1zM395.8 583.55h104.2v1.1H395.8zM409.9 588.15h2.8v1.3H409.9zM415.4 588.15h16.4v1.3H415.4zM434.4 588.15h16.4v1.3H434.4zM383 600.4h5.1v2.2H383zM360 653.85h.9v1.3H360zM612.7 600h36.2v3H612.7zM587 615.3h83v1.6H587zM767.2 599.6h5.5v2.8H767.2zM778.1 599.6h5.5v2.8H778.1zM789 599.6h.5v2.8H789zM693.5 615.2h8.2v1.8H693.5zM729 615.2h2.8v1.8H729zM770.4 666h99.6v2H770.4zM690.8 678.75h8.2v1.1H690.8zM704.4 678.75h5.5v1.1H704.4zM729 678.75h8.2v1.1H729zM750.8 678.75h5.5v1.1H750.8zM759 678.75h2.8v1.1H759zM767.2 678.75h2.8v1.1H767.2zM772.6 678.75h8.2v1.1H772.6zM791.7 678.75h2.8v1.1H791.7zM831.3 678.75h38.7v1.1H831.3zM943 581.9h9.5v1.8H943zM949.9 583.75h5.5v1.1H949.9zM958 583.75h8.2v1.1H958zM939 586.5h5.5v2H939zM963.5 586.5h5.5v2H963.5zM909 612.5h5.5v2H909zM925.3 612.5h5.5v2H925.3zM988 612.5h1.3v2H988zM944.4 632.7h8.1v2.2H944.4zM977.9 636.85h29.3v1.5H977.9zM1023.5 636.85h2.8v1.5H1023.5zM1029 636.85h1.1v1.5H1029zM870 665.7h16.5v2.2H870zM1075.3 591h2.8v2H1075.3zM1034.4 600.15h11v.9H1034.4zM1048 600.15h2.8v.9H1048zM1061.7 600.15h8.2v.9H1061.7zM1075.3 600.15h2.8v.9H1075.3zM1086.2 600.15h5.5v.9H1086.2zM1097.1 618.1h5.5v2.2H1097.1zM870 678.75h15v1.1H870z"/>
<path fill="#ff9d00" d="M483 208.9h636.8v1.2H483zM877 311.7h242.8v1.2H877zM805 349h47v1.2H805zM213.7 398.9h38.3v2.6H213.7zM208.1 426.3h83.3v2.8H208.1zM214 443.85h45.6v2.3H214zM208.1 447.9h5.9v1.2H208.1zM285 462.75h50.8v1.3H285zM462.2 455.15h9.8v1.5H462.2zM462.2 459.9h8.2v1.8H462.2zM471.7 471.9h11.1v1H471.7zM520 397.9h160v1H520zM625.3 428.7h7.7v1H625.3zM634.8 431.9h6.4v2H634.8zM657 443.75h23v1.1H657zM625 473.3h13v3H625zM539.7 475.75h5.7v1.3H539.7zM714.3 443.9h123.1v1.2H714.3zM701 473.9h23.4v2H701zM831 476.05h9v1.3H831zM852.7 398.9h33v2H852.7zM1051 398.4h7.8v3.6H1051zM238 481.4h47v1.8H238zM221.6 509.05h10.1v1.5H221.6zM328.1 515.8h8.2v2H328.1zM355.4 521h4.7v1.6H355.4zM347.2 522.6h2.8v1.6H347.2zM268.1 529.4h5.5v2.6H268.1zM277.4 529.4h11.4v2.6H277.4zM317.2 534.7h2.8v2.2H317.2zM309 536.95h5.5v1.5H309zM282.5 540.95h4.7v2.5H282.5zM303.5 540.95h2.8v2.5H303.5zM251.7 543.7h2.8v2H251.7zM219 548.1h2.8v2.8H219zM295.4 560.3h16.4v1.8H295.4zM232.6 561.8h2.8v3.2H232.6zM483 484.95h11.5v1.5H483zM451.4 507h10.1v1.8H451.4zM467.2 513.9h2.8v1.2H467.2zM432.3 518.75h8.9v2.5H432.3zM396.8 545.8h123.2v1.2H396.8zM420.8 561.95h8.2v1.5H420.8zM434.4 561.95h2.8v1.5H434.4zM464.4 561.95h2.8v1.5H464.4zM478.1 561.95h5v1.5H478.1zM383.5 572.8h7v2.2H383.5zM440 574.9h80v1H440zM573.5 480.5h8.2v1.6H573.5zM611.4 481.25h13.6v1.5H611.4zM525 482.8h2.2v2H525zM529.9 482.8h11v2H529.9zM671.7 482.8h2.8v2H671.7zM521.3 520.9h21.5v2H521.3zM540.8 561.95h5.2v1.1H540.8zM520 574.9h15.2v1H520zM750.8 488h11v2.2H750.8zM692.7 505.25h.9v1.5H692.7zM701.7 505.25h2.8v1.5H701.7zM707.2 505.25h5.5v1.5H707.2zM718.1 505.25h1.3v1.5H718.1zM692.7 507.05h.9v1.5H692.7zM701.7 507.05h2.8v1.5H701.7zM715.3 507.05h4v1.5H715.3zM726.2 507.05h2.8v1.5H726.2zM775.3 519.65h8.2v1.5H775.3zM800.6 523.65h4.8v1.5H800.6zM816.2 537.05h2.8v1.3H816.2zM680 574.9h2.7v1H680zM685.3 574.9h2.8v1H685.3zM707.2 574.9h2.8v1H707.2zM941.7 494.9h16.4v1.2H941.7zM969 494.9h5.5v1.2H969zM936.2 501.05h2.8v1.1H936.2zM859.9 537.05h2.8v1.3H859.9zM983.4 558.1h2.6v1.8H983.4zM888.2 572.2h22.8v2.2H888.2zM876.8 574.1h4.9v1.2H876.8zM971.7 574.1h2.8v1.2H971.7zM1001.7 481.55h21.6v1.5H1001.7zM1075.3 481.55h5.5v1.5H1075.3zM1105.3 481.55h2.8v1.5H1105.3zM1072.8 501.7h7.6v1.6H1072.8zM1020.8 505.5h2.8v1.6H1020.8zM1026.2 505.5h5.5v1.6H1026.2zM1064.4 507.1h2.8v1.6H1064.4zM1015.7 510.2h5.1v1.4H1015.7zM1110.8 515.9h2.8v2.2H1110.8zM1057.6 523.75h8.8v1.3H1057.6zM1069.9 525h2.8v2.6H1069.9zM1113.5 563.35h6.3v1.5H1113.5zM1107 572.2h12.8v2.2H1107zM1069.9 574.2h5.5v1.2H1069.9zM334.5 588.05h25.5v1.5H334.5zM333.5 595.9h2.8v2.2H333.5zM297.7 598.95h3.2v1.3H297.7zM319.9 600.5h2.8v1.6H319.9zM222.2 614.3h10.8v2.8H222.2zM309 653.9h2.8v1.2H309zM317.2 653.9h2.8v1.2H317.2zM322.6 653.9h2.8v1.2H322.6zM341.7 653.9h2.8v1.2H341.7zM349.9 653.9h8.2v1.2H349.9zM208.1 678.75h151.9v1.1H208.1zM360 588.15h16.8v1.3H360zM475.4 588.15h2.8v1.3H475.4zM402 591.45h5.3v1.5H402zM388.1 600.4h11v2.2H388.1zM409.9 600.4h2.8v2.2H409.9zM409.8 665.8h7.6v2H409.8zM360 678.75h140v1.1H360zM670 584.15h142v1.1H670zM831 584.15h39v1.1H831zM755 599.6h6.7v2.8H755zM775.3 599.6h2.8v2.8H775.3zM786.2 599.6h2.8v2.8H786.2zM688.1 615.2h5.5v1.8H688.1zM701.7 615.2h8.2v1.8H701.7zM726.2 615.2h2.8v1.8H726.2zM731.7 615.2h2.8v1.8H731.7zM674.4 678.75h16.4v1.1H674.4zM720.8 678.75h8.2v1.1H720.8zM761.7 678.75h2.8v1.1H761.7zM794.4 678.75h2.8v1.1H794.4zM979.9 586.5h.6v2H979.9zM974.4 591h5.5v2H974.4zM870 600h15.2v3H870zM944.4 612.5h2.8v2H944.4zM952.6 612.5h5.5v2H952.6zM960.8 612.5h2.8v2H960.8zM1007.1 636.85h8.2v1.5H1007.1zM1018 636.85h5.5v1.5H1018zM1080.8 591h16.4v2H1080.8zM1045.3 600.15h2.8v.9H1045.3zM1050.8 600.15h5.5v.9H1050.8zM1069.9 600.15h2.8v.9H1069.9zM1034.4 608.25h16.4v1.1H1034.4zM1061.7 608.25h5.5v1.1H1061.7zM1116.2 608.25h2.8v1.1H1116.2zM1053.5 612h2.8v1H1053.5zM1072.8 618.1h18.9v2.2H1072.8zM1094.4 618.1h2.8v2.2H1094.4zM1031.7 650.85h2.8v1.1H1031.7zM1048 650.85h2.8v1.1H1048zM1056.2 650.85h2.8v1.1H1056.2z"/>
<path fill="#ffab00" d="M208.1 285.1h911.7v1.2H208.1zM399.3 443.75h120.7v1.1H399.3zM520 443.75h87.6v1.1H520zM600 473.3h12v3H600zM1057.6 443.1h62.2v1H1057.6zM1084.2 471.8h22.2v3H1084.2zM339 515.8h2.8v2H339zM216.3 522.6h5.5v1.6H216.3zM221.7 529.4h5.5v2.6H221.7zM288.8 529.4h1.2v2.6H288.8zM292.6 529.4h2.8v2.6H292.6zM214.6 543.7h15.9v2H214.6zM330.8 548.1h5.5v2.8H330.8zM292.6 560.3h2.8v1.8H292.6zM418.1 513.9h2.8v1.2H418.1zM437.2 513.9h5.5v1.2H437.2zM429 561.95h5.5v1.5H429zM453.5 561.95h11v1.5H453.5zM674.4 482.8h5.5v2H674.4zM712.6 505.25h5.5v1.5H712.6zM709.9 507.05h2.8v1.5H709.9zM791.7 519.65h5.5v1.5H791.7zM819 519.65h2.8v1.5H819zM745.3 537.05h8.2v1.3H745.3zM761.7 537.05h2.8v1.3H761.7zM775.3 537.05h8.2v1.3H775.3zM786.2 537.05h5.5v1.3H786.2zM813.5 537.05h2.8v1.3H813.5zM821.7 537.05h11v1.3H821.7zM838.1 537.05h2v1.3H838.1zM859.9 488h8.2v2.2H859.9zM873.5 488h8.2v2.2H873.5zM857.1 537.05h2.8v1.3H857.1zM865.3 537.05h2.8v1.3H865.3zM870.8 537.05h2.8v1.3H870.8zM895.8 570.8h2.3v1.2H895.8zM903.5 570.8h2.8v1.2H903.5zM900.8 574.1h2.8v1.2H900.8zM928.1 574.1h5.5v1.2H928.1zM977.1 574.1h2.8v1.2H977.1zM1086.2 481.55h2.8v1.5H1086.2zM1097.1 481.55h8.2v1.5H1097.1zM1015.7 505.5h5.1v1.6H1015.7zM1080.4 515.9h3.1v2.2H1080.4zM1059 525h5.5v2.6H1059zM1000 574.2h4.5v1.2H1000zM1023.5 574.2h11v1.2H1023.5zM327 583.5h33v1.2H327zM328.1 600.5h11v1.6H328.1zM341.7 600.5h2.8v1.6H341.7zM355.4 600.5h2.8v1.6H355.4zM325.4 653.9h13.7v1.2H325.4zM344.5 653.9h2.8v1.2H344.5zM360 583.55h35.8v1.1H360zM360 595.9h24.4v2.2H360zM737.2 595.7h8.2v2H737.2zM750.8 595.7h8.2v2H750.8zM772.6 595.7h5.5v2H772.6zM780.8 595.7h8.2v2H780.8zM865.3 599.6h4.7v2.8H865.3zM670 615.2h18.1v1.8H670zM709.9 615.2h16.4v1.8H709.9zM734.4 615.2h1.6v1.8H734.4zM742.6 637.1h2.8v3H742.6zM761.7 637.1h2.8v3H761.7zM789 637.1h2.8v3H789zM759 653.6h111v1.2H759zM870 583.75h20.3v1.1H870zM947.1 586.5h8.2v2H947.1zM969 591h2.8v2H969zM870 608.25h20.3v1.1H870zM1018 612h5.5v1H1018zM895.3 612.5h8.2v2H895.3zM947.1 612.5h5.5v2H947.1zM870.8 636.85h5.5v1.5H870.8zM900.8 636.85h11v1.5H900.8zM993.5 646.7h.9v2.2H993.5zM997 646.7h2.4v2.2H997zM1004.4 650.75h16.4v1.3H1004.4zM1026.2 650.75h3.8v1.3H1026.2zM1019.5 665.7h10.5v2.2H1019.5zM1065.2 591h10.2v2H1065.2zM1105.3 591h2.8v2H1105.3zM1030 608.25h4.5v1.1H1030zM1069.9 608.25h2.8v1.1H1069.9zM1108 608.25h8.2v1.1H1108zM1118.9 608.25h.9v1.1H1118.9zM1061.7 612h5.5v1H1061.7zM1072.6 612h2.8v1H1072.6zM1091.7 618.1h2.8v2.2H1091.7zM1102.6 618.1h5.2v2.2H1102.6zM1059 638.3h5.5v2.4H1059zM1088.9 638.3h8.2v2.4H1088.9zM1030 650.85h1.7v1.1H1030zM1034.4 650.85h11v1.1H1034.4zM1069.9 650.85h5.5v1.1H1069.9zM1030 665.7h1.7v2.2H1030zM1037.1 665.7h13.7v2.2H1037.1zM1088.9 665.7h2.8v2.2H1088.9z"/>
<path fill="#ffb100" d="M1076 145h43.8v2H1076z"/>
<path fill="#ffb800" d="M539 145h64v2H539zM627 145h430v2H627zM680 443.9h34.3v1.2H680zM840 468.7h15.2v2.2H840zM861.6 468.7h19v2.2H861.6zM213.6 515.8h5.5v2H213.6zM216.3 529.4h2.8v2.6H216.3zM311.7 534.7h5.5v2.2H311.7zM303.5 536.95h5.5v1.5H303.5zM322.6 536.95h4.4v1.5H322.6zM287.2 540.95h2.8v2.5H287.2zM238.1 548.1h8.2v2.8H238.1zM341.7 548.1h2.8v2.8H341.7zM347.2 548.1h5.2v2.8H347.2zM426.3 513.9h8.2v1.2H426.3zM450.8 513.9h11v1.2H450.8zM480.8 513.9h2.2v1.2H480.8zM655.3 482.8h11v2H655.3zM748.1 488h2.8v2.2H748.1zM739.9 537.05h5.5v1.3H739.9zM767.2 537.05h5.5v1.3H767.2zM783.5 537.05h2.8v1.3H783.5zM791.7 537.05h2.8v1.3H791.7zM808.1 537.05h2.8v1.3H808.1zM868.1 537.05h2.8v1.3H868.1zM917.1 574.1h2.8v1.2H917.1zM933.5 574.1h8.2v1.2H933.5zM958 574.1h2.8v1.2H958zM979.9 574.1h2.8v1.2H979.9zM1023.5 505.5h2.8v1.6H1023.5zM1034.4 505.5h6.6v1.6H1034.4zM1086.2 515.9h5.5v2.2H1086.2zM1116.2 515.9h2.8v2.2H1116.2zM1009.9 574.2h2.8v1.2H1009.9zM1034.4 574.2h11v1.2H1034.4zM320 595.9h10.9v2.2H320zM311.7 600.5h8.2v1.6H311.7zM339 600.5h2.8v1.6H339zM500 584.15h170v1.1H500zM745.3 595.7h2.8v2H745.3zM759 595.7h13.7v2H759zM808.1 595.7h4v2H808.1zM740.9 637.1h1.8v3H740.9zM745.3 637.1h2.8v3H745.3zM753.5 637.1h5.5v3H753.5zM764.4 637.1h5.5v3H764.4zM778.1 637.1h5.5v3H778.1zM794.4 637.1h4.6v3H794.4zM939 591h2.8v2H939zM1001.7 608.25h28.3v1.1H1001.7zM1001.7 612h8.2v1H1001.7zM1029 612h1.1v1H1029zM903.5 612.5h3.3v2H903.5zM941.7 612.5h2.8v2H941.7zM930.8 636.85h2.8v1.5H930.8zM977.9 646.7h10.2v2.2H977.9zM999 650.75h2.8v1.3H999zM1020.8 650.75h5.5v1.3H1020.8zM919.9 665.7h2.8v2.2H919.9zM1078 591h2.8v2H1078zM1099.9 591h5.5v2H1099.9zM1108 591h11.8v2H1108zM1053.5 608.25h8.2v1.1H1053.5zM1072.6 608.25h19.1v1.1H1072.6zM1097.1 608.25h11v1.1H1097.1zM1042.6 612h2.8v1H1042.6zM1056.2 612h5.5v1H1056.2zM1067.1 612h2.8v1H1067.1zM1075.3 612h1.3v1H1075.3zM1064.4 638.3h2.8v2.4H1064.4zM1078 638.3h5.5v2.4H1078zM1099.9 638.3h19.9v2.4H1099.9zM1045.3 650.85h2.8v1.1H1045.3zM1050.8 650.85h5.5v1.1H1050.8zM1059 650.85h11v1.1H1059zM1031.7 665.7h2.8v2.2H1031.7zM1056.2 665.7h2.8v2.2H1056.2zM1064.4 665.7h19.1v2.2H1064.4zM1091.7 665.7h2.8v2.2H1091.7z"/>
<path fill="#ffbf00" d="M360 471.9h20v1H360zM680 477.75h22.8v1.3H680zM554.3 498.9h23.4v1H554.3zM520 545.8h22.8v1.2H520zM793 507.05h8v1.5H793zM1048.7 501.7h7.6v1.6H1048.7zM1030 627.95h8.5v1.1H1030z"/>
<path fill="#ffc500" d="M483 157.6h636.8v1.2H483zM238 361.1h40.7v2H238zM918 361.1h201.8v2H918zM309 430.85h51v1.1H309zM208.1 443.85h5.9v2.3H208.1zM290 447.9h70v1.2H290zM208.1 475.75h8.4v1.3H208.1zM483 392.3h37v1.4H483zM360 447.9h41.9v1.2H360zM680 412.15h109.8v1.1H680zM937 456.7h63v1.2H937zM921.2 476.05h78.8v1.3H921.2zM1053.8 459.4h11.4v2.4H1053.8zM1000 476.05h1.7v1.3H1000zM330.8 491.95h5.5v1.5H330.8zM224.5 522.6h2.8v1.6H224.5zM254.5 522.6h8.2v1.6H254.5zM208.1 524.3h11v2.8H208.1zM221.7 524.3h5.5v2.8H221.7zM289.9 529.4h2.8v2.6H289.9zM284.5 534.7h2.8v2.2H284.5zM289.9 536.95h2.8v1.5H289.9zM208.1 548.1h8.2v2.8H208.1zM227.2 561.8h2.8v3.2H227.2zM311.7 561.8h2.8v3.2H311.7zM339 561.8h2.8v3.2H339zM480.8 507h2.2v1.8H480.8zM434.4 513.9h2.8v1.2H434.4zM390.5 527h45.5v1.2H390.5zM360 561.95h30.5v1.5H360zM666.2 485.55h11v1.5H666.2zM824.4 519.65h8.2v1.5H824.4zM732.7 537.05h7.2v1.3H732.7zM764.4 537.05h2.8v1.3H764.4zM772.6 537.05h2.8v1.3H772.6zM794.4 537.05h2.8v1.3H794.4zM835.3 537.05h2.8v1.3H835.3zM799.3 548.5h7.7v3H799.3zM680 561.95h52.7v1.1H680zM868.1 488h5.5v2.2H868.1zM881.7 488h1.4v2.2H881.7zM980.9 494.9h19.1v1.2H980.9zM840 523.75h31.7v1.3H840zM849 537.05h2.8v1.3H849zM876.2 537.05h5.5v1.3H876.2zM898.1 570.8h2.8v1.2H898.1zM906.2 570.8h30v1.2H906.2zM966.2 574.1h5.5v1.2H966.2zM1004.4 491.2h2.8v1.6H1004.4zM1078 574.2h8.2v1.2H1078zM1108 574.2h2.8v1.2H1108zM296.4 595.9h1.7v2.2H296.4zM330.8 595.9h2.8v2.2H330.8zM355.4 595.9h4.7v2.2H355.4zM349.9 600.5h5.5v1.6H349.9zM358.1 600.5h2v1.6H358.1zM244.4 617.3h4.5v1H244.4zM534.7 587.95h135.3v1.1H534.7zM500 666h.4v2H500zM732.3 595.7h2.2v2H732.3zM748.1 595.7h2.8v2H748.1zM778.1 595.7h2.8v2H778.1zM789 595.7h19.1v2H789zM851.7 599.6h13.7v2.8H851.7zM748.1 637.1h5.5v3H748.1zM772.6 637.1h2.8v3H772.6zM783.5 637.1h5.5v3H783.5zM791.7 637.1h2.8v3H791.7zM936.4 689.9h183.4v1.6H936.4zM937.3 591h1.7v2H937.3zM941.7 591h2.8v2H941.7zM952.6 591h5.5v2H952.6zM1012.6 612h5.5v1H1012.6zM1023.5 612h5.5v1H1023.5zM887.8 612.5h2.1v2H887.8zM939 612.5h2.8v2H939zM963.5 612.5h8.2v2H963.5zM977.1 612.5h2.8v2H977.1zM870 636.85h.8v1.5H870zM876.2 636.85h5.5v1.5H876.2zM994 650.75h5v1.3H994zM1001.7 650.75h2.8v1.3H1001.7zM886.5 665.7h11.6v2.2H886.5zM1097.1 591h2.8v2H1097.1zM1050.8 608.25h2.8v1.1H1050.8zM1067.1 608.25h2.8v1.1H1067.1zM1091.7 608.25h5.5v1.1H1091.7zM1048 612h5.5v1H1048zM1067.1 638.3h11v2.4H1067.1zM1083.5 638.3h5.5v2.4H1083.5zM1097.1 638.3h2.8v2.4H1097.1zM1053.5 665.7h2.8v2.2H1053.5zM1083.5 665.7h2.8v2.2H1083.5z"/>
<path fill="#ffd300" d="M459 447.9h61v1.2H459zM664.7 412.15h15.3v1.1H664.7zM520 447.9h33.6v1.2H520zM834 477.75h6v1.3H834zM897 437.85h39.4v1.1H897zM888.2 478.9h26.7v1.2H888.2zM1000 412.15h15.7v1.1H1000zM328.1 491.95h2.8v1.5H328.1zM208.1 515.8h5.5v2H208.1zM250 519.4h4.5v1.6H250zM265.4 521h2.8v1.6H265.4zM221.7 522.6h2.8v1.6H221.7zM240.8 522.6h2.8v1.6H240.8zM249 522.6h1v1.6H249zM249 524.3h10.6v2.8H249zM235.4 529.4h2.7v2.6H235.4zM254.5 529.4h13.7v2.6H254.5zM303.5 529.4h2.8v2.6H303.5zM319.9 534.7h2.8v2.2H319.9zM292.6 540.95h2.8v2.5H292.6zM311.7 540.95h2.8v2.5H311.7zM249 548.1h2.8v2.8H249zM254.5 548.1h1.4v2.8H254.5zM287.2 560.3h2.8v1.8H287.2zM314.5 561.8h2.8v3.2H314.5zM420.8 513.9h5.5v1.2H420.8zM442.6 513.9h8.2v1.2H442.6zM461.7 513.9h5.5v1.2H461.7zM598.7 501.05h55.8v1.1H598.7zM588.5 561.95h1.4v1.1H588.5zM639 561.95h5.5v1.1H639zM789 519.65h2.8v1.5H789zM805.3 519.65h8.2v1.5H805.3zM753.5 537.05h8.2v1.3H753.5zM797.1 537.05h11v1.3H797.1zM810.8 537.05h2.8v1.3H810.8zM832.6 537.05h2.8v1.3H832.6zM840 537.05h9v1.3H840zM873.5 537.05h2.8v1.3H873.5zM868.1 548.5h2.8v3H868.1zM900.8 570.8h2.8v1.2H900.8zM903.5 574.1h8.2v1.2H903.5zM941.7 574.1h5.5v1.2H941.7zM949.9 574.1h8.2v1.2H949.9zM960.8 574.1h2.8v1.2H960.8zM1020.8 574.2h2.8v1.2H1020.8zM1045.3 574.2h5.5v1.2H1045.3zM1056.2 574.2h2.8v1.2H1056.2zM1067.1 574.2h2.8v1.2H1067.1zM1075.3 574.2h2.8v1.2H1075.3zM300.8 595.9h5.5v2.2H300.8zM347.2 595.9h2.8v2.2H347.2zM278.7 598.95h6.3v1.3H278.7zM287.6 598.95h10.1v1.3H287.6zM347.2 600.5h2.8v1.6H347.2zM233 614.3h5.7v2.8H233zM376.8 588.15h19v1.3H376.8zM417.4 665.8h82.6v2H417.4zM734.4 595.7h2.8v2H734.4zM759 637.1h2.8v3H759zM769.9 637.1h2.8v3H769.9zM775.3 637.1h2.8v3H775.3zM952.5 581.9h14.5v1.8H952.5zM949.9 591h2.8v2H949.9zM971.7 591h2.8v2H971.7zM1009.9 612h2.8v1H1009.9zM958 612.5h2.8v2H958zM971.7 612.5h5.5v2H971.7zM952.5 632.7h11.5v2.2H952.5zM881.7 636.85h19.1v1.5H881.7zM911.7 636.85h2.8v1.5H911.7zM917.1 636.85h13.7v1.5H917.1zM988 646.7h5.5v2.2H988zM903.5 665.7h16.4v2.2H903.5zM925.3 665.7h8.2v2.2H925.3zM1103.2 604.9h16.6v2H1103.2zM1030 612h12.6v1H1030zM1045.3 612h2.8v1H1045.3zM1069.9 612h2.8v1H1069.9zM1053.8 638.3h5.2v2.4H1053.8zM1034.4 665.7h2.8v2.2H1034.4zM1050.8 665.7h2.8v2.2H1050.8zM1059 665.7h5.5v2.2H1059zM1086.2 665.7h2.8v2.2H1086.2zM1094.4 665.7h25.4v2.2H1094.4z"/>
<path fill="#ffe000" d="M208.1 208.9h274.9v1.2H208.1zM208.1 398.9h5.6v2.6H208.1zM652 462.8h28v1.2H652zM652 478.75h28v1.1H652zM918.7 412.15h81.3v1.1H918.7zM1058.8 398.4h14.2v3.6H1058.8zM1000 456.7h39.8v1.2H1000zM1106.4 471.8h13.4v3H1106.4zM344.5 488h11v1.8H344.5zM254.5 519.4h16.4v1.6H254.5zM259.9 521h5.5v1.6H259.9zM243.6 522.6h5.5v1.6H243.6zM250 522.6h4.5v1.6H250zM210.8 529.4h2.8v2.6H210.8zM314.5 529.4h5.5v2.6H314.5zM292.6 534.7h5.5v2.2H292.6zM219 536.95h2.8v1.5H219zM216.3 548.1h2.8v2.8H216.3zM270.8 548.1h2.8v2.8H270.8zM281.7 548.1h8.2v2.8H281.7zM285 560.3h2.2v1.8H285zM208.1 561.8h13.7v3.2H208.1zM330.8 561.8h2.8v3.2H330.8zM360 496.5h3.8v1.2H360zM448.1 503.95h2.8v1.5H448.1zM453.5 503.95h2.8v1.5H453.5zM469.9 513.9h11v1.2H469.9zM520 485.55h7.6v1.5H520zM652 485.55h8.8v1.5H652zM667.2 527h12.8v1.2H667.2zM595.3 561.95h5.5v1.1H595.3zM609 561.95h19.1v1.1H609zM636.3 561.95h2.8v1.1H636.3zM658.1 561.95h2.8v1.1H658.1zM818.3 507.05h5.1v1.5H818.3zM770.7 519.65h4.7v1.5H770.7zM813.5 519.65h5.5v1.5H813.5zM821.7 519.65h2.8v1.5H821.7zM808.8 528.2h31.2v1H808.8zM819 537.05h2.8v1.3H819zM857.8 488h2.1v2.2H857.8zM992.3 506.6h7.7v2.2H992.3zM979.6 513.9h20.4v1.2H979.6zM862.6 537.05h2.8v1.3H862.6zM884.4 537.05h3.8v1.3H884.4zM850 548.5h18.1v3H850zM941.7 565.3h2.8v1.2H941.7zM955.3 565.3h8.2v1.2H955.3zM977.1 570.8h8.2v1.2H977.1zM990.8 570.8h2.8v1.2H990.8zM895.3 574.1h2.8v1.2H895.3zM919.9 574.1h8.2v1.2H919.9zM947.1 574.1h2.8v1.2H947.1zM963.5 574.1h2.8v1.2H963.5zM982.6 574.1h5.5v1.2H982.6zM1042.6 507.1h13.7v1.6H1042.6zM1108 511.65h2.8v1.5H1108zM1099.9 515.9h11v2.2H1099.9zM1053.8 557.9h2.5v2.2H1053.8zM1034.4 562.05h11v1.3H1034.4zM1056.2 562.05h13.7v1.3H1056.2zM1012.6 574.2h2.8v1.2H1012.6zM306.3 595.9h5.5v2.2H306.3zM344.5 595.9h2.8v2.2H344.5zM850.3 599.6h1.4v2.8H850.3zM670 627.35h69v1.3H670zM955.3 589.1h5.5v1.2H955.3zM944.4 591h5.5v2H944.4zM958 591h2.8v2H958zM937.3 607.9h5.7v1.8H937.3zM979.9 612.5h8.2v2H979.9zM914.4 636.85h2.8v1.5H914.4zM898.1 665.7h5.5v2.2H898.1zM922.6 665.7h2.8v2.2H922.6zM1056.3 627.95h24.1v1.1H1056.3z"/>
<path fill="#ffee00" d="M208.1 157.6h274.9v1.2H208.1zM360 392.3h123v1.4H360zM339.6 495.85h4.9v1.3H339.6zM349.9 495.85h2.8v1.3H349.9zM270.8 519.4h10.4v1.6H270.8zM229.9 522.6h2.8v1.6H229.9zM219 524.3h2.8v2.8H219zM208.1 529.4h2.8v2.6H208.1zM213.6 529.4h2.8v2.6H213.6zM295.4 529.4h8.2v2.6H295.4zM279 532.3h2.8v2H279zM322.6 540.95h2.8v2.5H322.6zM292.6 548.1h5.5v2.8H292.6zM221.7 561.8h5.5v3.2H221.7zM229.9 561.8h2.8v3.2H229.9zM344.5 561.8h2.8v3.2H344.5zM502.6 481h11v3H502.6zM434.4 503.95h5.5v1.5H434.4zM666.2 482.8h5.5v2H666.2zM589.9 561.95h5.5v1.1H589.9zM600.8 561.95h5.5v1.1H600.8zM628.1 561.95h8.2v1.1H628.1zM649.9 561.95h8.2v1.1H649.9zM660.8 561.95h2.8v1.1H660.8zM669 561.95h11v1.1H669zM535.2 574.9h144.8v1H535.2zM793 513.9h47v1.2H793zM783.5 519.65h2.8v1.5H783.5zM797.1 519.65h5.5v1.5H797.1zM732.7 561.95h107.3v1.1H732.7zM883 488h6.9v2.2H883zM892.6 488h5.5v2.2H892.6zM906.2 488h5.5v2.2H906.2zM941.7 488h8.2v2.2H941.7zM960.8 488h8.2v2.2H960.8zM870.8 548.5h1v3H870.8zM840 561.95h50.8v1.1H840zM944.4 565.3h11v1.2H944.4zM966.2 565.3h5.5v1.2H966.2zM985.3 565.3h8.2v1.2H985.3zM944.4 570.8h11v1.2H944.4zM999 570.8h1.1v1.2H999zM988 574.1h11v1.2H988zM1007.1 491.2h.9v1.6H1007.1zM1045.3 505.5h2.8v1.6H1045.3zM1056.2 507.1h2.6v1.6H1056.2zM1059 511.65h2.8v1.5H1059zM1094.4 511.65h2.8v1.5H1094.4zM1091.7 515.9h5.5v2.2H1091.7zM1118.9 515.9h.9v2.2H1118.9zM1083.5 525h2.8v2.6H1083.5zM1108 525h1.6v2.6H1108zM1099.9 557.9h11v2.2H1099.9zM1015.3 562.05h5.5v1.3H1015.3zM1034.4 570.25h2.8v1.5H1034.4zM1080.8 570.25h5.5v1.5H1080.8zM1050.8 574.2h5.5v1.2H1050.8zM251.7 653.9h5.5v1.2H251.7zM265.4 653.9h5.5v1.2H265.4zM289.9 653.9h2.8v1.2H289.9zM960.8 591h8.2v2H960.8zM979.9 591h.6v2H979.9zM966.2 636.85h2.8v1.5H966.2z"/>
<path fill="#fffb00" d="M238.1 519.4h8.2v1.6H238.1zM268.1 522.6h5.5v1.6H268.1zM311.7 529.4h2.8v2.6H311.7zM284.5 532.3h11v2H284.5zM273.6 548.1h5.5v2.8H273.6zM333.5 561.8h5.5v3.2H333.5zM355.4 561.8h4.7v3.2H355.4zM423.5 503.95h5.5v1.5H423.5zM439.9 503.95h2.8v1.5H439.9zM470.4 507h10.5v1.8H470.4zM625 481.25h14.3v1.5H625zM677.2 485.55h2.8v1.5H677.2zM606.3 561.95h2.8v1.1H606.3zM644.4 561.95h5.5v1.1H644.4zM663.5 561.95h5.5v1.1H663.5zM786.2 519.65h2.8v1.5H786.2zM802.6 519.65h2.8v1.5H802.6zM832.6 519.65h7.4v1.5H832.6zM900.8 488h5.5v2.2H900.8zM922.6 488h2.8v2.2H922.6zM930.8 488h8.2v2.2H930.8zM977.1 488h2.8v2.2H977.1zM854.4 537.05h2.8v1.3H854.4zM963.5 565.3h2.8v1.2H963.5zM971.7 565.3h2.8v1.2H971.7zM977.1 565.3h2.8v1.2H977.1zM996.2 565.3h2.8v1.2H996.2zM936.4 570.8h8.1v1.2H936.4zM963.5 570.8h13.7v1.2H963.5zM988 570.8h2.8v1.2H988zM993.5 570.8h5.5v1.2H993.5zM881.7 574.1h13.7v1.2H881.7zM898.1 574.1h2.8v1.2H898.1zM911.7 574.1h5.5v1.2H911.7zM974.4 574.1h2.8v1.2H974.4zM999 574.1h1.1v1.2H999zM1001.7 491.2h2.8v1.6H1001.7zM1061.7 511.65h11v1.5H1061.7zM1075.3 511.65h2.8v1.5H1075.3zM1083.5 511.65h8.2v1.5H1083.5zM1110.8 511.65h2.8v1.5H1110.8zM1083.5 515.9h2.8v2.2H1083.5zM1088.9 525h2.8v2.6H1088.9zM1110.8 557.9h2.8v2.2H1110.8zM1118.9 557.9h.9v2.2H1118.9zM1005.5 562.05h9.9v1.3H1005.5zM1050.8 562.05h2.8v1.3H1050.8zM1075.3 562.05h2.8v1.3H1075.3zM1105.3 562.05h5.5v1.3H1105.3zM1113.5 562.05h2.8v1.3H1113.5zM1018 570.25h5.5v1.5H1018zM1042.6 570.25h2.8v1.5H1042.6zM1050.8 570.25h8.2v1.5H1050.8zM1094.4 570.25h5.5v1.5H1094.4zM1004.4 574.2h5.5v1.2H1004.4zM287.6 583.5h10.5v1.2H287.6zM309 583.5h11v1.2H309zM309 588.05h25.5v1.5H309zM298.1 595.9h2.8v2.2H298.1zM208.1 653.9h5.5v1.2H208.1zM235.4 653.9h5.5v1.2H235.4zM249 653.9h2.8v1.2H249zM257.2 653.9h8.2v1.2H257.2zM273.6 653.9h16.4v1.2H273.6zM292.6 653.9h16.4v1.2H292.6zM802.6 637.1h5.5v3H802.6zM821.7 637.1h2.8v3H821.7zM846.5 637.1h2.5v3H846.5zM937.3 589.1h7.2v1.2H937.3zM889.9 612.5h5.5v2H889.9zM949.9 636.85h8.2v1.5H949.9z"/>
<path fill="#ffff04" d="M603 145h24v2H603zM254.6 462.75h30.4v1.3H254.6zM520 392.3h69.2v1.4H520zM1073 398.4h46.8v3.6H1073zM343.4 515.8h10.2v2H343.4zM287.6 543.7h24.1v2H287.6zM208.1 574.6h33.8v1.2H208.1zM768.8 488h12.7v2.2H768.8zM992.3 501.05h7.7v1.1H992.3zM896 537.05h6v1.3H896zM1027 504.1h24.2v1.2H1027z"/>
<path fill="#ffff0e" d="M208.1 145h330.9v2H208.1zM877 310h242.8v1.6H877zM278.7 361.1h30.3v2H278.7zM220 392.05h140v1.3H220zM208.1 397.9h151.9v1H208.1zM208.1 401.3h151.9v1H208.1zM208.1 430.85h100.9v1.1H208.1zM263.5 475.75h58.3v1.3H263.5zM363.8 388.85h19.3v2.1H363.8zM360 397.9h123v1H360zM360 401.3h123v1H360zM414.6 456.7h105.4v1.2H414.6zM445 462.8h75v1.2H445zM633 391.8h11v1.2H633zM594.9 412.15h69.8v1.1H594.9zM520 462.8h27v1.2H520zM680 462.8h61v1.2H680zM781.5 476.05h49.5v1.3H781.5zM840 412.15h78.7v1.1H840zM855.2 468.7h6.4v2.2H855.2zM1004.9 399h6.1v2.4H1004.9zM1011 402h40v1H1011zM1020.8 477.65h6.2v1.5H1020.8zM341.7 488h2.8v1.8H341.7zM355.4 488h4.7v1.8H355.4zM335.8 498.25h3.8v1.5H335.8zM349.9 498.25h2.8v1.5H349.9zM358.1 498.25h2v1.5H358.1zM247 509.05h7.6v1.5H247zM257.2 521h2.8v1.6H257.2zM268.1 521h5.5v1.6H268.1zM213.6 522.6h2.8v1.6H213.6zM306.3 529.4h5.5v2.6H306.3zM221.7 532.3h2.8v2H221.7zM300.8 532.3h9.6v2H300.8zM281.2 534.7h3.3v2.2H281.2zM213.6 536.95h5.5v1.5H213.6zM221.7 536.95h8.2v1.5H221.7zM235.4 561.8h4v3.2H235.4zM328.1 561.8h2.8v3.2H328.1zM494.4 481h2.8v3H494.4zM513.5 481h6.5v3H513.5zM450.8 503.95h2.8v1.5H450.8zM456.3 503.95h2.8v1.5H456.3zM504.7 518.75h3.1v2.5H504.7zM447.6 527h72.4v1.2H447.6zM360 574.9h80v1H360zM523.8 494.9h7.6v1.2H523.8zM537.8 494.9h57.2v1.2H537.8zM520 501.05h45v1.1H520zM579.6 501.05h19.1v1.1H579.6zM520 527h22.8v1.2H520zM753.5 527h11v1.2H753.5zM791.7 527h5.5v1.2H791.7zM810.8 527h5.5v1.2H810.8zM807 548.5h3.8v3H807zM819 548.5h2.8v3H819zM838.1 548.5h2v3H838.1zM857.8 481.55h13.9v1.5H857.8zM982.6 488h13.7v2.2H982.6zM840 513.9h36.8v1.2H840zM854.4 527h11v1.2H854.4zM865.3 531.55h2.8v1.5H865.3zM879 558.1h2.8v1.8H879zM979.9 565.3h2.8v1.2H979.9zM993.5 565.3h2.8v1.2H993.5zM999 565.3h1.1v1.2H999zM960.8 570.8h2.8v1.2H960.8zM985.3 570.8h2.8v1.2H985.3zM1053.5 505.5h5.4v1.6H1053.5zM1099.9 505.5h8.2v1.6H1099.9zM1058.8 509.2h10.2v1.2H1058.8zM1058.8 510.2h10.2v1.4H1058.8zM1080.8 511.65h2.8v1.5H1080.8zM1113.5 511.65h2.8v1.5H1113.5zM1042.6 519.65h5.5v1.5H1042.6zM1072.8 525h5.3v2.6H1072.8zM1037.1 538.8h2.8v1.2H1037.1zM1061.7 538.8h2.8v1.2H1061.7zM1072.6 538.8h2.8v1.2H1072.6zM1094.4 538.8h2.8v1.2H1094.4zM1007.1 552h2.8v1.2H1007.1zM1042.6 552h2.8v1.2H1042.6zM1053.5 552h2.8v1.2H1053.5zM1059 552h5.5v1.2H1059zM1064.4 557.9h2.8v2.2H1064.4zM1080.8 557.9h16.4v2.2H1080.8zM1116.2 557.9h2.8v2.2H1116.2zM1053.5 562.05h2.8v1.3H1053.5zM1078 562.05h16.4v1.3H1078zM1000 565.3h75.3v1.2H1000zM1012.6 570.25h2.8v1.5H1012.6zM1023.5 570.25h5.5v1.5H1023.5zM1037.1 570.25h5.5v1.5H1037.1zM1067.1 570.25h13.7v1.5H1067.1zM1099.9 570.25h2.8v1.5H1099.9zM1108 570.25h11v1.5H1108zM1015.3 574.2h5.5v1.2H1015.3zM1059 574.2h8.2v1.2H1059zM1113.5 574.2h6.3v1.2H1113.5zM298.1 583.5h11v1.2H298.1zM238.7 614.3h40v2.8H238.7zM208.9 619h8.2v1.8H208.9zM247 627.95h34.2v1.3H247zM236.2 650.1h2.5v1H236.2zM213.6 653.9h21.9v1.2H213.6zM240.8 653.9h8.2v1.2H240.8zM270.8 653.9h2.8v1.2H270.8zM273.6 665.8h31.7v2H273.6zM483.4 612h16.6v1H483.4zM581.3 626.55h88.7v1.3H581.3zM812 584.15h19v1.1H812zM816.2 595.7h2.8v2H816.2zM824.4 595.7h2.8v2H824.4zM843.5 595.7h5.5v2H843.5zM775.3 615.2h2.8v1.8H775.3zM859.9 615.2h5.5v1.8H859.9zM868.1 615.2h1.4v1.8H868.1zM808.1 637.1h13.7v3H808.1zM824.4 637.1h5.5v3H824.4zM832.6 637.1h6.4v3H832.6zM857.1 637.1h12.9v3H857.1zM885 678.75h48.5v1.1H885zM985.9 678.75h133.9v1.1H985.9zM890.3 583.75h41.7v1.1H890.3zM969 589.1h11v1.2H969zM870 595.5h17.8v2.6H870zM1002 595.5h28v2.6H1002zM1012.6 604.9h16.4v2H1012.6zM870 627.95h21.6v1.1H870zM958 636.85h5.5v1.5H958zM1015.3 638.25h5.5v2.5H1015.3zM974.4 646.7h2.8v2.2H974.4zM870 653.9h43v1.2H870zM1012.6 653.9h8.2v1.2H1012.6zM986 665.7h33.5v2.2H986zM1030 583.75h8.5v1.1H1030zM1103.2 583.75h16.6v1.1H1103.2zM1086.2 595.4h5.5v2.8H1086.2zM1030 604.9h15.4v2H1030zM1048 604.9h11v2H1048zM1031.7 638.3h2.8v2.4H1031.7zM1039.9 638.3h14v2.4H1039.9zM1069.9 653.95h8.2v1.1H1069.9zM1116.2 653.95h3.6v1.1H1116.2z"/>
<path fill="#ffff18" d="M355 361.1h563v2H355z"/>
<path fill="#ffff22" d="M648.5 349h156.5v1.2H648.5zM852 349h267.8v1.2H852zM214 447.9h76v1.2H214zM488.8 437.85h31.2v1.1H488.8zM483 452.7h37v1.2H483zM497 466.05h23v1.3H497zM414.6 468.7h25.4v2.2H414.6zM546 426.5h38v2.4H546zM520 437.85h87.6v1.1H520zM676 437.85h4v1.1H676zM629.8 439.2h10.8v1H629.8zM553.6 447.9h41.3v1.2H553.6zM527 456.7h15.8v1.2H527zM607.6 462.8h24.1v1.2H607.6zM548 468.7h36v2.2H548zM831 401.1h9v1H831zM789.8 412.15h50.2v1.1H789.8zM680 437.85h21v1.1H680zM781.5 437.85h58.5v1.1H781.5zM837.4 443.9h2.6v1.2H837.4zM680 456.7h67.3v1.2H680zM680 476.05h7v1.3H680zM840 401.05h78v1.1H840zM840 437.85h57v1.1H840zM840 443.9h29.2v1.2H840zM986 462.8h14v1.2H986zM895.8 476.05h6.4v1.3H895.8zM842 477.75h5v1.3H842zM1058.8 456.7h61v1.2H1058.8zM1000 462.8h20.8v1.2H1000zM1070.3 464.1h2.7v1.8H1070.3zM1051.2 468.7h12.7v2.2H1051.2zM208.1 481.4h8.9v1.8H208.1zM344.5 495.85h5.5v1.3H344.5zM355.4 495.85h4.7v1.3H355.4zM328.2 506.3h6.3v2H328.2zM342 511.3h7.7v2.2H342zM243 513.9h4v1.2H243zM232.6 515.8h2.8v2H232.6zM240.6 515.8h3.2v2H240.6zM273.6 521h7.7v1.6H273.6zM235.4 522.6h5.5v1.6H235.4zM319.9 529.4h7.1v2.6H319.9zM208.1 532.3h2.8v2H208.1zM279 548.1h2.8v2.8H279zM300.8 548.1h2.8v2.8H300.8zM317.2 561.8h2.8v3.2H317.2zM322.6 561.8h5.5v3.2H322.6zM208.1 570.8h17.3v1.2H208.1zM494.5 484.95h17.8v1.5H494.5zM487 487.8h24v2.2H487zM360 545.8h36.8v1.2H360zM453.5 548.5h5.5v3H453.5zM519 548.5h1.1v3H519zM516 561.95h4v1.5H516zM647.2 482.8h8.2v2H647.2zM660.8 485.55h5.5v1.5H660.8zM648.8 524.1h14.6v1.2H648.8zM617.2 548.5h2.8v3H617.2zM520 561.95h12.7v1.1H520zM771.4 494.9h8.9v1.2H771.4zM695.2 519.65h14v1.5H695.2zM732.7 519.65h12v1.5H732.7zM735.8 523.65h15.9v1.5H735.8zM680 527h2v1.2H680zM732.7 527h4.5v1.2H732.7zM739.9 527h5.5v1.2H739.9zM748.1 527h5.5v1.2H748.1zM767.2 527h2.8v1.2H767.2zM783.5 527h8.2v1.2H783.5zM797.1 527h11v1.2H797.1zM816.2 527h2.8v1.2H816.2zM827.1 527h12.9v1.2H827.1zM680 548.5h8.1v3H680zM693.5 548.5h2.8v3H693.5zM701.7 548.5h5.5v3H701.7zM767.2 548.5h11v3H767.2zM810.8 548.5h8.2v3H810.8zM821.7 548.5h16.4v3H821.7zM680 570.8h64v1.2H680zM889.9 488h2.8v2.2H889.9zM898.1 488h2.8v2.2H898.1zM911.7 488h11v2.2H911.7zM925.3 488h5.5v2.2H925.3zM939 488h2.8v2.2H939zM949.9 488h11v2.2H949.9zM969 488h8.2v2.2H969zM979.9 488h2.8v2.2H979.9zM996.2 488h3.8v2.2H996.2zM849 519.65h11v1.5H849zM862.6 519.65h2.8v1.5H862.6zM997.4 519.65h2.6v1.5H997.4zM840 527h14.5v1.2H840zM868.1 527h11v1.2H868.1zM873.5 531.55h3.3v1.5H873.5zM873.5 548.5h8.2v3H873.5zM887.1 548.5h5.5v3H887.1zM854.4 558.1h16.4v1.8H854.4zM881.7 558.1h5.5v1.8H881.7zM928.1 558.1h2.8v1.8H928.1zM974.4 565.3h2.8v1.2H974.4zM982.6 565.3h2.8v1.2H982.6zM955.3 570.8h5.5v1.2H955.3zM1117 481.55h2.8v1.5H1117zM1041 505.5h1.6v1.6H1041zM1079 505.5h10v1.6H1079zM1097.1 505.5h2.8v1.6H1097.1zM1102.6 511.65h2.8v1.5H1102.6zM1116.2 511.65h3.6v1.5H1116.2zM1097.1 515.9h2.8v2.2H1097.1zM1113.5 515.9h2.8v2.2H1113.5zM1008 519.65h1.9v1.5H1008zM1029 519.65h5.5v1.5H1029zM1037.1 519.65h5.5v1.5H1037.1zM1048 519.65h.7v1.5H1048zM1086.2 525h2.8v2.6H1086.2zM1091.7 525h16.4v2.6H1091.7zM1064 531.55h27.8v1.5H1064zM1032 538.8h2.5v1.2H1032zM1042.6 538.8h5.5v1.2H1042.6zM1050.8 538.8h11v1.2H1050.8zM1069.9 538.8h2.8v1.2H1069.9zM1080.8 538.8h8.2v1.2H1080.8zM1097.1 538.8h9.9v1.2H1097.1zM1000 552h1.7v1.2H1000zM1004.4 552h2.8v1.2H1004.4zM1012.6 552h16.4v1.2H1012.6zM1039.9 552h2.8v1.2H1039.9zM1045.3 552h8.2v1.2H1045.3zM1064.4 552h2.8v1.2H1064.4zM1072.6 557.9h8.2v2.2H1072.6zM1097.1 557.9h2.8v2.2H1097.1zM1020.8 562.05h13.7v1.3H1020.8zM1045.3 562.05h5.5v1.3H1045.3zM1069.9 562.05h5.5v1.3H1069.9zM1094.4 562.05h11v1.3H1094.4zM1110.8 562.05h2.8v1.3H1110.8zM1116.2 562.05h3.6v1.3H1116.2zM1007.1 570.25h5.5v1.5H1007.1zM1029 570.25h5.5v1.5H1029zM1086.2 574.2h19.1v1.2H1086.2zM1110.8 574.2h2.8v1.2H1110.8zM319.9 583.5h7.1v1.2H319.9zM276.8 589.9h5.1v2.8H276.8zM311.7 595.9h5.1v2.2H311.7zM305.3 665.8h54.7v2H305.3zM415 614.4h82.4v2.6H415zM360 665.8h49.8v2H360zM500 611.75h2v1.1H500zM510 615.3h77v1.6H510zM500 673.05h170v1.1H500zM670 589.65h57.6v1.1H670zM812 595.7h1.6v2H812zM819 595.7h5.5v2H819zM827.1 595.7h11v2H827.1zM854.4 595.7h8.2v2H854.4zM865.3 595.7h4.7v2H865.3zM762.8 599.5h24.7v1H762.8zM736 615.2h9.4v1.8H736zM753.5 615.2h21.9v1.8H753.5zM778.1 615.2h46.4v1.8H778.1zM857.1 615.2h2.8v1.8H857.1zM799 637.1h3.7v3H799zM829.9 637.1h2.8v3H829.9zM849 637.1h8.2v3H849zM944.4 589.1h2.8v1.2H944.4zM949.9 589.1h5.5v1.2H949.9zM982.6 595.5h5.5v2.6H982.6zM993.5 595.5h8.5v2.6H993.5zM885.2 600h2v3H885.2zM889.9 600h2.8v3H889.9zM895.3 600h3.9v3H895.3zM1001.7 604.9h5.5v2H1001.7zM933.5 636.85h16.4v1.5H933.5zM963.5 636.85h2.8v1.5H963.5zM969 636.85h2.8v1.5H969zM870 638.25h7.6v2.5H870zM1001.7 638.25h2.8v2.5H1001.7zM1020.8 638.25h9.3v2.5H1020.8zM939.8 646.7h7.4v2.2H939.8zM994.4 646.7h2.6v2.2H994.4zM1004 653.9h3.2v1.2H1004zM1020.8 653.9h5.5v1.2H1020.8zM937.3 660.8h75.5v2H937.3zM1030 595.4h7.3v2.8H1030zM1042.6 595.4h5.5v2.8H1042.6zM1056.2 595.4h11v2.8H1056.2zM1099.9 595.4h19.9v2.8H1099.9zM1059 604.9h19.1v2H1059zM1030 638.3h1.7v2.4H1030zM1034.4 638.3h5.5v2.4H1034.4zM1030 653.95h4.5v1.1H1030zM1042.6 653.95h27.3v1.1H1042.6zM1088.9 653.95h19.1v1.1H1088.9zM1113.5 653.95h2.8v1.1H1113.5z"/>
<path fill="#ffff36" d="M823 322.55h296.8v1.3H823zM483 349h74v1.2H483zM1057 373.9h54v1.2H1057zM344.7 468.8h8.3v2H344.7zM483 468.7h37v2.2H483zM615.8 431.9h19v2H615.8zM520 468.7h20.3v2.2H520zM641.2 468.7h2.5v2.2H641.2zM1000 424.8h23.3v1.2H1000zM1020.8 476.05h6.2v1.3H1020.8zM309 488h14v1.8H309zM335.8 488h6v1.8H335.8zM352.6 495.85h2.8v1.3H352.6zM346 498.25h1.2v1.5H346zM219 515.8h13.7v2H219zM249 519.4h1v1.6H249zM227.2 521h13.7v1.6H227.2zM250 521h1.8v1.6H250zM232.6 522.6h2.8v1.6H232.6zM262.6 522.6h2.8v1.6H262.6zM224.5 532.3h8.2v2H224.5zM276.3 532.3h2.8v2H276.3zM298.1 534.7h13.7v2.2H298.1zM208.1 536.95h5.5v1.5H208.1zM229.9 536.95h8.1v1.5H229.9zM255.8 548.1h12.3v2.8H255.8zM311.7 548.1h15.3v2.8H311.7zM208.1 556.7h29.9v2H208.1zM319.9 561.8h2.8v3.2H319.9zM347.2 561.8h8.2v3.2H347.2zM497.2 481h5.5v3H497.2zM363.8 487.8h33v2.2H363.8zM442.6 503.95h5.5v1.5H442.6zM436 507h15.4v1.8H436zM407.2 548.5h2.8v3H407.2zM418.1 548.5h13.7v3H418.1zM447.6 548.5h.5v3H447.6zM467.2 548.5h5.5v3H467.2zM494.4 548.5h2.8v3H494.4zM508.1 548.5h11v3H508.1zM390.5 561.95h16.5v1.5H390.5zM520 487.9h3.8v2H520zM587.3 513.9h19v1.2H587.3zM534 548.5h1.4v3H534zM546.3 548.5h5.5v3H546.3zM581.7 548.5h24.6v3H581.7zM625.3 548.5h5.5v3H625.3zM636.3 548.5h16.4v3H636.3zM660.8 548.5h2.8v3H660.8zM674.4 548.5h5.5v3H674.4zM584 558.1h96v1.8H584zM682.6 480.3h2.8v2.4H682.6zM737.2 527h2.8v1.2H737.2zM745.3 527h2.8v1.2H745.3zM764.4 527h2.8v1.2H764.4zM769.9 527h13.7v1.2H769.9zM808.1 527h2.8v1.2H808.1zM819 527h8.2v1.2H819zM734.4 532.1h5.5v2.8H734.4zM786.2 532.1h8.2v2.8H786.2zM799.9 532.1h5.5v2.8H799.9zM810.8 532.1h2.8v2.8H810.8zM728.2 538.75h7.6v1.3H728.2zM696.2 548.5h5.5v3H696.2zM723.5 548.5h11v3H723.5zM745.3 548.5h2.8v3H745.3zM753.5 548.5h11v3H753.5zM778.1 548.5h16.4v3H778.1zM797.1 548.5h2.2v3H797.1zM680 558.1h29.2v1.8H680zM716.8 558.1h19v1.8H716.8zM744 558.1h96v1.8H744zM875.5 506.6h3.8v2.2H875.5zM865.3 519.65h20.4v1.5H865.3zM865.3 527h2.8v1.2H865.3zM879 527h4.1v1.2H879zM840 531.55h6.3v1.5H840zM851.7 531.55h13.7v1.5H851.7zM840 548.5h10v3H840zM871.7 548.5h1.9v3H871.7zM881.7 548.5h5.5v3H881.7zM900.8 548.5h1.3v3H900.8zM840 558.1h14.5v1.8H840zM876.2 558.1h2.8v1.8H876.2zM919.9 558.1h8.2v1.8H919.9zM840 574.1h15.2v1.2H840zM1088.9 505.5h8.2v1.6H1088.9zM1079 507.1h1.8v1.6H1079zM1097.1 511.65h5.5v1.5H1097.1zM1009.9 519.65h2.8v1.5H1009.9zM1015.3 519.65h11v1.5H1015.3zM1034.4 519.65h2.8v1.5H1034.4zM1053.8 525h3.8v2.6H1053.8zM1078 525h5.5v2.6H1078zM1034.4 538.8h2.8v1.2H1034.4zM1039.9 538.8h2.8v1.2H1039.9zM1048 538.8h2.8v1.2H1048zM1064.4 538.8h5.5v1.2H1064.4zM1075.3 538.8h5.5v1.2H1075.3zM1088.9 538.8h5.5v1.2H1088.9zM1001.7 552h2.8v1.2H1001.7zM1009.9 552h2.8v1.2H1009.9zM1029 552h11v1.2H1029zM1056.2 552h2.8v1.2H1056.2zM1067.1 552h1.9v1.2H1067.1zM1069.9 557.9h2.8v2.2H1069.9zM1000 570.25h7.2v1.5H1000zM1015.3 570.25h2.8v1.5H1015.3zM1045.3 570.25h5.5v1.5H1045.3zM1086.2 570.25h8.2v1.5H1086.2zM1102.6 570.25h2.8v1.5H1102.6zM1118.9 570.25h.9v1.5H1118.9zM1105.3 574.2h2.8v1.2H1105.3zM316.8 595.9h3.2v2.2H316.8zM288.8 614.3h35.6v2.8H288.8zM248.9 613.1h22.1v1H248.9zM243.8 672.65h116.2v1.1H243.8zM553.7 595.7h40.9v2H553.7zM813.5 595.7h2.8v2H813.5zM838.1 595.7h5.5v2H838.1zM849 595.7h5.5v2H849zM862.6 595.7h2.8v2H862.6zM745.3 615.2h8.2v1.8H745.3zM824.4 615.2h32.8v1.8H824.4zM865.3 615.2h2.8v1.8H865.3zM1008.3 583.75h21.7v1.1H1008.3zM947.1 589.1h2.8v1.2H947.1zM966.4 595.5h5.3v2.6H966.4zM887.1 600h2.8v3H887.1zM892.6 600h2.8v3H892.6zM983 604.9h18.7v2H983zM1007.1 604.9h5.5v2H1007.1zM1029 604.9h1.1v2H1029zM971.7 636.85h6.3v1.5H971.7zM1004.4 638.25h11v2.5H1004.4zM947.1 646.7h27.3v2.2H947.1zM1007.1 653.9h5.5v1.2H1007.1zM1026.2 653.9h3.8v1.2H1026.2zM1048 595.4h8.2v2.8H1048zM1067.1 595.4h19.1v2.8H1067.1zM1091.7 595.4h8.2v2.8H1091.7zM1045.3 604.9h2.8v2H1045.3zM1078 604.9h2.8v2H1078zM1034.4 653.95h8.2v1.1H1034.4zM1078 653.95h11v1.1H1078zM1108 653.95h5.5v1.1H1108z"/>
<path fill="#ffff4a" d="M347.2 498.25h2.8v1.5H347.2zM355.4 498.25h2.8v1.5H355.4zM246.3 519.4h2.8v1.6H246.3zM210.8 521h2.8v1.6H210.8zM216.3 521h8.2v1.6H216.3zM210.8 522.6h2.8v1.6H210.8zM246.3 532.3h2.8v2H246.3zM281.7 532.3h2.8v2H281.7zM322.6 534.7h4.4v2.2H322.6zM268.1 548.1h2.8v2.8H268.1zM306.3 548.1h5.5v2.8H306.3zM491.7 481h2.8v3H491.7zM429 503.95h5.5v1.5H429zM448.1 548.5h5.5v3H448.1zM459 548.5h8.2v3H459zM472.6 548.5h8.2v3H472.6zM483.5 548.5h5.5v3H483.5zM535.4 548.5h5.5v3H535.4zM551.7 548.5h11v3H551.7zM573.5 548.5h2.8v3H573.5zM606.3 548.5h11v3H606.3zM619.9 548.5h5.5v3H619.9zM652.6 548.5h2.8v3H652.6zM663.5 548.5h2.8v3H663.5zM739.9 532.1h11v2.8H739.9zM805.3 532.1h5.5v2.8H805.3zM688.1 548.5h5.5v3H688.1zM707.2 548.5h2.8v3H707.2zM718.1 548.5h5.5v3H718.1zM734.4 548.5h2.8v3H734.4zM742.6 548.5h2.8v3H742.6zM748.1 548.5h5.5v3H748.1zM764.4 548.5h2.8v3H764.4zM794.4 548.5h2.8v3H794.4zM840 519.65h.8v1.5H840zM859.9 519.65h2.8v1.5H859.9zM892.6 548.5h8.2v3H892.6zM870.8 558.1h5.5v1.8H870.8zM887.1 558.1h1.1v1.8H887.1zM1048 505.5h5.5v1.6H1048zM1102.6 510.2h2.8v1.4H1102.6zM1108 510.2h2.8v1.4H1108zM1072.6 511.65h2.8v1.5H1072.6zM1105.3 511.65h2.8v1.5H1105.3zM1012.6 519.65h2.8v1.5H1012.6zM1026.2 519.65h2.8v1.5H1026.2zM1059 570.25h8.2v1.5H1059zM1105.3 570.25h2.8v1.5H1105.3zM960.8 589.1h2.8v1.2H960.8zM979.9 589.1h.6v1.2H979.9zM977.1 595.5h2.8v2.6H977.1zM988 595.5h2.8v2.6H988zM906.2 638.25h8.2v2.5H906.2zM977.1 646.7h.8v2.2H977.1z"/>
<path fill="#ffff5e" d="M352.6 498.25h2.8v1.5H352.6zM208.1 522.6h2.8v1.6H208.1zM227.2 524.3h9.1v2.8H227.2zM295.4 532.3h5.5v2H295.4zM287.2 534.7h5.5v2.2H287.2zM289.9 548.1h2.8v2.8H289.9zM298.1 548.1h2.8v2.8H298.1zM303.5 548.1h2.8v2.8H303.5zM341.7 561.8h2.8v3.2H341.7zM422.2 503.95h1.4v1.5H422.2zM401.9 548.5h5.3v3H401.9zM409.9 548.5h8.2v3H409.9zM431.7 548.5h4.3v3H431.7zM480.8 548.5h2.8v3H480.8zM489 548.5h5.5v3H489zM497.2 548.5h11v3H497.2zM540.8 548.5h5.5v3H540.8zM562.6 548.5h11v3H562.6zM576.3 548.5h5.5v3H576.3zM630.8 548.5h5.5v3H630.8zM655.3 548.5h5.5v3H655.3zM666.2 548.5h8.2v3H666.2zM732.7 532.1h1.8v2.8H732.7zM797.1 532.1h2.8v2.8H797.1zM709.9 548.5h8.2v3H709.9zM737.2 548.5h5.5v3H737.2zM846.2 531.55h5.5v1.5H846.2zM868.1 531.55h5.5v1.5H868.1zM907.3 558.1h12.6v1.8H907.3zM930.8 558.1h5.5v1.8H930.8zM1042.6 505.5h2.8v1.6H1042.6zM1041 507.1h1.6v1.6H1041zM1108 507.1h11.8v1.6H1108zM1105.3 510.2h2.8v1.4H1105.3zM1078 511.65h2.8v1.5H1078zM1091.7 511.65h2.8v1.5H1091.7zM1056.2 557.9h8.2v2.2H1056.2zM1067.1 557.9h2.8v2.2H1067.1zM1113.5 557.9h2.8v2.2H1113.5zM963.5 589.1h5.5v1.2H963.5zM971.7 595.5h5.5v2.6H971.7zM979.9 595.5h2.8v2.6H979.9zM990.8 595.5h2.8v2.6H990.8zM884.4 638.25h8.2v2.5H884.4zM914.4 638.25h2.8v2.5H914.4zM919.9 638.25h5.5v2.5H919.9z"/>
<path fill="#ffff68" d="M208.1 349h237.9v1.2H208.1zM483 417.95h37v2.1H483zM360 437.85h50v1.1H360zM401.9 447.9h57.1v1.2H401.9zM546 412.15h48.9v1.1H546zM875.5 424.8h124.5v1.2H875.5zM1015.7 412.15h104.1v1.1H1015.7zM483 507h11.5v1.8H483zM483 558.1h7.7v1.8H483zM537.8 570.8h142.2v1.2H537.8zM1032 515.9h19v2.2H1032zM324.4 614.3h35.6v2.8H324.4zM360 672.65h140v1.1H360zM1004.5 600h25.5v3H1004.5zM975.3 638.25h26.4v2.5H975.3z"/>
<path fill="#ffff72" d="M208.1 187.9h911.7v2H208.1zM208.1 521h2.8v1.6H208.1zM224.5 521h2.8v1.6H224.5zM210.8 532.3h2.8v2H210.8zM219 532.3h2.8v2H219zM238.1 532.3h8.2v2H238.1zM262.6 532.3h5.5v2H262.6zM753.5 532.1h2.8v2.8H753.5zM761.2 532.1h.5v2.8H761.2zM778.1 532.1h2.8v2.8H778.1zM781.5 532.1h2.1v2.8H781.5zM794.4 532.1h2.8v2.8H794.4zM813.5 532.1h11v2.8H813.5zM827.1 532.1h8.2v2.8H827.1zM840.8 519.65h8.2v1.5H840.8zM857.1 533.55h5.5v1.5H857.1zM873.5 533.55h2.8v1.5H873.5zM904.7 561.6h26.1v3H904.7zM1116.2 505.5h3.6v1.6H1116.2zM1102.6 507.1h5.5v1.6H1102.6zM1084 510.2h5v1.4H1084zM895.3 595.5h5.5v2.6H895.3zM903.5 595.5h2.8v2.6H903.5zM914.4 595.5h2.8v2.6H914.4zM937.3 595.5h4.4v2.6H937.3zM963.5 595.5h2.8v2.6H963.5zM985.3 600h11v3H985.3zM900.8 638.25h2.8v2.5H900.8zM917.1 638.25h2.8v2.5H917.1zM925.3 638.25h8.2v2.5H925.3zM1048 600.7h11v2.4H1048zM1080.8 600.7h2.8v2.4H1080.8z"/>
<path fill="#ffff87" d="M255.2 388.85h104.8v2.1H255.2zM290 437.85h70v1.1H290zM335.8 462.75h24.2v1.3H335.8zM483 412.15h37v1.1H483zM453 459.9h9.2v1.8H453zM235.4 519.4h2.8v1.6H235.4zM232.6 532.3h5.5v2H232.6zM483 481h8.8v3H483zM360 494.9h3.8v1.2H360zM360 548.5h19v3H360zM423.5 558.1h46.3v1.8H423.5zM520 513.9h28v1.2H520zM750.8 532.1h2.8v2.8H750.8zM756.2 532.1h5v2.8H756.2zM780.8 532.1h.8v2.8H780.8zM783.5 532.1h2.8v2.8H783.5zM835.3 532.1h4.7v2.8H835.3zM840.8 533.55h2.8v1.5H840.8zM1108 505.5h2.8v1.6H1108zM1080.8 507.1h5.5v1.6H1080.8zM1094.4 507.1h8.2v1.6H1094.4zM1088.9 510.2h11v1.4H1088.9zM278.7 614.3h10.1v2.8H278.7zM208.1 627.95h38.9v1.3H208.1zM670 673.05h61v1.1H670zM887.8 595.5h7.6v2.6H887.8zM917.1 595.5h1.1v2.6H917.1zM941.7 595.5h16.4v2.6H941.7zM983 600h2.4v3H983zM943 607.9h24v1.8H943zM870 614.9h17.8v1.8H870zM879 638.25h5.5v2.5H879zM903.5 638.25h2.8v2.5H903.5zM901.7 650.75h32.3v1.3H901.7zM1037.3 595.4h5v2.8H1037.3zM1031.7 600.7h16.4v2.4H1031.7zM1061.7 600.7h11v2.4H1061.7zM1075.3 600.7h2.8v2.4H1075.3z"/>
<path fill="#ffff9b" d="M309 361.1h44v2H309zM208.1 388.85h5.6v2.1H208.1zM248.2 417.9h111.8v2.2H248.2zM259.6 456.65h100.4v1.3H259.6zM360 388.85h3.8v2.1H360zM414.6 412.15h19v1.1H414.6zM360 417.95h93v2.1H360zM456.5 417.95h26.5v2.1H456.5zM440 475.75h69.7v1.3H440zM520 417.95h22.8v2.1H520zM594.9 445.3h11.4v4H594.9zM542.8 456.7h53.2v1.2H542.8zM921.2 456.7h15.8v1.2H921.2zM1039.8 456.7h19v1.2H1039.8zM240.8 521h2.8v1.6H240.8zM227.2 522.6h2.8v1.6H227.2zM216.3 532.3h2.8v2H216.3zM268.1 532.3h8v2H268.1zM352.3 548.1h7.7v2.8H352.3zM276 552.4h35.7v1.2H276zM360 487.8h3.8v2.2H360zM511 487.8h9v2.2H511zM483 513.9h37v1.2H483zM436 548.5h11.6v3H436zM401.9 558.1h17.7v1.8H401.9zM407 561.95h11.4v1.5H407zM520 482.8h5v2H520zM520 538.75h128.8v1.3H520zM520 548.5h14v3H520zM523.8 558.1h24.2v1.8H523.8zM781.5 488h14v2.2H781.5zM761.7 532.1h16.4v2.8H761.7zM824.4 532.1h2.8v2.8H824.4zM760 570.8h35.5v1.2H760zM758.7 573.85h81.3v1.3H758.7zM843.5 533.55h2.8v1.5H843.5zM862.6 533.55h11v1.5H862.6zM888.2 558.1h13.8v1.8H888.2zM1110.8 505.5h5.5v1.6H1110.8zM1010.6 507.1h5.1v1.6H1010.6zM1086.2 507.1h8.2v1.6H1086.2zM1051 512.9h7.8v3.2H1051zM383 613h24v1H383zM360 614.4h23v2.6H360zM497.4 614.4h2.6v2.6H497.4zM500 615.3h10v1.6H500zM793.2 607.95h67.6v1.1H793.2zM839 637.1h7.5v3H839zM731 647h139v1.8H731zM906.2 595.5h2.8v2.6H906.2zM958 595.5h5.5v2.6H958zM999 600h5.5v3H999zM877.6 638.25h1.4v2.5H877.6zM892.6 638.25h8.2v2.5H892.6zM870 646.7h17.8v2.2H870zM1038.5 583.75h10.2v1.1H1038.5zM1030 600.7h1.7v2.4H1030zM1059 600.7h2.8v2.4H1059zM1072.6 600.7h2.8v2.4H1072.6zM1078 600.7h2.8v2.4H1078zM1083.5 600.7h8.2v2.4H1083.5zM1032 615h48.4v1.6H1032z"/>
<path fill="#ffffaf" d="M716.8 476.05h64.7v1.3H716.8zM246.3 521h3.8v1.6H246.3zM436 538.75h51v1.3H436zM846.2 533.55h5.5v1.5H846.2zM876.2 533.55h.6v1.5H876.2zM1110.8 510.2h9v1.4H1110.8zM230.5 640.2h60.9v1.2H230.5zM900.8 595.5h2.8v2.6H900.8zM909 595.5h5.5v2.6H909zM996.2 600h2.8v3H996.2zM932 653.9h72v1.2H932zM933.5 670.8h52.5v2.2H933.5z"/>
<path fill="#ffffc3" d="M208.1 519.4h27.3v1.6H208.1zM243.6 521h2.8v1.6H243.6zM251.7 532.3h5.5v2H251.7zM840 533.55h.8v1.5H840zM851.7 533.55h5.5v1.5H851.7zM1099.9 510.2h2.8v1.4H1099.9z"/>
<path fill="#ffffcd" d="M1020.8 462.8h99v1.2H1020.8zM285 561.8h26.7v3.2H285zM417.7 480.85h21v1.3H417.7zM436 527h11.6v1.2H436zM819.6 570.8h20.4v1.2H819.6zM888.2 534.05h7.8v3.5H888.2zM902 548.5h13v3H902zM1008 523.75h49.6v1.3H1008zM1107 538.8h12.8v1.2H1107zM383 614.4h32v2.6H383zM869.4 615.2h.6v1.8H869.4z"/>
<path fill="#ffffd7" d="M596 456.7h84v1.2H596zM213.6 532.3h2.8v2H213.6zM249 532.3h2.8v2H249zM257.2 532.3h5.5v2H257.2zM930.8 561.6h3.3v3H930.8zM1080.4 615h39.4v1.6H1080.4z"/>
<path fill="#ffffe1" d="M446 349h37v1.2H446zM208.1 546h151.9v1.2H208.1zM208.1 558.4h151.9v1.2H208.1zM445 565.3h75v1.2H445zM980.4 583.75h27.9v1.1H980.4zM910.6 607.9h26.7v1.8H910.6zM1001.7 626.35h28.3v1.1H1001.7zM891.6 627.95h138.4v1.1H891.6zM1030 626.35h89.8v1.1H1030z"/>
<path fill="#ffffeb" d="M520 565.3h160v1.2H520zM735.8 538.75h104.2v1.3H735.8zM840 570.8h55.8v1.2H840zM870 590.15h160v1.1H870zM1030 590.15h89.8v1.1H1030z"/>
<path fill="#ffffff" d="M208.1 132.65h911.7v1.3H208.1zM208.1 195.85h911.7v1.3H208.1zM208.1 322.55h614.9v1.3H208.1zM557 349h91.5v1.2H557zM208.1 386.7h911.7v1.2H208.1zM213.7 388.85h41.5v2.1H213.7zM208.1 412.15h151.9v1.1H208.1zM216.9 417.9h31.3v2.2H216.9zM208.1 424.85h151.9v1.1H208.1zM208.1 437.85h81.9v1.1H208.1zM208.1 450.65h151.9v1.3H208.1zM208.1 468.8h54.9v2H208.1zM216.5 475.75h47v1.3H216.5zM321.8 475.75h3.8v1.3H321.8zM328.2 475.75h7.6v1.3H328.2zM342 475.75h7.7v1.3H342zM354.8 475.75h5.2v1.3H354.8zM360 412.15h54.6v1.1H360zM433.6 412.15h49.4v1.1H433.6zM453 417.95h3.5v2.1H453zM360 424.85h160v1.1H360zM432 430.85h88v1.1H432zM410 437.85h78.8v1.1H410zM360 449.65h160v2.3H360zM360 456.7h43.8v1.2H360zM360 462.8h85v1.2H360zM434 466.05h37.7v1.3H434zM483 466.05h14v1.3H483zM440 468.7h43v2.2H440zM360 475.75h80v1.3H360zM509.7 475.75h10.3v1.3H509.7zM520 412.15h26v1.1H520zM542.8 417.95h5.2v2.1H542.8zM520 424.85h160v1.1H520zM520 430.8h160v1.2H520zM607.6 437.85h68.4v1.1H607.6zM607.6 443.75h49.4v1.1H607.6zM520 449.65h160v2.3H520zM594.9 452.75h83.7v1.3H594.9zM520 456.7h7v1.2H520zM547 462.8h35v1.2H547zM633 462.8h2.5v1.2H633zM520 466.05h7v1.3H520zM540.3 468.7h7.7v2.2H540.3zM643.7 468.7h5.1v2.2H643.7zM548 471.8h36v1.2H548zM520 475.75h19.7v1.3H520zM680 424.8h160v1.2H680zM680 430.85h7v1.1H680zM701 437.85h80.5v1.1H701zM680 449.65h160v2.3H680zM713.6 452.75h126.4v1.3H713.6zM747.3 456.7h92.7v1.2H747.3zM741 462.8h99v1.2H741zM687 476.05h29.8v1.3H687zM840 424.8h35.5v1.2H840zM840 449.65h160v2.3H840zM840 452.75h84v1.3H840zM840 456.7h81.2v1.2H840zM840 462.8h146v1.2H840zM871.7 476.05h24.1v1.3H871.7zM1023.3 424.8h96.5v1.2H1023.3zM1039.8 430.85h33.2v1.1H1039.8zM1004.9 437.85h22.1v1.1H1004.9zM1000 449.65h119.8v2.3H1000zM1063.9 468.7h55.9v2.2H1063.9zM1001.7 476.05h19.1v1.3H1001.7zM1027 476.05h11.5v1.3H1027zM1072.8 476.05h47v1.3H1072.8zM328 481.4h32v1.8H328zM263.5 486.9h67.2v1H263.5zM323 488h12.8v1.8H323zM335.8 511.3h6.2v2.2H335.8zM208.1 513.9h28.7v1.2H208.1zM213.6 521h2.8v1.6H213.6zM236.2 524.3h12.7v2.8H236.2zM259.6 524.3h8.9v2.8H259.6zM208.1 527.45h76.9v1.1H208.1zM347.2 533.8h12.8v1H347.2zM254.6 534.7h26.6v2.2H254.6zM208.1 538.75h151.9v1.3H208.1zM208.1 552.4h67.9v1.2H208.1zM311.7 552.4h48.3v1.2H311.7zM238 556.7h35.6v2H238zM239.3 561.8h34.3v3.2H239.3zM208.1 565.7h151.9v1.2H208.1zM225.4 570.8h134.6v1.2H225.4zM285 572.4h7.6v2.2H285zM208.1 576h151.9v3H208.1zM360 481.55h28v1.5H360zM459 481.55h5v1.5H459zM470.4 481.55h12.6v1.5H470.4zM464 484.95h5.8v1.5H464zM512.3 485.8h7.7v1H512.3zM396.8 487.8h5.2v2.2H396.8zM363.8 494.9h36.8v1.2H363.8zM407 494.9h3.8v1.2H407zM451.4 494.9h4.4v1.2H451.4zM407 513.9h11v1.2H407zM360 533.8h15v1H360zM360 538.75h76v1.3H360zM487 538.75h33v1.3H487zM379 548.5h22.9v3H379zM360 552h160v1.2H360zM360 558.1h41.9v1.8H360zM419.6 558.1h3.9v1.8H419.6zM469.8 558.1h13.2v1.8H469.8zM490.7 558.1h29.3v1.8H490.7zM360 565.3h85v1.2H360zM360 570.8h160v1.2H360zM360 576h160v3H360zM548 482.8h16.4v2H548zM542.8 487.9h3.2v2H542.8zM535.2 490.8h7.8v1.2H535.2zM577.7 490.8h22.3v1.2H577.7zM531.4 494.9h6.4v1.2H531.4zM565 501.05h14.6v1.1H565zM548 513.9h39.3v1.2H548zM606.3 513.9h73.7v1.2H606.3zM648.8 538.75h31.2v1.3H648.8zM520 552h160v1.2H520zM520 558.1h3.8v1.8H520zM548 558.1h36v1.8H548zM520 570.8h17.8v1.2H520zM520 576h160v3H520zM795.5 488h44.5v2.2H795.5zM780.3 494.9h1.9v1.2H780.3zM801 507.05h3.4v1.5H801zM680 513.9h78v1.2H680zM789.8 513.9h3.2v1.2H789.8zM744.7 519.65h26v1.5H744.7zM682 527h50.7v1.2H682zM680 538.75h48.2v1.3H680zM680 552h160v1.2H680zM709.2 558.1h7.6v1.8H709.2zM735.8 558.1h8.2v1.8H735.8zM680 565.3h160v1.2H680zM744 570.8h16v1.2H744zM795.5 570.8h24.1v1.2H795.5zM732.7 573.85h26v1.3H732.7zM680 576h160v3H680zM840 488h17.8v2.2H840zM885.7 501.05h2.5v1.1H885.7zM996.7 509.7h3.3v1.6H996.7zM876.8 513.9h8.9v1.2H876.8zM883 527h3.3v1.2H883zM840 538.75h62v1.3H840zM890.8 545.8h11.2v1.2H890.8zM840 552h94v1.2H840zM961.8 551.8h5.2v1H961.8zM902 558.1h5.3v1.8H902zM890.8 561.95h13.9v1.1H890.8zM940.9 561.95h26.1v1.1H940.9zM934 561.6h3v3H934zM840 565.3h96.4v1.2H840zM855.2 574.1h21.6v1.2H855.2zM840 576h160v3H840zM1032 481.55h22.4v1.5H1032zM1001.7 488h6.3v2.2H1001.7zM1013 488h7.8v2.2H1013zM1010.6 505.5h5.1v1.6H1010.6zM1069 509.2h15v1.2H1069zM1102 509.2h17.8v1.2H1102zM1069 510.2h15v1.4H1069zM1032 512.9h19v3.2H1032zM1058.8 513.9h61v1.2H1058.8zM1048.7 519.65h71.1v1.5H1048.7zM1049.3 525h4.5v2.6H1049.3zM1069 552h50.8v1.2H1069zM1075.3 565.3h44.5v1.2H1075.3zM1000 576h119.8v3H1000zM208.1 589.85h68.7v1.1H208.1zM281.9 589.9h78.1v2.8H281.9zM208.1 595.9h66.1v2.2H208.1zM279.3 595h2.6v1H279.3zM285 598.95h2.6v1.3H285zM208.1 603.9h73.8v3.2H208.1zM285 603.9h75v3.2H285zM281.2 627.95h78.8v1.3H281.2zM208.1 640.2h22.4v1.2H208.1zM291.4 640.2h68.6v1.2H291.4zM399 589.85h101v1.1H399zM360 589.9h39v2.8H360zM360 603.25h140v1.1H360zM360 604.9h39v2H360zM360 627.95h140v1.3H360zM360 640.5h140v1.2H360zM500 589.65h170v1.1H500zM501.4 600h68.6v3H501.4zM500 603.25h170v1.1H500zM500 626.55h81.3v1.3H500zM500 640.95h170v1.1H500zM595 688.8h38v1.2H595zM727.6 589.65h142.4v1.1H727.6zM670 603.25h200v1.1H670zM774.2 607.95h13.3v1.1H774.2zM762.8 625.65h71.2v1.1H762.8zM847.5 625.65h22.5v1.1H847.5zM670 640.95h200v1.1H670zM806.5 678.75h24.8v1.1H806.5zM933.5 678.75h52.4v1.1H933.5zM932 583.75h11.6v1.1H932zM918.2 595.5h19.1v2.6H918.2zM899.2 600h83.8v3H899.2zM870 603.25h160v1.1H870zM890.3 608.25h20.3v1.1H890.3zM967 608.25h34.7v1.1H967zM887.8 614.9h142.2v1.8H887.8zM913 623.9h88.7v2.8H913zM933.5 638.25h41.8v2.5H933.5zM870 640.95h160v1.1H870zM887.8 646.7h52v2.2H887.8zM913 653.9h19v1.2H913zM933.5 665.7h52.5v2.2H933.5zM933.5 674.95h52.5v1.1H933.5zM1048.7 583.75h54.5v1.1H1048.7zM1091.8 600.7h28v2.4H1091.8zM1030 603.25h89.8v1.1H1030zM1030 615h2v1.6H1030zM1038.5 627.95h17.8v1.1H1038.5zM1080.4 627.95h39.4v1.1H1080.4zM1030 640.95h89.8v1.1H1030z"/>
</g>
<polyline clip-path="url(#hm)" fill="none" stroke="#4c72b0" stroke-width="1.6" stroke-linejoin="round" points="208.2,502.2 209.2,506.5 210.2,511.1 211.1,502.7 212.1,494.0 213.0,492.1 214.0,487.6 214.9,489.1 215.9,490.8 216.8,491.1 217.8,491.4 218.7,493.3 219.7,494.6 220.6,491.7 221.6,490.8 222.8,497.8 224.1,500.0 225.4,502.2 226.3,501.3 227.3,499.7 228.6,506.6 229.5,503.1 230.5,497.8 231.4,499.7 232.4,504.1 233.6,500.3 234.9,506.7 236.2,514.3 237.1,514.3 238.1,516.8 239.3,510.5 240.6,516.2 241.9,512.7 243.1,507.3 244.2,505.1 245.3,500.4 246.3,499.0 247.6,500.5 248.9,499.0 249.9,499.2 251.0,497.0 252.0,495.2 253.3,496.2 254.6,496.5 255.5,496.1 256.5,497.8 257.7,505.4 258.4,488.2 259.6,487.7 260.9,490.2 262.2,492.5 263.5,494.6 264.7,496.4 266.0,500.9 267.3,502.9 268.5,506.6 269.5,509.0 270.4,513.0 271.7,510.6 273.0,511.1 273.9,513.8 274.9,516.8 276.1,508.6 277.1,511.5 278.0,514.9 279.3,520.1 280.6,523.1 281.5,518.4 282.5,513.6 283.4,517.5 284.4,520.6 285.7,522.2 286.9,523.8 287.9,522.7 288.8,520.6 290.1,518.1 291.1,522.4 292.0,527.0 293.0,528.2 293.9,530.8 294.9,530.7 295.8,527.6 297.1,529.4 298.4,528.2 299.4,527.6 300.5,525.5 301.5,523.1 302.6,521.7 303.6,520.6 304.7,520.6 306.0,520.6 307.2,521.9 308.2,516.8 309.0,521.2 309.8,528.2 311.0,532.7 312.3,532.2 313.6,530.1 314.5,526.3 315.5,523.1 316.8,522.3 318.0,519.3 319.1,518.2 320.1,519.0 321.2,516.8 322.5,515.3 323.7,511.7 324.8,508.7 325.8,507.9 326.9,507.3 328.0,506.6 329.0,503.4 330.1,501.6 331.0,505.6 332.0,506.6 333.2,504.8 334.5,503.5 335.8,502.2 337.1,503.9 338.3,504.3 339.6,503.5 340.9,500.2 342.1,498.4 343.1,502.6 344.0,509.2 345.0,507.4 345.9,506.6 347.0,509.3 348.1,510.0 349.1,510.5 350.2,508.7 351.2,508.4 352.3,508.6 353.2,505.8 354.2,505.4 355.2,503.4 356.3,505.0 357.4,503.5 358.2,501.5 359.1,501.5 360.0,500.3 361.3,500.5 362.5,500.9 363.8,499.1 365.1,499.0 366.3,500.8 367.6,500.0 368.9,502.2 370.2,504.3 371.4,504.4 372.7,507.3 373.8,504.8 375.0,502.8 375.9,509.2 377.1,510.2 378.4,513.0 379.4,514.8 380.3,518.1 381.3,518.8 382.2,516.8 383.5,520.6 384.5,522.6 385.6,522.1 386.6,523.8 387.7,523.9 388.8,520.8 389.8,520.6 391.1,518.4 392.4,516.8 393.6,512.2 394.9,505.4 396.2,504.9 397.4,503.5 398.4,500.7 399.3,500.3 400.3,503.7 401.2,504.1 402.5,494.0 403.5,491.2 404.4,490.2 405.5,488.8 406.5,489.7 407.6,488.2 408.5,490.6 409.5,494.0 410.8,491.4 412.0,490.2 413.0,492.0 413.9,496.5 415.2,491.8 416.5,489.5 417.7,487.5 419.0,485.1 420.1,486.2 421.1,489.2 422.2,490.8 423.5,491.4 424.7,492.7 426.0,493.2 427.3,494.0 428.5,494.5 429.8,492.2 431.1,491.4 432.3,492.3 433.6,492.7 434.9,491.3 436.1,487.6 437.1,487.6 438.0,489.5 439.3,485.0 440.6,482.5 441.5,482.8 442.5,480.6 443.4,483.8 444.4,485.1 445.7,487.8 446.9,492.1 447.9,489.5 448.8,488.9 449.8,492.5 450.7,494.6 451.8,494.4 452.9,490.7 453.9,490.2 455.0,489.8 456.0,487.9 457.1,485.1 458.0,488.2 459.0,490.8 460.3,491.5 461.5,492.7 462.5,495.3 463.4,500.3 464.4,499.6 465.3,501.6 466.6,501.1 467.9,497.8 469.1,495.7 470.4,495.8 471.7,494.0 472.9,495.1 474.2,497.8 475.2,501.9 476.1,504.1 477.0,485.1 478.1,488.5 479.3,491.4 480.6,494.6 481.8,499.0 482.9,498.1 483.9,499.7 485.0,499.0 486.0,500.3 486.9,504.1 488.2,501.2 489.4,500.1 490.7,497.8 492.0,501.7 493.2,503.5 494.5,502.3 495.8,499.9 497.1,499.0 498.3,499.0 499.6,495.6 500.9,495.2 502.1,492.9 503.4,492.8 504.7,492.7 505.9,495.1 507.2,496.4 508.5,500.3 509.7,498.3 511.0,497.8 512.3,497.1 513.6,496.5 514.8,494.3 516.1,494.6 517.1,493.9 518.1,495.1 519.0,495.1 520.0,493.3 521.1,493.4 522.1,493.1 523.2,492.1 524.4,489.1 525.7,485.7 526.8,485.1 527.8,485.2 528.9,487.0 529.9,484.9 531.0,486.9 532.1,485.1 533.1,487.2 534.2,489.4 535.2,489.5 536.5,486.6 537.8,487.0 539.0,485.1 540.1,483.8 541.2,483.2 542.2,481.3 543.2,479.6 544.1,479.0 545.4,480.0 546.6,476.8 547.9,477.7 549.2,477.1 550.5,477.9 551.7,478.5 553.0,478.1 554.3,478.1 555.5,478.5 556.8,477.7 558.1,479.2 559.3,477.8 560.6,479.0 561.9,479.9 563.1,479.0 564.4,481.3 565.7,481.1 567.0,482.5 568.2,483.0 569.5,482.8 570.8,481.3 572.0,483.0 573.3,484.6 574.6,485.7 575.8,485.1 577.1,485.5 578.4,485.1 579.6,483.6 580.9,480.2 582.2,479.6 583.5,477.2 584.7,473.9 585.7,472.2 586.6,467.6 587.7,468.7 588.8,468.2 590.0,467.2 591.1,467.6 592.3,467.0 593.6,465.3 594.9,463.8 596.0,462.5 597.1,462.6 598.2,459.2 599.3,459.3 600.6,462.6 601.9,464.4 602.8,464.6 603.8,467.6 605.0,465.6 606.3,463.1 607.2,466.9 608.2,470.7 609.3,469.5 610.4,470.4 611.5,469.3 612.6,468.8 613.9,468.1 615.2,468.0 616.4,465.7 617.7,465.4 619.0,465.1 620.3,466.5 621.5,467.6 622.8,469.4 624.1,470.1 625.3,468.4 626.6,467.4 627.9,467.6 629.1,467.7 630.4,465.9 631.7,464.4 632.7,463.2 633.8,463.5 634.8,461.2 635.8,462.0 636.8,463.8 638.0,466.8 639.3,468.8 640.6,478.4 641.5,479.5 642.5,482.5 643.5,481.5 644.6,481.8 645.6,480.0 646.9,481.9 648.2,481.3 649.1,484.3 650.1,485.1 651.3,492.1 652.4,491.9 653.5,492.7 654.5,492.7 655.5,494.4 656.4,497.1 657.5,494.8 658.5,494.6 659.6,493.3 660.9,493.7 662.1,493.1 663.4,491.4 664.7,493.3 665.9,495.3 667.2,495.2 668.2,493.3 669.1,492.7 670.4,504.1 671.6,491.4 672.9,493.0 674.2,496.5 675.2,494.9 676.3,492.9 677.4,492.1 678.2,490.1 679.1,489.7 680.0,488.9 681.1,488.8 682.1,488.0 683.2,487.6 684.2,487.5 685.3,489.5 686.3,488.9 687.6,491.4 688.9,490.9 690.2,492.1 691.4,489.1 692.7,487.3 694.0,487.0 695.2,488.1 696.5,485.6 697.8,487.0 698.7,491.1 699.7,494.0 700.6,492.0 701.6,489.5 702.5,485.1 703.5,481.9 704.5,482.6 705.6,480.0 706.6,481.3 707.9,481.0 709.2,482.8 710.5,483.8 711.7,482.0 713.0,484.0 714.3,482.5 715.5,481.3 716.8,480.6 718.1,481.3 719.3,479.7 720.6,481.2 721.9,480.6 722.8,481.4 723.8,482.5 725.1,482.0 726.3,480.6 727.1,482.7 728.0,483.8 728.9,499.0 730.1,494.6 731.4,497.7 732.7,499.0 733.6,504.5 734.6,507.3 735.8,501.6 736.9,502.8 738.0,501.9 739.0,503.5 740.0,505.3 740.9,507.3 742.2,502.8 743.5,500.3 744.4,497.9 745.4,498.4 746.6,500.2 747.9,502.2 749.2,502.4 750.4,500.4 751.7,500.9 752.7,499.9 753.6,500.3 754.9,501.4 756.1,503.5 757.1,503.8 758.0,502.8 759.0,508.6 759.9,514.3 761.2,516.2 762.5,514.3 763.8,511.7 765.0,511.0 766.3,508.4 767.6,507.3 768.8,506.3 770.1,503.5 771.1,503.1 772.0,500.3 773.1,500.1 774.1,503.7 775.2,503.5 776.2,503.5 777.3,501.1 778.4,501.6 779.4,500.6 780.5,500.3 781.5,499.0 782.8,497.8 783.7,502.5 784.7,504.7 786.0,502.5 787.2,500.9 788.3,500.5 789.5,500.8 790.6,499.9 791.7,498.4 792.9,501.3 794.2,501.6 795.5,502.1 796.8,503.3 798.0,503.5 799.1,502.0 800.1,502.9 801.2,501.6 802.5,504.1 803.7,504.7 804.7,506.8 805.6,507.9 806.6,504.1 807.5,499.0 808.6,498.0 809.7,499.8 810.7,498.4 812.0,501.1 813.2,502.4 814.5,502.2 815.8,503.0 817.1,504.3 818.3,504.1 819.4,504.4 820.4,507.0 821.5,506.6 822.4,505.8 823.4,502.8 824.5,503.0 825.5,502.9 826.6,504.7 827.5,507.7 828.5,511.1 829.4,508.7 830.4,506.0 831.6,504.5 832.9,501.3 834.2,499.0 835.2,495.5 836.3,495.7 837.4,492.7 838.2,491.8 839.1,494.4 840.0,494.0 841.3,494.2 842.5,496.5 843.6,496.8 844.7,499.1 845.7,499.0 847.0,497.3 848.2,497.8 849.3,498.2 850.4,500.8 851.4,502.2 852.5,503.1 853.5,503.7 854.6,502.8 855.7,502.1 856.7,501.6 857.8,499.0 858.8,497.7 859.9,497.8 860.9,495.2 862.0,494.4 863.1,495.2 864.1,496.5 865.1,497.5 866.0,498.4 867.3,493.3 868.6,493.6 869.8,495.2 870.8,499.4 871.7,502.2 873.0,502.0 874.3,500.9 875.5,502.6 876.8,504.1 878.1,505.8 879.3,505.4 880.6,506.5 881.9,507.3 883.1,507.4 884.4,508.6 885.4,507.2 886.3,506.6 887.1,509.6 888.0,510.5 888.9,520.6 889.8,525.3 890.8,527.6 892.0,525.4 893.3,525.1 894.6,527.7 895.8,528.2 896.8,532.5 897.7,533.9 898.7,532.1 899.6,530.1 900.9,530.7 902.2,530.8 903.1,531.8 904.1,534.6 905.4,546.0 906.3,545.5 907.3,544.7 908.2,542.8 909.2,540.9 910.2,541.9 911.3,540.8 912.3,542.8 913.6,543.9 914.9,542.2 915.8,544.1 916.8,546.0 918.0,539.6 919.3,537.8 920.6,536.5 921.9,540.2 923.1,542.2 924.4,540.8 925.7,539.0 926.9,540.3 928.2,541.5 929.5,540.9 930.7,539.0 931.8,538.8 932.9,541.2 933.9,542.2 934.9,544.5 935.8,547.3 937.1,554.9 938.4,558.0 939.2,564.4 940.1,559.7 940.9,552.3 942.2,553.3 943.4,551.7 944.4,552.6 945.3,554.9 946.6,551.0 947.9,547.3 949.1,543.9 950.4,542.8 951.4,541.7 952.3,540.9 953.6,537.1 954.8,531.4 956.1,533.9 957.4,533.9 958.4,533.7 959.5,533.0 960.6,533.3 961.6,533.6 962.7,536.2 963.7,537.1 965.0,540.6 966.3,541.5 967.5,542.7 968.8,546.0 970.1,544.0 971.3,540.3 972.4,540.3 973.5,542.3 974.5,544.7 975.5,540.4 976.4,537.7 977.4,535.8 978.3,532.7 979.3,531.8 980.2,532.0 981.2,527.5 982.1,523.8 983.2,525.6 984.2,525.6 985.3,528.2 986.6,527.3 987.8,525.1 989.1,525.2 990.4,527.6 991.6,524.4 992.9,521.2 994.2,516.4 995.5,513.0 996.0,512.4 997.3,513.4 998.6,516.2 999.8,515.0 1001.1,513.6 1002.2,516.0 1003.2,518.7 1004.0,504.7 1004.8,500.6 1005.5,497.1 1006.8,495.9 1008.1,495.2 1009.0,493.7 1010.0,492.1 1011.2,493.9 1012.5,497.8 1013.6,500.4 1014.7,504.7 1015.5,502.6 1016.3,499.7 1017.6,499.1 1018.9,497.8 1020.1,496.9 1021.4,495.9 1022.5,494.2 1023.5,490.7 1024.6,487.6 1025.8,486.5 1027.1,483.2 1028.1,484.9 1029.0,488.2 1030.3,488.7 1031.5,487.6 1032.5,490.1 1033.5,490.8 1034.7,489.5 1036.0,485.7 1037.3,487.1 1038.5,489.5 1039.5,488.0 1040.4,487.6 1041.7,491.4 1043.0,492.7 1044.2,491.5 1045.5,492.1 1046.8,492.9 1048.0,490.8 1049.1,492.4 1050.2,490.5 1051.2,492.1 1052.2,494.1 1053.1,497.8 1053.9,493.4 1054.8,487.6 1055.5,481.8 1056.3,477.5 1057.2,474.7 1058.2,474.3 1059.1,477.2 1060.1,478.1 1061.1,480.1 1062.0,482.5 1063.1,483.0 1064.1,480.6 1065.2,481.3 1066.1,483.8 1067.1,487.0 1068.1,488.6 1069.2,487.6 1070.3,490.2 1071.3,490.1 1072.4,492.4 1073.4,492.7 1074.7,496.5 1076.0,497.8 1077.2,497.0 1078.5,493.3 1079.6,492.4 1080.6,493.8 1081.7,494.0 1082.6,499.5 1083.6,503.5 1084.8,499.7 1086.1,495.9 1087.2,495.2 1088.2,492.4 1089.3,492.1 1090.4,490.5 1091.5,490.2 1092.6,489.7 1093.7,490.8 1094.7,493.8 1095.6,496.5 1096.9,498.8 1098.2,500.9 1099.4,499.6 1100.7,497.8 1101.7,494.5 1102.6,493.3 1103.9,491.4 1105.2,491.4 1106.4,488.0 1107.7,486.3 1109.0,489.6 1110.2,490.8 1111.5,494.5 1112.8,495.2 1114.0,493.3 1115.3,488.9 1116.6,487.0 1117.8,487.6 1118.9,485.0 1120.0,485.1"/>
<g opacity="0.56">
<path d="M243.9 568.6H266.7Q268.6 568.6 268.6 570.5V603L300.1 657.5C304.8 665.5 306.4 675 302.2 681C299 685.5 295.4 686.8 290.4 686.8H220.4C215.2 686.8 211.6 685.5 208.6 681C204.4 675 206 665.5 210.7 657.5L242 603V570.5Q242 568.6 243.9 568.6Z" fill="#435762" stroke="#ffffff" stroke-width="2.4" stroke-linejoin="round"/>
<path d="M212.8 667.5L229.5 641C232 636.8 237.3 636.5 240 641.5C245 651 249.5 656.5 256.5 656.5C263 656.5 267 646.5 275 644.6C282 643.3 285.5 647.5 288 651.5L297 667.5C299.8 673 296.5 678.3 290.5 678.3H219C213 678.3 209.8 673 212.8 667.5Z" fill="#7ab6ab"/>
<path stroke="#ffffff" stroke-width="1.7" stroke-linecap="round" fill="none" d="M250.8 630.8H259.4M246.2 637.9H264M250.8 644.9H259.4M246.2 652H264M250.8 658.9H259.4M246.2 665.8H264M250.8 672.9H259.4"/>
</g>
<line x1="191.4" x2="204.9" y1="693.50" y2="693.50" stroke="#262626" stroke-width="3"/>
<line x1="1123" x2="1136.6" y1="693.50" y2="693.50" stroke="#262626" stroke-width="3"/>
<text x="1145.3" y="703.5" font-size="27.8">21.0<tspan dx="4.5">k</tspan></text>
<line x1="196.4" x2="204.9" y1="681.50" y2="681.50" stroke="#262626" stroke-width="3"/>
<line x1="1123" x2="1131.6" y1="681.50" y2="681.50" stroke="#262626" stroke-width="3"/>
<line x1="196.4" x2="204.9" y1="668.50" y2="668.50" stroke="#262626" stroke-width="3"/>
<line x1="1123" x2="1131.6" y1="668.50" y2="668.50" stroke="#262626" stroke-width="3"/>
<line x1="196.4" x2="204.9" y1="655.50" y2="655.50" stroke="#262626" stroke-width="3"/>
<line x1="1123" x2="1131.6" y1="655.50" y2="655.50" stroke="#262626" stroke-width="3"/>
<line x1="196.4" x2="204.9" y1="642.50" y2="642.50" stroke="#262626" stroke-width="3"/>
<line x1="1123" x2="1131.6" y1="642.50" y2="642.50" stroke="#262626" stroke-width="3"/>
<line x1="191.4" x2="204.9" y1="630.50" y2="630.50" stroke="#262626" stroke-width="3"/>
<line x1="1123" x2="1136.6" y1="630.50" y2="630.50" stroke="#262626" stroke-width="3"/>
<text x="1145.3" y="640.5" font-size="27.8">26.0<tspan dx="4.5">k</tspan></text>
<line x1="196.4" x2="204.9" y1="617.50" y2="617.50" stroke="#262626" stroke-width="3"/>
<line x1="1123" x2="1131.6" y1="617.50" y2="617.50" stroke="#262626" stroke-width="3"/>
<line x1="196.4" x2="204.9" y1="604.50" y2="604.50" stroke="#262626" stroke-width="3"/>
<line x1="1123" x2="1131.6" y1="604.50" y2="604.50" stroke="#262626" stroke-width="3"/>
<line x1="196.4" x2="204.9" y1="591.50" y2="591.50" stroke="#262626" stroke-width="3"/>
<line x1="1123" x2="1131.6" y1="591.50" y2="591.50" stroke="#262626" stroke-width="3"/>
<line x1="196.4" x2="204.9" y1="579.50" y2="579.50" stroke="#262626" stroke-width="3"/>
<line x1="1123" x2="1131.6" y1="579.50" y2="579.50" stroke="#262626" stroke-width="3"/>
<line x1="191.4" x2="204.9" y1="566.50" y2="566.50" stroke="#262626" stroke-width="3"/>
<line x1="1123" x2="1136.6" y1="566.50" y2="566.50" stroke="#262626" stroke-width="3"/>
<text x="1145.3" y="576.5" font-size="27.8">31.0<tspan dx="4.5">k</tspan></text>
<line x1="196.4" x2="204.9" y1="553.50" y2="553.50" stroke="#262626" stroke-width="3"/>
<line x1="1123" x2="1131.6" y1="553.50" y2="553.50" stroke="#262626" stroke-width="3"/>
<line x1="196.4" x2="204.9" y1="541.50" y2="541.50" stroke="#262626" stroke-width="3"/>
<line x1="1123" x2="1131.6" y1="541.50" y2="541.50" stroke="#262626" stroke-width="3"/>
<line x1="196.4" x2="204.9" y1="528.50" y2="528.50" stroke="#262626" stroke-width="3"/>
<line x1="1123" x2="1131.6" y1="528.50" y2="528.50" stroke="#262626" stroke-width="3"/>
<line x1="196.4" x2="204.9" y1="515.50" y2="515.50" stroke="#262626" stroke-width="3"/>
<line x1="1123" x2="1131.6" y1="515.50" y2="515.50" stroke="#262626" stroke-width="3"/>
<line x1="191.4" x2="204.9" y1="502.50" y2="502.50" stroke="#262626" stroke-width="3"/>
<line x1="1123" x2="1136.6" y1="502.50" y2="502.50" stroke="#262626" stroke-width="3"/>
<text x="1145.3" y="512.5" font-size="27.8">36.0<tspan dx="4.5">k</tspan></text>
<line x1="196.4" x2="204.9" y1="490.50" y2="490.50" stroke="#262626" stroke-width="3"/>
<line x1="1123" x2="1131.6" y1="490.50" y2="490.50" stroke="#262626" stroke-width="3"/>
<line x1="196.4" x2="204.9" y1="477.50" y2="477.50" stroke="#262626" stroke-width="3"/>
<line x1="1123" x2="1131.6" y1="477.50" y2="477.50" stroke="#262626" stroke-width="3"/>
<line x1="196.4" x2="204.9" y1="464.50" y2="464.50" stroke="#262626" stroke-width="3"/>
<line x1="1123" x2="1131.6" y1="464.50" y2="464.50" stroke="#262626" stroke-width="3"/>
<line x1="196.4" x2="204.9" y1="451.50" y2="451.50" stroke="#262626" stroke-width="3"/>
<line x1="1123" x2="1131.6" y1="451.50" y2="451.50" stroke="#262626" stroke-width="3"/>
<line x1="191.4" x2="204.9" y1="439.50" y2="439.50" stroke="#262626" stroke-width="3"/>
<line x1="1123" x2="1136.6" y1="439.50" y2="439.50" stroke="#262626" stroke-width="3"/>
<text x="1145.3" y="449.5" font-size="27.8">41.0<tspan dx="4.5">k</tspan></text>
<line x1="196.4" x2="204.9" y1="426.50" y2="426.50" stroke="#262626" stroke-width="3"/>
<line x1="1123" x2="1131.6" y1="426.50" y2="426.50" stroke="#262626" stroke-width="3"/>
<line x1="196.4" x2="204.9" y1="413.50" y2="413.50" stroke="#262626" stroke-width="3"/>
<line x1="1123" x2="1131.6" y1="413.50" y2="413.50" stroke="#262626" stroke-width="3"/>
<line x1="196.4" x2="204.9" y1="401.50" y2="401.50" stroke="#262626" stroke-width="3"/>
<line x1="1123" x2="1131.6" y1="401.50" y2="401.50" stroke="#262626" stroke-width="3"/>
<line x1="196.4" x2="204.9" y1="388.50" y2="388.50" stroke="#262626" stroke-width="3"/>
<line x1="1123" x2="1131.6" y1="388.50" y2="388.50" stroke="#262626" stroke-width="3"/>
<line x1="191.4" x2="204.9" y1="375.50" y2="375.50" stroke="#262626" stroke-width="3"/>
<line x1="1123" x2="1136.6" y1="375.50" y2="375.50" stroke="#262626" stroke-width="3"/>
<text x="1145.3" y="385.5" font-size="27.8">46.0<tspan dx="4.5">k</tspan></text>
<line x1="196.4" x2="204.9" y1="362.50" y2="362.50" stroke="#262626" stroke-width="3"/>
<line x1="1123" x2="1131.6" y1="362.50" y2="362.50" stroke="#262626" stroke-width="3"/>
<line x1="196.4" x2="204.9" y1="350.50" y2="350.50" stroke="#262626" stroke-width="3"/>
<line x1="1123" x2="1131.6" y1="350.50" y2="350.50" stroke="#262626" stroke-width="3"/>
<line x1="196.4" x2="204.9" y1="337.50" y2="337.50" stroke="#262626" stroke-width="3"/>
<line x1="1123" x2="1131.6" y1="337.50" y2="337.50" stroke="#262626" stroke-width="3"/>
<line x1="196.4" x2="204.9" y1="324.50" y2="324.50" stroke="#262626" stroke-width="3"/>
<line x1="1123" x2="1131.6" y1="324.50" y2="324.50" stroke="#262626" stroke-width="3"/>
<line x1="191.4" x2="204.9" y1="311.50" y2="311.50" stroke="#262626" stroke-width="3"/>
<line x1="1123" x2="1136.6" y1="311.50" y2="311.50" stroke="#262626" stroke-width="3"/>
<text x="1145.3" y="321.5" font-size="27.8">51.0<tspan dx="4.5">k</tspan></text>
<line x1="196.4" x2="204.9" y1="299.50" y2="299.50" stroke="#262626" stroke-width="3"/>
<line x1="1123" x2="1131.6" y1="299.50" y2="299.50" stroke="#262626" stroke-width="3"/>
<line x1="196.4" x2="204.9" y1="286.50" y2="286.50" stroke="#262626" stroke-width="3"/>
<line x1="1123" x2="1131.6" y1="286.50" y2="286.50" stroke="#262626" stroke-width="3"/>
<line x1="196.4" x2="204.9" y1="273.50" y2="273.50" stroke="#262626" stroke-width="3"/>
<line x1="1123" x2="1131.6" y1="273.50" y2="273.50" stroke="#262626" stroke-width="3"/>
<line x1="196.4" x2="204.9" y1="260.50" y2="260.50" stroke="#262626" stroke-width="3"/>
<line x1="1123" x2="1131.6" y1="260.50" y2="260.50" stroke="#262626" stroke-width="3"/>
<line x1="191.4" x2="204.9" y1="248.50" y2="248.50" stroke="#262626" stroke-width="3"/>
<line x1="1123" x2="1136.6" y1="248.50" y2="248.50" stroke="#262626" stroke-width="3"/>
<text x="1145.3" y="258.5" font-size="27.8">56.0<tspan dx="4.5">k</tspan></text>
<line x1="196.4" x2="204.9" y1="235.50" y2="235.50" stroke="#262626" stroke-width="3"/>
<line x1="1123" x2="1131.6" y1="235.50" y2="235.50" stroke="#262626" stroke-width="3"/>
<line x1="196.4" x2="204.9" y1="222.50" y2="222.50" stroke="#262626" stroke-width="3"/>
<line x1="1123" x2="1131.6" y1="222.50" y2="222.50" stroke="#262626" stroke-width="3"/>
<line x1="196.4" x2="204.9" y1="210.50" y2="210.50" stroke="#262626" stroke-width="3"/>
<line x1="1123" x2="1131.6" y1="210.50" y2="210.50" stroke="#262626" stroke-width="3"/>
<line x1="196.4" x2="204.9" y1="197.50" y2="197.50" stroke="#262626" stroke-width="3"/>
<line x1="1123" x2="1131.6" y1="197.50" y2="197.50" stroke="#262626" stroke-width="3"/>
<line x1="191.4" x2="204.9" y1="184.50" y2="184.50" stroke="#262626" stroke-width="3"/>
<line x1="1123" x2="1136.6" y1="184.50" y2="184.50" stroke="#262626" stroke-width="3"/>
<text x="1145.3" y="194.5" font-size="27.8">61.0<tspan dx="4.5">k</tspan></text>
<line x1="196.4" x2="204.9" y1="171.50" y2="171.50" stroke="#262626" stroke-width="3"/>
<line x1="1123" x2="1131.6" y1="171.50" y2="171.50" stroke="#262626" stroke-width="3"/>
<line x1="196.4" x2="204.9" y1="159.50" y2="159.50" stroke="#262626" stroke-width="3"/>
<line x1="1123" x2="1131.6" y1="159.50" y2="159.50" stroke="#262626" stroke-width="3"/>
<line x1="196.4" x2="204.9" y1="146.50" y2="146.50" stroke="#262626" stroke-width="3"/>
<line x1="1123" x2="1131.6" y1="146.50" y2="146.50" stroke="#262626" stroke-width="3"/>
<line x1="196.4" x2="204.9" y1="133.50" y2="133.50" stroke="#262626" stroke-width="3"/>
<line x1="1123" x2="1131.6" y1="133.50" y2="133.50" stroke="#262626" stroke-width="3"/>
<line x1="191.4" x2="204.9" y1="120.50" y2="120.50" stroke="#262626" stroke-width="3"/>
<line x1="1123" x2="1136.6" y1="120.50" y2="120.50" stroke="#262626" stroke-width="3"/>
<text x="1145.3" y="130.5" font-size="27.8">66.0<tspan dx="4.5">k</tspan></text>
<line x1="196.4" x2="204.9" y1="108.50" y2="108.50" stroke="#262626" stroke-width="3"/>
<line x1="1123" x2="1131.6" y1="108.50" y2="108.50" stroke="#262626" stroke-width="3"/>
<line x1="196.4" x2="204.9" y1="95.50" y2="95.50" stroke="#262626" stroke-width="3"/>
<line x1="1123" x2="1131.6" y1="95.50" y2="95.50" stroke="#262626" stroke-width="3"/>
<line x1="196.4" x2="204.9" y1="82.50" y2="82.50" stroke="#262626" stroke-width="3"/>
<line x1="1123" x2="1131.6" y1="82.50" y2="82.50" stroke="#262626" stroke-width="3"/>
<line x1="196.4" x2="204.9" y1="70.50" y2="70.50" stroke="#262626" stroke-width="3"/>
<line x1="1123" x2="1131.6" y1="70.50" y2="70.50" stroke="#262626" stroke-width="3"/>
<text transform="translate(1254.7,381.6) rotate(-90)" text-anchor="middle" font-size="30.3">Price [USDT]</text>
<line x1="244.15" x2="244.15" y1="695" y2="708.4" stroke="#262626" stroke-width="3"/>
<text x="243.6" y="739" text-anchor="middle" font-size="27.8">29</text>
<line x1="375.05" x2="375.05" y1="695" y2="708.4" stroke="#262626" stroke-width="3"/>
<text x="374.6" y="739" text-anchor="middle" font-size="27.8">31</text>
<line x1="440.50" x2="440.50" y1="695" y2="708.4" stroke="#262626" stroke-width="3"/>
<text x="440.0" y="739" text-anchor="middle" font-size="27.8">Jun</text>
<line x1="571.40" x2="571.40" y1="695" y2="708.4" stroke="#262626" stroke-width="3"/>
<text x="570.9" y="739" text-anchor="middle" font-size="27.8">03</text>
<line x1="702.30" x2="702.30" y1="695" y2="708.4" stroke="#262626" stroke-width="3"/>
<text x="701.8" y="739" text-anchor="middle" font-size="27.8">05</text>
<line x1="833.20" x2="833.20" y1="695" y2="708.4" stroke="#262626" stroke-width="3"/>
<text x="832.7" y="739" text-anchor="middle" font-size="27.8">07</text>
<line x1="964.10" x2="964.10" y1="695" y2="708.4" stroke="#262626" stroke-width="3"/>
<text x="963.6" y="739" text-anchor="middle" font-size="27.8">09</text>
<line x1="1095.00" x2="1095.00" y1="695" y2="708.4" stroke="#262626" stroke-width="3"/>
<text x="1093.2" y="739" text-anchor="middle" font-size="27.8">11</text>
<text x="663.8" y="772.6" text-anchor="middle" font-size="30.3">Date</text>
<text x="1121.6" y="770.9" text-anchor="end" font-size="27.8" letter-spacing="-0.18">2021-Jun</text>
<text x="663.8" y="30.8" text-anchor="middle" font-size="30.3">BTC_USDT</text>
<text x="228.4" y="100.9" font-size="30.3" letter-spacing="-0.1" style="fill:#848484">Material Indicators</text>
<text x="228.4" y="133.5" font-size="30.3" letter-spacing="-0.1" style="fill:#848484">@MI_Algos</text>
</svg></body></html>
